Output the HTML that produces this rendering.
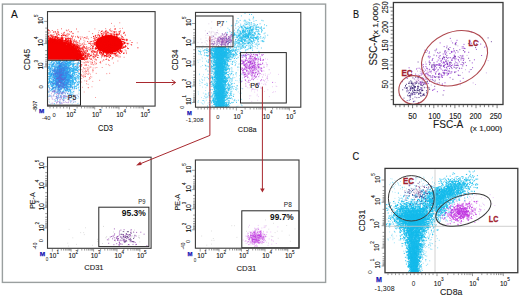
<!DOCTYPE html>
<html><head><meta charset="utf-8"><style>
html,body{margin:0;padding:0;background:#fff;width:520px;height:297px;overflow:hidden}
svg{display:block}
text{font-family:"Liberation Sans", sans-serif}
</style></head><body>
<svg width="520" height="297" viewBox="0 0 520 297">
<rect x="0" y="0" width="520" height="297" fill="#fff"/>
<rect x="2.4" y="4.1" width="323.2" height="278.3" fill="none" stroke="#9a9f9f" stroke-width="1.4"/>
<text x="11.1" y="17.8" font-size="10.7" text-anchor="start" fill="#111" textLength="6.8" lengthAdjust="spacingAndGlyphs" stroke="#111" stroke-width="0.1">A</text>
<path d="M47.5 40.5 A31 19.5 0 0 1 78.5 59.8 L47.5 59.8Z" fill="#f50000"/>
<path stroke="#f50000" stroke-opacity="0.9" stroke-width="1" fill="none" d="M67.1 41.8h1M52.1 42.5h1M58.1 42.2h1M78.4 53.1h1M73.5 52.0h1M54.0 39.9h1M55.5 42.8h1M57.2 41.8h1M72.1 46.3h1M74.2 51.7h1M74.3 52.4h1M74.4 53.1h1M69.6 48.6h1M70.3 45.8h1M68.8 44.5h1M47.7 41.3h1M57.3 42.1h1M65.5 43.6h1M48.0 41.4h1M76.0 54.0h1M76.9 55.5h1M68.8 41.1h1M77.6 59.0h1M83.7 59.0h1M70.1 45.4h1M70.8 47.1h1M51.4 41.5h1M64.2 44.3h1M67.4 47.2h1M67.9 47.6h1M75.0 53.2h1M75.7 54.8h1M65.2 39.1h1M76.1 54.4h1M74.0 49.4h1M55.3 42.4h1M76.3 55.8h1M79.2 51.4h1M54.2 38.0h1M70.6 45.3h1M56.4 37.5h1M65.0 42.9h1M61.5 39.8h1M80.3 57.3h1M68.2 45.5h1M71.6 44.8h1M53.5 41.9h1M72.7 50.2h1M64.5 45.7h1M78.4 58.5h1M77.1 47.3h1M73.2 51.3h1M75.8 56.0h1M56.8 40.6h1M73.2 49.3h1M48.5 41.7h1M66.8 44.1h1M64.2 45.6h1M66.9 41.2h1M65.6 39.9h1M76.5 55.9h1M72.4 47.3h1M75.4 53.4h1M73.3 48.4h1M76.8 57.5h1M49.2 38.6h1M74.9 54.2h1M66.8 38.9h1M77.3 50.7h1M54.1 39.7h1M63.9 42.8h1M77.1 56.4h1M55.4 40.2h1M50.3 40.2h1M52.2 40.7h1M67.7 44.4h1M78.9 55.7h1M76.3 54.7h1M51.3 39.4h1M70.3 43.4h1M77.8 54.7h1M54.4 36.7h1M64.5 43.4h1M67.1 45.0h1M72.9 49.6h1M76.8 46.4h1M78.8 52.5h1M81.0 59.0h1M53.7 40.4h1M72.4 46.2h1M68.2 45.2h1M76.1 50.3h1M58.5 43.4h1M82.9 59.4h1M76.6 48.2h1M86.4 59.1h1M80.2 56.3h1M49.0 41.6h1M62.6 44.4h1M70.4 48.8h1M67.7 46.6h1M53.3 42.1h1M76.2 49.5h1M70.2 41.3h1M61.1 44.5h1M74.3 49.8h1M67.4 47.0h1M58.1 43.0h1M52.1 40.1h1M77.9 55.7h1M50.8 40.3h1M59.4 42.0h1M58.5 37.8h1M85.2 55.1h1M75.1 46.9h1M56.0 42.3h1M65.1 43.5h1M56.9 42.7h1M67.9 46.9h1M60.4 42.7h1M75.1 53.9h1M76.9 54.3h1M74.2 49.5h1M76.6 55.0h1M73.5 50.4h1M50.2 39.1h1M65.3 46.1h1M75.4 49.9h1M74.2 52.7h1M50.0 39.6h1M70.6 48.1h1M48.4 41.0h1M68.2 46.6h1M67.2 47.1h1M52.2 42.3h1M59.2 43.0h1M67.0 44.5h1M73.5 47.3h1M54.0 39.1h1M70.4 49.4h1M51.3 40.5h1M78.0 58.2h1M72.1 47.9h1M67.5 46.9h1M49.9 40.5h1M78.4 52.2h1M57.1 41.2h1M66.2 39.2h1M61.1 42.3h1M68.0 40.7h1M48.8 42.3h1M76.2 49.9h1M72.9 48.8h1M80.1 53.5h1M79.2 58.7h1M81.7 52.8h1M51.5 41.7h1M54.6 42.9h1M80.1 56.6h1M70.3 40.3h1M72.4 45.6h1M64.8 45.6h1M62.8 44.0h1M75.1 51.2h1M49.4 40.7h1M72.1 46.4h1M63.4 45.2h1M65.2 43.1h1M75.1 55.1h1M76.3 58.5h1M78.4 45.6h1M59.2 41.4h1M55.8 42.8h1M59.5 43.5h1M77.4 56.9h1M52.0 39.7h1M56.9 41.9h1M53.6 40.5h1M71.8 43.9h1M51.8 40.0h1M78.3 58.9h1M76.2 59.4h1M75.3 53.0h1M74.0 53.4h1M76.9 54.7h1M67.1 45.1h1M77.1 59.2h1M69.3 42.0h1M79.9 54.9h1M64.7 40.7h1M74.0 51.5h1M50.3 41.8h1M67.5 46.1h1M56.8 41.0h1M62.2 44.7h1M63.9 45.6h1M75.1 54.9h1M70.2 42.2h1M76.6 59.2h1M57.4 41.0h1M49.4 40.9h1M54.2 42.2h1M78.7 58.7h1M75.4 50.0h1M74.4 51.1h1M79.5 56.7h1M66.1 42.7h1M58.0 40.3h1M77.9 50.0h1M53.7 42.4h1M56.7 42.8h1M78.9 56.2h1M59.8 40.1h1M52.9 42.1h1M76.9 54.4h1M66.2 45.4h1M66.9 41.2h1M66.1 43.6h1M75.8 57.6h1M63.9 42.8h1M65.4 43.0h1M55.4 42.8h1M56.4 42.7h1M75.5 50.4h1M60.3 43.0h1M53.6 42.1h1M52.7 41.0h1M82.5 54.6h1M65.8 41.5h1M77.9 53.6h1M69.6 43.3h1M50.4 39.2h1M75.8 48.2h1M74.7 53.1h1M74.0 45.8h1M63.6 43.4h1M81.1 56.9h1M72.4 49.6h1M78.3 56.2h1M62.7 44.0h1M55.3 42.2h1M73.5 49.3h1M75.6 48.6h1M69.9 44.4h1M79.3 53.3h1M79.4 52.1h1M74.8 50.5h1M74.0 45.7h1M76.4 58.0h1M58.8 42.9h1M66.0 45.3h1M76.4 51.0h1M77.4 58.0h1M59.3 41.2h1M81.6 55.8h1M78.2 56.2h1M76.4 56.5h1M79.8 57.7h1M52.4 39.7h1M74.9 52.6h1M82.2 48.9h1M55.7 41.2h1M64.6 44.4h1M78.9 54.3h1M70.3 48.6h1M53.6 39.5h1M73.0 49.6h1M62.2 41.4h1M84.4 56.7h1M60.2 42.9h1M59.1 40.3h1M55.5 42.4h1M62.4 43.6h1M73.9 49.4h1M79.3 58.3h1M68.5 46.3h1M59.6 41.3h1M75.5 54.9h1M76.6 52.2h1M68.3 45.6h1M59.0 42.9h1M52.2 42.3h1M87.5 55.3h1M77.8 54.6h1M58.2 39.6h1M62.7 45.0h1M59.8 43.7h1M47.7 40.4h1M50.6 40.0h1M55.8 39.5h1M57.8 42.6h1M72.8 48.9h1M64.0 43.9h1M77.0 54.8h1M58.9 42.2h1M60.3 40.1h1M60.4 43.0h1M72.9 46.9h1M76.6 47.9h1M70.6 49.0h1M82.4 59.1h1M55.6 39.8h1M70.4 43.8h1M76.6 47.6h1M68.5 44.9h1M61.8 41.0h1M73.2 49.3h1M57.0 38.5h1M51.6 39.8h1M71.3 49.9h1M76.2 56.3h1M58.1 43.4h1M47.8 41.9h1M77.5 55.8h1M60.0 44.1h1M57.1 38.8h1M52.0 37.9h1M76.6 56.7h1M79.6 57.4h1M48.1 41.9h1M79.1 56.6h1M75.2 55.3h1M67.2 44.6h1M74.6 45.9h1M60.2 40.9h1M77.3 54.5h1M51.7 40.8h1M75.1 54.1h1M61.6 36.9h1M79.1 58.2h1M69.2 47.7h1M82.7 59.2h1M73.7 51.4h1M73.6 51.5h1M62.3 40.6h1M73.7 46.0h1M83.7 58.3h1M47.7 42.3h1M52.6 42.0h1M52.2 38.1h1M77.5 52.6h1M80.3 45.6h1M77.1 53.3h1M80.9 56.1h1M78.3 59.3h1M70.6 45.6h1M81.2 56.2h1M80.1 54.5h1M53.9 42.2h1M69.0 47.4h1M78.5 54.5h1M62.5 43.7h1M75.1 52.6h1M69.0 45.6h1M78.3 51.1h1M67.3 47.2h1M64.9 43.7h1M70.3 44.2h1M75.2 47.8h1M57.4 42.1h1M54.7 37.8h1M80.5 54.3h1M82.3 55.5h1M76.3 57.0h1M48.5 41.3h1M50.9 37.0h1M80.2 52.5h1M49.0 40.5h1M78.3 53.7h1M68.1 47.1h1M68.8 47.0h1M52.3 37.9h1M77.4 59.1h1M77.0 50.3h1M67.6 42.9h1M77.3 58.3h1M75.3 53.5h1M73.2 45.8h1M53.6 40.0h1M58.8 42.3h1M55.7 41.5h1M59.0 42.0h1M61.3 42.7h1M54.8 41.3h1M64.9 40.3h1M59.6 43.1h1M74.5 51.6h1M77.4 55.2h1M61.6 38.2h1M76.2 55.5h1M51.5 40.5h1M68.4 42.4h1M80.5 48.5h1M51.5 35.3h1M79.9 55.2h1M70.1 45.4h1M81.0 57.2h1M49.3 39.7h1M65.5 45.9h1M57.7 40.2h1M75.7 51.9h1M57.2 41.4h1M65.3 38.1h1M69.2 38.6h1M50.0 40.5h1M75.8 45.9h1M73.3 47.9h1M63.7 40.9h1M56.6 38.8h1M78.0 49.2h1M61.7 44.7h1M79.4 53.5h1M66.5 46.3h1M61.0 37.9h1M83.2 58.0h1M59.5 43.7h1M49.4 42.0h1M69.0 48.1h1M77.0 46.4h1M62.0 40.9h1M67.0 47.1h1M61.4 40.9h1M79.1 57.6h1M66.5 45.7h1M68.3 44.6h1M51.1 39.1h1M77.2 59.1h1M73.4 46.2h1M63.4 45.0h1M70.6 43.3h1M79.1 58.0h1M65.1 45.4h1M78.0 53.3h1M79.4 53.9h1M53.9 39.4h1M80.7 53.6h1M76.8 44.3h1M59.2 42.5h1M61.5 42.5h1M67.9 45.1h1M56.4 42.3h1M71.3 46.9h1M64.2 44.8h1M55.8 42.3h1M62.6 43.2h1M64.1 43.8h1M71.8 49.0h1M70.5 42.9h1M72.2 49.1h1M61.1 40.2h1M71.6 50.0h1M71.8 46.5h1M58.4 43.4h1M68.9 46.7h1M77.4 49.3h1M56.1 40.9h1M74.4 48.7h1M55.2 40.9h1M59.4 39.0h1M72.1 47.2h1M60.6 43.3h1M82.3 59.1h1M76.2 47.6h1M55.1 38.8h1M66.7 44.7h1M73.5 40.7h1M67.6 38.5h1M64.7 40.8h1M67.6 43.8h1M70.6 49.0h1M75.7 55.0h1M73.5 52.2h1M78.8 50.5h1M72.0 47.9h1M47.5 41.1h1M72.6 50.5h1M73.2 46.6h1M71.6 50.3h1M71.2 41.0h1M50.1 40.5h1M52.6 41.9h1M78.1 47.4h1M78.5 51.6h1M53.7 39.1h1M70.8 45.9h1M62.1 43.2h1M76.1 58.2h1M54.4 40.0h1M74.0 51.4h1M69.4 46.7h1M76.7 54.4h1M72.6 48.0h1M55.9 41.3h1M55.8 41.5h1M71.4 46.5h1M58.1 42.8h1M69.3 48.3h1M75.0 48.8h1M73.7 41.3h1M78.1 54.0h1M72.7 51.7h1M60.5 43.8h1M58.9 41.3h1M79.8 58.5h1M60.9 41.4h1M56.1 42.1h1M70.7 48.0h1M79.1 58.3h1M62.0 43.6h1M74.7 53.3h1M65.5 42.3h1M77.1 47.8h1M64.1 44.0h1M80.8 51.3h1M70.9 46.6h1M71.3 44.1h1M63.7 44.7h1M77.5 54.1h1M49.9 35.0h1M77.9 51.0h1M77.3 50.5h1M80.5 51.5h1M77.7 58.3h1M72.6 48.0h1M59.5 40.2h1M61.3 42.6h1M76.4 54.5h1M79.1 56.0h1M75.1 50.7h1M58.6 41.9h1M68.5 47.6h1M51.0 42.1h1M63.2 43.8h1M67.0 42.2h1M60.8 38.4h1M60.4 40.7h1M74.7 50.0h1M75.2 52.9h1M69.8 48.8h1M69.8 46.8h1M77.1 56.1h1M75.2 45.8h1M64.6 43.4h1M88.0 54.8h1M83.4 55.3h1M79.2 54.7h1M74.7 52.1h1M49.2 42.1h1M82.1 59.4h1M79.9 54.3h1M75.8 55.6h1M73.3 45.4h1M70.3 47.7h1M75.6 55.7h1M75.3 52.4h1M58.8 39.2h1M78.7 54.5h1M65.8 43.5h1M74.9 47.5h1M72.5 48.2h1M55.7 42.8h1M86.3 54.0h1M50.9 42.5h1M53.0 39.7h1M62.7 43.7h1M82.8 58.6h1M64.4 42.1h1M67.0 43.4h1M59.7 39.7h1M74.9 54.3h1M50.1 38.1h1M52.8 41.8h1M79.4 56.7h1M72.9 51.7h1M81.5 59.2h1M56.1 40.4h1M51.3 42.5h1M48.0 42.2h1M64.1 45.3h1M63.1 43.4h1M65.5 39.9h1M65.3 46.3h1M50.0 39.2h1M65.2 44.6h1M74.9 50.2h1M69.2 46.1h1M60.7 42.3h1M60.7 44.3h1M75.9 46.4h1M55.4 39.3h1M59.5 41.6h1M74.0 50.6h1M77.5 58.0h1M80.7 55.9h1M77.6 54.7h1M72.9 52.0h1M76.5 44.8h1M51.1 40.6h1M74.8 52.3h1M52.5 40.6h1M62.1 43.6h1M54.9 40.5h1M70.7 49.6h1M59.7 38.1h1M74.6 53.4h1M76.5 56.1h1M56.9 42.1h1M64.5 40.4h1M75.9 54.1h1M73.7 52.9h1M50.3 42.2h1M78.1 51.7h1M61.6 42.7h1M80.7 56.0h1M56.0 42.5h1M81.3 56.3h1M69.3 45.9h1M78.3 59.2h1M69.1 44.4h1M54.7 41.8h1M77.1 57.8h1M74.3 52.5h1M59.5 40.8h1M69.6 40.6h1M75.9 50.7h1M65.7 43.0h1M72.7 46.6h1M54.4 40.4h1M76.4 51.3h1M58.6 42.9h1M65.1 43.1h1M59.0 43.5h1M72.6 49.6h1M60.8 42.2h1M60.8 44.0h1M76.9 47.4h1M49.3 40.6h1M60.0 44.0h1M78.4 53.8h1M59.7 43.3h1M76.8 51.7h1M71.3 46.7h1M53.9 42.2h1M73.0 46.7h1M75.1 51.9h1M73.5 51.8h1M80.3 57.8h1M77.8 53.5h1M75.5 52.3h1M84.1 53.9h1M77.6 58.4h1M70.4 47.3h1M76.7 53.9h1M59.2 43.4h1M51.3 40.7h1M74.2 52.6h1M70.8 41.9h1M68.1 47.1h1M82.1 57.7h1M76.7 56.7h1M53.1 41.0h1M73.1 45.5h1M56.3 42.9h1M76.2 58.4h1M65.1 45.3h1M55.5 37.0h1M54.2 40.4h1M68.3 46.3h1M72.3 50.1h1M58.4 43.0h1M77.6 58.1h1M78.6 51.6h1M56.9 40.7h1M69.5 47.7h1M69.6 48.3h1M49.0 41.4h1M74.7 50.9h1M79.6 59.0h1M71.0 49.8h1M80.2 55.3h1M80.3 57.6h1M69.6 43.1h1M49.8 40.1h1M66.2 45.2h1M64.3 43.2h1M78.0 49.6h1M70.0 42.6h1M60.4 40.4h1M65.7 45.1h1M56.6 42.4h1M67.5 45.6h1M75.1 54.7h1M70.5 41.5h1M69.5 46.9h1M81.0 54.7h1M65.2 44.0h1M56.1 42.0h1M80.3 55.9h1M70.1 43.9h1M60.9 41.4h1M70.5 49.7h1M75.8 52.3h1M73.3 49.5h1M69.1 44.8h1M62.6 42.6h1M68.3 44.6h1M77.5 57.1h1M58.0 37.8h1M51.5 39.1h1M77.7 57.2h1M77.0 52.6h1M76.4 55.2h1M55.2 40.1h1M51.7 41.6h1M80.5 58.9h1M72.7 51.2h1M79.8 54.0h1M72.6 45.9h1M51.1 42.2h1M82.1 57.9h1M75.7 55.4h1M68.3 47.7h1M69.6 45.3h1M59.1 43.0h1M72.1 47.6h1M80.9 55.6h1M74.1 49.9h1M48.3 41.4h1M58.8 43.0h1M85.0 55.9h1M56.1 42.9h1M75.2 51.1h1M58.2 41.4h1M55.3 36.4h1M77.9 55.3h1M71.2 47.3h1M63.9 42.8h1M73.0 43.9h1M78.0 55.2h1M76.3 56.3h1M76.4 51.6h1M79.9 58.6h1M76.9 53.8h1M85.0 55.4h1M71.4 46.8h1M74.3 49.7h1M65.5 45.4h1M77.3 51.4h1M81.1 59.2h1M78.7 49.0h1M59.3 41.9h1M80.6 51.4h1M74.5 47.8h1M60.0 40.9h1M73.3 48.3h1M53.4 39.5h1M51.6 40.2h1M73.3 51.7h1M61.4 40.4h1M79.5 51.9h1M79.5 55.8h1M71.8 47.7h1M70.0 40.7h1M50.4 42.3h1M78.0 55.8h1M61.5 42.2h1M74.2 44.8h1M77.5 56.3h1M49.0 39.1h1M61.4 43.5h1M81.3 55.9h1M52.0 41.2h1M79.0 57.1h1M80.1 57.3h1M72.8 51.2h1M50.7 39.4h1M77.6 59.3h1M51.6 40.5h1M64.6 44.9h1M76.3 58.4h1M68.5 43.9h1M71.2 47.2h1M69.8 43.1h1M59.7 42.8h1M63.2 42.5h1M47.6 41.1h1M79.5 55.2h1M56.5 41.7h1M73.6 47.9h1M58.4 41.0h1M53.1 39.8h1M48.0 36.5h1M77.6 51.9h1M71.5 47.3h1M50.2 41.6h1M50.4 38.6h1M76.1 48.4h1M50.6 39.3h1M71.7 49.0h1M72.6 49.8h1M61.9 37.8h1M71.0 46.8h1M73.1 46.6h1M74.7 48.4h1M72.0 47.9h1M75.7 56.3h1M82.5 58.2h1M61.3 39.0h1M67.9 44.6h1M62.1 44.1h1M56.5 42.7h1M79.9 52.6h1M76.0 53.4h1M77.3 51.6h1M75.7 51.1h1M59.8 40.8h1M74.0 49.2h1M73.8 51.1h1M67.4 40.9h1M76.1 54.9h1M76.1 57.3h1M65.0 38.9h1M58.7 42.7h1M76.2 51.2h1M64.7 43.5h1M81.1 59.2h1M74.4 47.8h1M68.3 43.6h1M76.1 52.7h1M74.2 50.1h1M64.4 45.2h1M64.7 45.9h1M79.3 55.4h1M61.3 42.8h1M84.6 57.4h1M48.9 41.2h1M76.3 54.3h1M74.9 53.1h1M75.9 54.5h1M48.0 39.0h1M75.5 51.8h1M64.5 45.3h1M48.0 40.6h1M50.2 38.7h1M81.1 58.9h1M68.1 46.5h1M66.7 43.6h1M60.5 44.1h1M76.1 49.8h1M76.2 50.1h1M77.3 59.3h1M69.1 44.4h1M80.2 57.8h1M75.9 54.4h1M76.4 49.8h1M75.9 58.3h1M81.2 59.3h1M51.2 40.2h1M72.0 47.7h1M76.6 54.2h1M60.9 43.2h1M74.8 53.3h1M49.5 39.7h1M52.4 41.2h1M67.0 41.2h1M76.2 57.6h1M76.3 50.4h1M75.4 54.0h1M84.8 59.4h1M76.8 56.6h1M66.1 42.3h1M78.7 57.2h1M76.5 55.7h1M53.3 36.8h1M72.9 51.0h1M75.7 50.1h1M80.1 57.5h1M57.0 42.4h1M62.8 43.0h1M71.2 43.0h1M65.3 43.9h1M78.3 57.2h1M74.9 52.8h1M67.5 43.8h1M49.6 42.4h1M55.9 42.4h1M68.2 39.8h1M68.8 46.1h1M52.7 41.4h1M81.6 58.0h1M81.7 55.9h1M61.3 43.8h1M57.1 40.5h1M58.9 39.7h1M70.8 47.7h1M78.3 54.8h1M77.0 59.3h1M54.2 42.7h1M48.5 42.1h1M74.0 53.6h1M54.5 39.8h1M70.9 49.5h1M73.3 51.7h1M68.3 47.0h1M72.4 47.2h1M76.7 54.3h1M60.0 44.0h1M69.3 46.5h1M53.4 42.4h1M52.5 41.0h1M80.2 49.1h1M78.5 51.1h1M50.4 41.2h1M67.7 47.4h1M85.1 56.7h1M77.3 58.9h1M47.9 42.1h1M65.8 45.5h1M77.2 58.7h1M71.6 44.6h1M67.6 47.5h1M76.7 45.3h1M50.0 40.0h1M50.0 40.5h1M79.7 56.3h1M82.9 54.9h1M71.5 49.0h1M54.9 42.8h1M65.6 43.3h1M61.5 40.8h1M68.1 43.8h1M75.9 54.2h1M57.3 39.4h1M60.7 44.1h1M76.1 54.6h1M70.8 46.9h1M48.7 41.3h1M68.5 45.3h1M78.2 58.6h1M74.9 46.5h1M66.3 40.3h1M76.4 58.7h1M75.5 52.9h1M69.1 44.9h1M71.6 50.0h1M70.7 45.5h1M75.7 51.4h1M62.4 44.7h1M75.6 55.4h1M51.9 41.6h1M49.4 41.7h1M72.7 44.8h1M70.7 47.2h1M54.0 42.0h1M73.7 52.2h1M57.5 40.6h1M77.9 51.0h1M61.7 41.4h1M75.1 50.2h1M68.1 42.3h1M51.5 38.6h1M79.1 58.6h1M57.5 40.1h1M68.1 45.5h1M72.9 49.5h1M77.7 48.7h1M76.0 58.3h1M78.8 51.8h1M66.3 42.7h1M79.6 57.2h1M63.1 43.1h1M49.2 42.2h1M48.4 40.7h1M53.0 40.4h1M56.5 42.3h1M75.1 55.3h1M49.0 40.1h1M81.8 53.2h1"/>
<path stroke="#f50000" stroke-opacity="0.75" stroke-width="0.9" fill="none" d="M69.7 44.0h0.9M57.4 39.1h0.9M73.1 36.1h0.9M67.2 38.2h0.9M88.0 53.8h0.9M69.6 40.8h0.9M77.4 48.5h0.9M95.1 56.7h0.9M87.3 54.9h0.9M73.9 44.6h0.9M83.6 50.3h0.9M63.0 35.0h0.9M85.4 55.6h0.9M47.7 38.3h0.9M78.7 49.7h0.9M71.3 44.8h0.9M84.1 52.4h0.9M77.1 53.9h0.9M77.3 46.5h0.9M57.7 41.5h0.9M83.1 58.9h0.9M58.1 34.6h0.9M48.0 39.7h0.9M69.5 43.5h0.9M75.9 48.9h0.9M83.8 51.5h0.9M82.6 53.7h0.9M96.8 43.0h0.9M55.4 39.4h0.9M59.0 39.5h0.9M76.1 29.0h0.9M85.5 57.6h0.9M65.8 34.3h0.9M64.0 41.8h0.9M81.8 48.7h0.9M54.7 39.8h0.9M78.4 53.6h0.9M76.3 45.9h0.9M78.5 56.7h0.9M71.2 36.3h0.9M80.5 57.4h0.9M84.9 53.4h0.9M65.9 30.2h0.9M74.5 43.2h0.9M64.6 41.9h0.9M65.0 35.5h0.9M71.5 39.0h0.9M93.2 51.0h0.9M66.7 36.7h0.9M79.2 56.6h0.9M78.2 51.5h0.9M72.5 46.9h0.9M81.0 56.4h0.9M80.1 56.8h0.9M67.8 39.3h0.9M68.2 29.9h0.9M79.1 47.1h0.9M89.8 41.5h0.9M77.5 53.9h0.9M68.7 46.0h0.9M77.0 36.3h0.9M51.5 36.5h0.9M87.3 58.7h0.9M52.1 40.3h0.9M48.2 30.0h0.9M90.4 43.9h0.9M65.6 35.5h0.9M58.8 35.1h0.9M66.0 41.2h0.9M79.2 50.5h0.9M70.1 39.1h0.9M54.9 36.6h0.9M84.0 56.3h0.9M76.3 43.3h0.9M86.2 59.4h0.9M55.2 40.7h0.9M63.1 33.1h0.9M89.1 58.4h0.9M61.8 38.9h0.9M62.3 42.6h0.9M81.7 55.9h0.9M81.7 37.0h0.9M65.8 38.6h0.9M79.2 48.6h0.9M69.5 46.2h0.9M48.9 37.0h0.9M69.5 38.8h0.9M69.8 46.2h0.9M78.5 58.2h0.9M78.1 56.5h0.9M56.4 36.9h0.9M61.6 39.5h0.9M58.4 34.4h0.9M69.5 42.5h0.9M67.6 44.1h0.9M68.6 45.6h0.9M62.2 39.4h0.9M83.4 47.3h0.9M76.4 42.3h0.9M73.3 45.5h0.9M67.8 38.6h0.9M77.9 53.5h0.9M91.3 59.2h0.9M78.5 57.5h0.9M97.7 51.1h0.9M57.4 32.8h0.9M61.3 42.0h0.9M63.9 35.3h0.9M72.8 46.9h0.9M87.0 56.2h0.9M86.6 38.2h0.9M55.2 38.1h0.9M80.3 39.0h0.9M67.5 41.0h0.9M76.7 48.0h0.9M96.7 52.8h0.9M70.6 38.4h0.9M86.6 36.8h0.9M74.6 50.0h0.9M79.2 51.7h0.9M63.7 40.6h0.9M93.9 44.3h0.9M69.4 42.8h0.9M91.7 48.2h0.9M66.6 30.8h0.9M83.2 45.2h0.9M74.4 44.4h0.9M62.7 40.1h0.9M60.7 41.3h0.9M83.9 46.7h0.9M56.5 38.1h0.9M78.0 47.0h0.9M48.2 36.2h0.9M53.4 37.8h0.9M72.7 33.6h0.9M61.0 28.8h0.9M70.2 43.8h0.9M62.7 38.9h0.9M81.3 56.0h0.9M48.3 30.7h0.9M61.3 33.4h0.9M82.7 55.2h0.9M81.2 51.8h0.9M67.1 44.6h0.9M63.0 35.4h0.9M82.4 55.0h0.9M49.7 37.6h0.9M79.3 48.2h0.9M47.8 33.8h0.9M60.1 40.8h0.9M76.9 42.6h0.9M82.8 46.0h0.9M82.7 56.9h0.9M78.4 57.6h0.9M72.1 36.8h0.9M58.7 41.3h0.9M53.1 36.1h0.9M79.6 47.2h0.9M50.7 40.1h0.9M82.6 49.1h0.9M51.3 34.9h0.9M52.4 36.3h0.9M83.5 54.6h0.9M56.8 33.9h0.9M62.8 41.1h0.9M62.9 41.1h0.9M55.5 40.6h0.9M73.2 42.1h0.9M72.3 44.3h0.9M74.9 49.1h0.9M57.3 31.6h0.9M54.7 31.5h0.9M80.1 55.0h0.9M64.1 32.3h0.9M76.0 52.0h0.9M80.9 54.0h0.9M85.6 52.6h0.9M68.6 43.5h0.9M97.9 45.3h0.9M78.6 52.4h0.9M90.2 56.1h0.9M86.2 46.6h0.9M59.7 39.5h0.9M92.2 33.6h0.9M71.6 39.2h0.9M86.8 58.3h0.9M82.6 49.3h0.9M53.5 34.7h0.9M47.9 29.9h0.9M54.8 41.0h0.9M86.7 53.5h0.9M61.5 37.6h0.9M73.8 46.1h0.9M87.8 53.3h0.9M73.0 45.2h0.9M52.9 32.4h0.9M54.1 38.8h0.9M74.3 48.3h0.9M86.7 57.8h0.9M53.0 38.2h0.9M48.3 38.2h0.9M80.2 38.9h0.9M87.2 51.0h0.9M79.7 37.0h0.9M68.9 34.3h0.9M71.7 45.9h0.9M79.2 47.9h0.9M82.2 51.3h0.9M86.4 47.9h0.9M81.7 58.6h0.9M77.4 52.3h0.9M50.4 35.7h0.9M65.3 35.7h0.9M60.9 35.7h0.9M81.5 44.4h0.9M68.2 42.6h0.9M82.5 52.3h0.9M65.0 41.1h0.9M61.7 42.1h0.9M63.5 37.5h0.9M78.9 41.0h0.9M49.0 40.0h0.9M54.3 40.2h0.9M73.9 39.4h0.9M63.4 41.9h0.9M76.0 52.0h0.9M50.6 38.2h0.9M66.0 41.5h0.9M55.0 32.0h0.9M75.9 51.6h0.9M48.5 38.0h0.9M80.9 56.7h0.9M75.8 40.7h0.9M90.1 55.5h0.9M91.9 51.7h0.9M59.6 40.6h0.9M83.0 57.9h0.9M90.9 41.5h0.9M83.1 53.3h0.9M56.8 35.8h0.9M86.4 57.1h0.9M81.7 47.7h0.9M57.8 31.9h0.9M62.9 41.0h0.9M48.0 36.2h0.9M84.2 59.4h0.9M72.4 33.3h0.9M60.7 40.6h0.9M64.2 35.0h0.9M65.5 36.7h0.9M92.5 57.0h0.9M92.7 56.5h0.9M63.6 33.1h0.9M68.2 41.6h0.9M78.0 51.8h0.9M72.9 42.5h0.9M93.8 56.1h0.9M62.0 38.3h0.9M78.6 48.6h0.9M57.9 39.3h0.9M88.8 56.3h0.9M73.3 44.3h0.9M85.7 56.5h0.9M62.0 34.8h0.9M70.6 42.7h0.9M97.3 48.2h0.9M49.6 37.5h0.9M63.0 42.4h0.9M82.2 47.5h0.9M56.7 35.2h0.9M78.4 47.0h0.9M51.8 30.5h0.9M79.8 50.0h0.9M48.6 33.1h0.9M86.7 57.8h0.9M62.3 39.2h0.9M78.0 50.8h0.9M78.4 45.0h0.9M86.3 58.5h0.9M83.6 51.9h0.9M87.1 56.1h0.9M62.4 38.6h0.9M86.9 51.3h0.9M73.3 44.1h0.9M84.2 47.2h0.9M82.7 51.6h0.9M50.9 39.5h0.9M76.3 41.7h0.9M71.3 35.8h0.9M67.6 35.0h0.9M57.4 38.7h0.9M76.4 52.3h0.9M88.7 57.0h0.9M78.5 42.7h0.9M80.8 54.5h0.9M53.3 31.7h0.9M77.6 31.8h0.9M81.9 43.8h0.9M79.9 55.8h0.9M63.2 35.1h0.9M70.9 43.9h0.9M95.8 51.7h0.9M48.6 35.7h0.9M50.5 36.0h0.9M51.1 40.4h0.9M57.2 38.4h0.9M74.8 41.3h0.9M84.6 48.3h0.9M65.1 42.0h0.9M82.6 54.9h0.9M70.0 39.7h0.9M83.0 57.9h0.9M69.3 31.6h0.9M79.3 48.3h0.9M71.0 31.5h0.9M61.8 35.3h0.9M57.0 37.6h0.9M72.1 37.8h0.9M58.2 32.9h0.9M64.2 42.6h0.9M51.8 36.5h0.9M54.6 32.9h0.9M90.5 58.4h0.9M83.2 50.2h0.9M74.0 48.6h0.9M79.7 51.8h0.9M83.2 53.9h0.9M57.3 29.8h0.9M95.0 59.1h0.9M82.8 53.7h0.9M60.5 39.6h0.9M86.5 51.3h0.9M91.9 48.2h0.9M49.8 32.0h0.9M60.8 38.8h0.9M73.8 46.2h0.9M89.1 54.6h0.9M80.7 50.9h0.9M48.9 30.7h0.9M58.6 39.8h0.9M84.3 57.7h0.9M67.4 35.0h0.9M77.2 47.7h0.9M60.9 42.3h0.9M80.8 49.8h0.9M93.4 54.3h0.9M90.5 59.4h0.9M79.6 50.1h0.9M54.7 39.8h0.9M53.4 38.8h0.9M65.0 40.0h0.9M60.3 40.9h0.9M79.2 54.0h0.9M82.6 46.5h0.9M48.3 37.4h0.9M78.8 43.8h0.9M60.5 38.0h0.9M51.0 39.1h0.9M47.7 32.7h0.9M85.4 48.3h0.9M64.1 43.0h0.9M73.8 48.6h0.9M75.6 44.4h0.9M74.5 45.2h0.9M77.6 51.4h0.9M58.8 41.8h0.9M70.6 32.2h0.9M56.9 37.2h0.9M89.2 53.8h0.9M89.5 49.9h0.9M75.0 36.8h0.9M51.4 35.6h0.9M85.6 38.3h0.9M78.1 54.0h0.9M67.5 43.3h0.9M49.7 39.3h0.9M55.1 37.4h0.9M52.5 40.7h0.9M73.7 47.8h0.9M87.9 49.1h0.9M55.3 36.6h0.9M61.1 35.5h0.9M56.5 36.3h0.9M78.7 46.4h0.9M85.5 48.7h0.9M86.5 50.5h0.9M56.0 34.3h0.9M52.0 37.8h0.9M88.6 43.4h0.9M56.1 33.3h0.9M74.9 48.5h0.9M73.3 46.5h0.9M77.3 37.2h0.9M83.5 52.0h0.9M86.3 49.3h0.9M80.2 51.1h0.9M82.7 50.7h0.9M75.0 42.1h0.9M88.1 56.2h0.9M61.4 35.9h0.9M85.1 53.6h0.9M71.7 47.5h0.9M69.7 38.1h0.9M84.3 55.1h0.9M78.4 45.7h0.9M72.5 41.0h0.9M78.0 37.8h0.9"/>
<ellipse cx="109" cy="44" rx="13.4" ry="9.0" fill="#f50000"/>
<path stroke="#f50000" stroke-opacity="0.9" stroke-width="1" fill="none" d="M100.9 31.5h1M98.8 39.4h1M108.0 47.6h1M108.0 41.0h1M110.1 39.7h1M108.7 41.3h1M127.8 48.6h1M103.2 39.5h1M105.9 36.3h1M103.9 40.8h1M115.2 42.4h1M103.5 37.8h1M100.8 44.2h1M107.5 50.2h1M104.6 49.8h1M110.8 44.5h1M94.9 38.0h1M114.2 51.5h1M110.4 48.3h1M106.1 42.6h1M104.4 49.4h1M111.4 43.3h1M106.7 47.3h1M111.3 40.3h1M121.0 45.8h1M109.1 51.9h1M116.2 44.1h1M112.8 39.2h1M104.5 33.2h1M117.5 35.0h1M113.8 40.3h1M102.1 43.5h1M110.9 47.6h1M121.4 46.3h1M115.2 41.5h1M114.0 45.3h1M105.8 44.0h1M108.6 45.5h1M111.8 42.0h1M103.8 48.2h1M97.1 41.4h1M119.9 31.0h1M104.1 47.9h1M97.4 57.5h1M90.9 51.7h1M119.9 49.1h1M107.4 46.3h1M102.7 48.5h1M101.2 43.1h1M116.0 38.9h1M106.5 45.3h1M99.6 50.3h1M111.4 36.9h1M108.7 40.6h1M104.4 44.9h1M104.0 49.3h1M104.1 49.4h1M108.7 48.8h1M105.2 42.0h1M100.9 47.4h1M115.6 55.1h1M118.0 45.7h1M107.5 46.4h1M108.8 51.8h1M115.6 40.3h1M104.2 51.3h1M111.2 43.3h1M117.3 42.6h1M107.0 42.2h1M95.3 48.8h1M100.5 41.7h1M103.8 48.1h1M108.5 44.6h1M97.2 44.1h1M98.7 46.0h1M111.6 44.4h1M123.3 47.1h1M113.2 45.2h1M107.7 49.3h1M116.7 38.0h1M116.4 47.1h1M115.7 46.8h1M100.3 38.6h1M121.8 45.8h1M99.1 46.2h1M106.5 35.3h1M93.0 36.5h1M110.9 44.3h1M107.3 45.9h1M113.2 34.0h1M106.9 40.4h1M100.4 41.8h1M108.1 43.2h1M98.8 42.1h1M123.1 39.2h1M97.2 45.9h1M113.2 46.8h1M101.2 49.5h1M103.5 38.8h1M104.7 44.0h1M114.0 47.6h1M108.8 49.2h1M109.6 49.0h1M99.2 36.6h1M114.4 37.5h1M106.9 44.0h1M105.6 42.2h1M118.7 31.9h1M115.2 56.0h1M109.2 44.4h1M114.1 53.6h1M100.7 44.9h1M107.7 47.3h1M110.1 47.8h1M106.0 44.7h1M104.3 41.2h1M108.0 43.8h1M100.8 52.4h1M108.1 37.6h1M116.7 40.8h1M112.6 44.4h1M110.8 45.4h1M105.0 44.7h1M123.2 33.3h1M109.5 46.7h1M101.6 37.6h1M124.1 42.6h1M123.6 47.2h1M109.5 46.9h1M113.4 50.4h1M112.1 45.2h1M110.2 51.3h1M114.7 39.5h1M104.6 46.2h1M104.6 42.6h1M102.3 43.2h1M112.0 49.5h1M109.1 54.9h1M108.5 60.5h1M116.0 47.0h1M105.5 30.4h1M107.9 45.4h1M122.5 37.6h1M122.3 43.2h1M114.1 31.8h1M110.0 42.8h1M113.8 45.0h1M101.0 49.2h1M113.9 47.5h1M116.1 50.0h1M108.8 37.7h1M99.3 51.2h1M114.0 45.0h1M106.0 44.7h1M109.2 42.8h1M104.1 55.3h1M110.6 41.5h1M99.9 40.9h1M114.0 48.3h1M107.5 44.8h1M106.9 39.0h1M118.1 46.4h1M126.3 40.7h1M108.0 48.9h1M107.3 37.6h1M102.4 45.0h1M111.4 44.0h1M116.0 49.5h1M111.3 44.6h1M107.2 47.3h1M115.4 44.8h1M112.1 42.9h1M99.1 39.5h1M114.4 46.7h1M120.1 44.8h1M115.1 51.1h1M116.0 41.5h1M107.7 45.1h1M102.1 46.9h1M116.2 42.1h1M122.8 43.0h1M107.6 43.3h1M104.0 46.6h1M109.1 52.8h1M113.3 47.2h1M107.4 37.4h1M108.4 40.2h1M115.7 44.3h1M120.7 48.2h1M114.8 45.7h1M110.5 47.8h1M115.5 40.9h1M112.4 57.6h1M108.4 43.2h1M104.2 37.3h1M117.3 44.8h1M111.1 53.7h1M126.6 40.1h1M116.4 47.6h1M111.8 46.9h1M108.8 52.5h1M113.3 46.2h1M117.7 49.0h1M112.2 46.1h1M121.3 47.1h1M108.4 40.2h1M106.6 39.3h1M109.8 45.8h1M94.7 44.6h1M113.6 45.3h1M102.3 50.9h1M104.1 38.4h1M101.5 44.4h1M115.9 50.3h1M110.5 38.5h1M104.4 40.0h1M107.8 35.6h1M109.8 47.7h1M108.0 46.8h1M102.4 37.2h1M104.5 50.3h1M116.2 42.2h1M117.4 42.9h1M119.6 46.9h1M105.8 48.5h1M103.6 39.8h1M98.8 45.8h1M108.6 44.1h1M106.1 51.7h1M106.0 40.9h1M117.7 51.6h1M111.4 35.8h1M104.8 47.6h1M109.1 52.3h1M99.4 47.9h1M104.6 51.1h1M108.5 49.7h1M104.5 37.5h1M101.2 41.5h1M101.8 50.5h1M118.4 45.9h1M101.8 43.9h1M104.2 51.8h1M111.2 46.9h1M106.2 34.4h1M103.6 38.9h1M111.6 45.0h1M103.4 42.6h1M120.0 39.7h1M102.6 43.4h1M104.1 42.4h1M112.7 53.2h1M96.5 44.4h1M109.3 44.1h1M107.7 42.8h1M116.0 42.2h1M108.1 44.5h1M109.8 43.6h1M116.0 44.5h1M110.2 44.2h1M102.0 40.4h1M101.6 45.5h1M104.0 39.2h1M110.7 47.1h1M96.7 52.9h1M109.2 44.0h1M116.5 44.8h1M104.8 55.5h1M101.5 44.0h1M114.9 39.2h1M108.3 46.4h1M125.8 40.0h1M108.7 47.8h1M109.6 38.5h1M111.9 45.0h1M112.1 50.2h1M116.1 46.5h1M111.2 39.0h1M108.1 45.6h1M106.2 45.0h1M103.2 52.2h1M124.1 42.6h1M111.8 43.3h1M117.8 46.7h1M109.5 43.4h1M109.9 39.5h1M113.7 40.9h1M112.7 45.1h1M116.7 44.4h1M116.2 39.9h1M113.3 43.4h1M110.4 44.9h1M115.6 34.4h1M111.3 37.0h1M117.4 34.6h1M102.0 36.1h1M120.5 38.1h1M109.8 41.8h1M96.4 42.8h1M113.6 43.6h1M115.6 42.7h1M109.0 42.6h1M111.4 54.0h1M111.5 45.5h1M104.7 40.7h1M119.2 38.9h1M102.6 44.0h1M106.0 54.3h1M92.4 46.3h1M114.0 38.9h1M104.5 46.7h1M120.4 39.9h1M97.9 49.4h1M119.7 42.8h1M93.5 51.8h1M107.6 50.1h1M108.7 42.6h1M105.8 51.9h1M119.0 33.8h1M102.4 53.4h1M106.4 37.7h1M109.0 44.0h1M108.3 42.1h1M106.8 42.2h1M111.3 40.4h1M107.0 43.8h1M118.1 46.4h1M108.2 47.2h1M111.8 49.9h1M112.5 53.5h1M118.4 44.3h1M106.1 48.9h1M112.6 44.0h1M98.7 35.3h1M111.4 48.4h1M114.6 38.1h1M116.3 41.8h1M111.7 46.6h1M103.4 41.5h1M94.5 39.9h1M96.4 46.7h1M109.4 49.1h1M111.5 41.3h1M111.4 42.5h1M113.3 46.1h1M102.1 44.5h1M109.4 43.0h1M115.3 53.1h1M106.4 42.7h1M93.3 43.9h1M105.9 33.7h1M111.0 47.5h1M103.9 42.6h1M102.2 48.3h1M98.4 42.9h1M122.7 44.8h1M112.3 43.8h1M100.8 44.3h1M111.8 39.4h1M111.4 50.7h1M116.5 36.6h1M102.2 36.4h1M116.5 47.6h1M113.9 40.1h1M100.8 44.9h1M109.7 40.2h1M110.0 47.7h1M110.6 39.3h1M94.2 43.2h1M110.2 43.2h1M106.0 41.0h1M114.0 44.2h1M109.9 39.6h1M104.7 45.3h1M102.0 38.2h1M106.7 50.5h1M110.3 51.8h1M108.1 42.9h1M99.3 41.6h1M119.0 46.1h1M114.1 48.0h1M108.9 43.5h1M109.8 47.9h1M112.2 47.0h1M110.1 40.7h1M107.2 39.8h1M116.0 34.0h1M107.5 56.4h1M106.6 38.8h1M108.9 50.9h1M107.9 47.6h1M109.7 42.6h1M131.1 44.9h1M105.2 42.1h1M111.7 46.5h1M114.4 45.2h1M99.0 47.2h1M106.8 43.1h1M98.6 41.6h1M103.9 44.3h1M98.8 44.8h1M109.9 38.9h1M104.6 40.2h1M115.4 31.9h1M106.6 36.2h1M106.0 48.7h1M104.6 45.2h1M103.1 54.2h1M115.4 50.1h1M99.7 39.0h1M116.6 43.5h1M107.2 46.2h1M100.2 48.4h1M109.1 46.9h1M104.3 47.1h1M104.1 49.3h1M116.9 49.1h1M112.6 47.7h1M90.1 48.7h1M107.1 45.0h1M107.0 37.5h1M105.2 47.8h1M118.9 41.4h1M102.7 51.8h1M102.8 54.9h1M109.4 40.1h1M115.9 53.0h1M99.0 52.3h1M107.0 51.9h1M106.3 36.6h1M112.5 49.1h1M123.7 53.1h1M113.9 43.3h1M105.4 43.0h1M103.2 43.1h1M91.2 45.4h1M108.8 57.3h1M114.3 42.1h1M113.0 38.4h1M104.8 35.2h1M119.1 47.5h1M100.8 44.2h1M115.6 47.0h1M111.7 40.2h1M104.5 45.0h1M115.4 40.4h1M101.2 50.2h1M102.5 49.9h1M110.7 48.9h1M121.2 47.9h1M114.4 39.9h1M104.1 47.7h1M119.7 51.5h1M125.2 46.1h1M110.4 49.5h1M109.1 44.2h1M101.7 49.5h1M101.5 47.1h1M99.1 50.0h1M101.8 48.7h1M97.9 42.3h1M117.2 40.5h1M109.5 42.1h1M92.8 46.0h1M112.0 39.0h1M113.0 40.5h1M102.0 44.5h1M104.2 56.0h1M98.1 48.2h1M115.9 34.6h1M96.9 47.3h1M105.6 46.4h1M117.0 42.6h1M101.6 30.9h1M110.4 39.9h1M111.2 45.7h1M99.3 53.1h1M116.6 48.7h1M100.7 42.5h1M105.2 42.4h1M101.1 46.7h1M110.6 46.3h1M105.5 51.0h1M110.3 30.8h1M104.5 44.2h1M115.8 43.0h1M107.2 41.2h1M113.7 42.3h1M104.8 40.8h1M112.9 41.8h1M97.3 47.6h1M104.1 46.3h1M111.6 50.5h1M116.3 41.6h1M107.8 38.0h1M120.7 46.7h1M118.8 42.9h1M94.7 52.2h1M109.7 45.2h1M109.4 47.7h1M112.7 36.5h1M116.6 41.9h1M105.7 53.1h1M115.4 42.8h1M96.0 45.3h1M112.8 44.1h1M100.3 40.5h1M100.2 45.6h1M114.7 49.6h1M103.9 45.7h1M112.9 41.9h1M108.0 55.1h1M110.4 48.9h1M106.0 44.7h1M97.0 44.4h1M117.3 55.0h1M117.4 47.9h1M109.4 41.5h1M107.9 47.6h1M103.5 49.2h1M102.1 35.6h1M101.9 36.2h1M99.4 50.2h1M107.6 45.6h1M117.1 50.8h1M105.5 51.1h1M111.7 44.5h1M112.1 37.4h1M103.5 44.0h1M113.3 42.6h1M108.1 49.3h1M118.9 48.3h1M117.9 42.5h1M106.9 46.1h1M106.9 42.0h1M120.6 43.5h1M102.2 46.9h1M121.9 44.9h1M117.6 42.3h1M105.6 41.1h1M108.0 53.7h1M100.9 52.7h1M101.9 43.3h1M114.9 47.7h1M111.0 36.3h1M111.5 39.4h1M127.0 43.4h1M110.3 38.8h1M105.6 38.0h1M115.9 43.2h1M112.9 41.1h1M105.5 50.9h1M102.2 35.5h1M111.8 38.8h1M105.9 49.1h1M103.3 48.9h1M104.2 52.0h1M118.3 42.1h1M107.5 40.3h1M110.4 50.2h1M98.9 49.1h1M99.7 40.2h1M96.5 55.0h1M109.4 45.7h1M104.3 49.8h1M94.3 44.6h1M124.4 42.6h1M109.1 47.9h1M103.3 44.6h1M115.7 45.5h1M111.6 42.8h1M111.2 44.8h1M119.2 48.1h1M107.3 32.3h1M114.0 48.3h1M102.6 34.5h1M101.0 49.1h1M101.5 42.2h1M110.5 50.6h1M108.9 44.0h1M105.2 52.7h1M116.5 44.0h1M99.2 40.5h1M113.1 40.9h1M115.2 46.3h1M111.0 47.8h1M112.5 40.2h1M106.7 56.2h1M100.5 42.1h1M116.5 43.7h1M103.3 37.9h1M112.8 49.6h1M118.8 44.8h1M116.3 39.3h1M110.2 41.1h1M110.2 48.3h1M116.5 39.6h1M117.9 42.1h1M101.8 43.6h1M98.8 44.5h1M111.0 43.5h1M112.8 42.9h1M109.0 37.3h1M109.3 40.2h1M105.9 44.0h1M110.3 36.3h1M98.1 43.0h1M112.3 46.3h1M115.2 51.0h1M112.5 44.4h1M101.8 39.8h1M105.7 45.8h1M110.5 44.5h1M107.9 47.7h1M110.5 46.0h1M111.2 41.8h1M101.8 47.0h1M111.9 43.4h1M106.1 55.9h1M103.7 43.4h1M110.9 38.7h1M109.8 53.5h1M115.5 47.7h1M113.1 45.1h1M115.7 43.7h1M106.0 45.0h1M115.3 46.2h1M113.7 34.4h1M117.4 56.2h1M118.3 42.9h1M103.1 45.9h1M102.1 48.1h1M105.3 49.3h1M118.5 34.3h1M111.0 41.0h1M99.1 41.4h1M107.5 49.7h1M98.4 49.8h1M123.1 47.5h1M112.8 44.4h1M100.8 47.2h1M111.7 48.2h1M127.0 48.1h1M112.0 52.3h1M99.6 38.8h1M106.4 41.2h1M113.9 42.9h1M121.2 52.1h1M114.4 42.6h1M113.3 48.6h1M101.5 46.2h1M113.9 45.6h1M120.0 50.6h1M103.2 45.1h1M103.2 47.4h1M102.9 49.1h1M111.7 49.4h1M108.0 37.2h1M121.4 43.6h1M118.6 46.7h1M113.7 53.6h1M111.4 51.5h1M98.6 48.9h1M107.3 43.8h1M109.1 46.2h1M120.6 35.2h1M109.3 40.9h1M117.2 42.4h1M112.2 42.5h1M113.7 49.6h1M106.2 44.7h1M99.1 46.0h1M115.0 41.7h1M116.8 34.1h1M96.0 37.6h1M105.6 44.6h1M108.4 44.2h1M114.1 42.1h1M100.2 38.3h1M123.8 32.7h1M107.8 51.8h1M112.4 40.4h1M109.0 48.8h1M117.5 40.0h1M114.3 45.8h1M116.7 51.5h1M106.6 37.3h1M111.8 53.4h1M113.8 45.7h1M125.8 39.3h1M115.3 41.6h1M109.3 44.9h1M119.6 39.8h1M105.3 36.5h1M112.4 42.2h1M112.0 39.1h1M106.5 49.7h1M107.8 47.6h1M112.7 42.7h1M98.1 49.4h1M110.2 49.4h1M94.9 36.2h1M94.0 40.1h1M116.3 47.3h1M108.8 45.2h1M114.3 43.0h1M111.8 45.2h1M93.7 42.6h1M118.5 42.5h1M108.0 41.5h1M105.6 50.1h1M107.1 39.4h1M87.2 41.6h1M95.2 35.4h1M114.6 48.0h1M95.6 48.8h1M112.2 40.6h1M114.1 36.4h1M100.6 37.3h1M101.2 48.9h1M99.7 38.7h1M102.3 45.5h1M106.6 48.8h1M104.0 38.1h1M105.5 44.7h1M102.5 45.9h1M121.7 41.6h1M109.3 51.2h1M104.4 40.2h1M101.3 46.4h1M112.5 43.7h1M109.2 50.8h1M114.9 37.4h1M108.8 44.9h1M113.9 43.3h1M104.3 42.1h1M96.4 44.2h1M104.6 46.7h1M101.6 42.2h1M101.9 39.0h1M113.7 42.0h1M111.9 38.7h1M109.4 35.9h1M105.4 41.8h1M112.8 45.2h1M107.5 48.5h1M110.0 47.0h1M114.1 44.0h1M106.6 45.9h1M105.8 46.2h1M116.4 48.5h1M106.0 37.9h1M108.3 43.6h1M116.4 42.4h1M107.2 47.9h1M105.3 43.5h1M120.7 51.7h1M113.1 45.6h1M101.9 47.1h1M109.1 45.4h1M105.0 44.2h1M107.4 45.8h1M118.6 46.1h1M97.1 39.4h1M97.6 40.3h1M112.6 46.3h1M104.5 45.6h1M103.4 37.2h1M98.8 40.0h1M118.6 37.6h1M117.3 50.9h1M107.4 44.0h1M104.4 44.1h1M113.3 44.3h1M115.6 50.2h1M111.0 45.9h1M108.2 46.0h1M100.9 46.3h1M110.1 39.9h1M123.7 39.4h1M102.6 45.6h1M95.1 40.3h1M98.0 39.4h1M107.7 45.8h1M116.3 48.3h1M116.9 47.2h1M105.4 49.8h1M105.2 41.2h1M119.3 48.2h1M110.2 48.0h1M114.8 37.4h1M108.0 38.3h1M109.5 40.9h1M118.1 46.8h1M102.9 44.1h1M100.1 44.4h1M112.4 45.5h1M95.1 42.5h1M112.2 45.7h1M116.7 37.8h1M112.3 41.0h1M110.0 46.2h1M113.4 41.3h1M109.9 38.4h1M98.7 47.0h1M108.2 36.1h1M102.7 44.3h1M119.5 49.4h1M114.2 35.3h1M107.9 46.6h1M111.3 46.3h1M107.0 53.0h1M118.9 43.7h1M101.7 54.5h1M104.7 50.2h1M122.0 39.5h1M110.6 42.5h1M112.2 45.8h1M122.2 47.2h1M108.5 49.8h1M106.7 42.4h1M124.3 40.1h1M105.2 44.4h1M101.2 33.7h1M116.0 40.3h1M104.8 42.3h1M101.7 38.8h1M109.7 56.2h1M113.7 47.9h1M98.1 44.1h1M100.3 48.1h1M107.0 44.4h1M108.0 41.3h1M97.9 47.1h1M98.9 38.3h1M106.5 40.7h1M110.4 49.3h1M110.3 45.2h1M108.8 48.5h1M95.7 46.0h1M102.1 38.0h1M108.6 42.3h1M112.7 49.7h1M92.3 43.8h1M122.3 48.5h1M118.7 44.7h1M98.5 38.6h1M113.6 49.0h1M103.5 42.9h1M110.4 35.5h1M106.1 52.3h1M123.9 43.7h1M121.4 41.6h1M102.9 33.0h1M115.3 42.3h1M125.0 45.9h1M109.9 35.2h1M119.1 42.4h1M107.5 33.2h1M115.1 49.2h1M104.4 44.7h1M111.3 49.0h1M109.3 52.8h1M106.9 41.2h1M105.3 31.5h1M103.0 49.3h1M110.5 40.1h1M111.1 34.1h1M106.6 46.8h1M113.5 40.4h1M115.0 53.6h1M105.6 47.9h1M97.7 34.4h1M112.9 44.4h1M110.0 41.3h1M106.6 48.3h1M120.7 43.2h1M97.1 50.6h1M112.9 47.7h1M109.9 55.9h1M109.2 46.8h1M95.7 41.3h1M103.8 44.1h1M111.1 40.5h1M120.8 38.9h1M105.5 45.4h1M99.9 47.1h1M113.1 42.8h1M122.0 44.7h1M110.6 39.4h1M96.9 41.1h1M106.4 42.0h1M114.0 32.3h1M100.7 35.1h1M118.0 41.4h1M105.0 38.7h1M114.9 42.2h1M110.2 34.1h1M116.8 46.2h1M112.5 50.4h1M107.3 43.4h1M113.7 46.4h1M106.9 44.5h1M105.1 47.8h1M115.2 44.3h1M121.8 36.6h1M107.0 52.8h1M105.7 36.2h1M118.4 47.0h1M100.3 48.1h1M101.5 37.5h1M107.6 41.9h1M101.0 42.4h1M101.6 44.6h1M108.5 48.0h1M105.5 37.6h1M99.4 43.0h1M119.4 48.5h1M104.2 49.0h1M100.5 49.3h1M106.0 48.1h1M113.0 42.9h1M111.0 38.9h1M108.2 49.7h1M137.4 47.8h1M109.3 39.2h1M116.1 36.0h1M103.0 46.1h1M100.2 52.0h1M116.3 41.4h1M104.8 37.7h1M98.8 46.5h1M113.1 46.0h1M110.5 41.5h1M111.2 36.9h1M108.7 51.7h1M118.0 41.9h1M106.3 51.2h1M121.2 36.8h1M105.7 45.4h1M117.2 40.1h1M113.2 42.8h1M125.4 46.4h1M107.7 42.6h1M116.1 47.7h1M101.1 45.4h1M99.3 40.5h1M99.6 37.6h1M103.9 39.4h1M112.4 48.3h1M107.0 38.7h1M114.3 34.1h1M95.1 47.9h1M113.3 49.2h1M107.2 37.9h1M105.1 47.1h1M103.3 40.8h1M98.9 38.4h1M114.6 46.6h1M100.5 38.9h1M104.7 47.0h1M100.5 43.4h1M93.6 38.0h1M111.6 48.8h1M100.6 40.4h1M114.3 42.3h1M104.9 46.9h1M110.1 49.9h1M114.3 41.4h1M107.9 44.0h1M99.2 39.4h1M115.5 36.3h1M115.7 45.7h1M107.7 47.0h1M112.0 50.4h1M105.9 43.1h1M107.0 53.7h1M115.3 39.7h1M106.4 40.7h1M108.8 45.4h1M124.8 35.1h1M115.9 46.5h1M103.8 43.5h1M105.2 44.6h1M115.8 36.7h1M117.9 42.4h1M119.3 46.4h1M117.4 47.1h1M116.4 44.6h1M102.9 47.7h1M113.7 54.8h1M94.7 43.3h1M116.2 38.0h1M107.2 54.9h1M118.7 39.9h1M118.8 50.3h1M114.2 46.2h1M110.4 40.0h1M105.2 48.0h1M109.8 53.6h1M106.4 32.3h1M106.4 45.7h1M111.5 44.7h1M103.0 51.8h1M104.1 47.9h1M106.8 38.4h1M118.7 31.8h1M102.8 46.5h1M106.3 48.1h1M108.1 42.1h1M124.0 43.3h1M107.7 39.0h1M103.6 47.6h1M112.8 44.4h1M103.9 47.8h1M96.9 42.7h1M107.1 40.2h1M109.9 41.1h1M103.2 53.4h1M114.1 50.4h1M109.3 49.3h1M114.4 50.5h1M125.5 43.3h1M110.7 44.2h1M84.3 37.5h1M109.1 47.6h1M104.9 50.1h1M117.9 42.4h1M118.9 53.2h1M112.2 39.6h1M119.2 43.7h1M106.3 45.1h1M105.2 49.9h1M114.4 50.6h1M113.1 40.5h1M107.9 48.9h1M106.2 59.1h1M107.3 41.6h1M117.0 48.2h1M108.8 43.3h1M112.0 48.7h1M114.3 43.0h1M112.0 48.7h1M114.4 29.1h1M102.8 40.6h1M107.4 45.4h1M115.5 47.6h1M108.1 44.6h1M121.3 41.4h1M111.1 52.3h1M111.4 34.3h1M111.6 42.6h1M108.2 49.8h1M112.3 43.2h1M115.2 46.7h1M109.7 46.0h1M110.8 42.8h1M105.8 44.6h1M102.3 38.2h1M118.1 43.3h1M108.8 43.8h1M109.2 44.6h1M109.5 40.5h1M115.5 41.0h1M116.2 34.9h1M101.6 49.5h1M108.0 41.1h1M111.6 39.3h1M109.5 33.4h1M105.8 41.3h1M112.8 48.9h1M103.0 52.5h1M104.9 34.2h1M92.3 52.2h1M108.4 41.3h1M103.8 39.0h1M118.5 44.1h1M121.5 43.5h1M92.5 48.7h1M106.4 43.3h1M120.0 43.2h1M117.1 44.5h1M103.7 47.0h1M104.8 50.6h1M115.7 44.8h1M113.3 47.3h1M107.1 49.0h1M107.4 47.6h1M102.3 45.0h1M111.9 40.6h1M106.1 41.8h1M114.1 40.9h1M112.1 52.1h1M111.5 36.5h1M109.9 49.7h1M107.0 50.1h1M113.4 46.6h1M107.2 42.0h1M107.3 44.9h1M112.7 46.6h1M107.0 44.9h1M111.8 36.4h1M103.7 40.6h1M107.7 43.2h1M107.3 40.2h1M113.8 46.0h1M97.6 44.6h1M101.2 53.1h1M105.9 42.6h1M109.7 43.6h1M108.7 52.3h1M110.7 48.8h1M117.0 39.7h1M120.9 48.0h1M115.8 40.3h1M114.8 46.7h1M105.4 56.0h1M113.1 43.4h1M110.5 49.1h1M117.0 47.5h1M117.7 51.9h1M100.5 42.2h1M102.6 45.1h1M119.2 47.9h1M101.8 43.1h1M116.3 41.9h1M108.5 46.1h1M96.4 48.5h1M111.5 47.4h1M102.3 40.8h1M105.0 45.9h1M109.6 45.2h1M121.7 51.1h1M104.1 41.3h1M121.2 43.0h1M118.8 52.6h1M105.3 43.3h1M109.7 40.3h1M102.3 42.6h1M115.1 42.4h1M107.7 42.3h1M99.6 52.0h1M92.7 41.3h1M113.1 37.6h1M113.4 50.9h1M103.1 45.6h1M101.4 47.1h1M109.8 45.7h1M118.7 47.0h1M118.6 47.8h1M100.7 45.9h1M112.6 37.4h1M118.5 44.9h1M111.7 40.1h1M109.6 46.1h1M106.9 45.0h1M94.3 51.4h1M101.3 33.7h1M102.4 40.4h1M112.9 40.0h1M111.1 39.8h1M124.6 47.3h1M122.8 39.5h1M113.8 39.8h1M113.2 48.0h1M98.0 38.9h1M101.0 37.1h1M104.0 39.8h1M99.0 45.1h1M112.9 38.0h1M105.2 44.6h1M107.5 41.1h1M114.8 48.8h1M113.8 43.5h1M123.0 53.3h1M106.3 44.0h1M117.4 40.6h1M111.9 44.8h1M104.2 43.4h1M98.1 41.8h1M95.1 55.9h1M119.6 50.7h1M111.2 49.5h1M118.0 49.6h1M115.5 40.0h1M112.1 41.9h1M100.8 38.8h1M112.0 49.8h1M99.5 53.3h1M119.3 42.6h1M105.8 44.2h1M115.9 42.6h1M101.3 46.2h1M94.6 45.2h1M117.1 46.0h1M114.5 47.0h1M114.1 45.2h1M103.2 43.4h1M108.5 50.8h1M120.4 46.6h1M103.7 40.9h1M107.7 51.4h1M111.3 44.2h1M103.6 48.9h1M111.0 44.2h1M109.7 52.9h1M107.9 52.9h1M117.7 44.8h1M115.2 43.9h1M103.2 43.2h1M102.6 47.1h1M109.1 47.3h1M114.8 28.9h1M111.2 35.5h1M110.2 40.1h1M109.7 51.3h1M97.0 45.5h1M108.5 35.0h1M113.5 44.7h1M105.4 40.9h1M131.5 42.5h1M96.4 39.8h1M106.4 42.6h1M108.4 39.3h1M112.8 42.1h1M99.5 40.4h1M106.3 48.7h1M112.4 42.8h1M109.1 45.6h1M123.3 41.4h1M112.3 48.1h1M102.3 45.4h1M110.1 42.2h1M113.0 49.6h1M116.9 43.5h1M110.3 56.3h1M101.3 45.6h1M115.2 45.3h1M113.6 45.4h1M114.3 50.9h1M107.5 45.5h1M108.6 42.5h1M108.9 38.8h1M114.2 53.0h1M120.9 50.9h1M102.3 52.1h1M104.0 44.2h1M121.9 39.1h1M114.9 45.9h1M107.9 40.1h1M112.0 42.2h1M116.3 50.6h1M99.3 42.0h1M106.8 38.6h1M101.2 44.9h1M107.5 36.2h1M105.2 47.1h1M100.6 39.9h1M120.1 51.1h1M97.7 37.7h1M111.6 38.5h1M107.2 42.2h1M112.9 31.9h1M93.6 38.4h1M116.1 43.7h1M97.0 47.0h1M114.0 43.3h1M106.7 46.7h1M117.5 45.3h1M112.7 44.3h1M106.3 39.9h1M110.8 43.0h1M107.3 49.1h1M112.4 48.9h1M98.0 47.3h1M104.9 40.5h1M103.0 50.6h1M114.8 40.9h1M101.0 44.6h1M105.8 52.8h1M98.8 35.4h1M107.2 44.6h1M109.9 48.3h1M123.5 42.8h1M105.2 35.7h1M110.7 48.8h1M107.2 50.4h1M109.2 52.1h1M111.3 39.2h1M104.5 36.8h1M96.8 45.8h1M115.1 54.3h1M108.6 43.3h1M101.2 49.4h1M111.7 41.5h1M113.8 47.3h1M95.9 48.2h1M110.0 42.5h1M106.1 53.2h1M119.8 53.6h1"/>
<path stroke="#f50000" stroke-opacity="0.7" stroke-width="0.8" fill="none" d="M98.7 39.8h0.8M117.1 35.9h0.8M102.5 31.8h0.8M125.7 51.8h0.8M113.1 45.9h0.8M105.2 41.6h0.8M114.5 39.4h0.8M120.0 41.0h0.8M101.1 53.5h0.8M107.7 48.3h0.8M105.3 28.6h0.8M113.9 35.0h0.8M118.7 33.5h0.8M92.2 46.6h0.8M112.8 45.1h0.8M98.1 50.6h0.8M95.8 41.2h0.8M101.9 41.8h0.8M116.7 40.0h0.8M114.1 49.3h0.8M93.6 36.2h0.8M105.5 40.3h0.8M111.8 30.9h0.8M115.5 49.6h0.8M107.5 34.7h0.8M109.1 40.6h0.8M114.1 43.8h0.8M115.6 41.4h0.8M122.0 28.3h0.8M99.9 47.8h0.8M95.4 49.6h0.8M98.0 45.1h0.8M100.8 41.3h0.8M110.6 43.7h0.8M105.6 59.5h0.8M109.1 37.6h0.8M117.3 50.1h0.8M120.0 56.9h0.8M100.5 51.8h0.8M119.3 44.4h0.8M111.2 23.4h0.8M103.8 56.9h0.8M92.9 40.7h0.8M111.6 48.4h0.8M123.7 32.1h0.8M109.4 50.4h0.8M97.2 44.1h0.8M126.0 53.6h0.8M113.9 26.1h0.8M107.8 47.1h0.8M106.2 43.9h0.8M136.8 42.9h0.8M100.3 46.1h0.8M106.2 42.2h0.8M108.2 49.8h0.8M111.1 36.0h0.8M107.8 47.7h0.8M104.8 52.4h0.8M116.0 37.5h0.8M111.9 58.3h0.8M123.0 44.0h0.8M117.1 39.7h0.8M96.0 48.3h0.8M111.2 48.0h0.8M108.8 46.7h0.8M104.4 47.7h0.8M116.5 44.0h0.8M116.3 32.0h0.8M101.9 54.5h0.8M124.9 46.2h0.8M108.1 35.5h0.8M112.3 49.8h0.8M95.7 48.3h0.8M113.4 47.5h0.8M98.9 48.2h0.8M95.5 54.8h0.8M110.2 36.3h0.8M121.1 52.5h0.8M103.1 59.8h0.8M100.0 46.6h0.8M119.6 28.5h0.8M118.0 43.9h0.8M108.9 36.9h0.8M112.0 36.6h0.8M100.3 41.3h0.8M98.0 55.4h0.8M97.0 39.1h0.8M106.2 44.4h0.8M116.1 50.1h0.8M106.3 41.7h0.8M109.3 50.2h0.8M115.3 40.8h0.8M90.5 59.4h0.8M117.6 46.2h0.8M112.1 40.7h0.8M100.0 42.1h0.8M107.0 40.0h0.8M95.9 42.2h0.8M114.2 40.9h0.8M109.2 29.9h0.8M107.1 43.5h0.8M98.0 32.3h0.8M112.7 38.7h0.8M113.4 41.5h0.8M114.6 42.0h0.8M95.4 43.8h0.8M106.0 49.0h0.8M104.9 41.6h0.8M116.7 52.6h0.8M115.8 51.7h0.8M113.1 49.8h0.8M116.9 47.2h0.8M109.6 45.4h0.8M130.6 44.5h0.8M106.9 41.9h0.8M108.7 46.1h0.8M98.8 30.5h0.8M111.7 33.2h0.8M111.3 45.4h0.8M119.4 56.1h0.8M112.3 40.5h0.8M98.4 38.9h0.8M109.4 29.9h0.8M109.7 44.3h0.8M114.8 42.1h0.8M109.9 39.2h0.8M104.8 32.0h0.8M110.1 55.2h0.8M110.5 47.0h0.8M100.2 54.4h0.8M102.1 50.0h0.8M110.0 37.7h0.8M118.2 44.5h0.8M110.6 47.6h0.8M108.8 41.7h0.8M113.2 41.6h0.8M109.6 39.7h0.8M95.6 39.7h0.8M104.5 44.5h0.8M119.7 32.6h0.8M110.2 28.9h0.8M99.6 40.9h0.8M88.7 31.4h0.8M110.4 44.9h0.8M108.0 38.8h0.8M128.4 43.3h0.8M101.2 56.1h0.8M114.5 41.8h0.8M119.7 45.5h0.8M114.8 46.0h0.8M99.7 51.2h0.8M110.4 37.3h0.8M102.1 51.1h0.8M105.7 44.7h0.8M114.9 45.3h0.8M95.3 48.9h0.8M117.4 50.5h0.8M123.6 46.9h0.8M116.0 55.5h0.8M106.4 56.6h0.8M124.6 49.9h0.8M125.6 50.4h0.8M101.1 52.4h0.8M111.9 47.3h0.8M110.4 53.9h0.8M114.0 39.5h0.8M113.4 49.5h0.8M102.5 41.4h0.8M105.6 40.1h0.8M112.1 51.5h0.8M126.0 52.8h0.8M118.2 52.4h0.8M121.0 41.8h0.8M115.2 46.7h0.8M107.8 41.2h0.8M104.5 42.5h0.8M97.9 48.1h0.8M108.8 45.1h0.8M112.0 49.5h0.8M103.7 43.7h0.8M94.5 28.9h0.8M91.5 55.2h0.8M92.6 47.7h0.8M122.3 41.2h0.8M123.7 57.3h0.8M117.5 61.0h0.8M114.6 39.3h0.8M113.7 41.3h0.8M97.3 35.5h0.8M129.8 40.6h0.8M108.8 39.8h0.8M110.3 42.8h0.8M105.4 36.0h0.8M96.4 39.3h0.8M111.7 59.0h0.8M118.6 57.3h0.8M113.5 43.9h0.8M97.2 44.5h0.8M89.8 42.4h0.8M123.8 46.8h0.8M119.3 41.9h0.8M96.8 41.2h0.8M105.6 53.0h0.8M127.0 39.4h0.8M106.0 43.5h0.8M106.1 35.9h0.8M110.1 47.1h0.8M112.7 36.1h0.8M108.2 32.4h0.8M117.5 37.4h0.8M106.8 41.4h0.8M104.0 37.2h0.8M93.3 56.7h0.8M111.6 46.5h0.8M128.2 43.9h0.8M114.2 44.8h0.8M120.0 48.1h0.8M112.1 42.8h0.8M111.8 52.8h0.8M90.6 43.7h0.8M105.5 42.5h0.8M91.5 49.7h0.8M101.7 43.0h0.8M104.8 32.9h0.8M105.3 31.7h0.8M100.8 42.4h0.8M109.3 45.0h0.8M108.1 59.6h0.8M113.2 36.1h0.8M103.8 40.0h0.8M107.7 40.4h0.8M101.6 56.2h0.8M109.7 42.3h0.8M107.0 43.1h0.8M121.8 48.0h0.8M119.4 22.8h0.8M112.2 52.1h0.8M127.1 44.8h0.8M93.9 48.8h0.8M103.9 32.1h0.8M103.7 52.0h0.8M120.1 49.7h0.8M99.9 62.3h0.8M98.8 44.1h0.8M96.3 53.9h0.8M113.3 50.9h0.8M110.2 44.2h0.8M110.9 31.5h0.8M118.3 51.1h0.8M105.8 44.6h0.8"/>
<path stroke="#f50000" stroke-opacity="0.7" stroke-width="0.8" fill="none" d="M94.8 67.9h0.8M96.6 54.2h0.8M83.5 40.2h0.8M82.2 54.4h0.8M87.1 54.5h0.8M101.0 57.7h0.8M94.5 59.7h0.8M93.2 53.5h0.8M97.2 38.3h0.8M108.2 42.2h0.8M102.4 53.9h0.8M106.2 54.1h0.8M77.5 63.5h0.8M93.3 54.9h0.8M91.8 62.9h0.8M102.1 55.9h0.8M69.0 50.2h0.8M92.2 70.0h0.8M96.1 53.0h0.8M107.5 52.9h0.8M90.4 55.3h0.8M69.8 62.5h0.8M96.7 51.3h0.8M74.8 55.8h0.8M110.4 48.1h0.8M75.9 57.7h0.8M68.4 33.9h0.8M84.6 47.7h0.8M86.9 48.9h0.8M95.4 51.9h0.8M82.4 49.8h0.8M99.6 62.5h0.8M103.5 60.2h0.8M86.4 55.8h0.8M68.2 66.7h0.8M95.1 48.3h0.8M93.1 50.8h0.8M80.2 58.5h0.8M84.5 41.2h0.8M82.0 52.9h0.8M75.7 65.3h0.8M75.6 69.8h0.8M103.4 45.5h0.8M92.7 64.6h0.8M88.2 43.2h0.8M92.5 71.9h0.8M70.0 59.0h0.8M91.0 52.9h0.8M85.5 51.1h0.8M105.5 59.4h0.8M77.0 68.0h0.8M72.8 60.0h0.8M93.5 64.8h0.8M96.0 63.5h0.8M90.6 62.8h0.8M95.8 73.4h0.8M81.3 64.8h0.8M97.5 55.6h0.8M83.1 58.1h0.8M70.4 41.7h0.8M101.0 40.1h0.8M111.1 51.6h0.8M94.5 54.7h0.8M96.9 51.6h0.8M85.9 52.9h0.8M105.7 64.3h0.8M108.9 57.4h0.8M88.2 39.0h0.8M100.1 61.6h0.8M85.4 61.3h0.8M109.1 54.9h0.8M105.9 56.9h0.8M66.8 49.8h0.8M85.3 58.9h0.8M79.0 50.1h0.8M77.6 53.7h0.8M92.1 62.9h0.8M102.2 55.6h0.8M94.5 55.1h0.8M92.7 68.0h0.8M56.3 52.5h0.8M95.5 64.3h0.8M75.8 57.2h0.8M103.1 50.1h0.8M64.4 50.9h0.8M74.3 60.0h0.8M79.2 70.1h0.8M93.1 46.8h0.8M84.0 44.3h0.8M96.5 67.5h0.8M88.1 62.4h0.8M77.9 56.9h0.8M123.3 41.4h0.8M108.3 64.7h0.8M64.8 41.2h0.8M77.4 62.8h0.8M85.1 52.6h0.8M101.0 55.2h0.8M94.2 51.2h0.8M106.8 47.1h0.8M114.5 51.0h0.8M79.9 59.9h0.8M97.4 36.3h0.8M94.2 41.9h0.8M79.4 61.2h0.8M79.0 57.3h0.8M85.7 71.5h0.8M89.7 43.5h0.8M75.5 45.9h0.8M92.8 54.0h0.8M104.6 55.5h0.8M92.8 56.9h0.8M89.1 56.6h0.8M101.9 61.1h0.8M83.3 38.1h0.8M79.6 56.5h0.8M56.1 49.7h0.8M97.2 48.9h0.8M75.2 69.7h0.8M110.3 51.6h0.8M109.4 65.6h0.8M75.0 78.1h0.8M77.7 51.6h0.8M75.5 54.6h0.8M72.4 53.9h0.8M105.9 55.8h0.8M87.1 67.8h0.8M78.2 62.6h0.8M86.5 55.8h0.8M91.2 55.0h0.8M90.0 46.8h0.8M82.8 57.8h0.8M89.2 43.4h0.8M80.8 47.6h0.8M89.9 55.4h0.8M91.9 47.9h0.8M90.9 41.5h0.8M50.2 53.3h0.8M67.4 45.2h0.8M73.7 59.4h0.8M73.6 56.2h0.8M83.6 42.6h0.8M68.4 57.8h0.8M95.8 60.6h0.8M116.0 56.1h0.8M94.3 52.5h0.8M91.8 50.4h0.8M77.8 71.5h0.8M64.2 55.8h0.8M96.4 54.9h0.8M76.8 51.8h0.8M83.7 43.8h0.8M89.5 49.8h0.8M82.4 59.6h0.8M75.3 57.4h0.8M81.5 57.3h0.8M91.0 55.6h0.8M76.3 46.4h0.8M78.0 54.9h0.8M100.4 63.1h0.8M82.9 54.1h0.8M67.3 33.4h0.8M77.8 47.4h0.8M68.2 37.3h0.8M97.3 46.1h0.8M66.4 74.1h0.8M92.2 50.4h0.8M99.3 46.4h0.8M111.9 39.4h0.8M71.5 52.0h0.8M79.0 65.9h0.8M67.3 46.6h0.8M93.0 58.2h0.8M103.6 56.2h0.8M120.4 48.9h0.8M92.0 60.8h0.8M85.2 50.5h0.8M83.1 47.3h0.8M73.8 48.1h0.8M67.9 56.5h0.8M67.3 71.6h0.8M113.2 63.0h0.8M86.5 47.8h0.8M106.5 54.6h0.8M97.2 46.6h0.8M104.3 45.8h0.8M90.9 37.5h0.8M80.2 57.5h0.8M83.1 49.0h0.8M100.3 52.3h0.8M106.6 31.3h0.8M97.2 57.5h0.8M67.8 41.3h0.8M101.5 43.4h0.8M80.4 58.3h0.8M84.6 57.2h0.8M77.2 55.6h0.8M104.4 55.8h0.8M58.7 58.8h0.8M90.1 44.8h0.8M108.7 37.3h0.8M115.4 47.2h0.8M111.2 52.5h0.8M70.7 53.8h0.8M93.9 57.8h0.8M104.0 44.9h0.8M96.1 59.5h0.8M85.5 44.5h0.8M75.9 59.6h0.8M100.4 45.5h0.8M70.6 64.0h0.8M67.6 54.3h0.8M78.0 37.2h0.8M91.0 51.2h0.8M109.3 73.3h0.8M86.6 62.1h0.8M103.8 48.2h0.8M77.1 67.3h0.8M84.1 52.7h0.8M85.2 51.7h0.8M80.8 59.6h0.8M106.7 49.6h0.8M70.0 53.3h0.8M68.5 47.2h0.8M106.4 73.7h0.8M94.5 43.4h0.8M100.1 32.8h0.8M79.5 66.5h0.8M99.6 40.5h0.8M66.0 60.6h0.8M88.6 47.6h0.8M95.0 47.8h0.8M62.4 60.1h0.8M80.2 43.9h0.8M70.6 55.1h0.8M78.0 58.5h0.8M85.5 62.6h0.8M83.8 47.0h0.8M61.8 43.1h0.8M99.3 80.3h0.8M71.8 43.6h0.8M93.9 57.2h0.8M79.8 53.6h0.8M66.8 50.2h0.8M101.8 67.5h0.8M86.9 50.6h0.8M95.5 62.8h0.8M96.0 46.2h0.8M94.2 61.6h0.8M79.3 40.9h0.8M96.3 56.2h0.8M102.7 53.7h0.8M80.3 49.0h0.8M74.9 44.4h0.8M81.4 48.6h0.8M104.8 41.9h0.8M88.6 47.7h0.8M110.0 55.3h0.8M84.1 60.2h0.8"/>
<path stroke="#f50000" stroke-opacity="0.6" stroke-width="0.8" fill="none" d="M84.1 65.2h0.8M91.4 77.0h0.8M92.4 81.4h0.8M87.6 71.2h0.8M84.1 76.7h0.8M83.7 63.1h0.8M90.2 67.1h0.8M86.0 83.7h0.8M85.1 65.4h0.8M88.7 67.0h0.8M81.7 76.4h0.8M86.8 62.3h0.8M83.3 67.7h0.8M84.8 72.2h0.8M86.0 81.2h0.8M90.5 61.6h0.8M89.2 77.6h0.8M83.7 74.9h0.8M87.9 87.8h0.8M83.1 68.0h0.8M89.5 78.2h0.8M88.1 69.3h0.8M84.6 73.4h0.8M92.8 70.4h0.8M82.1 87.3h0.8M81.4 64.9h0.8M85.2 74.8h0.8M84.7 68.8h0.8M86.0 71.3h0.8M91.9 62.6h0.8M87.7 84.3h0.8M83.2 77.3h0.8M83.9 62.5h0.8M88.5 73.6h0.8M81.3 65.1h0.8M94.3 63.1h0.8M85.9 64.7h0.8M87.8 74.5h0.8M81.3 82.0h0.8M82.7 76.4h0.8M86.0 73.3h0.8M81.0 66.5h0.8M85.3 64.3h0.8M85.6 68.1h0.8M80.9 61.9h0.8M85.9 65.3h0.8M86.5 81.0h0.8M82.6 62.2h0.8M83.4 75.2h0.8M85.2 76.6h0.8M82.6 70.0h0.8M91.6 86.8h0.8M87.9 65.4h0.8M88.6 68.2h0.8M86.9 61.3h0.8M81.0 74.8h0.8M92.7 70.0h0.8M95.0 97.5h0.8M81.3 69.6h0.8M88.7 79.5h0.8M85.2 70.3h0.8M84.5 71.5h0.8M86.8 70.3h0.8M87.8 87.5h0.8M90.6 67.0h0.8M86.9 74.1h0.8M90.1 76.4h0.8M80.9 74.9h0.8M82.8 72.8h0.8M87.2 69.3h0.8M85.2 76.6h0.8M81.3 78.5h0.8M90.1 74.2h0.8M90.5 64.1h0.8M88.5 72.9h0.8M81.3 64.8h0.8M84.4 80.8h0.8M82.4 71.5h0.8M89.7 78.3h0.8M86.3 65.1h0.8M88.6 61.2h0.8M84.1 68.7h0.8M81.7 75.4h0.8M91.4 64.4h0.8M88.3 71.1h0.8M83.8 92.0h0.8"/>
<path stroke="#48c4f4" stroke-opacity="0.85" stroke-width="1" fill="none" d="M75.8 88.3h1M73.6 63.9h1M71.3 85.7h1M65.6 77.0h1M68.9 62.5h1M71.9 65.9h1M58.5 80.5h1M54.6 77.7h1M70.2 68.5h1M67.3 69.9h1M61.3 82.9h1M61.3 80.7h1M51.9 88.3h1M48.5 68.2h1M52.5 71.1h1M66.9 85.8h1M78.8 74.3h1M51.6 74.5h1M53.1 85.0h1M69.8 90.5h1M57.7 87.2h1M49.5 83.9h1M76.4 74.4h1M52.8 82.0h1M62.0 68.0h1M72.1 68.9h1M73.0 67.4h1M78.6 81.3h1M67.0 89.0h1M52.7 83.4h1M50.6 69.2h1M68.6 80.7h1M65.1 71.7h1M56.0 85.4h1M53.3 75.6h1M59.2 68.7h1M57.2 69.9h1M59.3 64.0h1M59.2 72.0h1M72.1 71.3h1M62.8 74.8h1M75.1 80.6h1M64.1 88.4h1M57.3 85.2h1M77.6 78.1h1M68.8 72.0h1M75.0 66.4h1M55.5 78.6h1M79.1 63.4h1M68.3 63.1h1M60.0 80.1h1M56.0 66.3h1M51.2 86.1h1M49.1 80.9h1M54.3 76.7h1M57.9 88.7h1M65.0 65.3h1M60.7 70.5h1M49.5 76.2h1M52.6 89.5h1M48.6 63.8h1M49.3 79.0h1M57.5 88.2h1M68.4 65.7h1M52.9 81.9h1M76.3 81.5h1M67.7 77.0h1M49.5 88.6h1M53.8 75.1h1M64.4 74.7h1M77.9 77.9h1M71.6 85.0h1M76.5 63.0h1M51.1 89.9h1M64.2 89.6h1M63.3 85.2h1M54.9 87.5h1M66.1 79.4h1M66.0 70.4h1M79.1 79.0h1M50.1 81.2h1M57.6 65.6h1M53.5 84.0h1M55.1 70.3h1M58.2 76.4h1M59.8 69.2h1M78.6 69.7h1M58.5 86.9h1M63.5 83.8h1M53.3 63.3h1M55.1 83.9h1M54.9 88.3h1M66.2 81.9h1M57.6 81.6h1M56.9 69.2h1M64.8 81.8h1M48.5 72.5h1M75.6 88.3h1M49.6 81.9h1M61.2 70.9h1M53.4 83.9h1M49.4 67.3h1M63.5 67.7h1M68.2 61.9h1M60.2 83.8h1M55.0 64.0h1M70.1 69.5h1M66.9 82.9h1M59.1 70.4h1M67.7 69.8h1M74.9 63.4h1M64.5 63.0h1M60.4 78.1h1M67.7 65.5h1M64.2 89.4h1M51.2 62.3h1M76.9 70.7h1M52.0 66.8h1M71.8 87.6h1M61.9 83.3h1M73.1 64.7h1M64.7 63.1h1M74.3 63.9h1M63.0 82.9h1M55.9 83.2h1M72.7 79.8h1M74.5 75.7h1M64.1 74.9h1M77.7 78.8h1M70.6 64.6h1M77.8 84.5h1M54.3 84.0h1M78.2 81.2h1M72.6 68.3h1M78.2 67.7h1M59.2 89.9h1M65.8 89.0h1M76.6 83.2h1M69.5 84.3h1M57.2 74.8h1M57.3 86.9h1M78.3 81.5h1M69.5 74.2h1M49.7 81.3h1M56.3 63.8h1M65.8 72.9h1M54.1 86.0h1M62.9 75.4h1M69.4 77.6h1M50.7 77.8h1M56.1 88.8h1M76.2 67.3h1M49.3 81.3h1M51.6 74.5h1M74.2 68.3h1M69.6 62.9h1M63.1 79.2h1M75.5 66.8h1M54.7 78.4h1M48.2 74.0h1M74.0 73.3h1M68.4 87.3h1M58.8 64.1h1M66.5 77.8h1M50.6 73.5h1M58.0 65.9h1M66.2 73.0h1M75.0 86.6h1M58.1 67.2h1M49.9 81.2h1M50.8 69.3h1M57.8 76.6h1M68.0 77.5h1M70.6 63.6h1M70.2 84.9h1M76.0 72.5h1M69.8 67.6h1M69.5 67.5h1M67.0 90.1h1M69.3 88.8h1M71.4 75.1h1M53.7 82.0h1M68.6 63.0h1M52.0 86.4h1M54.6 61.7h1M77.7 62.9h1M61.0 71.2h1M66.1 74.7h1M54.8 61.7h1M64.3 69.8h1M48.8 90.0h1M66.6 83.9h1M78.5 63.2h1M70.0 86.9h1M69.3 75.0h1M65.8 90.2h1M58.3 70.8h1M72.8 70.5h1M60.4 81.2h1M58.8 75.7h1M65.5 69.5h1M79.2 76.7h1M71.5 80.0h1M69.6 70.6h1M52.1 85.4h1M73.9 83.2h1M61.5 83.3h1M68.1 80.6h1M65.9 68.2h1M73.1 82.0h1M49.0 66.6h1M51.1 65.6h1M57.0 76.1h1M54.5 66.5h1M69.8 65.2h1M51.7 78.7h1M51.0 89.8h1M65.0 63.1h1M50.1 74.4h1M73.4 64.1h1M58.5 77.1h1M57.7 78.2h1M67.1 75.7h1M57.1 81.8h1M55.2 76.2h1M59.8 78.1h1M72.9 80.9h1M77.9 87.8h1M52.9 74.1h1M49.0 88.0h1M57.8 66.6h1M58.3 74.7h1M71.9 66.6h1M69.8 72.3h1M71.9 87.7h1M60.6 89.8h1M61.7 75.2h1M78.1 69.5h1M49.5 70.9h1M48.7 87.6h1M48.5 74.2h1M74.1 67.3h1M64.6 85.7h1M70.2 76.3h1M68.9 73.9h1M74.0 87.7h1M65.0 83.1h1M58.5 61.9h1M51.6 89.5h1M61.2 74.7h1M54.2 66.7h1M77.6 87.9h1M72.4 73.7h1M57.1 81.4h1M64.4 83.3h1M63.0 67.1h1M67.3 90.0h1M78.3 77.8h1M56.8 63.2h1M67.7 77.1h1M64.1 62.0h1M78.5 89.9h1M55.0 80.8h1M68.7 72.5h1M50.9 84.7h1M65.4 84.5h1M78.7 81.8h1M71.0 68.3h1M49.0 64.2h1M65.3 87.3h1M66.6 71.5h1M78.3 72.7h1M66.7 73.2h1M55.1 69.5h1M61.7 88.7h1M72.0 76.9h1M60.7 82.1h1M53.4 79.1h1M60.5 64.1h1M51.3 63.6h1M51.2 65.8h1M51.9 75.9h1M64.3 79.7h1M58.3 90.4h1M53.8 87.6h1M71.6 82.9h1M67.6 72.6h1M74.2 71.5h1M53.1 81.7h1M67.8 71.5h1M56.4 83.7h1M63.8 82.6h1M62.3 65.0h1M66.7 84.8h1M66.3 64.2h1M77.4 70.7h1M68.0 89.8h1M59.3 80.4h1M73.4 86.3h1M53.2 88.4h1M72.8 69.2h1M66.5 84.6h1M56.3 72.3h1M72.1 63.4h1M51.7 64.6h1M49.1 65.2h1M56.7 79.8h1M64.2 80.1h1M68.2 86.1h1M58.1 70.1h1M66.5 83.6h1M71.1 80.5h1M57.7 72.9h1M63.3 90.4h1M73.9 70.7h1M76.4 68.4h1M78.4 87.0h1M60.4 86.8h1M58.8 66.2h1M58.8 71.3h1M73.1 76.3h1M78.6 63.4h1M66.0 72.3h1M62.2 83.8h1M69.3 83.8h1M61.5 65.8h1M66.2 70.3h1M54.0 69.3h1M51.2 81.4h1M61.0 65.3h1M56.6 90.1h1M52.9 64.9h1M78.9 76.8h1M70.3 81.9h1M60.4 89.0h1M51.4 86.3h1M59.2 76.9h1M76.3 67.9h1M79.0 73.7h1M73.4 79.1h1M54.0 76.9h1M66.1 84.2h1M50.3 77.1h1M50.0 72.6h1M75.6 76.4h1M48.1 76.6h1M51.1 61.8h1M51.4 71.0h1M70.8 78.1h1M68.1 82.2h1M54.9 73.9h1M61.1 83.1h1M78.4 76.1h1M54.7 72.2h1M50.2 68.5h1M68.7 84.6h1M51.5 88.2h1M65.8 82.7h1M56.2 67.9h1M49.0 82.0h1M69.1 76.1h1M72.1 88.3h1M58.1 61.7h1M53.1 83.9h1M55.8 86.3h1M55.9 79.1h1M59.7 61.7h1M55.7 81.6h1M55.9 77.0h1"/>
<path stroke="#2cb0f2" stroke-opacity="0.9" stroke-width="1" fill="none" d="M73.9 87.9h1M63.5 83.3h1M73.9 74.1h1M63.4 81.1h1M61.0 69.4h1M55.5 73.8h1M56.5 80.6h1M58.8 86.3h1M70.6 63.1h1M69.6 70.3h1M71.8 78.2h1M61.0 79.6h1M57.1 76.6h1M64.3 72.5h1M64.3 65.2h1M65.7 63.4h1M66.2 77.9h1M66.8 69.1h1M62.6 67.4h1M72.4 69.9h1M69.0 65.8h1M63.9 70.8h1M68.6 71.5h1M55.0 77.8h1M52.5 65.8h1M67.3 70.6h1M54.6 76.1h1M66.4 69.1h1M60.3 80.9h1M67.3 73.6h1M55.8 66.0h1M57.1 79.9h1M66.0 76.7h1M72.2 71.6h1M58.8 70.9h1M63.9 78.0h1M62.2 94.0h1M70.6 80.8h1M55.0 78.5h1M59.0 74.6h1M63.3 70.2h1M66.6 88.1h1M69.6 76.1h1M69.9 72.7h1M58.2 79.9h1M55.8 81.1h1M53.7 66.6h1M62.0 62.0h1M61.9 78.9h1M52.0 82.2h1M57.7 79.0h1M63.5 70.5h1M56.7 67.9h1M74.3 83.0h1M51.6 81.2h1M63.6 71.2h1M65.4 81.1h1M57.7 72.1h1M63.2 66.1h1M63.3 73.8h1M56.9 67.4h1M64.2 81.8h1M64.4 67.2h1M67.6 75.9h1M66.4 84.3h1M55.2 73.3h1M57.5 67.1h1M77.0 82.4h1M48.8 78.1h1M57.8 84.1h1M62.6 73.0h1M63.0 77.7h1M62.2 72.6h1M61.0 78.8h1M53.5 74.5h1M61.1 70.4h1M67.5 63.6h1M59.3 67.3h1M66.1 70.6h1M62.4 77.7h1M50.1 78.3h1M56.4 72.4h1M61.2 81.3h1M67.5 89.3h1M63.3 70.5h1M58.2 80.0h1M74.0 77.4h1M57.7 76.8h1M63.9 74.8h1M58.0 83.3h1M76.9 76.1h1M53.0 81.2h1M56.2 79.2h1M62.2 64.6h1M67.0 63.2h1M72.0 75.0h1M74.1 86.7h1M52.6 88.3h1M63.2 72.6h1M61.4 72.2h1M72.7 75.8h1M48.2 92.1h1M68.6 65.3h1M59.3 66.9h1M62.3 77.8h1M63.8 69.5h1M56.0 81.6h1M61.2 93.4h1M56.0 81.1h1M62.4 68.1h1M72.2 75.5h1M55.3 71.8h1M69.6 64.2h1M72.3 80.3h1M59.9 85.9h1M75.1 79.5h1M63.3 90.0h1M73.2 66.7h1M60.5 72.7h1M58.9 61.9h1M68.8 75.2h1M62.7 86.4h1M57.8 74.0h1M64.1 70.9h1M61.2 81.0h1M61.9 85.7h1M56.4 76.2h1M51.3 73.5h1M56.7 86.0h1M67.6 78.8h1M75.9 86.7h1M67.4 68.7h1M51.1 74.2h1M59.3 69.0h1M73.2 64.8h1M56.9 79.3h1M49.7 82.3h1M69.1 71.8h1M53.9 70.5h1M48.0 86.3h1M62.4 68.2h1M55.1 79.4h1M73.4 63.7h1M67.1 75.8h1M79.1 73.5h1M58.7 68.5h1M67.7 76.6h1M58.2 66.8h1M70.0 90.4h1M58.6 79.0h1M75.2 69.2h1M60.1 64.1h1M60.9 73.8h1M58.8 68.2h1M50.0 63.0h1M54.6 80.0h1M58.1 67.2h1M67.0 79.3h1M56.3 69.1h1M67.0 77.6h1M55.6 76.6h1M61.8 84.0h1M55.4 82.1h1M65.3 65.9h1M70.0 82.3h1M51.9 91.5h1M53.3 66.6h1M59.5 81.1h1M66.4 73.7h1M72.4 78.0h1M72.7 98.7h1M58.5 65.2h1M62.7 75.3h1M52.6 64.5h1M60.0 72.8h1M62.2 74.4h1M64.3 65.6h1M61.6 83.5h1M70.3 78.5h1M59.8 67.4h1M72.2 79.1h1M71.7 76.1h1M56.2 72.1h1M51.5 73.4h1M63.4 95.7h1M74.2 74.9h1M59.1 76.3h1M70.1 61.6h1M64.2 88.7h1M63.9 87.6h1M57.2 78.9h1M74.2 83.5h1M58.4 82.4h1M56.8 61.8h1M66.1 86.9h1M68.7 63.3h1M68.9 80.5h1M70.0 82.4h1M50.2 83.5h1M68.4 78.9h1M60.0 78.0h1M57.7 71.7h1M55.1 76.8h1M58.7 83.0h1M67.7 67.2h1M76.6 64.5h1M65.6 84.2h1M70.0 85.4h1M56.6 73.6h1M58.4 86.5h1M56.6 85.5h1M66.5 61.4h1M54.1 70.3h1M62.8 83.4h1M60.5 82.7h1M59.3 78.6h1M59.1 65.4h1M65.4 91.9h1M61.2 68.0h1M55.2 92.2h1M61.7 80.0h1M71.8 84.2h1M54.6 83.1h1M68.8 78.9h1M70.1 69.4h1M61.4 69.8h1M68.1 68.6h1M65.1 64.7h1M61.0 71.2h1M61.1 75.7h1M60.5 72.5h1M57.0 72.3h1M55.4 83.5h1M54.8 79.0h1M71.4 89.3h1M71.5 80.1h1M52.4 86.1h1M71.5 82.1h1M68.4 75.2h1M57.9 84.3h1M72.2 65.2h1M69.3 76.8h1M69.1 77.0h1M70.9 83.8h1M69.2 62.2h1M68.7 75.1h1M53.1 81.0h1M51.2 82.6h1M75.6 70.1h1M69.5 78.7h1M67.3 62.6h1M67.0 75.9h1M68.0 74.8h1M70.9 77.1h1M67.6 86.9h1M63.6 83.6h1M64.0 79.4h1M58.0 81.7h1M71.9 74.0h1M68.5 78.6h1M53.5 77.9h1M72.7 70.5h1M48.2 76.6h1M57.2 91.6h1M61.9 74.8h1M57.3 77.0h1M57.8 66.8h1M61.8 67.6h1M72.7 64.5h1M61.7 68.7h1M51.4 89.5h1M51.2 75.6h1M51.5 86.4h1M63.6 70.0h1M62.0 66.3h1M63.2 88.0h1M59.3 76.0h1M71.7 92.4h1M57.7 77.5h1M57.9 69.1h1M59.1 69.2h1M56.6 76.0h1M71.8 70.1h1M61.0 80.6h1M68.1 73.8h1M61.9 91.3h1M59.7 70.5h1M49.5 78.6h1M60.2 91.6h1M59.7 82.0h1M69.6 89.3h1M52.0 88.6h1M62.4 73.9h1M59.9 71.3h1M66.3 75.4h1M54.8 74.3h1M59.2 89.9h1M56.1 73.5h1M58.0 72.7h1M68.0 79.9h1M56.6 73.7h1M62.9 71.2h1M62.0 68.5h1M56.5 75.2h1M54.2 78.5h1M60.8 66.7h1M57.5 70.6h1M61.0 75.8h1M60.6 67.2h1M73.4 82.7h1M63.1 83.1h1M64.8 72.5h1M62.9 98.1h1M70.0 83.9h1M59.2 80.0h1M70.6 85.8h1M67.2 88.5h1M64.0 79.1h1M57.4 97.8h1M64.6 75.7h1M73.0 70.5h1M62.2 67.9h1M62.4 71.4h1M66.4 73.6h1M57.6 72.2h1M61.3 70.3h1M69.5 80.6h1M63.3 64.4h1M66.2 63.6h1M63.7 75.2h1M57.7 67.5h1M56.8 92.6h1M60.2 72.9h1M69.6 78.4h1M70.4 64.1h1M53.8 103.7h1M61.9 72.2h1M63.5 83.4h1M53.0 77.2h1M62.0 80.6h1M63.6 70.1h1M69.8 62.0h1M59.1 89.2h1M59.0 80.0h1M60.6 80.8h1M62.4 70.3h1M72.6 72.4h1M51.9 71.9h1M66.4 65.1h1M68.3 81.4h1M78.5 69.2h1M59.0 75.6h1M65.3 74.3h1M61.5 69.4h1M58.8 77.4h1M66.5 80.3h1M69.9 85.0h1M48.4 70.2h1M61.0 69.2h1M70.2 81.2h1M61.4 75.8h1M71.9 71.7h1M59.8 82.6h1M65.8 87.0h1M65.0 81.2h1M58.0 66.6h1M65.3 83.1h1M62.8 72.8h1M70.5 74.4h1M69.7 93.6h1M67.8 82.8h1M66.0 76.9h1M64.3 75.3h1M60.2 80.4h1M55.8 73.8h1M56.9 78.5h1M68.8 87.3h1M66.1 68.6h1M64.1 79.6h1M67.7 78.6h1M66.0 82.4h1M65.2 69.2h1M64.9 85.1h1M61.3 75.0h1M52.9 84.7h1M58.4 68.4h1M58.8 67.3h1M60.3 85.7h1M68.3 87.0h1M73.6 67.0h1M65.9 87.6h1M51.3 78.8h1M59.6 66.2h1M65.1 68.0h1M63.2 80.2h1M69.4 76.3h1M60.4 69.0h1M49.6 70.9h1M69.8 80.3h1M77.9 73.4h1M48.6 81.8h1M70.1 64.7h1M49.9 76.0h1M67.6 65.1h1M59.6 68.0h1M53.1 63.4h1M63.2 71.5h1M75.5 66.6h1M61.1 64.9h1M65.0 61.7h1M62.9 73.0h1M69.1 65.2h1M57.2 72.6h1M78.1 62.0h1M64.3 69.0h1M64.5 80.2h1M63.2 76.9h1M64.2 69.6h1M59.4 68.0h1M60.1 80.9h1M65.0 78.6h1M65.4 74.4h1M61.3 63.3h1M66.3 84.4h1M69.9 73.8h1M66.9 82.5h1M76.0 85.1h1M63.1 75.4h1M63.3 76.5h1M58.3 81.2h1M56.8 67.7h1M64.7 69.6h1M68.1 74.5h1M61.1 78.5h1M63.6 68.5h1M77.3 70.7h1M69.5 90.2h1M57.3 75.3h1M55.8 83.5h1M59.5 65.1h1M72.1 82.4h1M55.2 84.7h1M63.5 97.8h1M75.1 69.8h1M60.0 67.0h1M63.0 74.9h1M67.6 75.3h1M50.8 67.5h1M72.8 84.4h1M60.8 73.3h1M60.7 74.7h1M49.2 82.2h1M57.0 75.8h1M73.6 78.6h1M70.9 76.7h1M66.5 72.2h1M55.9 82.0h1M54.7 82.2h1M49.2 66.5h1M50.9 85.8h1M48.6 64.7h1M67.0 76.5h1M78.8 90.3h1M66.7 80.4h1M48.0 66.9h1M59.5 73.0h1M51.5 66.5h1M55.5 83.6h1M65.3 71.6h1M59.9 77.0h1M56.7 72.2h1M48.8 80.3h1M69.4 77.6h1M65.7 77.6h1M77.6 76.2h1M51.9 65.5h1M67.4 83.7h1M67.9 81.7h1M63.4 61.7h1M59.0 62.7h1M62.7 73.0h1M67.8 62.5h1M63.1 80.7h1M59.7 81.8h1M63.4 83.7h1M63.4 73.0h1M65.9 81.2h1M63.9 70.5h1M55.9 71.2h1M57.5 76.2h1M63.2 73.7h1M61.9 75.9h1M74.0 84.8h1M57.5 78.0h1M59.4 73.5h1M60.0 69.0h1M63.4 84.6h1M54.9 78.7h1M58.9 76.8h1M55.6 72.3h1M63.5 73.1h1M61.6 76.1h1M64.6 70.7h1M53.5 70.4h1M58.5 93.6h1M76.1 70.1h1M58.6 77.1h1M66.2 68.3h1M54.1 91.1h1M48.1 67.1h1M63.5 79.0h1M63.5 79.5h1M61.8 69.9h1M66.2 73.8h1M53.1 75.1h1M51.7 82.7h1M65.4 65.5h1M63.4 85.2h1M60.5 61.8h1M49.1 69.5h1M62.8 77.5h1M65.1 84.3h1M67.2 80.7h1M54.1 72.9h1M68.2 80.7h1M69.5 70.7h1M77.1 70.9h1M61.1 93.4h1M48.2 68.5h1M61.0 71.1h1M63.1 67.4h1M60.9 63.7h1M58.7 62.0h1M66.9 62.8h1M67.2 70.6h1M59.4 84.7h1M63.9 70.7h1M50.7 74.9h1M59.3 92.1h1M58.3 91.5h1M72.7 68.8h1M55.3 86.0h1M60.7 75.7h1M59.7 63.4h1M58.8 65.7h1M49.6 71.6h1M75.9 88.7h1M61.3 75.4h1M65.8 86.4h1M64.3 70.0h1M58.7 84.4h1M61.2 75.5h1M71.6 74.8h1M61.4 63.9h1M64.1 62.8h1M59.0 61.1h1M58.9 70.2h1M66.5 86.3h1M60.3 66.5h1M77.4 77.5h1M66.6 79.7h1M73.4 83.3h1M67.2 81.1h1M54.9 68.8h1M60.9 75.1h1M61.9 77.0h1M62.0 70.4h1M48.8 81.8h1M66.5 66.4h1M65.8 77.8h1M52.2 68.9h1M74.7 66.6h1M59.0 64.3h1M57.9 77.3h1M67.1 74.6h1M57.0 83.0h1M60.5 84.2h1M56.4 71.4h1M69.4 71.9h1M52.2 68.1h1M51.2 79.2h1M48.0 83.3h1M48.6 74.7h1M50.1 71.4h1M70.0 84.4h1M72.2 73.5h1M62.6 76.4h1M66.7 70.7h1M70.6 77.2h1M70.9 78.6h1M67.2 67.7h1M58.5 62.6h1M59.4 72.7h1M68.5 62.9h1M71.9 83.6h1M67.9 66.0h1M58.1 76.3h1M56.6 67.5h1M64.5 79.2h1M61.4 67.7h1M63.8 87.9h1M63.3 82.3h1M60.0 96.9h1M48.6 79.5h1M66.1 76.6h1M52.8 64.0h1M59.9 75.1h1M52.0 64.6h1M66.2 83.5h1M57.2 67.9h1M55.9 96.5h1M65.6 73.6h1M69.8 94.9h1M71.1 61.3h1M61.0 70.5h1M59.0 63.2h1M58.6 64.4h1M64.4 74.6h1M57.8 80.0h1M65.7 73.6h1M55.8 71.1h1M51.9 70.2h1M56.4 98.6h1M67.3 72.4h1M61.3 73.1h1M63.2 70.5h1M61.5 83.4h1M68.3 76.9h1M72.4 76.2h1M56.1 73.6h1M64.9 83.9h1M57.1 66.9h1M67.9 84.8h1M57.8 77.2h1M72.7 77.0h1M72.3 80.0h1M62.7 69.9h1M51.7 73.2h1M60.8 84.0h1M52.0 87.1h1M62.0 84.9h1M53.9 77.3h1M71.5 75.2h1M49.9 71.2h1M66.0 61.5h1M50.1 76.3h1M54.1 80.3h1M55.5 87.6h1M54.8 74.1h1M63.7 65.6h1M70.4 75.7h1M60.2 72.1h1M67.5 87.5h1M59.7 71.7h1M65.3 87.9h1M55.1 79.8h1M59.7 71.1h1M68.2 67.0h1M53.1 80.2h1M61.5 71.8h1M60.6 78.6h1M58.7 81.1h1M65.0 87.5h1M71.8 81.9h1M60.1 75.2h1M57.0 99.9h1M59.9 79.2h1M72.6 61.9h1M55.1 70.6h1M53.8 62.8h1M57.6 85.8h1M67.5 74.5h1M67.3 78.0h1M53.1 76.1h1M60.2 69.5h1M53.8 68.1h1M54.2 78.4h1M64.7 77.1h1M60.3 70.5h1M71.3 77.4h1M62.3 69.6h1M60.0 63.6h1M50.7 73.2h1M48.5 81.8h1M49.3 76.7h1M63.5 75.2h1M65.1 81.0h1M68.7 90.4h1M62.0 82.0h1M48.8 73.1h1M52.0 86.8h1M51.4 73.3h1M62.0 76.1h1M70.5 82.9h1M57.8 69.2h1M73.1 71.9h1M50.8 62.4h1M62.3 82.5h1M73.8 72.7h1M58.1 88.9h1M58.2 87.4h1M63.7 76.4h1M59.9 77.0h1M58.1 68.2h1M60.7 68.4h1M64.3 75.1h1M59.7 72.5h1M60.0 89.9h1M61.7 68.9h1M59.5 80.3h1M60.2 72.9h1M59.8 75.8h1M64.9 78.3h1M48.7 64.7h1M70.7 86.0h1M63.0 84.6h1M61.5 73.2h1M49.5 67.2h1M57.1 82.5h1M75.1 70.1h1M64.8 76.8h1M55.8 61.4h1M59.3 73.0h1M60.4 72.8h1M65.7 65.9h1M62.3 77.8h1M66.9 68.2h1M68.0 81.2h1M61.7 74.2h1M69.7 77.6h1M54.3 75.8h1M66.2 76.1h1M63.3 72.9h1M60.8 65.9h1M50.4 84.4h1M56.7 76.2h1M49.8 75.7h1M55.2 100.9h1M53.7 65.6h1M69.3 84.4h1M68.8 63.3h1M67.2 69.5h1M53.8 71.1h1M58.1 61.8h1M55.8 81.9h1M61.2 86.2h1M59.6 77.4h1M62.5 75.7h1M60.1 73.3h1M75.1 68.2h1M57.4 71.2h1M66.3 77.8h1M69.2 62.3h1M63.8 72.7h1M59.5 75.7h1M62.9 61.5h1M61.0 88.1h1M58.7 79.5h1M60.0 67.0h1M54.5 70.7h1M72.1 81.5h1M56.2 83.1h1M60.8 68.1h1M65.2 66.1h1M49.3 85.8h1M49.7 74.0h1M60.2 70.3h1M61.5 66.3h1M61.2 83.1h1M56.1 76.5h1M52.7 77.7h1M66.8 96.3h1M68.9 78.1h1M72.9 65.4h1M70.3 69.4h1M56.9 84.0h1M63.7 86.1h1M50.4 76.7h1M57.7 71.9h1M63.5 65.6h1M51.2 66.6h1M72.8 73.4h1M59.2 78.7h1M61.9 76.4h1M67.7 77.3h1M68.8 63.8h1M62.4 71.2h1M62.7 74.0h1M56.9 71.3h1M69.3 69.5h1M52.1 79.7h1M69.6 72.0h1M62.9 67.0h1M60.3 84.2h1M68.2 75.8h1M64.4 78.5h1M70.2 92.2h1M64.9 82.9h1M53.2 85.1h1M68.8 86.5h1M67.3 78.5h1M73.6 68.7h1M67.0 84.0h1M55.9 64.4h1M65.4 75.6h1M66.8 80.2h1M56.1 77.5h1M70.9 71.4h1M59.8 64.7h1M68.4 91.7h1M51.4 81.3h1M69.1 69.7h1M59.2 65.4h1M56.0 76.1h1M67.2 75.7h1M68.8 76.4h1M53.0 87.4h1M71.4 68.4h1M76.0 78.8h1M63.2 91.5h1M67.7 72.5h1M54.8 87.9h1M66.0 63.5h1M57.0 82.1h1M64.1 71.4h1M48.6 73.3h1M49.7 70.0h1M74.8 79.3h1M68.3 80.0h1M65.0 83.3h1M53.1 71.6h1M68.9 68.4h1M58.8 85.4h1M74.2 69.5h1M55.9 79.9h1M64.4 68.9h1M66.9 79.7h1M62.9 100.6h1M72.9 82.0h1M70.3 100.9h1M70.9 68.5h1M64.8 75.5h1M57.9 77.1h1M64.3 74.4h1M58.5 82.2h1M49.9 82.1h1M62.4 77.3h1M48.8 67.3h1M67.4 69.5h1M58.9 76.8h1M67.7 72.4h1M64.1 78.7h1M57.1 68.3h1M77.7 67.4h1M72.0 75.5h1M73.9 69.3h1M66.4 77.8h1M60.6 77.6h1M56.3 74.2h1M59.2 81.6h1M61.6 62.6h1M59.4 74.0h1M55.3 86.6h1M65.5 82.3h1M56.4 71.4h1M70.3 62.3h1M65.2 75.7h1M58.4 75.7h1M53.9 76.9h1M52.8 63.6h1M73.3 68.7h1M61.9 83.1h1M65.1 90.1h1M61.4 80.2h1M54.4 76.4h1M74.4 79.4h1M59.4 63.5h1M68.5 68.4h1M65.2 66.1h1M77.2 64.5h1M63.5 98.2h1M64.1 67.2h1M67.2 83.7h1M77.3 75.6h1M58.7 80.9h1M66.2 64.4h1M75.2 72.8h1M48.5 87.4h1M74.5 86.1h1M66.7 67.0h1M69.8 91.5h1M68.8 89.2h1M56.3 84.0h1M69.8 61.7h1M49.5 68.5h1M63.0 79.0h1M60.6 74.4h1M61.5 75.7h1M67.0 79.4h1M62.0 77.3h1M58.8 82.1h1M58.4 89.6h1M62.2 77.4h1M56.4 71.9h1M63.7 75.1h1M57.5 64.6h1M62.7 76.4h1M66.8 86.1h1M52.2 84.2h1M66.9 69.2h1M57.4 74.2h1M48.5 79.3h1M59.7 91.4h1M54.0 84.0h1M57.0 84.1h1M54.7 81.6h1M58.9 67.6h1M61.2 79.3h1M65.7 89.1h1M59.4 80.6h1M51.8 64.4h1M63.6 72.4h1M75.1 77.9h1M66.7 90.7h1M58.5 75.0h1M54.5 77.3h1M70.7 87.3h1M62.2 68.6h1M56.4 62.5h1M63.4 87.2h1M65.1 63.7h1M68.7 82.1h1M63.8 82.5h1M62.9 80.1h1M77.1 84.9h1M57.2 67.9h1M60.6 73.0h1M63.1 69.7h1M67.7 75.4h1M65.4 75.2h1M67.4 64.3h1M75.2 78.2h1M66.1 80.6h1M71.2 81.7h1M64.5 73.5h1M49.4 77.1h1M60.1 72.3h1M63.0 86.1h1M70.3 86.3h1M52.5 66.5h1M67.6 72.5h1M76.3 77.2h1M64.2 79.2h1M60.5 76.3h1M57.2 74.9h1M58.8 77.5h1M51.3 61.8h1M66.3 77.3h1M55.0 73.2h1M54.3 93.6h1M50.2 90.7h1M56.1 79.1h1M60.6 71.8h1M70.2 82.6h1M60.4 67.1h1M63.8 72.6h1M65.0 76.0h1M72.3 66.6h1M62.9 68.2h1M73.2 91.5h1M62.0 80.2h1M74.0 72.6h1M55.2 84.7h1M66.8 73.4h1M74.4 77.4h1M48.5 78.4h1M62.3 92.2h1M62.6 73.5h1M66.2 77.5h1M51.5 76.4h1M60.1 88.0h1M55.0 67.7h1M57.5 69.1h1M63.2 85.1h1M52.3 61.5h1M48.0 85.3h1M73.4 61.5h1M49.7 76.5h1M71.5 84.5h1M64.3 81.5h1M65.4 70.4h1M78.0 75.3h1M53.9 71.1h1M50.4 75.5h1M71.5 64.0h1M71.8 94.2h1M65.8 64.9h1M55.9 72.3h1M52.5 64.1h1M60.7 73.7h1M67.6 64.6h1M77.7 84.9h1M69.9 69.5h1M76.7 72.3h1M77.3 85.0h1M55.6 71.3h1M77.7 84.4h1M61.5 77.2h1M64.4 68.4h1M61.2 69.4h1M59.3 79.6h1M55.1 81.9h1M63.6 82.2h1M69.9 86.6h1M67.8 81.7h1M61.3 80.5h1M55.5 73.1h1M68.8 74.9h1M66.3 65.8h1M73.7 70.2h1M65.9 75.2h1M70.2 71.9h1M60.3 64.6h1M67.0 88.4h1M65.2 86.5h1M65.2 78.3h1M66.8 80.5h1M75.9 80.9h1M52.8 71.1h1M64.4 68.0h1M60.7 70.6h1M57.1 81.6h1M59.6 65.5h1M57.0 75.7h1M74.7 79.8h1M55.9 63.1h1M54.1 91.5h1M50.1 69.7h1M72.1 81.4h1M49.0 74.3h1M58.6 73.6h1M68.8 70.1h1M60.2 88.6h1M66.5 64.0h1M57.7 63.4h1M64.0 69.7h1M69.1 84.6h1M63.1 71.9h1M64.8 75.8h1M52.9 85.0h1M64.5 82.5h1M51.8 83.3h1M51.0 75.6h1M62.2 77.3h1M60.8 79.8h1M59.0 77.4h1M57.2 76.2h1M70.7 70.8h1M68.1 67.2h1M59.7 73.1h1M72.8 68.3h1M72.5 62.0h1M61.4 83.6h1M68.3 66.1h1M52.8 83.2h1M52.5 80.5h1M58.5 75.2h1M69.5 62.7h1M65.3 75.7h1M61.9 87.4h1M48.8 78.1h1M63.7 68.4h1M76.6 63.7h1M62.9 76.0h1M54.8 82.4h1M70.3 80.6h1M64.4 70.6h1M72.1 87.5h1M69.2 65.8h1M63.3 64.0h1M69.9 64.3h1M60.9 67.7h1M58.8 79.4h1M58.1 77.2h1M54.5 87.9h1M57.4 84.4h1M54.6 73.3h1M72.1 70.8h1M65.7 68.5h1M67.2 64.1h1M64.0 67.0h1M71.8 71.3h1M67.6 79.8h1M49.1 80.6h1M61.1 86.9h1M73.2 69.3h1M57.7 76.9h1M67.9 71.4h1M61.6 80.7h1M66.0 85.8h1M64.5 67.0h1M48.2 82.6h1M59.8 71.9h1M59.3 66.9h1M77.6 79.2h1M60.8 76.6h1M68.5 68.1h1M60.7 71.8h1M70.7 69.9h1M60.3 63.7h1M71.9 64.5h1M65.6 78.1h1M57.2 75.5h1M61.7 70.5h1M62.9 75.5h1M54.1 63.1h1M55.5 76.2h1M73.9 88.7h1M65.1 83.8h1M63.5 85.3h1M63.5 78.7h1M60.1 75.0h1M78.1 63.9h1M62.5 69.5h1M70.4 91.9h1M67.5 80.7h1M48.5 72.8h1M68.0 79.1h1M64.4 65.1h1M56.6 69.1h1M66.4 65.8h1M74.6 78.5h1M63.7 69.8h1M53.9 87.6h1M72.9 71.8h1M54.4 83.7h1M62.0 76.9h1M67.6 64.9h1M57.1 68.7h1M68.4 81.9h1M65.3 80.0h1M66.3 74.2h1M60.4 73.6h1M64.2 72.7h1M69.9 62.1h1M60.0 79.0h1M75.6 69.2h1M63.7 85.7h1M62.0 68.0h1M63.9 65.8h1M69.5 80.7h1M58.0 70.7h1M50.0 74.1h1M69.5 84.2h1M67.1 82.5h1M57.3 70.4h1M72.3 79.0h1M55.6 79.5h1M69.2 81.4h1M63.1 69.9h1M65.6 90.7h1M63.5 68.5h1M65.1 63.2h1M64.1 71.9h1M70.2 75.7h1M71.0 96.3h1M60.4 66.9h1M66.0 73.9h1M63.4 69.1h1M66.8 75.4h1M65.0 85.8h1M57.4 67.2h1M71.8 69.0h1M63.1 79.1h1M68.3 74.8h1M52.9 84.2h1M58.6 69.8h1M78.9 82.9h1M53.4 70.2h1M60.1 67.7h1M68.6 77.0h1M58.8 76.7h1M67.5 64.9h1M59.4 69.5h1M67.9 77.1h1M51.4 68.9h1M76.8 65.6h1M63.4 68.8h1M72.5 74.1h1M58.5 63.7h1M60.1 82.4h1M67.7 62.3h1M75.1 72.3h1M53.4 75.8h1M57.0 69.2h1M56.9 73.8h1M66.4 69.8h1M72.0 79.6h1M67.2 76.3h1M72.8 71.6h1M53.9 77.8h1M63.9 70.7h1M72.5 81.1h1M63.0 70.9h1M71.1 68.3h1M58.6 81.5h1M67.0 93.5h1M67.5 86.3h1M60.7 89.1h1M76.8 68.4h1M58.1 62.9h1M66.5 81.2h1M67.1 63.1h1M55.7 61.3h1M48.7 62.0h1M49.0 72.9h1M65.5 80.3h1M61.9 68.3h1M61.9 79.8h1M59.6 75.0h1M59.5 69.7h1M62.3 64.2h1M65.8 61.9h1M74.5 82.6h1M55.3 70.3h1M52.7 74.0h1M65.4 98.2h1M50.7 86.0h1M57.2 77.1h1M69.2 79.5h1M65.5 72.7h1M61.9 75.9h1M58.0 63.0h1M54.1 67.1h1M71.0 94.4h1M73.2 63.5h1M62.6 64.0h1M65.7 86.3h1M66.8 82.6h1M66.7 86.3h1M59.1 75.2h1M64.1 84.3h1M61.4 64.4h1M70.9 78.3h1M65.1 62.7h1M58.4 79.7h1M73.8 74.2h1M76.7 69.1h1M68.3 62.8h1M63.0 71.6h1M60.3 79.9h1M55.3 75.6h1M65.2 71.1h1M58.9 63.8h1M66.5 68.3h1M65.6 61.3h1M73.2 65.1h1M71.5 70.4h1M66.5 73.2h1M67.6 74.5h1M72.4 80.7h1M67.6 89.9h1M56.3 86.5h1M65.9 72.6h1M75.8 70.0h1M62.4 76.7h1M53.8 87.5h1M75.7 74.4h1M49.0 76.2h1M63.4 81.1h1M59.6 63.5h1M60.8 66.0h1M76.5 68.0h1M56.6 74.1h1M51.8 70.4h1M60.9 70.0h1M59.9 86.0h1M65.6 62.2h1M58.5 81.4h1M56.7 75.3h1M61.8 79.4h1M60.5 73.2h1M55.0 77.8h1M54.4 90.5h1M61.8 72.4h1M68.5 73.7h1M62.7 74.0h1M56.1 66.0h1M56.3 84.9h1M56.9 70.8h1M58.3 80.9h1M78.2 66.0h1M66.5 75.6h1M59.5 79.2h1M51.6 82.2h1M63.8 65.3h1M75.1 82.3h1M71.5 61.1h1M59.8 69.7h1M67.1 87.0h1M61.0 83.7h1M61.7 62.8h1M60.4 65.0h1M55.6 74.9h1M58.1 77.1h1M49.6 95.9h1M72.3 81.1h1M54.9 72.4h1M57.7 85.6h1M72.0 74.6h1M72.0 77.5h1M56.6 63.7h1M61.0 83.7h1M76.9 70.5h1M68.0 91.6h1M50.1 64.8h1M61.0 76.6h1M70.6 86.7h1M62.9 71.4h1M61.7 77.3h1M72.7 75.7h1M76.9 66.6h1M66.4 90.7h1M72.5 77.6h1M54.8 67.9h1M60.7 77.4h1M60.0 61.1h1M56.0 79.3h1M68.8 61.6h1M62.5 71.3h1M57.2 63.4h1"/>
<path stroke="#3a84e6" stroke-opacity="0.8" stroke-width="1" fill="none" d="M59.2 87.8h1M53.0 79.8h1M66.7 61.5h1M63.5 64.1h1M62.9 87.8h1M60.5 78.7h1M57.3 78.7h1M65.7 75.1h1M59.9 79.5h1M64.3 64.0h1M60.8 71.2h1M62.8 84.5h1M61.9 86.4h1M55.9 73.4h1M55.9 77.0h1M60.9 75.0h1M54.9 75.9h1M58.5 81.1h1M59.3 85.4h1M61.6 62.3h1M59.7 65.5h1M65.0 87.5h1M60.4 79.9h1M57.9 74.5h1M53.5 77.2h1M61.9 81.4h1M67.6 82.7h1M58.8 77.3h1M63.3 68.5h1M66.6 83.4h1M59.5 71.6h1M78.0 83.0h1M64.8 90.3h1M65.0 78.1h1M63.8 69.5h1M63.8 64.7h1M62.5 80.8h1M53.3 91.3h1M55.2 84.6h1M58.1 78.9h1M57.5 95.7h1M65.3 90.5h1M64.2 81.9h1M61.3 74.8h1M63.4 77.9h1M59.9 66.1h1M59.2 81.3h1M58.4 79.3h1M59.9 68.7h1M56.4 71.0h1M59.3 74.7h1M65.8 68.3h1M51.2 81.9h1M58.5 75.8h1M72.4 87.9h1M63.3 84.0h1M61.2 84.1h1M57.8 71.2h1M58.5 88.9h1M67.8 72.0h1M66.0 75.5h1M65.6 74.3h1M65.0 75.9h1M59.3 76.6h1M61.4 72.3h1M54.3 89.8h1M58.8 62.8h1M57.8 87.2h1M53.1 74.3h1M52.2 85.3h1M62.4 79.3h1M66.9 89.5h1M65.4 72.3h1M54.5 68.7h1M52.6 90.7h1M59.8 77.8h1M61.6 92.4h1M58.1 85.9h1M62.1 75.6h1M51.8 83.9h1M57.2 73.3h1M61.7 77.5h1M65.9 71.6h1M61.4 79.0h1M60.8 82.1h1M59.5 86.1h1M57.4 65.7h1M60.5 85.9h1M58.3 72.0h1M59.1 78.1h1M59.9 79.2h1M52.7 88.4h1M63.4 70.2h1M67.0 80.3h1M67.5 67.7h1M68.4 77.2h1M51.2 82.6h1M59.3 69.0h1M59.7 61.8h1M63.4 75.2h1M59.4 87.7h1M60.9 71.7h1M56.3 76.3h1M65.6 72.3h1M55.9 83.9h1M61.0 76.6h1M70.4 67.4h1M61.6 63.1h1M59.3 81.4h1M65.9 67.0h1M64.6 82.9h1M60.1 95.8h1M60.7 70.0h1M62.7 62.4h1M67.9 84.4h1M58.8 81.6h1M63.2 91.8h1M57.8 66.8h1M51.3 74.5h1M53.4 75.5h1M62.6 73.4h1M56.3 86.0h1M59.8 78.6h1M65.1 66.7h1M56.4 96.1h1M60.0 68.8h1M59.5 72.4h1M55.0 73.7h1M60.6 76.7h1M63.2 63.4h1M53.8 82.9h1M58.6 86.2h1M62.1 65.9h1M63.2 69.0h1M61.9 86.3h1M70.5 76.3h1M63.9 79.1h1M58.9 79.1h1M62.9 71.0h1M64.5 85.3h1M61.0 75.1h1M59.0 77.9h1M66.1 88.4h1M58.5 69.6h1M57.0 84.4h1M61.7 79.1h1M62.9 79.7h1M60.1 68.8h1M57.8 77.7h1M62.5 74.0h1M58.8 87.3h1M58.5 78.5h1M59.2 70.2h1M53.7 72.7h1M56.9 83.3h1M55.4 73.6h1M63.7 75.9h1M63.0 83.2h1M53.0 73.6h1M56.3 87.2h1M60.1 80.6h1M68.5 74.1h1M61.0 79.9h1M59.5 86.4h1M64.4 84.5h1M60.9 74.2h1M59.1 74.0h1M53.1 79.6h1M64.4 76.7h1M58.4 77.1h1M61.7 79.3h1M68.9 70.3h1M62.3 82.1h1M61.0 75.0h1M56.0 72.3h1M63.9 87.9h1M57.7 80.4h1M63.1 84.5h1M61.8 80.2h1M64.8 67.9h1M60.9 63.4h1M51.7 70.5h1M53.7 80.6h1M65.2 74.5h1M60.0 75.0h1M59.5 77.8h1M62.3 73.3h1M57.1 72.8h1M64.3 73.6h1M67.3 74.9h1M66.9 67.7h1M57.5 80.4h1M62.9 75.6h1M69.9 77.3h1M62.0 72.5h1M68.2 83.2h1M62.5 64.4h1M62.3 73.2h1M62.4 83.7h1M57.3 78.4h1M64.6 78.0h1M59.2 68.8h1M57.6 67.2h1M65.1 77.5h1M55.2 76.7h1M66.1 85.6h1M54.0 71.3h1M61.6 73.9h1M56.8 72.9h1M59.6 72.6h1M61.6 75.0h1M57.2 76.9h1M53.1 87.6h1M52.8 76.1h1M62.2 79.8h1M61.8 86.2h1M55.6 76.2h1M61.3 73.0h1M58.0 86.4h1M57.4 73.1h1M59.4 75.1h1M61.4 75.2h1M62.3 77.7h1M62.8 87.0h1M56.8 89.1h1M58.6 81.7h1M61.3 74.5h1M51.8 88.8h1M57.2 70.8h1M65.4 77.2h1M69.2 89.3h1M63.8 78.6h1M64.0 66.8h1M61.4 77.8h1M58.5 78.6h1M54.1 83.4h1M66.4 67.0h1M61.3 88.2h1M62.5 69.0h1M56.2 83.0h1M68.8 68.6h1M60.8 70.9h1M59.3 79.0h1M60.4 71.5h1M70.0 75.5h1M59.8 84.9h1M60.6 75.1h1M64.8 68.9h1M63.9 84.3h1M63.5 75.3h1M60.6 63.9h1M60.0 78.8h1M64.5 77.7h1M58.9 70.4h1M60.4 77.6h1M66.0 76.7h1M58.4 75.8h1M58.4 74.9h1M50.7 64.8h1M55.3 80.1h1M60.2 77.7h1M65.8 68.9h1M65.7 79.5h1M57.4 87.7h1M54.2 68.3h1M59.7 79.6h1M59.3 76.0h1M71.9 86.8h1M61.1 68.5h1M62.1 68.0h1M61.5 79.3h1M58.8 78.5h1M59.1 72.4h1M67.4 80.9h1M59.2 70.9h1M61.4 80.8h1M64.4 87.5h1M62.6 68.3h1M69.6 85.2h1M64.3 86.5h1M54.0 73.9h1M58.3 85.4h1M55.3 74.2h1M67.3 81.4h1M58.9 90.5h1M54.7 80.0h1M59.6 80.4h1M59.3 70.4h1M61.5 66.9h1M62.9 74.2h1M64.7 73.3h1M57.6 79.5h1M66.0 61.3h1M61.1 81.2h1M54.2 70.1h1M63.4 70.5h1M57.7 89.3h1M56.4 70.2h1M50.3 68.5h1M55.1 89.3h1M65.9 67.2h1M69.3 82.3h1M59.7 82.6h1M62.2 70.9h1M52.7 69.8h1M60.5 73.9h1M57.3 83.8h1M55.8 83.2h1M58.4 77.4h1M55.6 76.5h1M57.1 63.7h1M60.4 76.2h1M64.2 78.7h1M56.0 72.0h1M49.5 68.3h1M66.3 87.8h1M63.9 78.8h1M63.1 80.1h1M52.8 70.1h1M65.8 85.3h1M61.6 74.3h1M58.8 72.5h1M56.4 62.3h1M61.2 73.2h1M59.6 89.2h1M63.2 71.3h1M63.1 65.4h1M65.2 78.5h1M59.7 80.8h1M67.0 73.1h1M56.1 92.2h1M60.6 87.6h1M57.5 79.3h1M57.7 81.2h1M59.3 71.6h1M67.4 79.1h1M51.5 74.8h1M56.4 67.5h1M57.9 73.0h1M60.7 70.6h1M52.2 72.5h1M64.4 66.4h1M63.3 79.9h1M58.5 78.8h1M57.2 73.5h1M56.0 80.0h1M66.6 71.5h1M56.6 69.0h1M68.2 72.1h1M64.0 61.2h1M61.0 80.7h1M61.3 82.6h1M66.4 79.5h1M52.9 74.9h1M64.6 70.4h1M63.0 72.9h1M60.9 82.2h1M57.3 97.9h1M61.2 79.1h1M57.2 77.0h1M59.3 65.6h1M53.6 78.6h1M50.9 74.2h1M60.2 81.1h1M54.9 80.9h1M59.1 72.7h1M59.9 83.9h1M63.0 83.2h1M57.4 74.4h1M55.3 72.3h1M58.7 73.0h1M63.7 79.7h1M63.9 77.5h1M65.3 77.4h1M64.8 80.3h1M63.8 76.0h1M54.9 65.7h1M69.3 79.4h1M62.5 75.2h1M58.4 98.0h1M55.5 76.0h1M60.3 68.0h1M54.8 71.2h1M59.0 72.9h1M64.2 67.7h1M62.3 87.5h1M64.5 68.0h1M62.7 72.1h1M66.3 73.5h1M61.0 68.7h1M61.9 73.3h1M58.2 84.6h1M61.5 65.3h1M63.6 82.8h1M56.8 73.6h1M60.7 74.6h1M61.1 81.4h1M58.3 92.1h1M57.3 72.5h1M69.4 94.4h1M60.7 75.1h1M55.7 85.1h1M61.3 70.2h1M62.3 86.8h1M63.6 93.1h1M65.7 79.8h1M60.4 80.6h1M66.0 82.9h1M65.2 78.2h1M63.9 85.6h1M59.8 66.8h1M68.3 80.9h1M58.5 78.3h1M59.4 63.7h1M59.7 65.8h1M61.4 75.7h1M65.6 75.6h1M62.2 74.3h1M58.8 66.0h1M65.0 77.8h1M57.9 78.1h1M58.6 71.1h1M61.6 85.6h1M59.3 65.8h1M57.7 90.0h1M56.8 85.4h1M59.4 82.1h1M60.0 64.7h1M58.6 92.3h1M59.9 80.7h1M59.0 75.5h1M62.0 80.1h1M70.5 76.4h1M59.7 71.5h1M54.6 64.4h1M63.5 62.5h1M66.8 83.0h1M59.2 67.9h1M60.6 76.7h1M65.6 71.0h1M58.8 76.1h1M59.3 71.8h1M52.8 64.2h1M57.5 74.8h1M65.0 93.8h1M68.2 79.5h1M69.0 75.7h1M58.1 93.9h1M55.7 73.4h1M59.3 87.5h1M57.8 82.4h1M58.7 67.4h1M61.6 77.8h1M55.3 70.0h1M57.0 83.8h1M62.6 78.3h1M62.7 73.0h1M62.7 72.0h1M54.5 71.3h1M61.5 77.2h1M65.3 63.9h1M59.5 79.5h1M56.2 78.4h1M58.7 68.1h1M65.6 66.1h1M65.0 73.4h1M56.3 69.9h1M57.2 70.2h1M61.7 62.5h1M66.1 82.8h1M66.8 69.2h1M50.1 71.9h1M59.8 78.8h1M58.2 75.9h1M61.2 65.0h1M68.7 68.1h1M61.7 84.7h1M57.0 76.6h1M67.9 74.5h1M65.2 78.8h1M61.6 82.0h1M59.5 75.0h1M64.9 78.5h1M62.8 67.6h1M60.6 85.7h1M64.6 79.2h1M58.2 72.0h1M62.5 87.2h1M60.8 86.4h1M59.2 85.6h1M56.1 78.0h1M55.8 81.6h1M63.1 69.5h1M57.2 73.3h1M53.9 69.7h1M56.7 82.5h1M66.8 73.3h1M59.3 78.2h1M58.2 74.5h1M64.3 78.3h1M60.2 72.3h1M67.2 72.0h1M61.1 68.9h1M57.9 77.3h1M58.8 80.6h1M60.9 66.3h1M50.2 84.1h1M57.9 87.7h1M60.6 70.9h1M63.1 74.6h1M60.6 69.6h1M63.4 84.8h1M58.2 90.0h1M58.0 78.5h1M53.2 62.2h1M70.0 87.3h1M65.7 63.9h1M61.6 79.7h1M60.9 78.8h1M56.4 75.4h1M55.4 74.0h1M62.2 70.7h1M59.3 73.4h1M60.6 83.5h1M61.6 79.5h1M54.1 73.9h1M64.2 70.1h1M58.6 69.3h1M66.5 73.2h1M57.3 81.2h1M65.5 80.3h1M65.0 78.2h1M60.0 73.3h1M58.3 72.1h1M62.2 75.7h1M60.9 81.1h1M60.3 66.3h1M57.0 68.2h1M52.0 77.3h1M55.1 66.9h1M55.7 83.1h1"/>
<path stroke="#6a5ad0" stroke-opacity="0.6" stroke-width="1" fill="none" d="M58.8 86.5h1M59.7 77.9h1M62.3 84.1h1M60.5 74.3h1M58.2 73.5h1M59.0 81.1h1M65.9 89.0h1M62.7 86.2h1M60.9 97.1h1M66.1 96.4h1M61.5 83.0h1M64.2 81.7h1M61.3 74.6h1M63.8 81.3h1M63.2 79.2h1M52.9 83.5h1M64.7 72.8h1M56.1 78.7h1M59.0 70.3h1M67.0 86.6h1M57.5 69.6h1M61.5 92.4h1M63.3 87.4h1M56.2 81.9h1M54.0 92.4h1M62.3 67.9h1M52.6 83.4h1M60.6 78.6h1M62.5 92.5h1M61.5 69.7h1M59.4 72.6h1M56.8 82.4h1M59.3 74.1h1M59.9 75.6h1M62.1 79.0h1M61.5 78.9h1M63.0 79.6h1M59.9 77.1h1M60.5 69.8h1M70.6 76.4h1M60.4 77.6h1M58.0 82.9h1M57.9 77.9h1M54.4 74.9h1M55.3 91.2h1M54.6 74.0h1M60.7 89.0h1M53.2 71.1h1M60.4 82.4h1M54.3 69.6h1M56.1 84.9h1M59.8 84.9h1M59.5 80.2h1M62.4 79.7h1M60.9 74.9h1M57.5 83.2h1M59.0 75.9h1M62.6 83.7h1M59.9 75.8h1M63.5 95.4h1M56.6 71.1h1M56.8 74.8h1M54.9 73.3h1M63.3 85.5h1M65.8 84.8h1M58.0 86.9h1M57.5 78.3h1M55.2 87.7h1M63.9 77.6h1M58.7 80.6h1M60.7 85.4h1M60.2 82.7h1M53.9 78.5h1M52.7 91.0h1M65.5 84.6h1M64.3 92.4h1M63.6 70.8h1M59.1 66.2h1M56.6 72.9h1M59.8 82.7h1M56.2 78.6h1M61.0 79.4h1M59.2 65.9h1M58.1 85.1h1M60.9 71.4h1M58.8 81.9h1M56.0 84.3h1M56.7 78.3h1M59.4 93.6h1M58.6 76.9h1"/>
<path stroke="#a070d0" stroke-opacity="0.7" stroke-width="0.9" fill="none" d="M64.4 96.2h0.9M60.3 88.1h0.9M61.1 98.2h0.9M48.4 104.4h0.9M56.8 97.4h0.9M48.2 91.0h0.9M54.2 91.4h0.9M62.6 102.2h0.9M53.6 91.0h0.9M55.5 93.5h0.9M60.0 99.1h0.9M55.3 98.6h0.9M54.5 101.5h0.9M56.8 93.5h0.9M68.9 100.0h0.9M59.8 99.9h0.9M57.4 93.5h0.9M72.9 102.3h0.9M60.8 102.6h0.9M69.0 97.4h0.9M63.4 96.8h0.9M63.8 97.1h0.9M78.1 96.7h0.9M62.8 100.3h0.9M56.0 102.5h0.9M58.0 96.4h0.9M58.7 94.9h0.9M68.2 101.1h0.9M66.5 92.2h0.9M60.8 94.8h0.9M59.4 104.0h0.9M60.7 97.5h0.9M67.6 102.8h0.9M73.5 89.9h0.9M61.3 96.4h0.9M51.7 98.8h0.9M49.4 88.2h0.9M51.4 97.1h0.9M73.6 95.0h0.9M49.3 89.4h0.9M55.9 97.2h0.9M59.9 91.8h0.9M52.6 88.1h0.9M60.0 91.2h0.9M62.7 99.8h0.9M61.5 93.6h0.9M67.3 93.5h0.9M74.0 99.3h0.9M74.5 97.1h0.9M67.2 97.3h0.9M53.7 86.7h0.9M68.6 96.3h0.9M61.7 93.2h0.9M51.4 103.3h0.9M55.6 96.5h0.9M48.6 99.2h0.9M64.9 96.2h0.9M57.2 92.8h0.9M69.9 95.5h0.9M56.9 91.3h0.9M51.3 96.7h0.9M73.0 99.3h0.9M56.9 102.0h0.9M69.2 94.9h0.9M70.2 102.2h0.9M62.3 87.6h0.9M59.3 93.7h0.9M63.5 99.6h0.9M65.5 97.3h0.9M69.3 95.8h0.9M59.8 92.7h0.9M52.3 99.2h0.9M53.5 96.3h0.9M57.1 99.5h0.9M65.0 101.8h0.9M67.1 99.3h0.9M54.4 91.1h0.9M56.0 94.7h0.9M63.3 97.3h0.9M52.3 91.8h0.9M50.7 95.4h0.9M59.2 99.9h0.9M76.9 95.1h0.9M57.8 101.5h0.9M68.6 95.3h0.9M51.0 93.7h0.9M67.7 102.5h0.9M48.8 91.5h0.9M62.1 99.4h0.9M74.7 102.0h0.9M59.8 103.7h0.9M51.6 92.0h0.9M59.1 102.6h0.9M65.8 96.1h0.9M60.2 97.1h0.9M59.5 102.0h0.9M52.3 103.1h0.9M65.9 102.5h0.9M64.4 95.7h0.9M53.2 94.9h0.9M53.0 95.4h0.9M62.7 92.9h0.9M68.0 88.2h0.9M63.6 102.5h0.9M58.8 101.8h0.9M57.9 90.3h0.9M61.6 103.6h0.9M54.3 90.6h0.9M53.9 99.8h0.9M61.3 103.4h0.9M63.4 100.7h0.9M59.2 102.3h0.9M56.0 97.7h0.9M71.2 101.2h0.9M75.0 96.5h0.9M63.1 96.3h0.9M69.4 98.5h0.9M61.5 96.9h0.9M56.2 103.3h0.9M56.9 101.9h0.9M56.7 98.3h0.9M49.0 96.5h0.9M64.7 96.3h0.9M57.7 94.3h0.9M60.6 97.9h0.9M72.6 100.6h0.9M53.4 92.2h0.9M58.9 97.4h0.9M69.8 97.3h0.9M62.1 93.6h0.9M48.7 95.0h0.9M60.8 95.4h0.9"/>
<path stroke="#60c4f0" stroke-opacity="0.6" stroke-width="0.9" fill="none" d="M75.6 97.6h0.9M49.3 94.8h0.9M48.7 95.9h0.9M48.7 92.6h0.9M73.3 91.6h0.9M59.8 96.2h0.9M78.3 103.3h0.9M58.1 95.4h0.9M61.1 98.9h0.9M70.4 102.8h0.9M78.3 92.0h0.9M77.2 96.0h0.9M60.0 96.0h0.9M69.8 101.1h0.9M50.0 104.0h0.9M66.3 90.6h0.9M68.7 98.6h0.9M56.9 90.5h0.9M69.0 95.0h0.9M57.8 96.5h0.9M72.5 94.7h0.9M50.3 96.6h0.9M64.7 95.9h0.9M78.4 97.9h0.9M68.1 94.2h0.9M78.1 96.3h0.9M78.3 93.7h0.9M72.4 96.8h0.9M73.7 101.1h0.9M71.5 90.9h0.9M73.3 92.7h0.9M73.2 102.3h0.9M75.6 94.8h0.9M48.2 91.5h0.9M49.2 102.3h0.9M62.8 98.9h0.9M71.0 94.4h0.9M61.4 96.2h0.9M60.2 103.4h0.9M48.6 101.1h0.9M67.4 94.6h0.9M78.6 94.0h0.9M67.7 98.9h0.9M55.8 92.3h0.9M68.3 93.9h0.9M59.8 102.5h0.9M59.7 101.3h0.9M49.8 90.8h0.9M70.8 97.2h0.9M48.0 96.4h0.9M74.9 101.5h0.9M48.2 96.8h0.9M72.9 93.9h0.9M59.2 103.1h0.9M59.2 93.4h0.9M63.7 100.2h0.9M53.9 94.7h0.9M54.6 99.7h0.9M70.8 93.0h0.9M77.1 103.6h0.9M52.5 96.0h0.9M56.8 100.7h0.9M70.0 97.5h0.9M77.3 98.5h0.9M60.3 92.2h0.9M72.6 98.6h0.9M70.7 98.4h0.9M71.8 103.9h0.9"/>
<rect x="47.5" y="60.3" width="33.0" height="44.9" fill="none" stroke="#262626" stroke-width="1"/>
<text x="67.8" y="100.2" font-size="7.3" text-anchor="start" fill="#111" textLength="8.5" lengthAdjust="spacingAndGlyphs" stroke="#111" stroke-width="0.1">P5</text>
<path d="M69.5 106.6v2.8M77.1 106.6v1.8M81.5 106.6v1.8M84.7 106.6v1.8M87.1 106.6v1.8M89.1 106.6v1.8M90.8 106.6v1.8M92.3 106.6v1.8M93.5 106.6v1.8M94.7 106.6v2.8M102.0 106.6v1.8M106.3 106.6v1.8M109.3 106.6v1.8M111.7 106.6v1.8M113.6 106.6v1.8M115.2 106.6v1.8M116.6 106.6v1.8M117.9 106.6v1.8M119.0 106.6v2.8M126.4 106.6v1.8M130.7 106.6v1.8M133.8 106.6v1.8M136.1 106.6v1.8M138.1 106.6v1.8M139.7 106.6v1.8M141.1 106.6v1.8M142.4 106.6v1.8M143.5 106.6v2.8" stroke="#555" stroke-width="0.6" fill="none"/>
<path d="M50.0 106.6v1.8M53.4 106.6v1.8M56.8 106.6v1.8M60.2 106.6v1.8M63.6 106.6v1.8M67.0 106.6v1.8" stroke="#555" stroke-width="0.6" fill="none"/>
<path d="M47.0 21.4h-2.8M47.0 28.1h-1.8M47.0 32.0h-1.8M47.0 34.8h-1.8M47.0 36.9h-1.8M47.0 38.7h-1.8M47.0 40.2h-1.8M47.0 41.4h-1.8M47.0 42.6h-1.8M47.0 43.6h-2.8M47.0 50.6h-1.8M47.0 54.7h-1.8M47.0 57.6h-1.8M47.0 59.9h-1.8M47.0 61.7h-1.8M47.0 63.3h-1.8M47.0 64.6h-1.8M47.0 65.8h-1.8M47.0 66.9h-2.8" stroke="#555" stroke-width="0.6" fill="none"/>
<rect x="47.5" y="11.6" width="107.6" height="94.5" fill="none" stroke="#3a3a3a" stroke-width="1.1"/>
<text x="42.9" y="24.0" font-size="6.4" fill="#111" stroke="#111" stroke-width="0.1" transform="rotate(-90 42.9 24.0)">10<tspan font-size="4.5" dy="-4.9">5</tspan></text>
<text x="42.9" y="46.2" font-size="6.4" fill="#111" stroke="#111" stroke-width="0.1" transform="rotate(-90 42.9 46.2)">10<tspan font-size="4.5" dy="-4.9">4</tspan></text>
<text x="42.9" y="69.5" font-size="6.4" fill="#111" stroke="#111" stroke-width="0.1" transform="rotate(-90 42.9 69.5)">10<tspan font-size="4.5" dy="-4.9">3</tspan></text>
<text x="43.2" y="86.8" font-size="6" text-anchor="middle" fill="#111" transform="rotate(-90 43.2 86.8)">0</text>
<text x="36.8" y="106.1" font-size="5.7" text-anchor="middle" fill="#111" transform="rotate(-90 36.8 106.1)" textLength="11.2" lengthAdjust="spacingAndGlyphs" stroke="#111" stroke-width="0.08">-807</text>
<text x="29.6" y="59.6" font-size="8.3" text-anchor="middle" fill="#1a1a1a" transform="rotate(-90 29.6 59.6)" stroke="#1a1a1a" stroke-width="0.1">CD45</text>
<text x="38.9" y="113.2" font-size="6.2" text-anchor="start" font-weight="bold" fill="#1414b4" textLength="5.2" lengthAdjust="spacingAndGlyphs" stroke="#1414b4" stroke-width="0.25">M</text>
<text x="42" y="120.1" font-size="5" text-anchor="start" fill="#111" textLength="8.5" lengthAdjust="spacingAndGlyphs">-40</text>
<text x="54.2" y="117.3" font-size="5.8" text-anchor="middle" fill="#111">0</text>
<text x="66.3" y="117.3" font-size="6.4" fill="#111" stroke="#111" stroke-width="0.1">10<tspan font-size="4.5" dy="-4.2">2</tspan></text>
<text x="92" y="117.4" font-size="6.4" fill="#111" stroke="#111" stroke-width="0.1">10<tspan font-size="4.5" dy="-4.2">3</tspan></text>
<text x="116.3" y="117.4" font-size="6.4" fill="#111" stroke="#111" stroke-width="0.1">10<tspan font-size="4.5" dy="-4.2">4</tspan></text>
<text x="140.5" y="117.4" font-size="6.4" fill="#111" stroke="#111" stroke-width="0.1">10<tspan font-size="4.5" dy="-4.2">5</tspan></text>
<text x="105.5" y="130.8" font-size="8.3" text-anchor="middle" fill="#1a1a1a" textLength="15" lengthAdjust="spacingAndGlyphs" stroke="#1a1a1a" stroke-width="0.1">CD3</text>
<path stroke="#1ebcec" stroke-opacity="0.9" stroke-width="1" fill="none" d="M215.7 105.6h1M219.0 84.6h1M217.7 47.7h1M221.6 59.5h1M219.1 50.2h1M221.2 64.9h1M214.5 81.9h1M222.5 80.6h1M216.9 83.8h1M214.7 69.6h1M215.3 102.3h1M217.6 73.7h1M223.0 61.7h1M221.7 72.3h1M215.9 70.6h1M219.8 58.3h1M219.2 81.9h1M214.7 79.2h1M216.5 48.4h1M213.2 65.5h1M216.8 54.5h1M211.3 67.8h1M217.1 57.6h1M216.6 51.6h1M217.0 69.8h1M217.0 50.0h1M223.1 51.5h1M218.4 91.0h1M220.2 60.9h1M221.8 93.4h1M222.3 72.4h1M221.6 81.6h1M217.8 97.6h1M216.1 53.8h1M217.1 48.9h1M218.0 68.7h1M219.5 104.7h1M219.2 69.0h1M222.9 72.1h1M219.2 83.9h1M225.0 47.6h1M222.7 83.1h1M218.0 86.9h1M222.1 102.0h1M210.7 86.2h1M223.7 87.5h1M220.8 53.1h1M220.7 74.2h1M214.3 60.1h1M227.2 65.8h1M218.7 52.0h1M219.1 70.7h1M223.0 56.5h1M218.9 65.7h1M216.9 49.5h1M221.5 106.0h1M216.4 72.1h1M221.8 67.5h1M219.9 88.8h1M223.0 92.5h1M215.8 88.2h1M223.3 66.5h1M220.4 80.2h1M225.6 73.3h1M217.5 92.8h1M225.2 71.0h1M221.7 102.9h1M221.9 72.3h1M217.3 60.7h1M221.2 99.6h1M221.6 51.6h1M217.1 77.0h1M224.0 66.6h1M220.0 54.3h1M222.4 74.5h1M220.4 90.7h1M219.9 59.9h1M220.2 88.7h1M218.2 66.1h1M223.2 80.0h1M220.0 95.1h1M220.2 76.6h1M215.3 87.0h1M220.4 68.3h1M217.4 82.4h1M218.0 96.3h1M222.7 100.4h1M216.1 104.5h1M218.9 64.7h1M221.4 53.6h1M223.0 49.2h1M217.9 56.8h1M220.5 90.5h1M220.4 58.8h1M216.0 93.5h1M212.9 50.7h1M213.6 94.6h1M221.3 71.9h1M219.8 57.0h1M215.4 83.2h1M217.5 92.8h1M218.3 50.9h1M218.4 72.3h1M219.4 53.2h1M226.3 104.7h1M217.1 73.3h1M219.9 75.6h1M217.1 83.4h1M217.6 96.6h1M216.8 103.8h1M218.8 71.7h1M217.8 72.8h1M220.6 97.7h1M220.2 91.8h1M216.8 88.4h1M225.4 95.7h1M215.9 103.4h1M220.6 50.6h1M226.1 81.7h1M217.3 63.3h1M223.6 102.6h1M223.8 48.8h1M220.5 71.5h1M213.8 75.7h1M223.9 52.3h1M219.8 67.4h1M217.8 70.4h1M223.4 53.6h1M217.3 93.6h1M222.8 68.7h1M217.8 75.2h1M221.1 95.7h1M216.2 102.3h1M218.3 63.0h1M216.7 92.7h1M217.3 65.3h1M220.1 104.6h1M219.0 102.9h1M220.1 77.2h1M223.4 53.0h1M219.1 98.7h1M213.8 88.5h1M218.6 95.0h1M219.7 78.3h1M222.6 105.2h1M222.7 68.9h1M222.4 93.7h1M218.8 53.4h1M221.5 102.7h1M215.1 67.7h1M223.5 55.9h1M220.8 72.8h1M221.1 55.4h1M218.3 82.0h1M219.7 85.6h1M217.4 61.9h1M221.2 52.9h1M215.4 98.3h1M222.5 88.3h1M221.2 84.7h1M225.7 105.1h1M219.4 54.0h1M219.2 79.1h1M220.1 50.6h1M219.6 99.5h1M219.2 98.1h1M216.1 71.2h1M216.1 82.9h1M217.8 92.0h1M218.6 86.4h1M215.9 89.3h1M215.9 63.4h1M218.6 91.0h1M221.8 92.2h1M218.9 76.7h1M221.6 80.0h1M222.5 71.9h1M221.9 84.1h1M218.2 102.2h1M218.3 49.6h1M213.8 93.6h1M217.4 91.2h1M220.9 73.5h1M216.2 60.1h1M223.6 85.1h1M223.9 93.3h1M218.4 56.7h1M222.3 81.3h1M215.2 92.2h1M216.3 63.5h1M218.4 97.0h1M219.5 80.2h1M218.9 52.1h1M216.9 97.5h1M225.5 49.5h1M220.4 97.0h1M220.4 80.6h1M221.6 47.9h1M220.0 56.5h1M218.8 55.1h1M217.8 86.3h1M214.5 93.5h1M224.1 69.3h1M216.7 86.2h1M214.4 81.2h1M217.0 99.0h1M214.6 61.9h1M225.6 55.1h1M220.6 72.1h1M223.8 97.6h1M224.0 62.9h1M221.2 96.5h1M221.3 52.8h1M217.3 99.0h1M219.2 74.3h1M217.6 97.3h1M219.6 75.4h1M217.4 79.1h1M223.4 89.2h1M221.8 57.5h1M219.2 49.0h1M214.4 70.8h1M221.6 55.5h1M222.2 61.2h1M219.3 57.6h1M215.6 54.6h1M220.8 98.4h1M222.7 84.8h1M213.6 68.7h1M221.2 100.9h1M213.9 48.1h1M219.7 102.2h1M224.8 95.4h1M219.8 75.6h1M221.0 103.7h1M218.5 68.3h1M219.5 55.9h1M226.7 53.6h1M223.6 91.3h1M218.5 65.4h1M218.3 63.5h1M219.6 95.8h1M226.2 99.8h1M220.1 70.6h1M222.9 68.2h1M218.4 78.4h1M215.6 71.7h1M223.5 100.3h1M219.3 79.4h1M217.1 63.5h1M217.4 47.8h1M217.4 104.2h1M217.6 67.7h1M214.8 104.0h1M223.2 100.7h1M220.7 73.1h1M222.5 61.3h1M218.4 90.9h1M220.6 53.2h1M220.0 51.2h1M223.1 49.2h1M222.0 81.5h1M220.6 94.3h1M217.5 86.3h1M215.8 103.1h1M217.1 52.3h1M217.6 91.5h1M217.9 89.6h1M215.7 90.8h1M224.6 78.3h1M220.3 55.6h1M213.3 68.2h1M216.2 62.1h1M215.4 105.0h1M220.2 94.0h1M222.8 102.3h1M216.5 82.1h1M221.4 51.0h1M218.7 92.3h1M223.0 69.2h1M223.7 86.6h1M220.4 73.8h1M221.7 81.6h1M219.5 57.2h1M218.4 101.4h1M216.0 66.4h1M220.5 99.2h1M219.3 101.9h1M218.3 81.8h1M219.3 57.2h1M218.9 71.6h1M216.3 77.9h1M217.9 64.9h1M223.0 52.0h1M218.8 104.6h1M223.7 83.8h1M216.0 78.2h1M215.4 53.5h1M219.9 78.8h1M221.9 96.0h1M217.5 58.4h1M221.4 102.4h1M222.3 59.7h1M222.8 55.4h1M219.2 93.6h1M219.3 58.7h1M214.5 100.6h1M219.6 63.3h1M220.4 52.7h1M223.8 84.7h1M215.6 48.6h1M216.9 54.1h1M216.5 82.6h1M222.2 92.1h1M211.8 77.7h1M216.2 97.4h1M225.8 57.6h1M221.5 95.6h1M215.5 74.5h1M219.3 98.9h1M222.1 55.8h1M221.2 79.8h1M218.8 53.1h1M217.1 57.7h1M222.0 68.7h1M219.5 80.7h1M222.0 81.2h1M220.7 62.1h1M218.1 65.8h1M223.9 105.5h1M218.0 49.1h1M220.8 71.4h1M217.6 98.3h1M218.8 88.5h1M218.7 82.1h1M217.5 56.9h1M220.2 62.7h1M225.1 81.5h1M223.9 64.9h1M219.0 103.3h1M223.9 96.5h1M220.8 92.9h1M224.9 61.4h1M215.7 71.8h1M224.0 98.1h1M217.7 64.5h1M223.0 105.3h1M218.1 72.5h1M222.3 77.8h1M218.6 93.5h1M213.8 53.4h1M216.6 84.8h1M218.8 83.6h1M219.6 57.6h1M212.7 57.7h1M215.9 49.2h1M217.3 69.6h1M218.9 86.0h1M220.2 51.9h1M217.0 78.5h1M214.9 57.9h1M220.4 96.7h1M218.5 51.7h1M222.2 47.8h1M217.9 87.5h1M221.5 68.7h1M216.8 102.1h1M220.3 70.8h1M219.8 94.9h1M220.9 76.2h1M216.7 76.9h1M219.1 70.8h1M216.9 89.4h1M219.0 49.5h1M221.4 96.2h1M228.5 87.1h1M219.6 91.4h1M221.7 53.7h1M219.8 90.5h1M222.9 78.4h1M220.9 90.5h1M222.7 79.0h1M220.6 100.9h1M226.8 96.1h1M223.7 81.7h1M220.4 78.7h1M219.7 68.3h1M212.8 99.3h1M216.9 58.7h1M218.1 93.6h1M217.3 80.4h1M219.9 106.5h1M214.1 50.4h1M221.8 65.3h1M221.8 102.9h1M220.6 82.4h1M218.5 60.2h1M219.5 89.7h1M218.1 77.1h1M223.0 81.8h1M221.0 57.9h1M225.5 49.3h1M218.4 101.9h1M223.9 87.4h1M217.8 105.7h1M219.0 77.3h1M216.4 63.7h1M221.1 50.5h1M219.3 80.9h1M221.4 94.3h1M224.0 103.1h1M219.3 70.2h1M220.7 63.7h1M222.2 61.8h1M219.3 103.7h1M217.9 88.2h1M220.6 79.5h1M221.0 102.7h1M221.9 92.3h1M222.0 79.5h1M217.5 93.9h1M220.9 87.4h1M223.2 92.6h1M218.1 67.6h1M220.6 89.7h1M217.7 57.2h1M220.0 50.2h1M224.7 77.5h1M220.0 93.3h1M216.6 60.9h1M220.6 100.8h1M220.2 75.5h1M222.9 87.4h1M215.4 99.7h1M216.8 95.4h1M219.3 86.6h1M214.8 64.2h1M222.9 58.1h1M213.4 81.8h1M217.0 83.0h1M215.1 83.4h1M217.5 71.3h1M221.9 58.1h1M221.3 103.1h1M222.3 88.1h1M221.3 89.0h1M213.4 49.0h1M220.4 79.3h1M214.0 79.4h1M218.0 52.0h1M218.3 60.5h1M217.9 56.9h1M221.0 84.6h1M217.1 99.8h1M224.7 85.3h1M221.3 67.1h1M223.1 98.3h1M221.8 80.5h1M222.2 96.8h1M219.4 82.4h1M225.4 57.1h1M216.4 73.2h1M220.9 63.5h1M219.5 66.3h1M218.9 50.8h1M220.5 93.8h1M217.3 81.3h1M222.1 66.7h1M221.9 90.3h1M219.8 75.8h1M221.7 51.9h1M216.4 95.7h1M214.1 96.0h1M217.8 80.7h1M218.8 86.3h1M227.0 81.1h1M218.8 64.9h1M222.6 50.9h1M222.1 86.4h1M225.9 64.4h1M219.9 92.1h1M221.5 66.0h1M218.9 70.7h1M216.9 101.7h1M216.5 54.2h1M217.2 63.4h1M223.8 89.0h1M220.4 73.1h1M219.1 99.6h1M219.6 54.9h1M217.8 48.5h1M219.4 95.5h1M219.4 56.9h1M221.5 64.5h1M222.3 59.3h1M214.6 73.6h1M220.2 101.9h1M223.7 76.6h1M216.5 90.9h1M218.8 56.9h1M220.0 79.6h1M222.8 60.8h1M221.3 60.7h1M218.9 66.0h1M221.0 70.7h1M222.6 90.6h1M220.7 53.6h1M225.1 63.2h1M220.8 105.7h1M216.4 69.1h1M217.2 48.8h1M219.1 99.7h1M218.9 47.9h1M221.4 70.2h1M220.6 90.3h1M224.7 104.0h1M222.0 101.0h1M224.0 103.7h1M217.2 83.1h1M218.3 105.5h1M221.6 61.5h1M219.8 66.8h1M221.4 86.7h1M220.3 85.1h1M217.7 96.7h1M224.7 54.9h1M223.0 69.9h1M214.9 85.1h1M217.7 52.7h1M219.6 77.8h1M221.6 100.2h1M219.3 49.0h1M215.5 97.6h1M222.0 90.6h1M218.9 73.3h1M223.2 60.5h1M220.5 94.5h1M222.6 68.8h1M222.1 85.2h1M222.2 55.2h1M218.0 93.2h1M222.6 102.5h1M220.2 102.7h1M215.8 106.3h1M218.4 51.3h1M218.5 96.2h1M221.0 62.1h1M221.6 53.9h1M216.2 95.2h1M221.7 101.2h1M219.4 51.6h1M216.4 60.0h1M222.1 76.0h1M217.3 99.5h1M216.0 75.3h1M221.8 50.3h1M222.3 91.4h1M217.6 104.7h1M222.7 57.1h1M222.6 96.9h1M218.0 104.9h1M225.6 72.6h1M219.4 97.5h1M220.2 85.6h1M212.4 106.2h1M221.5 87.8h1M217.7 64.9h1M220.9 89.9h1M214.5 67.5h1M223.0 68.7h1M223.9 47.7h1M225.2 52.3h1M210.7 58.6h1M221.3 87.6h1M220.6 78.6h1M210.5 71.3h1M217.4 84.1h1M219.3 66.6h1M223.9 67.2h1M217.1 84.1h1M220.2 92.4h1M219.4 91.8h1M220.7 80.7h1M218.4 106.2h1M222.5 103.3h1M215.5 65.2h1M223.0 92.0h1M217.4 54.0h1M223.0 81.7h1M219.9 51.7h1M221.3 55.1h1M222.0 86.3h1M221.4 88.4h1M218.0 69.7h1M216.8 74.3h1M221.7 96.1h1M221.9 94.5h1M220.7 92.9h1M219.1 70.2h1M222.2 68.5h1M219.6 87.0h1M215.5 53.2h1M220.5 88.1h1M221.2 88.8h1M222.0 93.5h1M217.0 62.3h1M217.4 68.0h1M220.6 62.0h1M218.3 73.9h1M219.5 85.7h1M222.5 74.8h1M220.8 100.3h1M225.1 82.6h1M220.5 95.2h1M224.8 105.2h1M222.9 95.3h1M227.3 60.5h1M219.7 68.0h1M219.4 50.4h1M223.6 71.7h1M218.2 74.1h1M218.3 66.9h1M220.4 70.1h1M220.8 59.7h1M215.5 96.8h1M220.5 71.1h1M218.8 48.7h1M219.6 74.2h1M220.3 69.5h1M219.2 58.3h1M222.9 89.6h1M221.2 72.4h1M219.2 94.3h1M220.0 84.3h1M222.9 104.9h1M222.1 67.7h1M223.5 49.8h1M219.4 58.5h1M220.2 92.9h1M225.8 59.2h1M219.7 83.1h1M224.8 54.3h1M222.3 98.8h1M218.5 70.6h1M215.6 65.0h1M221.7 100.9h1M217.7 89.7h1M217.7 83.6h1M214.6 101.8h1M223.3 95.9h1M220.1 48.0h1M219.9 102.1h1M221.0 59.4h1M220.5 91.2h1M220.1 65.5h1M221.3 65.3h1M219.0 72.9h1M212.1 47.9h1M222.0 98.2h1M221.1 63.5h1M219.9 85.7h1M224.5 56.2h1M215.7 53.3h1M211.2 48.6h1M224.2 76.7h1M221.0 72.5h1M214.9 90.7h1M218.6 73.4h1M221.7 77.9h1M216.2 81.6h1M221.5 56.2h1M226.1 70.0h1M224.0 97.5h1M220.8 76.7h1M217.0 66.2h1M220.2 98.7h1M218.8 80.3h1M216.9 50.0h1M215.8 57.2h1M225.6 85.9h1M220.1 54.9h1M216.8 79.2h1M218.6 105.5h1M224.2 78.6h1M224.6 74.8h1M218.0 95.6h1M220.4 79.0h1M222.5 97.8h1M218.8 48.2h1M216.3 98.1h1M216.9 57.5h1M219.8 60.6h1M217.5 81.6h1M216.0 88.5h1M219.1 57.3h1M222.6 95.2h1M221.8 76.4h1M219.1 92.6h1M225.5 69.0h1M217.5 69.0h1M219.6 79.5h1M215.7 87.1h1M222.1 93.7h1M219.4 67.7h1M214.8 84.6h1M217.3 62.9h1M225.2 89.7h1M222.0 71.7h1M220.1 103.1h1M222.4 91.3h1M215.0 52.1h1M217.3 85.8h1M215.8 70.3h1M217.3 67.0h1M218.7 60.1h1M221.4 89.6h1M222.8 98.7h1M222.7 74.2h1M227.8 77.4h1M218.3 67.5h1M219.7 96.2h1M221.3 106.7h1M217.3 74.6h1M218.9 74.5h1M221.0 58.9h1M217.2 64.6h1M221.2 71.1h1M223.4 72.3h1M216.5 57.5h1M213.0 69.1h1M220.0 51.1h1M216.7 64.4h1M220.3 86.9h1M218.4 102.0h1M220.7 60.5h1M223.1 89.5h1M222.2 61.3h1M218.7 104.5h1M216.3 62.4h1M212.4 50.5h1M213.3 104.5h1M217.4 68.3h1M220.0 60.0h1M217.7 74.8h1M218.0 98.2h1M215.0 71.1h1M214.8 75.0h1M214.6 86.6h1M221.6 48.9h1M213.8 101.9h1M221.7 90.3h1M217.0 83.0h1M221.3 68.9h1M220.4 105.7h1M221.9 52.0h1M223.2 47.8h1M217.3 83.1h1M216.7 88.1h1M218.3 56.6h1M217.3 98.2h1M221.6 73.7h1M219.2 67.6h1M219.6 90.4h1M220.8 72.0h1M218.1 57.3h1M222.8 73.3h1M214.1 49.8h1M220.2 66.1h1M221.0 82.6h1M217.2 52.3h1M217.5 73.7h1M222.2 76.4h1M218.6 49.6h1M213.8 60.1h1M215.5 50.3h1M222.5 78.7h1M216.9 85.9h1M223.4 47.7h1M223.6 81.6h1M218.9 99.3h1M221.1 50.2h1M217.0 83.1h1M218.3 66.7h1M217.4 56.1h1M221.3 99.7h1M215.7 66.2h1M219.1 98.3h1M219.6 101.6h1M221.0 62.5h1M213.2 99.9h1M214.2 102.1h1M216.9 47.6h1M218.8 100.5h1M219.9 85.6h1M220.1 47.7h1M225.5 79.2h1M221.4 98.8h1M221.2 98.5h1M218.0 100.9h1M221.8 78.4h1M221.5 53.7h1M221.5 68.1h1M219.1 65.4h1M221.3 84.9h1M224.0 63.5h1M217.1 80.9h1M213.0 66.0h1M221.9 75.4h1M221.7 86.0h1M218.8 96.5h1M218.1 50.0h1M227.7 74.6h1M218.1 67.0h1M215.8 85.3h1M218.0 90.6h1M221.0 90.3h1M217.6 56.9h1M218.3 56.4h1M220.4 99.4h1M218.2 66.2h1M219.8 89.3h1M219.3 48.5h1M216.3 83.3h1M219.7 61.5h1M216.0 87.6h1M222.2 52.4h1M216.7 100.5h1M218.7 88.7h1M214.0 84.9h1M218.1 75.9h1M215.7 95.2h1M223.9 73.8h1M219.1 85.9h1M221.0 71.2h1M214.2 48.3h1M215.8 75.1h1M218.9 95.6h1M215.4 86.0h1M222.8 52.8h1M218.2 49.5h1M219.9 58.0h1M220.3 85.1h1M219.0 65.9h1M221.7 62.3h1M217.4 99.8h1M220.5 48.2h1M223.0 96.8h1M220.1 68.4h1M219.8 96.0h1M218.4 64.9h1M219.6 78.5h1M221.4 56.0h1M218.7 64.2h1M214.4 86.3h1M219.9 88.2h1M219.0 57.7h1M220.8 85.9h1M219.5 106.2h1M224.1 83.8h1M215.9 64.3h1M216.6 88.4h1M221.4 82.6h1M216.4 87.0h1M220.4 97.7h1M219.4 103.6h1M213.6 56.7h1M221.4 62.2h1M223.5 55.4h1M215.3 106.5h1M221.7 92.7h1M216.3 84.9h1M219.1 57.0h1M220.6 65.8h1M217.1 55.4h1M214.4 69.1h1M219.0 53.3h1M219.3 48.7h1M216.9 51.0h1M217.1 74.0h1M221.6 57.2h1M219.1 51.0h1M218.0 92.7h1M217.7 93.3h1M219.9 104.1h1M219.7 95.7h1M218.9 104.4h1M215.3 86.7h1M218.3 79.3h1M217.6 72.4h1M219.6 67.5h1M222.8 48.5h1M222.2 90.1h1M221.3 66.6h1M219.7 91.5h1M218.5 104.0h1M220.4 94.9h1M218.0 77.9h1M218.4 81.0h1M216.9 100.7h1M219.2 61.9h1M219.2 82.8h1M224.8 83.3h1M221.0 83.7h1M218.3 64.9h1M221.7 74.9h1M218.0 77.8h1M222.3 95.0h1M221.7 105.4h1M227.8 50.7h1M216.2 95.3h1M219.2 76.7h1M219.1 86.2h1M220.3 80.0h1M221.5 95.8h1M216.6 72.0h1M217.3 71.3h1M220.3 80.5h1M222.2 105.6h1M216.1 72.8h1M214.9 73.0h1M222.7 77.9h1M222.6 57.1h1M216.6 83.5h1M218.8 84.1h1M220.1 100.9h1M220.7 68.4h1M219.1 84.5h1M219.3 62.7h1M222.3 70.8h1M218.1 52.0h1M217.8 64.3h1M218.1 70.8h1M217.9 65.4h1M219.8 72.3h1M218.8 64.8h1M218.1 62.8h1M223.5 68.1h1M220.3 87.8h1M218.4 84.9h1M223.1 106.3h1M217.8 55.7h1M219.4 95.9h1M219.1 52.3h1M217.7 61.1h1M218.3 48.6h1M219.6 77.5h1M215.3 48.3h1M218.3 51.4h1M220.1 86.3h1M220.2 86.5h1M220.3 53.2h1M226.1 84.8h1M221.3 73.1h1M219.0 99.6h1M219.0 82.1h1M219.4 79.0h1M218.5 64.1h1M223.7 74.7h1M216.2 93.9h1M221.2 90.9h1M220.8 50.0h1M216.1 48.2h1M221.2 64.2h1M221.0 105.8h1M217.6 51.4h1M226.0 48.8h1M221.4 102.8h1M218.5 56.0h1M218.0 66.5h1M217.3 99.2h1M220.1 71.4h1M219.6 50.2h1M215.4 72.5h1M216.4 91.3h1M217.3 57.1h1M218.2 63.5h1M218.4 67.6h1M217.5 48.2h1M221.2 88.8h1M222.1 53.1h1M219.6 60.5h1M213.1 74.3h1M218.9 93.0h1M221.0 52.5h1M219.2 105.5h1M220.2 77.9h1M219.7 57.5h1M215.1 58.2h1M212.2 79.8h1M221.2 52.9h1M217.9 57.3h1M220.6 104.8h1M218.5 100.0h1M218.9 84.4h1M223.3 92.4h1M216.0 54.1h1M219.4 64.0h1M216.3 48.5h1M219.6 82.4h1M220.7 47.8h1M221.2 53.8h1M215.5 52.9h1M220.1 106.6h1M221.9 79.9h1M222.2 76.8h1M225.5 55.2h1M221.0 71.2h1M216.5 68.5h1M217.9 89.3h1M219.6 106.4h1M222.4 66.9h1M216.1 49.0h1M222.0 105.4h1M221.2 76.5h1M216.9 72.1h1M221.1 93.1h1M217.2 86.0h1M219.4 79.8h1M218.5 55.9h1M220.1 95.4h1M216.0 62.2h1M220.9 84.0h1M213.2 58.8h1M218.2 61.4h1M217.8 85.0h1M223.9 92.2h1M220.9 105.8h1M218.0 88.5h1M216.8 85.7h1M219.5 83.5h1M217.6 64.9h1M225.7 102.4h1M211.5 82.4h1M219.6 50.7h1M212.4 76.1h1M222.3 67.9h1M217.1 56.9h1M224.0 89.0h1M217.8 96.0h1M222.5 101.3h1M220.0 99.9h1M222.8 106.7h1M219.5 59.0h1M210.9 81.7h1M217.3 72.0h1M214.9 91.1h1M222.1 88.9h1M220.9 52.0h1M219.4 64.0h1M220.7 60.7h1M219.9 51.8h1M217.8 63.8h1M225.0 76.3h1M220.1 66.1h1M218.8 56.5h1M215.2 95.6h1M217.6 51.4h1M219.4 62.1h1M218.9 88.5h1M218.0 71.8h1M219.2 86.2h1M216.2 52.2h1M219.4 103.7h1M215.0 71.1h1M216.9 97.1h1M217.3 72.5h1M221.9 97.4h1M220.8 49.4h1M219.6 64.1h1M218.2 51.9h1M221.7 98.7h1M223.0 70.2h1M215.2 76.4h1M218.2 64.6h1M219.7 68.4h1M220.4 106.5h1M219.4 75.5h1M221.3 55.9h1M215.3 93.1h1M223.8 60.3h1M216.1 79.6h1M219.6 94.6h1M220.9 74.8h1M222.7 53.2h1M222.0 91.3h1M221.9 103.1h1M223.0 88.1h1M219.0 103.5h1M221.5 75.5h1M223.8 59.7h1M217.2 67.5h1M215.4 95.3h1M216.5 103.6h1M223.4 63.6h1M223.0 96.9h1M218.4 93.1h1M220.1 61.0h1M220.8 96.9h1M222.4 72.8h1M214.0 56.2h1M217.8 81.2h1M218.7 62.7h1M220.3 79.8h1M219.6 104.8h1M218.5 59.5h1M220.3 80.6h1M212.1 78.3h1M228.2 57.7h1M221.8 84.1h1M222.0 62.4h1M217.6 101.9h1M220.6 98.9h1M225.3 79.3h1M224.6 62.2h1M219.7 56.1h1M215.9 61.3h1M219.9 79.1h1M218.6 82.6h1M221.9 55.7h1M215.8 92.4h1M218.9 76.7h1M220.2 106.0h1M218.1 71.2h1M222.5 75.2h1M216.2 95.0h1M215.9 72.2h1M218.4 94.4h1M221.8 79.8h1M218.6 54.6h1M217.8 101.8h1M221.8 101.5h1M220.1 55.1h1M217.9 67.3h1M219.8 81.5h1M218.8 53.8h1M221.2 71.7h1M219.9 51.5h1M217.2 79.4h1M218.1 76.5h1M218.3 103.2h1M220.5 95.8h1M220.5 63.7h1M217.1 88.4h1M218.9 104.9h1M220.3 55.2h1M222.6 79.4h1M220.2 56.2h1M225.0 62.7h1M219.5 77.1h1M221.6 48.1h1M218.5 76.4h1M216.6 65.3h1M219.8 51.3h1M220.8 79.4h1M220.4 59.5h1M219.9 59.5h1M218.5 104.0h1M217.1 73.7h1M218.6 80.3h1M220.8 53.7h1M222.2 104.6h1M210.0 82.7h1M221.2 65.2h1M222.6 87.3h1M223.1 86.1h1M220.5 76.6h1M221.4 73.1h1M218.2 53.2h1M219.2 93.1h1M221.0 49.8h1M216.3 51.3h1M217.2 85.0h1M220.0 99.9h1M215.6 101.5h1M219.6 60.7h1M215.2 96.4h1M220.0 58.5h1M219.5 59.0h1M217.8 75.2h1M216.7 82.0h1M218.0 79.4h1M213.0 102.4h1M218.3 77.4h1M219.8 69.2h1M222.9 75.3h1M218.0 58.6h1M218.9 90.8h1M223.4 58.1h1M224.4 76.5h1M218.0 53.0h1M222.5 90.8h1M222.8 69.3h1M220.9 94.6h1M216.6 57.6h1M216.7 76.8h1M221.1 99.9h1M226.2 91.3h1M218.9 59.9h1M224.0 53.4h1M224.9 83.3h1M215.9 106.3h1M217.7 71.8h1M223.8 89.7h1M222.3 88.4h1M221.0 106.2h1M219.4 71.9h1M221.3 52.9h1M217.6 53.4h1M226.6 102.1h1M216.1 60.4h1M214.3 82.5h1M219.9 85.7h1M223.6 101.5h1M218.0 73.0h1M219.3 62.6h1M216.5 101.9h1M219.2 84.3h1M216.6 94.2h1M215.2 87.3h1M217.9 75.9h1M224.8 47.6h1M219.3 96.8h1M220.0 68.9h1M225.9 50.9h1M217.6 91.9h1M216.6 106.6h1M220.9 91.7h1M215.9 57.9h1M220.4 68.1h1M222.8 68.0h1M216.3 65.7h1M217.9 88.5h1M224.3 90.8h1M216.4 64.2h1M217.5 70.9h1M220.1 66.8h1M218.5 63.0h1M217.0 86.9h1M224.1 95.6h1M217.8 90.4h1M220.4 105.2h1M218.3 104.0h1M218.8 105.3h1M215.5 94.5h1M222.1 69.7h1M218.2 92.3h1M223.1 105.5h1M216.1 64.0h1M218.0 68.6h1M220.8 48.9h1M219.8 101.9h1M217.5 95.3h1M219.0 54.8h1M215.7 74.2h1M219.6 64.9h1M211.8 68.4h1M219.9 73.8h1M223.4 104.0h1M222.0 66.2h1M221.9 82.1h1M218.2 92.2h1M220.9 90.0h1M218.3 49.7h1M219.2 68.3h1M219.2 97.2h1M209.7 58.0h1M222.1 74.5h1M220.8 94.8h1M221.9 59.8h1M216.7 76.8h1M221.4 104.6h1M220.8 53.3h1M213.0 64.7h1M214.3 49.1h1M219.6 51.0h1M217.5 95.8h1M219.4 79.3h1M217.6 84.4h1M223.8 63.2h1M214.0 89.8h1M215.5 56.2h1M216.6 59.5h1M215.5 51.2h1M217.8 104.3h1M219.4 67.2h1M215.6 64.9h1M220.5 72.8h1M223.2 61.5h1M222.6 102.2h1M225.2 64.3h1M222.7 50.2h1M219.4 98.0h1M224.6 91.1h1M221.5 58.5h1M224.9 70.0h1M218.9 57.0h1M213.4 101.5h1M216.1 102.3h1M220.0 50.7h1M221.0 60.6h1M218.9 72.2h1M222.4 84.7h1M216.1 97.3h1M217.4 101.4h1M222.3 103.5h1M219.6 82.0h1M219.7 92.0h1M223.5 101.1h1M222.6 92.0h1M217.2 75.3h1M220.1 97.2h1M214.6 85.2h1M219.4 64.7h1M220.6 49.3h1M214.5 93.3h1M224.0 48.7h1M225.3 94.9h1M220.9 94.3h1M222.2 59.0h1M223.8 98.9h1M219.0 80.9h1M222.5 104.7h1M220.6 103.5h1M215.1 48.9h1M216.9 61.6h1M217.9 96.4h1M222.6 79.1h1M219.8 56.3h1M222.3 78.2h1M218.1 68.4h1M215.8 70.6h1M225.5 54.1h1M227.4 83.9h1M220.6 97.2h1M218.9 70.6h1M222.9 66.5h1M216.3 101.8h1M218.9 85.4h1M215.4 106.0h1M220.9 98.1h1M220.2 60.2h1M218.3 89.5h1M217.6 56.9h1M215.1 57.4h1M217.1 85.8h1M223.1 49.3h1M218.5 61.3h1M223.1 105.7h1M217.0 65.2h1M219.3 90.6h1M218.2 90.0h1M218.8 79.9h1M221.7 97.9h1M213.6 59.7h1M221.6 55.8h1M221.5 95.1h1M219.5 68.2h1M219.7 59.5h1M218.9 78.5h1M221.5 88.8h1M219.7 79.0h1M217.1 96.0h1M219.9 68.3h1M222.3 95.6h1M220.6 102.6h1M219.6 82.5h1M220.1 87.9h1M218.1 81.8h1M218.2 65.5h1M214.1 62.4h1M219.0 90.8h1M222.3 56.3h1M218.4 71.8h1M216.9 69.9h1M222.1 101.0h1M220.0 79.7h1M219.9 63.5h1M220.9 73.7h1M221.5 51.1h1M219.4 64.2h1M217.1 88.5h1M224.5 62.2h1M219.7 65.5h1M217.3 102.3h1M220.0 63.8h1M222.9 82.0h1M223.3 52.9h1M219.1 72.0h1M225.2 95.6h1M221.4 93.5h1M219.2 84.8h1M223.1 90.2h1M223.2 56.2h1M218.5 51.1h1M220.2 55.0h1M218.0 101.5h1M222.1 58.2h1M215.5 89.0h1M219.0 52.2h1M213.4 100.8h1M221.2 93.7h1M213.1 98.1h1M216.5 106.2h1M220.3 86.4h1M218.5 100.6h1M216.7 53.0h1M218.2 50.3h1M214.5 92.1h1M220.4 82.6h1M221.8 62.2h1M221.7 88.1h1M219.4 87.1h1M223.0 68.0h1M220.8 50.6h1M222.3 106.7h1M220.6 80.0h1M219.6 53.3h1M217.3 95.4h1M212.0 100.1h1M221.4 69.9h1M219.2 95.2h1M225.2 51.6h1M213.8 89.5h1M221.9 106.0h1M216.8 92.4h1M219.5 63.6h1M217.0 71.2h1M220.5 87.7h1M219.4 73.7h1M219.9 94.5h1M220.9 73.5h1M223.2 89.7h1M221.0 51.7h1M219.1 67.5h1M223.1 49.8h1M219.2 68.0h1M220.7 58.1h1M218.6 76.7h1M217.6 67.3h1M210.9 51.1h1M221.5 57.1h1M216.2 72.1h1M221.6 83.6h1M224.7 63.4h1M215.8 71.6h1M222.0 104.3h1M219.2 72.1h1M220.8 76.4h1M216.1 77.3h1M219.6 103.0h1M220.0 57.5h1M223.6 75.5h1M225.6 96.1h1M220.4 79.4h1M218.5 67.5h1M225.9 70.1h1M219.2 59.3h1M219.4 87.7h1M219.8 98.2h1M220.9 91.2h1M221.6 50.5h1M217.9 94.6h1M219.2 92.3h1M224.9 70.2h1M224.1 64.6h1M220.8 105.2h1M220.3 55.8h1M218.9 94.9h1M222.5 63.7h1M218.1 80.1h1M219.9 89.6h1M218.2 102.4h1M217.8 93.9h1M219.7 52.3h1M219.6 99.5h1M217.9 105.8h1M219.4 49.7h1M219.7 65.3h1M218.2 100.5h1M217.7 79.4h1M219.2 48.0h1M221.5 93.6h1M220.1 56.4h1M218.8 99.5h1M219.5 84.7h1M225.0 84.1h1M222.2 50.3h1M216.8 105.9h1M218.0 55.3h1M218.5 96.5h1M214.7 68.5h1M219.6 49.3h1M215.7 78.8h1M217.9 98.1h1M223.9 82.4h1M222.4 50.9h1M217.1 99.3h1M216.6 73.3h1M217.0 81.1h1M214.2 71.9h1M216.8 105.4h1M218.8 79.9h1M216.6 96.5h1M221.7 104.4h1M219.4 83.1h1M218.0 98.5h1M224.5 60.1h1M221.6 59.0h1M219.8 91.9h1M224.8 88.1h1M223.3 104.7h1M217.5 69.0h1M220.5 58.3h1M218.3 72.6h1M215.5 101.0h1M225.0 80.3h1M223.8 66.3h1M215.9 77.5h1M221.0 91.4h1M214.9 53.8h1M222.6 89.6h1M219.4 73.7h1M218.7 100.1h1M223.2 95.7h1M219.6 93.6h1M218.8 50.4h1M222.2 79.6h1M218.7 50.8h1M222.1 68.8h1M219.6 57.8h1M221.9 76.9h1M221.4 60.4h1M221.8 66.5h1M216.7 92.6h1M225.0 94.0h1M219.1 92.8h1M224.6 91.4h1M217.8 68.8h1M218.8 49.8h1M218.8 51.2h1M222.9 82.3h1M218.3 105.4h1M220.8 78.2h1M215.1 75.4h1M218.2 99.2h1M220.2 69.9h1M219.2 60.9h1M214.2 104.5h1M221.0 47.6h1M216.8 79.5h1M225.1 58.1h1M219.0 62.4h1M226.1 103.9h1M221.5 87.9h1M220.9 80.4h1M218.2 53.9h1M219.2 103.1h1M220.9 73.7h1M213.9 53.5h1M222.4 80.3h1M216.2 52.5h1M218.8 98.6h1M211.7 71.9h1M220.9 65.0h1M221.7 62.7h1M220.4 60.0h1M220.5 59.1h1M218.5 83.7h1M220.0 57.6h1M223.1 80.3h1M218.3 100.1h1M221.0 91.8h1M221.7 79.9h1M218.9 73.3h1M220.2 68.3h1M220.2 62.6h1M218.1 72.6h1M218.3 80.5h1M224.5 65.0h1M222.7 63.8h1M213.7 74.2h1M220.3 74.6h1M222.5 68.3h1M221.9 80.5h1M216.9 92.0h1M220.3 89.6h1M216.1 91.1h1M216.5 78.9h1M218.9 97.4h1M220.1 52.5h1M224.2 82.3h1M220.6 97.5h1M222.6 91.5h1M216.1 104.9h1M216.2 56.0h1M218.1 87.1h1M224.6 94.8h1M215.7 71.6h1M215.0 62.6h1M219.3 74.1h1M223.0 96.9h1M214.8 61.0h1M218.8 94.6h1M215.6 92.3h1M223.8 80.5h1M221.6 78.5h1M220.3 104.2h1M219.4 55.4h1M218.9 51.4h1M219.9 78.8h1M217.7 52.6h1M217.0 62.9h1M216.3 55.4h1M219.6 104.3h1M217.2 77.9h1M222.1 63.0h1M213.4 67.1h1M221.2 58.6h1M221.1 69.6h1M223.1 58.4h1M218.8 97.9h1M215.2 81.1h1M216.8 53.9h1M222.8 98.5h1M218.6 74.6h1M218.3 49.5h1M217.8 93.0h1M219.3 87.2h1M218.9 77.6h1M215.0 72.4h1M217.8 91.3h1M222.5 106.0h1M223.8 77.5h1M219.2 101.3h1M218.0 80.4h1M223.5 61.9h1M219.0 90.3h1M216.1 94.7h1M219.2 55.1h1M221.6 60.4h1M224.1 54.5h1M218.1 49.7h1M221.1 67.7h1M218.6 77.0h1M222.9 82.3h1M220.3 77.2h1M220.3 97.1h1M216.7 58.1h1M218.6 104.9h1M218.6 92.9h1M209.0 50.6h1M222.0 50.9h1M219.5 54.0h1M218.9 84.3h1M218.5 81.4h1M219.6 62.8h1M220.2 88.0h1M215.7 67.9h1M219.9 94.8h1M219.9 91.4h1M219.6 61.6h1M215.2 51.7h1M219.1 84.3h1M215.8 52.6h1M220.5 81.6h1M223.4 87.6h1M222.1 56.5h1M218.5 93.7h1M217.9 71.6h1M217.9 85.3h1M220.5 78.5h1M217.6 90.3h1M218.0 77.1h1M212.2 78.8h1M217.0 75.7h1M217.2 57.0h1M217.9 85.3h1M223.1 48.9h1M215.6 72.6h1M215.6 94.2h1M221.3 98.9h1M216.7 98.2h1M219.0 92.0h1M220.0 105.6h1M217.3 71.7h1M222.2 88.0h1M223.9 56.9h1M216.6 85.3h1M218.7 67.3h1M222.3 100.0h1M218.9 55.6h1M216.6 57.2h1M218.3 86.2h1M221.9 81.1h1M216.6 84.8h1M220.3 83.1h1M220.6 50.3h1M217.6 83.4h1M221.2 73.8h1M221.5 59.3h1M222.4 97.1h1M222.2 91.6h1M215.2 86.8h1M222.1 72.3h1M221.2 57.0h1M222.4 47.5h1M217.0 99.7h1M222.2 75.7h1M220.6 76.6h1M216.1 65.2h1M223.2 72.6h1M217.2 85.1h1M216.6 74.0h1M220.7 96.7h1M217.8 59.0h1M220.6 54.9h1M218.8 98.7h1M220.3 59.4h1M221.9 66.0h1M219.4 91.8h1M222.1 49.2h1M222.0 78.7h1M217.1 66.8h1M222.0 103.8h1M221.3 79.1h1M219.9 78.4h1M222.8 86.2h1M224.3 95.5h1M221.7 65.0h1M215.3 49.0h1M220.8 82.9h1M219.1 74.3h1M218.7 60.2h1M220.5 90.7h1M218.6 91.6h1M224.3 106.3h1M220.3 104.3h1M219.6 61.6h1M221.8 70.6h1M221.9 92.3h1M223.0 48.6h1M221.4 96.9h1M219.4 86.8h1M219.9 66.0h1M213.3 100.2h1M215.3 75.5h1M222.6 61.8h1M218.6 96.2h1M224.8 102.5h1M224.8 56.2h1M215.9 104.2h1M220.4 57.6h1M227.9 88.7h1M217.3 77.0h1M220.7 99.8h1M218.8 53.6h1M218.7 74.8h1M219.5 99.4h1M221.8 71.8h1M217.2 57.8h1M221.0 76.5h1M217.5 50.1h1M221.1 58.1h1M220.5 98.7h1M217.3 97.6h1M220.0 95.8h1M217.4 51.1h1M217.1 86.6h1M222.9 74.7h1M214.3 87.5h1M221.2 67.9h1M221.6 65.2h1M217.8 103.2h1M222.7 88.9h1M222.2 85.4h1M215.8 78.2h1M221.1 65.3h1M220.9 73.9h1M217.4 101.0h1M221.2 98.5h1M221.7 53.5h1M217.5 94.7h1M213.8 87.7h1M220.7 86.7h1M217.4 66.7h1M214.5 103.9h1M218.4 81.4h1M212.6 98.1h1M218.6 52.5h1M223.9 77.8h1M211.3 61.9h1M220.9 72.2h1M216.9 67.4h1M218.4 80.9h1M216.9 55.5h1M221.4 74.3h1M219.5 66.9h1M217.3 88.5h1M215.7 62.4h1M218.3 68.1h1M222.9 63.1h1M216.0 103.9h1M220.8 53.2h1M220.5 58.8h1M213.7 100.1h1M222.8 70.0h1M219.4 92.5h1M226.1 52.3h1M224.6 56.0h1M218.8 83.7h1M219.1 57.4h1M216.6 62.0h1M215.5 69.4h1M221.9 84.9h1M218.8 57.4h1M218.4 51.4h1M219.1 71.0h1M221.5 88.0h1M222.3 95.9h1M219.6 81.5h1M219.0 66.8h1M219.9 103.0h1M225.6 66.3h1M213.5 93.6h1M216.2 93.2h1M220.9 87.1h1M220.0 79.3h1M223.2 60.0h1M223.4 81.5h1M225.4 48.0h1M217.2 104.5h1M221.4 79.0h1M218.9 76.2h1M222.4 104.5h1M220.1 98.8h1M222.2 65.2h1M217.4 103.6h1M220.0 102.3h1M218.1 57.6h1M218.8 73.3h1M218.2 70.7h1M216.5 81.0h1M222.8 86.6h1M220.4 71.8h1M222.8 87.3h1M216.6 84.8h1M213.8 77.5h1M217.7 49.1h1M219.1 63.3h1M221.9 70.2h1M222.7 90.4h1M223.2 69.2h1M224.1 62.7h1M221.7 50.0h1M219.9 90.0h1M217.3 69.7h1M221.6 79.0h1M218.1 100.2h1M217.2 87.0h1M221.3 62.2h1M220.2 64.3h1M222.1 84.9h1M217.5 97.3h1M223.0 58.4h1M220.6 72.5h1M219.1 59.9h1M217.3 54.6h1M216.4 89.1h1M215.6 71.7h1M223.7 72.2h1M215.4 98.1h1M221.4 48.3h1M218.8 61.2h1M217.9 50.7h1M218.2 48.7h1M219.3 79.3h1M222.2 66.9h1M221.2 88.3h1M219.6 59.0h1M215.5 55.3h1M214.3 91.6h1M225.1 50.6h1M216.6 80.6h1M215.0 50.6h1M222.9 103.5h1M215.2 101.0h1M221.8 50.9h1M222.3 104.1h1M220.3 80.8h1M222.4 91.9h1M215.5 98.1h1M216.0 74.7h1M219.0 75.0h1M219.6 67.5h1M219.3 84.3h1M220.9 49.4h1M217.4 88.5h1M213.3 91.4h1M220.8 89.0h1M218.9 84.7h1M222.0 66.8h1M225.7 88.4h1M219.8 70.6h1M221.3 86.1h1M216.9 62.6h1M222.2 63.4h1M220.6 86.6h1M220.3 57.8h1M222.3 97.5h1M216.2 96.7h1M221.2 80.6h1M220.9 63.1h1M224.2 68.1h1M214.2 56.4h1M219.3 92.2h1M226.0 104.9h1M218.4 54.6h1M218.3 51.8h1M224.8 73.5h1M226.9 105.8h1M219.9 59.9h1M217.5 59.8h1M217.8 71.5h1M218.4 67.6h1M217.1 63.4h1M217.2 82.0h1M220.1 54.0h1M219.7 52.9h1M221.0 77.0h1M219.6 104.4h1M216.0 59.3h1M221.7 61.2h1M220.3 61.1h1M217.8 52.6h1M218.8 53.4h1M220.5 66.6h1M219.8 64.7h1M219.2 82.8h1M221.8 57.3h1M222.7 102.1h1M218.6 81.7h1M219.5 95.7h1M216.3 55.1h1M219.1 96.5h1M221.0 72.0h1M222.1 67.4h1M220.1 100.2h1M219.3 73.9h1M217.4 65.1h1M220.2 71.5h1M216.3 82.9h1M219.9 62.0h1M219.6 77.6h1M216.9 67.2h1M220.5 55.2h1M218.9 49.2h1M221.3 96.9h1M218.1 101.4h1M221.0 64.6h1M224.2 93.3h1M220.1 71.9h1M221.9 68.5h1M217.7 64.7h1M218.5 67.3h1M214.0 68.8h1M219.1 54.6h1M216.2 96.9h1M219.9 72.9h1M213.5 59.1h1M217.0 72.2h1M219.8 76.1h1M220.7 92.5h1M214.7 57.2h1M218.3 77.5h1M227.1 93.4h1M221.9 96.3h1M220.0 56.6h1M211.5 69.4h1M216.8 89.6h1M221.1 67.8h1M220.2 87.1h1M220.9 63.2h1M222.4 66.9h1M219.8 52.0h1M222.0 86.1h1M214.3 65.1h1M226.9 52.7h1M218.7 63.2h1M217.6 58.3h1M224.0 69.9h1M221.3 104.8h1M222.4 102.6h1M217.7 97.8h1M220.4 95.5h1M221.6 101.8h1M216.2 57.6h1M218.9 77.4h1M218.8 94.6h1M218.7 103.9h1M217.5 84.1h1M215.8 55.6h1M220.8 68.4h1M220.3 58.8h1M222.9 93.5h1M219.3 95.8h1M217.6 71.3h1M215.3 47.5h1M219.8 102.9h1M218.6 100.3h1M225.4 103.3h1M226.3 92.3h1M216.9 63.9h1M215.4 55.1h1M218.8 97.5h1M216.9 96.4h1M223.7 63.5h1M219.9 83.5h1M218.3 53.1h1M219.5 56.4h1M223.2 105.8h1M216.8 99.8h1M221.0 57.9h1M215.6 86.7h1M218.9 90.2h1M217.6 79.3h1M220.5 77.6h1M220.0 88.3h1M223.0 49.1h1M221.5 105.4h1M217.8 84.1h1M215.6 76.1h1M217.1 64.3h1M218.3 63.9h1M218.9 84.5h1M217.3 59.1h1M222.7 89.5h1M222.3 52.6h1M218.7 70.7h1M218.1 64.5h1M218.8 47.6h1M219.4 89.3h1M219.5 100.8h1M214.8 70.8h1M218.3 61.9h1M214.0 86.9h1M219.6 54.3h1M221.5 98.6h1M216.4 77.8h1M220.0 88.4h1M217.7 65.9h1M217.5 79.1h1M225.3 81.5h1M222.1 84.8h1M220.9 95.0h1M218.2 73.4h1M220.7 73.4h1M219.0 73.2h1M220.9 49.9h1M216.9 69.7h1M219.3 103.1h1M218.4 88.3h1M215.4 69.9h1M224.5 96.7h1M221.9 63.9h1M217.2 72.5h1M215.2 64.9h1M217.4 72.0h1M217.1 55.9h1M217.7 81.9h1M215.1 56.0h1M217.1 74.7h1M219.7 93.2h1M220.7 101.3h1M213.7 87.1h1M219.5 70.4h1M216.6 59.7h1M216.4 64.3h1M218.6 63.8h1M217.5 87.4h1M221.6 93.6h1M221.6 56.1h1M218.6 74.8h1M217.6 93.0h1M224.8 89.4h1M225.0 54.0h1M220.6 81.9h1M219.1 103.6h1M222.5 99.0h1M223.8 61.7h1M218.0 97.9h1M224.8 106.5h1M219.0 103.6h1M222.7 99.6h1M218.0 54.7h1M219.7 73.6h1M218.2 87.0h1M219.6 99.6h1M222.5 97.3h1M216.9 72.3h1M218.6 68.8h1M221.1 89.5h1M218.1 64.1h1M225.5 72.7h1M215.2 98.7h1M227.0 64.3h1M217.6 98.4h1M222.4 50.9h1M224.3 52.7h1M221.1 69.3h1M215.3 88.3h1M218.5 60.9h1M219.7 105.2h1M221.2 83.4h1M222.4 52.2h1M222.8 61.6h1M223.9 99.1h1M216.7 54.2h1M222.4 49.0h1M214.3 62.3h1M219.9 49.2h1M216.3 59.6h1M214.2 76.9h1M222.2 97.3h1M219.4 75.0h1M222.4 80.8h1M214.8 54.4h1M215.9 68.2h1M219.2 86.5h1M217.5 76.4h1M219.7 103.9h1M217.7 72.6h1M218.5 102.9h1M216.1 60.1h1M223.3 88.2h1M218.6 93.7h1M216.0 105.5h1M221.5 57.8h1M220.9 84.6h1M220.1 103.3h1M220.2 77.4h1M218.3 106.5h1M219.1 101.8h1M212.9 65.2h1M214.9 76.7h1M215.8 67.0h1M220.4 95.9h1M223.1 50.8h1M219.0 88.8h1M218.7 47.8h1M222.9 50.9h1M218.4 94.2h1M221.5 60.3h1M220.8 81.7h1M215.6 102.3h1M220.4 58.1h1M220.1 71.1h1M216.1 94.2h1M216.4 84.4h1M215.7 85.0h1M223.6 59.0h1M225.8 79.0h1M221.6 97.9h1M224.2 79.1h1M215.5 85.9h1M223.7 89.4h1M225.4 69.5h1M224.3 78.5h1M216.7 68.9h1M222.7 64.1h1M219.2 52.0h1M222.7 100.7h1M217.6 68.1h1M219.5 90.2h1M217.8 59.9h1M220.9 83.3h1M219.2 92.0h1M222.8 89.3h1M222.0 76.1h1M219.4 56.6h1M218.6 92.1h1M219.5 54.8h1M221.7 77.6h1M219.9 47.9h1M220.4 51.2h1M219.4 101.6h1M219.3 92.0h1M217.5 49.8h1M213.9 52.5h1M221.2 53.9h1M221.2 98.0h1M216.6 76.2h1M225.2 97.5h1M216.0 83.6h1M222.5 93.6h1M220.3 55.4h1M220.5 90.7h1M222.9 65.3h1M222.3 85.7h1M219.6 56.6h1M216.3 67.2h1M215.9 95.6h1M220.1 52.0h1M224.2 56.8h1M222.1 64.6h1M219.4 60.1h1M220.5 97.3h1M221.6 100.2h1M224.7 97.3h1M217.2 73.7h1M221.7 85.4h1M220.3 81.8h1M217.2 86.0h1M216.5 84.4h1M223.3 102.9h1M220.5 86.5h1M218.9 49.4h1M219.8 92.6h1M222.5 80.9h1M219.8 94.7h1M224.3 67.7h1M218.7 60.0h1M217.2 77.9h1M219.2 61.1h1M216.7 82.9h1M218.5 80.1h1M223.2 88.9h1M224.6 49.0h1M221.4 94.7h1M220.1 54.8h1M216.8 76.0h1M216.5 72.6h1M220.6 106.3h1M220.0 95.3h1M217.8 102.3h1M218.2 63.6h1M224.2 77.6h1M222.5 100.0h1M219.7 98.9h1M220.2 83.1h1M223.3 77.7h1M220.6 62.6h1M220.2 79.2h1M214.8 99.4h1M214.5 90.7h1M213.8 96.8h1M212.8 83.8h1M219.5 53.3h1M220.5 58.7h1M216.9 72.8h1M220.8 100.8h1M220.8 76.1h1M219.3 103.8h1M215.1 76.2h1M223.8 91.4h1M223.6 89.0h1M217.8 48.2h1M225.3 73.5h1M219.7 81.9h1M217.2 106.5h1M218.3 96.5h1M214.0 61.8h1M218.5 65.2h1M214.7 76.8h1M222.9 69.1h1M220.5 69.4h1M215.4 81.5h1M221.2 50.3h1M214.4 73.2h1M220.0 51.8h1M220.9 48.4h1M219.7 98.6h1M216.1 51.1h1M219.2 86.9h1M219.0 93.8h1M219.7 52.4h1M224.0 52.2h1M224.6 49.3h1M224.3 100.0h1M217.6 76.2h1M217.3 56.5h1M219.6 106.2h1M220.8 84.4h1M213.3 100.5h1M217.7 53.4h1M224.9 82.5h1M215.8 92.9h1M217.3 74.2h1M217.4 77.2h1M221.0 50.6h1M219.3 60.3h1M218.5 62.9h1M215.0 74.0h1M221.3 48.4h1M219.5 52.7h1M217.5 82.9h1M219.6 106.6h1M221.9 62.9h1M215.1 79.2h1M214.9 77.3h1M216.4 93.8h1M216.9 79.4h1M210.4 78.2h1M217.7 50.0h1M222.8 48.4h1M218.5 74.1h1M222.6 54.9h1M210.9 66.7h1M219.2 56.5h1M223.7 95.1h1M224.2 65.1h1M218.0 86.4h1M217.0 83.0h1M220.7 89.5h1M215.8 63.8h1M218.4 57.2h1M214.5 99.7h1M219.7 77.1h1M219.5 90.5h1M224.4 74.1h1M220.6 49.1h1M217.5 54.9h1M219.2 56.3h1M215.6 49.4h1M219.6 90.5h1M218.9 105.1h1M220.8 71.7h1M222.3 105.7h1M213.5 54.2h1M220.5 68.4h1M221.7 83.6h1M215.9 86.2h1M225.2 49.2h1M217.3 101.2h1M221.9 65.2h1M222.4 65.2h1M220.3 85.4h1M222.5 72.6h1M216.4 78.8h1M217.1 99.3h1M213.6 86.1h1M221.1 54.6h1M217.4 67.3h1M221.8 99.4h1M221.3 103.5h1M215.5 65.9h1M221.6 52.1h1M220.3 94.4h1M220.1 60.6h1M220.9 61.0h1M219.4 72.2h1M219.5 52.5h1M222.7 88.2h1M216.5 99.0h1M215.9 67.7h1M217.2 87.9h1M222.6 55.5h1M218.5 69.0h1M225.3 56.8h1M210.2 53.8h1M217.4 64.0h1M218.2 69.6h1M220.3 48.9h1M223.5 86.0h1M218.9 86.1h1M216.4 64.8h1M222.0 73.5h1M224.2 63.8h1M211.8 53.6h1M221.2 104.7h1M220.4 103.4h1M217.0 75.1h1M218.1 96.7h1M220.4 77.9h1M219.6 104.9h1M218.8 84.3h1M216.0 99.1h1M220.4 81.1h1M217.5 81.1h1M219.8 85.1h1M217.7 97.9h1M220.1 54.9h1M221.7 90.4h1M220.2 90.4h1M215.3 68.7h1M220.9 88.8h1M220.4 69.7h1M217.6 83.1h1M219.0 48.0h1M211.1 96.8h1M219.7 58.9h1M218.3 76.8h1M212.7 57.2h1M221.0 104.2h1M217.6 91.0h1M220.3 99.2h1M218.8 93.0h1M220.9 101.4h1M219.7 86.8h1M218.6 52.5h1M221.0 51.8h1M222.0 92.5h1M212.7 64.8h1M219.6 90.4h1M217.7 73.6h1M216.2 98.7h1M223.4 67.8h1M222.4 53.0h1M216.4 97.8h1M216.1 65.6h1M221.9 71.3h1M217.6 94.1h1M218.5 62.6h1M213.6 103.9h1M219.1 49.2h1M222.9 93.2h1M218.1 98.7h1M219.1 84.9h1M224.7 59.2h1M222.1 53.8h1M223.8 93.8h1M221.4 91.3h1M223.1 94.3h1M214.5 106.1h1M217.0 83.8h1M214.5 104.3h1M226.2 106.6h1M220.0 82.8h1M219.1 93.9h1M217.2 57.3h1M211.1 77.3h1M226.2 77.6h1M219.2 88.6h1M219.7 98.9h1M215.3 64.1h1M219.3 92.6h1M220.6 97.4h1M219.2 71.3h1M221.3 73.9h1M217.0 100.4h1M220.4 67.6h1M222.2 95.9h1M221.2 100.9h1M220.6 69.3h1M219.2 66.5h1M216.5 58.7h1M221.1 59.6h1M218.3 99.2h1M216.6 64.3h1M221.8 63.7h1M214.6 86.6h1M217.8 64.5h1M221.8 64.5h1M222.3 103.4h1M219.7 93.3h1M221.1 94.6h1M219.3 69.9h1M217.2 68.5h1M220.8 96.6h1M220.0 79.1h1M219.8 60.1h1M222.8 67.0h1M220.4 91.1h1M218.1 70.7h1M220.0 96.1h1M225.3 60.9h1M217.3 47.6h1M218.7 56.1h1M217.1 53.9h1M220.5 58.8h1M215.7 106.2h1M220.8 86.6h1M221.8 73.5h1M217.2 56.1h1"/>
<path stroke="#1ebcec" stroke-opacity="0.7" stroke-width="1" fill="none" d="M223.7 76.6h1M221.8 89.4h1M221.3 67.2h1M216.2 48.9h1M226.5 88.3h1M227.2 74.5h1M217.7 99.3h1M215.7 48.8h1M222.0 93.5h1M216.5 65.6h1M221.6 96.4h1M225.5 66.9h1M224.6 54.9h1M229.2 86.3h1M223.4 60.2h1M214.9 95.4h1M215.9 80.7h1M223.8 98.6h1M231.7 88.0h1M218.8 74.7h1M215.6 83.6h1M228.7 50.8h1M220.1 53.5h1M224.7 62.5h1M226.9 78.4h1M215.2 101.3h1M218.8 48.0h1M217.6 63.2h1M223.8 52.9h1M224.5 96.7h1M218.0 100.6h1M223.9 80.7h1M210.7 60.7h1M222.8 97.1h1M222.7 67.4h1M220.8 84.6h1M212.6 95.2h1M220.2 67.8h1M214.7 60.3h1M229.0 51.7h1M219.1 102.6h1M219.6 49.7h1M220.1 96.7h1M223.8 103.7h1M221.2 72.5h1M223.8 55.6h1M215.5 88.8h1M227.0 59.3h1M218.0 73.8h1M225.1 67.3h1M222.1 91.2h1M226.8 92.4h1M220.4 84.6h1M212.5 78.0h1M214.3 91.9h1M219.5 58.3h1M228.6 59.7h1M218.4 57.9h1M221.1 59.0h1M227.8 74.7h1M217.6 56.1h1M222.5 103.1h1M222.4 51.7h1M217.4 103.5h1M222.1 95.1h1M226.7 80.7h1M226.7 79.1h1M218.9 95.3h1M237.2 67.2h1M222.7 96.3h1M219.2 73.4h1M216.7 95.7h1M215.2 78.5h1M225.4 106.1h1M204.5 84.4h1M219.9 86.1h1M213.0 61.5h1M220.6 51.3h1M213.4 49.1h1M215.2 68.8h1M227.9 106.4h1M217.7 63.2h1M220.7 51.6h1M219.0 66.7h1M225.4 93.4h1M227.6 94.9h1M225.9 52.2h1M223.9 72.5h1M223.9 73.2h1M214.1 57.9h1M228.1 56.4h1M217.6 66.8h1M215.8 70.5h1M218.7 83.8h1M216.3 86.7h1M223.1 84.3h1M224.8 72.9h1M228.0 58.0h1M220.2 54.2h1M217.4 55.7h1M219.2 91.6h1M214.2 59.0h1M216.6 75.9h1M232.0 62.2h1M216.4 63.4h1M218.2 92.2h1M224.3 94.8h1M222.2 79.7h1M225.1 85.0h1M215.9 85.6h1M214.8 95.4h1M228.2 47.6h1M217.0 63.6h1M220.2 95.1h1M210.4 89.5h1M219.7 96.9h1M217.1 58.6h1M223.7 49.7h1M219.0 103.8h1M208.1 62.1h1M225.2 64.1h1M206.4 85.6h1M218.5 78.5h1M216.9 98.1h1M217.3 62.0h1M220.7 58.1h1M226.1 52.2h1M215.9 95.0h1M217.3 86.7h1M224.9 88.2h1M223.6 63.5h1M224.8 59.4h1M222.6 91.2h1M219.4 95.6h1M218.0 64.8h1M218.1 66.4h1M225.9 95.1h1M229.2 95.7h1M231.9 57.8h1M214.9 63.2h1M219.4 93.0h1M220.8 89.9h1M219.8 70.4h1M214.4 95.5h1M233.1 88.9h1M229.3 73.7h1M219.8 77.3h1M218.2 60.1h1M220.7 71.9h1M214.0 54.3h1M218.9 78.5h1M225.1 51.9h1M230.1 48.1h1M225.8 105.3h1M228.1 55.7h1M214.8 66.7h1M202.5 100.5h1M228.6 52.5h1M221.8 82.1h1M220.3 77.5h1M230.2 82.7h1M215.3 86.8h1M215.4 77.3h1M216.6 101.6h1M229.9 86.0h1M226.1 56.9h1M210.7 82.2h1M230.2 50.6h1M220.9 63.2h1M223.2 101.7h1M216.4 50.9h1M231.4 68.1h1M223.3 51.6h1M228.3 101.1h1M215.1 50.9h1M224.8 81.3h1M221.3 75.2h1M219.5 100.4h1M216.2 50.4h1M216.8 48.4h1M214.1 97.0h1M217.0 58.5h1M220.6 73.8h1M224.1 102.1h1M211.9 66.6h1M214.9 60.3h1M217.3 97.1h1M211.5 95.6h1M219.3 95.1h1M219.7 83.5h1M223.1 60.0h1M226.1 92.7h1M225.3 80.8h1M222.4 72.8h1M224.1 82.6h1M216.2 56.8h1M215.4 103.5h1M224.5 69.9h1M224.0 103.3h1M233.3 94.3h1M219.5 86.4h1M215.1 64.4h1M222.4 89.5h1M218.2 69.5h1M215.7 102.6h1M228.6 69.2h1M231.8 99.0h1M222.9 50.3h1M217.0 95.9h1M222.2 77.6h1M220.5 83.5h1M212.8 84.7h1M225.5 106.4h1M222.8 84.7h1M228.0 104.3h1M217.6 89.9h1M220.7 74.5h1M220.1 102.7h1M210.9 92.9h1M235.1 89.4h1M208.8 102.6h1M214.3 58.9h1M218.8 58.3h1M211.9 83.7h1M223.2 68.5h1M218.2 56.9h1M221.2 63.7h1M222.2 49.9h1M221.2 97.5h1M221.4 54.8h1M220.0 49.1h1M223.3 80.8h1M225.5 63.3h1M219.4 56.6h1M218.3 78.7h1M218.6 72.5h1M222.6 70.7h1M218.7 87.1h1M218.7 57.4h1M212.2 76.9h1M231.9 102.7h1M213.8 69.2h1M230.5 91.6h1M225.5 70.0h1M226.8 62.0h1M222.4 71.0h1M223.7 51.8h1M222.6 64.7h1M224.3 66.1h1M225.7 97.2h1M229.7 98.6h1M215.2 93.4h1M223.7 77.3h1M230.2 51.8h1M229.0 88.8h1M215.1 77.7h1M222.8 96.0h1M222.6 76.4h1M222.4 50.2h1M208.0 78.7h1M226.0 55.0h1M211.7 101.0h1M233.6 50.5h1M224.8 73.6h1M220.4 55.7h1M224.7 81.1h1M221.8 50.5h1M217.9 106.2h1M220.5 86.6h1M223.0 97.7h1M216.4 70.3h1M225.2 68.1h1M227.5 72.1h1M227.3 49.0h1M227.9 89.2h1M228.6 79.9h1M225.1 84.5h1M228.6 66.0h1M221.4 50.8h1M223.4 87.4h1M229.3 97.6h1M232.3 71.6h1M219.1 71.9h1M212.7 63.1h1M233.5 61.1h1M227.8 92.2h1M231.7 79.8h1M226.3 106.6h1M222.5 84.2h1M217.4 58.1h1M215.5 63.2h1M229.5 88.0h1M226.8 68.9h1M223.0 89.8h1M214.6 86.9h1M218.1 94.5h1M217.5 83.6h1M219.4 77.3h1M204.3 77.8h1M222.4 63.3h1M230.2 59.4h1M217.9 97.6h1M221.3 88.2h1M222.7 82.0h1M215.3 94.9h1M223.6 53.0h1M216.4 83.4h1M218.6 97.9h1M222.6 81.8h1M220.8 100.0h1M221.7 55.0h1M215.8 104.6h1M225.4 65.0h1M214.8 89.6h1M226.1 105.3h1M218.3 81.0h1M214.2 64.6h1M220.6 106.3h1M215.0 63.0h1M218.0 90.5h1M220.2 82.9h1M225.7 78.4h1M225.8 94.2h1M223.9 103.0h1M219.5 104.7h1M212.2 94.3h1M219.8 96.9h1M219.2 49.3h1M220.4 69.8h1M218.0 81.2h1M218.1 76.0h1M225.8 103.6h1M213.3 102.5h1M221.2 76.4h1M228.5 102.7h1M216.6 68.8h1M215.4 95.1h1M219.8 55.5h1M222.7 74.6h1M229.1 105.9h1M220.4 62.9h1M224.4 64.2h1M217.7 64.3h1M218.3 65.1h1M222.8 52.8h1M217.2 94.8h1M228.2 78.1h1M218.7 78.4h1M220.2 63.4h1M215.0 76.4h1M218.6 75.1h1M215.2 48.5h1M218.3 65.5h1M210.7 57.8h1M221.1 65.4h1M231.4 73.2h1M210.1 106.7h1M231.3 70.0h1M220.4 101.0h1M226.3 91.9h1M215.2 106.7h1M233.0 96.5h1M214.8 104.0h1M220.7 56.3h1M230.3 94.5h1M213.6 68.5h1M207.4 71.0h1M220.7 54.1h1M216.6 56.1h1M215.4 88.2h1M215.7 60.7h1M212.5 86.3h1M229.4 68.8h1M228.3 85.6h1M213.0 85.1h1M220.5 60.4h1M218.4 102.0h1M227.6 90.3h1M216.1 81.4h1M230.7 84.6h1M221.1 86.4h1M216.4 68.8h1M220.6 84.1h1M217.6 56.9h1M222.0 89.5h1M218.2 93.5h1M221.6 92.3h1M229.8 98.5h1M215.4 75.2h1M211.1 62.8h1M228.8 49.4h1M224.7 78.4h1M218.4 56.8h1M220.6 75.4h1M227.6 51.2h1M204.9 94.1h1M228.6 68.9h1M220.0 65.9h1M225.1 95.6h1M220.7 71.4h1M239.4 75.7h1M217.4 87.3h1M227.6 49.5h1M205.5 66.1h1M225.7 88.6h1M211.8 55.3h1M208.9 104.5h1M221.6 103.3h1M227.1 86.8h1M228.1 48.5h1M217.0 72.5h1M223.1 70.6h1M212.6 58.2h1M231.5 83.7h1M217.6 64.8h1M228.7 87.7h1M219.4 62.3h1M219.1 102.2h1M230.7 64.0h1M215.8 48.4h1M228.8 98.4h1M218.9 60.9h1M215.8 50.1h1M216.0 104.4h1M227.8 66.9h1M220.5 89.6h1M218.9 54.0h1M212.0 96.0h1M228.0 98.0h1M227.3 64.2h1M222.9 62.0h1M225.7 55.6h1M201.6 82.7h1M217.8 72.2h1M222.0 101.0h1M221.6 69.7h1M217.6 77.9h1M222.4 70.7h1M216.6 63.6h1M217.1 51.0h1M213.5 83.2h1M221.8 65.0h1M216.7 102.1h1M218.0 86.7h1M229.3 85.4h1M220.7 99.5h1M220.8 58.8h1M211.8 100.9h1M217.9 96.5h1M226.9 58.6h1M224.3 60.7h1M221.3 50.2h1M219.9 74.3h1M221.4 54.5h1M223.4 96.3h1M219.0 64.1h1M206.1 61.1h1M232.8 102.4h1M227.8 66.2h1M220.1 67.6h1M229.5 80.9h1M213.2 79.8h1M228.7 65.5h1M222.1 84.6h1M226.3 60.4h1M218.9 87.7h1M221.9 66.2h1M224.5 61.1h1M227.3 68.1h1M224.1 63.3h1M223.7 95.3h1M217.4 93.0h1M231.3 54.2h1M222.2 101.4h1M219.6 96.7h1M219.1 53.2h1M213.8 77.2h1M216.6 79.0h1M211.9 77.9h1M222.2 48.7h1M220.5 102.6h1M222.3 73.3h1M213.5 91.3h1M218.5 80.5h1M217.1 103.1h1M226.9 65.4h1M212.0 89.7h1M211.9 66.6h1M228.7 103.2h1M223.2 65.8h1M211.6 50.0h1M229.1 76.7h1M229.9 89.8h1M227.8 72.0h1M208.6 92.4h1M221.7 92.1h1M215.8 61.0h1M219.4 71.8h1M231.4 78.5h1M216.8 100.2h1M222.7 71.4h1M225.8 60.9h1M224.7 100.3h1M223.5 74.8h1M218.6 48.4h1M222.3 89.6h1M219.7 79.7h1M207.3 97.0h1M227.0 105.2h1M217.2 88.9h1M217.9 55.3h1M218.5 53.3h1M212.6 98.8h1M213.7 91.8h1M210.2 96.6h1M223.8 80.2h1M228.1 82.9h1M221.4 51.8h1M214.1 73.0h1M228.8 81.3h1M219.1 64.6h1M211.4 52.3h1M209.7 100.5h1M222.1 56.6h1M229.6 78.3h1M218.7 87.8h1M217.2 77.0h1M219.3 100.9h1M215.9 61.6h1M217.7 101.2h1M222.5 99.3h1M216.6 80.2h1M226.6 72.5h1M215.1 99.1h1M225.2 76.9h1M223.0 105.2h1M218.6 56.4h1M219.2 53.4h1M219.0 57.8h1M231.0 97.9h1M216.1 73.5h1M228.1 75.6h1M227.0 87.6h1M218.9 59.7h1M230.7 73.9h1M206.7 83.9h1M222.4 49.1h1M221.7 73.6h1M221.1 82.7h1M226.0 72.6h1M218.6 59.4h1M219.8 51.3h1M227.9 104.4h1M220.3 95.3h1M214.8 80.7h1M224.4 91.2h1M220.5 48.9h1M224.3 67.8h1M216.3 74.2h1M215.1 51.4h1M219.4 66.8h1M219.8 54.5h1M221.3 67.8h1M213.7 72.6h1M231.3 83.7h1M225.0 55.3h1M221.8 99.6h1M222.3 104.2h1M205.9 55.4h1M226.5 56.5h1M214.8 94.6h1M224.0 67.5h1M213.8 63.8h1M226.9 63.4h1M217.7 58.7h1M219.7 101.8h1M230.1 87.6h1M226.9 60.4h1M216.8 67.3h1M222.1 93.2h1M219.6 91.5h1M225.8 73.7h1M216.9 87.9h1M209.7 64.4h1M215.5 91.3h1M219.8 59.7h1M224.2 55.2h1M225.4 70.2h1M228.4 89.8h1M222.4 90.3h1M219.7 64.3h1M225.3 49.5h1M220.4 80.6h1M218.1 92.5h1M218.2 49.8h1M226.5 55.9h1M229.9 74.9h1M228.9 59.2h1M211.4 70.6h1M227.5 58.2h1M214.2 89.7h1M218.9 94.2h1M224.5 104.8h1M213.0 49.3h1M213.6 55.7h1M216.5 100.1h1M231.1 89.1h1M227.4 88.8h1M215.6 48.6h1M221.8 66.5h1M222.8 50.8h1M216.7 54.1h1M229.6 56.2h1M218.7 86.4h1M225.9 72.3h1M210.9 65.7h1M223.3 57.5h1M221.8 64.1h1M229.1 96.0h1M205.4 69.6h1M224.3 48.0h1M219.4 105.0h1M228.9 69.8h1M233.6 86.4h1M226.3 53.0h1M225.8 81.8h1M229.1 50.6h1M223.6 61.6h1M228.3 104.0h1M224.6 55.4h1M216.9 79.1h1M214.7 83.3h1M228.0 60.9h1M224.6 105.2h1M217.0 77.8h1M221.1 52.2h1M229.8 93.6h1M210.7 76.0h1M215.6 58.0h1M225.2 68.9h1M225.9 81.0h1M213.9 77.3h1M215.0 73.9h1M222.0 47.8h1M229.4 53.5h1M221.0 72.5h1M207.0 106.1h1M227.2 57.8h1M220.8 61.8h1M218.2 74.9h1M214.0 66.0h1M228.1 100.3h1M222.6 92.9h1M223.4 89.0h1M223.1 55.9h1M223.6 69.6h1M226.0 95.0h1M231.3 81.2h1M214.6 56.1h1M220.5 98.5h1M218.3 102.6h1M231.1 93.3h1M219.2 83.2h1M211.3 57.4h1M220.8 68.7h1M216.6 74.1h1M216.5 81.8h1M218.3 79.9h1M213.1 56.1h1M209.4 83.4h1M232.7 96.1h1M220.2 60.2h1M215.4 51.9h1M224.7 71.0h1M229.0 71.0h1M210.5 103.1h1M218.3 63.5h1M222.7 94.0h1M215.9 96.9h1M223.7 55.4h1M213.5 102.0h1M217.0 82.0h1M220.2 99.3h1M223.5 94.9h1M221.2 76.7h1M216.9 98.3h1M218.8 67.1h1M208.3 66.8h1M233.8 83.4h1M218.5 70.1h1M219.2 60.1h1M222.6 95.9h1M224.4 96.2h1M223.0 52.5h1M216.9 89.9h1M211.0 102.6h1M219.9 96.2h1M216.2 56.3h1M217.6 52.7h1M220.9 74.2h1M222.4 101.2h1M228.7 102.2h1M220.1 49.1h1M210.6 101.5h1M224.5 86.2h1M226.5 87.0h1M211.1 61.7h1M224.6 85.1h1M222.1 103.9h1M217.7 82.4h1M222.0 102.3h1M223.3 88.8h1M224.5 61.8h1M227.8 68.6h1M220.9 63.0h1M220.9 65.4h1M235.5 87.6h1M214.5 76.9h1M219.3 101.7h1M218.8 59.3h1M225.6 55.3h1M227.6 52.8h1M213.0 62.4h1M228.3 90.4h1M213.8 57.4h1M236.6 85.9h1M216.9 102.2h1M227.6 85.1h1M219.3 59.9h1M225.2 93.3h1M216.5 97.8h1M221.7 79.1h1M221.1 70.5h1M221.5 83.9h1M225.7 53.4h1M218.3 87.1h1M219.0 61.1h1M213.0 85.7h1M220.1 66.1h1M218.0 69.8h1M226.3 103.2h1M225.0 68.0h1M216.6 94.8h1M223.6 53.7h1M228.9 89.0h1M219.7 52.1h1M213.9 77.9h1M235.7 100.8h1M224.3 63.6h1M225.2 64.4h1M236.0 102.5h1M216.2 73.3h1M222.8 85.5h1M209.6 90.3h1M223.9 91.0h1M223.3 105.3h1M216.3 104.7h1M215.8 52.1h1M219.9 50.6h1M219.6 92.2h1M230.5 59.6h1M219.5 89.6h1M220.0 54.4h1M219.9 75.1h1M211.4 73.6h1M218.0 73.7h1M212.8 80.8h1M221.7 55.2h1M207.8 74.3h1M222.5 51.1h1M208.3 95.0h1M211.6 81.6h1M226.9 58.7h1M213.0 87.7h1M220.9 68.0h1M222.8 76.4h1M214.6 60.4h1M230.1 103.5h1M217.6 77.8h1M224.1 76.3h1M216.4 71.1h1M223.1 82.2h1M213.1 85.3h1M212.7 93.0h1M214.7 56.2h1M217.2 102.2h1M217.2 52.0h1M219.0 103.5h1M223.5 60.5h1M217.7 76.7h1M226.6 97.8h1M217.0 68.7h1M224.9 53.8h1M228.8 88.3h1M231.4 91.2h1M209.0 71.9h1M231.3 87.0h1M210.3 98.0h1M229.5 47.7h1M220.9 86.5h1M223.1 84.9h1M215.3 74.7h1M226.6 59.5h1M225.1 67.9h1M217.6 72.0h1M217.2 96.5h1M226.1 92.0h1M227.2 78.1h1M225.6 65.7h1M218.7 99.8h1M221.0 49.9h1M226.6 69.2h1M226.0 67.6h1M227.7 76.6h1M221.8 50.2h1M216.7 73.0h1M222.7 56.1h1M223.7 51.1h1M223.7 97.5h1M215.9 67.7h1M222.5 86.6h1M217.3 61.8h1M233.7 100.7h1M228.1 85.8h1M222.5 73.8h1M213.1 64.8h1M213.6 73.9h1M225.2 92.5h1M220.1 94.2h1M222.8 50.8h1M211.5 105.8h1M211.9 78.8h1M221.7 101.7h1M219.7 50.9h1M213.0 99.1h1M216.2 82.9h1M225.7 53.2h1M218.4 47.6h1M224.4 61.8h1M230.9 102.4h1M223.0 86.9h1M221.7 67.1h1M217.4 65.7h1M228.3 90.7h1M212.3 71.4h1M214.4 52.8h1M220.9 85.9h1M212.1 78.0h1M226.8 99.9h1M217.2 53.4h1M224.1 87.2h1M219.1 93.9h1M219.4 77.8h1M221.0 95.5h1M209.2 100.7h1M214.4 91.6h1M218.1 59.3h1M234.3 54.9h1M225.8 80.3h1M225.3 106.4h1M214.7 104.9h1M226.3 75.0h1M228.4 84.8h1M225.5 66.2h1M236.7 85.7h1M212.9 48.6h1M214.5 101.3h1M219.4 102.0h1M215.1 88.6h1M221.3 56.0h1M224.1 64.3h1M220.9 99.4h1M221.6 65.7h1M223.4 95.0h1M225.6 99.0h1M217.0 90.2h1M216.9 65.5h1M228.1 84.8h1M218.9 98.9h1M216.0 90.6h1M222.6 96.7h1M218.8 100.0h1M221.7 79.4h1M220.6 87.9h1M224.7 81.5h1M226.4 106.4h1M216.0 53.1h1M213.6 49.1h1M230.5 95.3h1M216.8 93.9h1M211.6 84.4h1M209.6 48.2h1M220.7 65.8h1M217.1 98.1h1M209.9 56.5h1M215.2 49.0h1M214.6 106.2h1M226.9 80.2h1M222.3 54.5h1M220.9 69.7h1M213.3 98.5h1M219.8 98.3h1M224.9 63.0h1M221.9 93.7h1M227.3 67.9h1M221.4 58.6h1M225.1 82.0h1M223.7 70.0h1M217.5 94.1h1M228.9 100.9h1M223.1 106.0h1M225.9 92.7h1M214.5 68.9h1M214.4 68.3h1M219.8 58.8h1M216.1 75.5h1M224.6 92.1h1M223.4 50.4h1M228.3 54.3h1M224.4 89.1h1M214.1 62.9h1M226.6 80.5h1M217.0 79.1h1M216.5 57.6h1M221.3 100.3h1M220.9 75.4h1M227.1 49.6h1M237.9 100.2h1M223.4 91.3h1M229.6 57.4h1M219.6 95.4h1M222.9 54.6h1M217.8 76.5h1M218.4 87.6h1M223.6 104.6h1M223.6 100.6h1M216.1 103.3h1M231.2 54.5h1M219.8 50.4h1M217.0 54.2h1M220.8 88.4h1M224.9 50.1h1M225.4 59.6h1M229.7 50.5h1M214.6 85.2h1M218.3 88.0h1M230.3 61.3h1M234.5 62.5h1M217.1 106.0h1M220.3 73.5h1M211.7 63.7h1M216.0 87.9h1M215.6 90.7h1M220.3 78.8h1M213.8 52.8h1M226.5 63.1h1M220.6 95.5h1M219.4 64.2h1M226.4 57.1h1M219.3 64.2h1M213.5 92.4h1M221.1 102.1h1M233.9 100.0h1M221.5 100.9h1M224.1 101.2h1M219.7 105.6h1M219.6 98.4h1M223.9 85.1h1M205.1 65.5h1M217.4 60.7h1M219.3 66.6h1M229.6 93.4h1M235.6 73.9h1M224.7 50.0h1M223.3 80.5h1M225.0 100.2h1M229.9 78.9h1M215.0 93.5h1M218.0 59.4h1M221.9 94.4h1M222.7 67.3h1M209.6 68.9h1M223.5 91.9h1M211.4 81.1h1M225.5 73.4h1M226.0 68.8h1M207.4 66.2h1M223.9 100.2h1M222.1 82.2h1M217.2 93.7h1M226.6 104.8h1M232.9 74.7h1M223.9 90.4h1M214.4 51.8h1M212.3 77.3h1M213.9 88.3h1M214.8 93.0h1M227.6 84.6h1M222.6 76.0h1M220.8 103.4h1M226.1 58.2h1M221.0 88.8h1M221.1 71.0h1M215.9 48.3h1M221.1 93.8h1M213.9 98.4h1M230.8 54.2h1M221.6 96.8h1M217.6 74.2h1M226.7 64.4h1M214.6 80.9h1M227.2 98.5h1M221.4 104.1h1M232.2 77.9h1M217.6 92.7h1M218.5 97.5h1M215.9 86.2h1M222.4 75.0h1M214.6 53.6h1M222.8 74.3h1M217.1 79.0h1M227.2 93.0h1M205.6 97.4h1M223.4 50.2h1M221.2 61.7h1M220.9 56.8h1M217.1 102.0h1M231.3 53.6h1M218.4 99.6h1M223.4 59.0h1M219.3 99.5h1M218.7 78.0h1M221.4 95.6h1M224.9 104.6h1M218.1 52.4h1M212.5 100.5h1M223.3 92.2h1M215.8 68.8h1M216.4 60.0h1M224.8 86.5h1M220.8 89.3h1M223.3 55.7h1M220.0 91.2h1M223.3 80.7h1M221.4 88.4h1M214.2 97.4h1M222.1 75.2h1M218.8 103.0h1M219.4 81.9h1M222.6 63.7h1M217.6 69.7h1M214.5 65.3h1M228.0 104.0h1M231.9 86.8h1M218.8 79.9h1M227.7 102.4h1M223.2 83.8h1M217.0 78.0h1M215.9 74.3h1M219.2 99.6h1M218.3 78.5h1M218.9 69.6h1M220.1 59.6h1M214.1 65.1h1M226.0 94.2h1M214.1 60.0h1M214.5 98.6h1M226.4 96.0h1M225.4 62.0h1M229.6 54.4h1M221.7 98.2h1M217.0 82.5h1M227.7 98.2h1M220.3 104.0h1M220.1 58.4h1M215.8 86.6h1M223.3 62.7h1M206.7 77.3h1M224.0 54.8h1M208.9 95.4h1M226.1 70.9h1M211.6 56.3h1M225.0 54.7h1M235.7 72.5h1M219.2 65.9h1M213.9 89.7h1M232.5 57.9h1M218.2 65.9h1M214.2 103.1h1M228.4 68.3h1M203.8 55.1h1M212.0 58.9h1M213.0 101.6h1M216.7 57.2h1M208.7 60.0h1M225.8 82.3h1M227.0 69.5h1M220.5 50.2h1M218.4 72.4h1M211.5 60.4h1M223.7 72.1h1M216.7 81.9h1M224.6 77.1h1M227.0 54.9h1M221.2 87.8h1M208.2 60.1h1M215.3 96.0h1M229.1 77.5h1M222.5 49.9h1M207.5 62.2h1M220.2 47.9h1M219.8 98.4h1M211.1 73.1h1M217.0 69.8h1M226.8 93.1h1M217.7 55.9h1M222.8 95.2h1M228.0 106.4h1M214.4 103.6h1M222.6 65.8h1M227.2 50.5h1M216.8 77.9h1M228.7 84.7h1M220.4 61.7h1M227.6 83.3h1M226.4 49.4h1M222.5 99.0h1M219.1 68.8h1M217.0 50.5h1M221.9 63.7h1M222.2 101.0h1M229.3 59.0h1M220.4 62.9h1M223.0 67.8h1M231.0 73.6h1M222.8 58.7h1M223.7 61.1h1M230.6 95.2h1M221.5 83.5h1M223.3 60.3h1M225.4 106.3h1M220.2 68.0h1M214.2 80.3h1M212.1 85.8h1M219.7 106.3h1M227.7 89.2h1M226.9 98.8h1M230.7 71.7h1M226.3 65.7h1M217.0 93.1h1M212.2 84.0h1M217.8 74.0h1M219.3 53.7h1M216.5 74.5h1M226.4 52.1h1M216.2 91.1h1M224.4 61.1h1M225.6 79.2h1M210.5 75.9h1M218.4 47.9h1M228.4 105.4h1M226.0 59.6h1M221.6 91.7h1M214.3 102.9h1M216.7 76.0h1M221.4 67.1h1M228.5 52.5h1M223.9 65.5h1M220.4 74.8h1M222.3 71.4h1M225.6 60.6h1M210.4 84.5h1M215.0 94.2h1M221.1 71.1h1M228.2 61.4h1M227.4 65.4h1M216.2 59.4h1M221.0 105.1h1M216.5 99.3h1"/>
<path stroke="#1ebcec" stroke-opacity="0.8" stroke-width="1" fill="none" d="M232.3 50.1h1M216.8 54.1h1M224.3 54.5h1M209.3 49.0h1M223.7 54.0h1M220.3 57.7h1M219.6 56.3h1M229.7 53.9h1M219.5 55.5h1M224.6 55.0h1M214.1 54.4h1M233.8 51.4h1M222.1 51.6h1M233.8 54.6h1M219.2 53.6h1M230.0 54.0h1M226.4 57.3h1M222.4 55.5h1M232.8 54.8h1M216.1 55.6h1M237.3 51.3h1M224.7 54.3h1M228.2 50.9h1M221.0 60.3h1M226.6 50.1h1M227.4 52.8h1M221.9 56.5h1M211.1 49.6h1M224.9 52.7h1M218.7 53.8h1M210.1 49.2h1M234.9 50.0h1M224.6 52.4h1M228.0 53.9h1M224.4 57.2h1M215.9 58.2h1M229.6 51.7h1M208.5 49.7h1M237.6 57.3h1M210.4 50.2h1M210.4 53.0h1M212.5 54.4h1M219.4 50.4h1M226.3 54.3h1M222.2 51.1h1M205.6 49.9h1M222.2 59.5h1M224.3 48.7h1M220.8 52.2h1M220.8 53.6h1M229.3 55.3h1M212.0 55.9h1M213.1 54.1h1M221.9 59.2h1M220.3 52.2h1M219.0 56.0h1M223.6 51.5h1M227.7 60.9h1M234.0 58.5h1M216.9 52.2h1M222.2 55.8h1M225.3 49.2h1M216.1 56.2h1M220.7 53.1h1M223.2 57.6h1M235.2 55.3h1M215.4 56.4h1M235.9 50.1h1M215.5 52.0h1M216.2 54.3h1M217.1 53.3h1M232.0 64.4h1M228.1 48.8h1M229.0 52.6h1M223.9 56.4h1M212.2 53.6h1M226.7 60.9h1M225.9 51.2h1M217.4 49.8h1M216.8 53.0h1M215.1 52.6h1M218.9 51.7h1M217.7 53.7h1M223.2 53.0h1M216.3 53.2h1M215.7 53.0h1M214.3 55.2h1M215.6 55.3h1M224.3 53.1h1M212.2 49.9h1M222.4 53.7h1M221.0 49.3h1M219.3 50.6h1M212.0 48.2h1M224.8 55.6h1M228.0 49.5h1M215.2 53.5h1M217.4 51.3h1M208.7 55.7h1M212.5 56.7h1M223.7 53.9h1M211.8 52.9h1M212.1 49.1h1M220.5 54.2h1M228.1 51.1h1M232.2 55.3h1M232.5 49.1h1M225.5 56.7h1M207.2 56.1h1M224.2 56.1h1M222.4 57.0h1M217.7 50.5h1M226.6 55.3h1M210.6 57.2h1M230.1 56.5h1M215.4 57.4h1M225.0 56.1h1M220.6 50.8h1M215.5 50.1h1M228.0 49.5h1M216.2 53.8h1M215.9 51.1h1M233.5 55.1h1M213.3 48.2h1M217.5 53.4h1M215.0 54.2h1M210.1 53.8h1M220.8 53.5h1M224.5 52.9h1M220.5 53.6h1M221.9 52.9h1M233.2 56.5h1M228.2 50.1h1M217.2 56.6h1M212.9 56.4h1M210.6 60.7h1M230.6 50.4h1M220.6 57.1h1M225.7 51.5h1M236.8 54.6h1M224.2 51.4h1M225.5 62.6h1M222.7 59.9h1M230.2 50.5h1M226.0 49.1h1M216.9 50.3h1M215.5 59.1h1M232.4 51.4h1M221.7 59.0h1M218.8 50.8h1M214.4 58.5h1M222.3 52.5h1M217.7 49.0h1M228.4 49.5h1M212.5 50.5h1M216.2 51.9h1M200.7 54.7h1M218.8 54.2h1M220.9 52.6h1M221.0 55.0h1M210.4 50.2h1M223.9 52.6h1M212.7 51.4h1M215.5 52.5h1M209.7 51.9h1M240.0 56.2h1M230.3 52.5h1M233.2 53.8h1M221.4 56.6h1M211.6 57.9h1M227.8 53.2h1M219.0 51.8h1M223.9 49.1h1M226.8 48.7h1M231.3 51.1h1M213.7 51.3h1M213.6 51.9h1M206.8 50.5h1M221.4 53.9h1M217.8 57.1h1M207.7 51.6h1M217.0 52.4h1M218.8 57.8h1M220.8 48.8h1M240.1 52.6h1M219.5 55.8h1M216.2 51.5h1M217.3 56.1h1M234.8 52.1h1M220.0 56.6h1M209.3 49.7h1M198.2 50.8h1M227.9 55.0h1M219.6 57.6h1M223.5 52.4h1M225.8 52.4h1M230.5 55.1h1M222.8 50.9h1M226.3 49.8h1M228.3 56.9h1M224.3 53.9h1M216.1 52.1h1M231.7 50.1h1M227.8 53.0h1M235.9 53.7h1M208.3 51.3h1M222.8 57.4h1M226.0 51.3h1M211.0 52.6h1M219.9 57.6h1M202.7 50.8h1M223.0 48.6h1M216.8 57.1h1M223.6 53.1h1M219.3 54.7h1M225.5 62.2h1M222.7 49.6h1M217.0 55.3h1M236.0 54.8h1M225.1 53.5h1M217.4 52.7h1M211.4 55.4h1M224.6 53.2h1M214.2 51.4h1M216.4 53.7h1M218.7 53.9h1M228.2 57.4h1M212.9 51.2h1M212.4 57.4h1M214.3 57.8h1M217.0 56.5h1M216.7 51.6h1M221.9 52.8h1M219.8 55.1h1M230.3 55.9h1M226.2 54.9h1M211.4 54.8h1M215.8 57.4h1M215.0 49.2h1M215.8 53.4h1M212.8 61.3h1M218.1 59.4h1M218.7 51.2h1M215.4 49.5h1M224.4 57.2h1M221.8 49.0h1M222.6 49.4h1M200.0 53.0h1M207.3 50.0h1M221.4 50.9h1M218.9 58.6h1M228.5 58.4h1M222.7 53.4h1M234.8 50.0h1M223.6 53.0h1M223.3 54.8h1M221.9 55.7h1M214.4 54.4h1M212.8 56.7h1M228.6 51.7h1M217.0 52.4h1M213.1 56.1h1M203.6 50.7h1M207.2 52.9h1M220.2 59.6h1M211.1 54.9h1M211.5 48.4h1M219.2 49.1h1M235.0 52.2h1M214.9 61.4h1M214.6 50.9h1M219.1 49.3h1M225.4 57.0h1M210.7 50.5h1M210.4 50.9h1M213.7 53.5h1M227.0 53.0h1M222.9 48.7h1M215.9 53.8h1M225.0 52.0h1M224.8 51.3h1M211.6 53.5h1M227.1 53.8h1M226.2 50.5h1M232.1 54.1h1M228.1 49.8h1M218.2 57.2h1M220.4 52.4h1M232.1 56.8h1M222.4 59.7h1M209.1 52.0h1M216.3 58.0h1M232.8 50.5h1M221.7 55.9h1M224.7 53.3h1M228.3 59.8h1M221.6 48.1h1M219.8 52.2h1M217.8 55.0h1M226.3 55.8h1M224.4 53.4h1M212.9 51.0h1M214.1 53.6h1M219.8 52.2h1M224.7 51.2h1M228.9 56.4h1M213.5 57.4h1M218.1 49.6h1M223.3 57.0h1M209.1 54.0h1M225.2 54.9h1M225.6 54.0h1M217.2 55.8h1M223.2 55.4h1M223.1 51.4h1M220.4 54.7h1M216.7 49.8h1M222.2 51.2h1M230.8 50.0h1M215.3 49.2h1M218.4 53.0h1M217.0 48.8h1M210.3 53.0h1M216.5 48.6h1M218.6 53.6h1M236.2 58.5h1M213.9 50.6h1M206.6 55.8h1M215.5 50.4h1M215.6 57.9h1M205.9 50.6h1M222.5 54.1h1M204.0 53.0h1M211.0 50.1h1M208.5 55.2h1M244.3 56.2h1M227.2 56.9h1M212.2 55.9h1M226.4 57.8h1M221.1 54.2h1M232.9 54.3h1M230.7 57.8h1M212.7 60.7h1M229.8 53.0h1M227.1 53.6h1M222.6 48.6h1M217.8 51.2h1M229.2 54.3h1M224.0 52.0h1M214.0 56.1h1M217.8 54.9h1M233.0 55.5h1M209.7 51.6h1M212.2 54.3h1M228.8 51.6h1M224.8 51.7h1M235.6 53.0h1M222.7 54.6h1M229.0 55.1h1M220.7 52.7h1M224.8 54.7h1M218.1 50.3h1M219.2 54.3h1M217.6 48.4h1M218.4 50.6h1M225.6 50.5h1M217.9 59.6h1M224.4 49.0h1M230.1 51.1h1M214.8 55.0h1M210.3 52.3h1M225.3 55.3h1M217.0 50.6h1M220.4 57.1h1M207.4 55.6h1M223.3 57.7h1M212.5 56.9h1M214.4 53.7h1M220.6 54.0h1M227.6 50.1h1M212.2 55.2h1M218.3 56.5h1M231.9 51.6h1M219.8 49.8h1M205.7 52.5h1M226.6 56.6h1M220.9 59.6h1M217.1 52.4h1M216.9 50.9h1M219.0 49.9h1M217.9 53.6h1M221.9 48.6h1M225.0 49.4h1M224.6 52.8h1M206.5 48.6h1M228.3 50.1h1M216.1 50.9h1M222.0 54.7h1M218.9 59.0h1M216.8 50.8h1M219.7 53.2h1M232.2 61.5h1M218.5 51.9h1M226.0 52.1h1M227.7 48.5h1M225.1 55.1h1M240.1 49.1h1M226.4 55.0h1M213.9 53.5h1M214.7 48.1h1M209.6 51.7h1M226.4 53.5h1M218.1 51.1h1M216.5 54.7h1M228.9 57.7h1M213.5 55.6h1M198.8 51.6h1M227.6 55.3h1M210.1 49.3h1M204.3 49.6h1M210.3 53.6h1M215.1 54.8h1M220.1 51.2h1M234.7 57.0h1M210.7 57.9h1M226.9 57.6h1M210.1 49.8h1M230.8 52.6h1M222.7 55.4h1M213.9 56.8h1M222.7 48.7h1M216.5 51.5h1M225.7 58.0h1M218.6 51.6h1M235.0 64.9h1M235.0 53.2h1M218.2 55.1h1"/>
<path stroke="#1ebcec" stroke-opacity="0.55" stroke-width="0.8" fill="none" d="M226.6 50.3h0.8M224.7 81.8h0.8M207.6 103.1h0.8M202.3 79.9h0.8M234.6 54.1h0.8M221.9 55.4h0.8M222.6 93.2h0.8M202.1 61.3h0.8M239.6 93.4h0.8M228.4 83.0h0.8M216.0 70.7h0.8M199.2 74.0h0.8M218.1 97.0h0.8M241.0 105.2h0.8M231.2 56.7h0.8M198.0 94.1h0.8M230.7 84.3h0.8M236.2 61.5h0.8M208.5 59.4h0.8M234.9 60.4h0.8M240.7 104.7h0.8M215.8 90.9h0.8M201.6 47.5h0.8M213.7 72.6h0.8M237.8 91.9h0.8M217.9 59.6h0.8M210.5 73.7h0.8M216.9 66.6h0.8M234.5 77.6h0.8M224.4 53.3h0.8M202.2 87.1h0.8M211.3 53.7h0.8M209.9 77.9h0.8M231.5 57.4h0.8M220.1 83.6h0.8M200.3 51.6h0.8M197.8 62.3h0.8M213.4 93.8h0.8M222.5 53.6h0.8M222.9 60.0h0.8M214.3 84.6h0.8M215.5 82.8h0.8M210.6 51.4h0.8M204.1 80.0h0.8M211.8 103.0h0.8M226.6 54.4h0.8M210.2 69.9h0.8M237.8 49.7h0.8M222.2 87.1h0.8M204.3 52.7h0.8M217.8 70.8h0.8M204.9 58.7h0.8M202.9 93.1h0.8M201.9 58.7h0.8M204.7 64.8h0.8M205.5 87.8h0.8M240.6 52.1h0.8M199.2 80.2h0.8M217.4 57.1h0.8M226.2 58.2h0.8M211.7 52.2h0.8M215.2 62.5h0.8M218.3 67.9h0.8M227.6 90.2h0.8M220.0 59.1h0.8M220.5 55.2h0.8M209.7 63.6h0.8M199.4 83.5h0.8M226.8 105.6h0.8M220.7 82.1h0.8M220.2 48.3h0.8M223.1 70.2h0.8M239.1 80.1h0.8M231.1 95.6h0.8M219.1 106.4h0.8M206.2 55.6h0.8M204.4 96.3h0.8M223.1 89.8h0.8M232.2 86.2h0.8M227.3 80.4h0.8M231.3 86.3h0.8M200.5 66.8h0.8M200.7 51.6h0.8M222.4 63.0h0.8M231.7 48.9h0.8M206.0 94.2h0.8M241.5 63.5h0.8M218.2 102.3h0.8M199.7 81.6h0.8M224.1 89.1h0.8M241.9 78.0h0.8M241.3 99.4h0.8M240.8 93.2h0.8M216.9 55.2h0.8M236.6 88.5h0.8M212.2 97.1h0.8M236.2 89.3h0.8M220.4 97.3h0.8M214.2 88.7h0.8M198.9 74.7h0.8M214.6 51.8h0.8M227.1 61.6h0.8M205.3 90.5h0.8M217.2 65.0h0.8M208.1 93.2h0.8M204.4 96.2h0.8M204.4 101.2h0.8M223.6 106.1h0.8M226.9 62.0h0.8M212.0 53.0h0.8M201.0 97.6h0.8M210.8 66.9h0.8M202.9 100.7h0.8M225.5 90.4h0.8M236.4 106.5h0.8M199.6 59.8h0.8M217.0 64.3h0.8M219.0 88.3h0.8M198.9 47.9h0.8M241.4 88.3h0.8M202.3 80.4h0.8M202.3 76.6h0.8M200.0 51.7h0.8M213.9 92.1h0.8M226.8 50.6h0.8M220.7 89.2h0.8M216.1 95.7h0.8M208.0 62.7h0.8M234.6 99.3h0.8M208.2 61.4h0.8M217.2 70.0h0.8M227.4 95.8h0.8M198.0 100.5h0.8M204.0 102.8h0.8M217.7 93.8h0.8M209.2 48.6h0.8M205.5 98.2h0.8M240.6 99.2h0.8M197.6 102.0h0.8M210.9 67.7h0.8M204.6 55.6h0.8M206.6 96.1h0.8M239.1 63.9h0.8M213.3 72.0h0.8M223.4 101.1h0.8M225.1 58.2h0.8M238.0 64.1h0.8M238.6 67.3h0.8M212.5 96.0h0.8M226.7 104.4h0.8M201.6 57.4h0.8M226.8 64.4h0.8M207.8 93.7h0.8M197.5 60.2h0.8M231.7 83.3h0.8M241.8 74.7h0.8M228.4 97.8h0.8M232.3 63.2h0.8M239.0 78.7h0.8M212.7 82.6h0.8M236.6 49.8h0.8M219.2 51.3h0.8M220.2 59.7h0.8M200.3 49.9h0.8M209.5 70.5h0.8M214.9 81.2h0.8M221.7 76.6h0.8M207.2 85.7h0.8M240.9 82.1h0.8M236.2 90.3h0.8M203.5 98.5h0.8M201.9 48.7h0.8M199.3 51.4h0.8M205.8 49.1h0.8M231.8 80.8h0.8M207.6 56.7h0.8M223.8 76.8h0.8M222.3 64.0h0.8M240.2 72.6h0.8M216.5 73.7h0.8M206.4 83.1h0.8M220.2 48.8h0.8M213.9 77.4h0.8M202.2 65.5h0.8M236.6 80.7h0.8M212.7 71.4h0.8M197.4 48.6h0.8M235.3 74.0h0.8M235.1 80.4h0.8M214.6 99.3h0.8M232.6 75.9h0.8M219.4 64.2h0.8M224.4 48.9h0.8M218.1 57.1h0.8M202.7 104.2h0.8M239.8 80.1h0.8M197.7 102.1h0.8M198.3 54.0h0.8M217.2 57.0h0.8M205.9 100.2h0.8M234.6 50.1h0.8M236.2 76.0h0.8M210.8 86.7h0.8M201.1 79.2h0.8M221.6 87.2h0.8M214.0 50.3h0.8M241.5 80.4h0.8M214.2 79.4h0.8M224.9 94.1h0.8M240.2 76.4h0.8M237.7 66.9h0.8M203.2 74.7h0.8M216.4 57.4h0.8M220.6 94.1h0.8M231.0 79.7h0.8M235.6 63.4h0.8M237.4 89.0h0.8M223.4 66.2h0.8M233.5 77.8h0.8M201.9 103.4h0.8M241.1 74.2h0.8M212.0 63.1h0.8M197.8 91.9h0.8M209.3 105.6h0.8M226.2 99.1h0.8M214.1 83.1h0.8M223.7 92.7h0.8M211.3 65.1h0.8M206.3 53.0h0.8M230.6 92.5h0.8M200.8 102.7h0.8M238.7 82.1h0.8M234.5 65.6h0.8M212.4 70.7h0.8M219.5 47.7h0.8M230.1 92.2h0.8M237.6 106.2h0.8M241.2 56.0h0.8M219.7 82.5h0.8M215.8 73.5h0.8M199.7 85.5h0.8M241.8 105.6h0.8M209.1 96.8h0.8M206.9 85.0h0.8M237.0 49.6h0.8M230.8 67.5h0.8M218.9 67.0h0.8M225.8 90.7h0.8M239.0 55.7h0.8M218.2 61.7h0.8M199.6 54.3h0.8M242.0 88.8h0.8M240.7 47.5h0.8M237.6 70.0h0.8M205.9 68.4h0.8M210.5 101.0h0.8"/>
<path stroke="#1ebcec" stroke-opacity="0.7" stroke-width="1" fill="none" d="M236.4 23.4h1M256.4 37.5h1M252.2 35.0h1M254.6 40.2h1M243.4 36.8h1M239.4 37.9h1M238.6 33.7h1M232.6 42.8h1M244.5 13.4h1M256.4 29.5h1M243.3 39.6h1M245.1 35.6h1M258.0 30.1h1M248.9 31.9h1M242.8 30.5h1M243.7 31.0h1M254.6 28.9h1M256.8 39.4h1M252.2 26.8h1M252.9 17.0h1M249.0 14.4h1M240.3 38.4h1M234.8 25.7h1M237.1 42.7h1M236.8 45.8h1M259.9 38.0h1M248.7 33.7h1M253.3 52.6h1M257.9 33.6h1M253.1 39.9h1M236.0 48.0h1M235.1 24.0h1M252.5 26.0h1M247.7 28.9h1M249.5 46.0h1M250.8 35.9h1M238.7 46.8h1M243.9 40.4h1M240.9 41.4h1M246.1 24.2h1M246.4 28.5h1M257.3 31.9h1M257.6 52.5h1M251.9 29.3h1M254.4 33.0h1M253.5 23.5h1M259.6 23.8h1M241.9 32.3h1M251.3 47.4h1M244.9 28.0h1M246.8 37.1h1M253.0 29.1h1M258.4 51.3h1M246.6 36.3h1M241.7 45.6h1M250.0 47.7h1M258.7 34.6h1M242.4 35.2h1M244.7 37.1h1M242.8 33.4h1M247.8 34.5h1M247.5 41.9h1M252.9 27.4h1M264.0 28.2h1M262.4 40.8h1M238.5 43.9h1M257.9 38.2h1M256.3 37.6h1M233.0 35.8h1M244.5 20.8h1M242.6 36.2h1M252.9 38.7h1M246.2 29.2h1M241.6 41.5h1M252.7 34.8h1M248.6 35.1h1M237.0 40.7h1M248.9 25.3h1M252.7 37.3h1M264.0 24.8h1M241.3 29.0h1M233.8 30.2h1M236.5 46.6h1M248.2 36.8h1M228.8 29.9h1M239.7 51.9h1M250.9 22.5h1M248.5 35.6h1M237.9 35.4h1M256.6 35.2h1M254.9 33.2h1M249.8 37.5h1M251.8 45.6h1M250.8 37.2h1M244.5 31.5h1M245.9 33.4h1M244.3 43.2h1M262.9 28.3h1M244.2 31.3h1M238.8 44.8h1M248.9 28.0h1M245.1 29.8h1M258.1 29.8h1M256.4 43.2h1M232.6 46.8h1M248.5 32.3h1M251.8 42.2h1M240.6 34.1h1M263.6 33.8h1M253.9 37.8h1M247.3 33.0h1M247.7 37.5h1M239.0 27.8h1M247.5 37.4h1M249.0 39.6h1M253.1 39.5h1M248.1 33.6h1M254.9 37.8h1M241.7 32.0h1M255.7 26.5h1M248.9 30.8h1M254.0 42.3h1M255.6 20.5h1M226.1 21.7h1M257.3 41.7h1M248.7 32.3h1M250.6 26.3h1M257.0 40.2h1M259.1 34.0h1M243.0 35.3h1M247.3 49.7h1M256.5 29.6h1M248.0 36.8h1M244.7 40.9h1M252.8 35.5h1M239.7 20.4h1M241.6 27.8h1M243.0 55.1h1M243.4 36.1h1M242.6 31.4h1M253.1 17.7h1M249.1 29.7h1M259.6 34.7h1M243.1 26.1h1M256.5 37.4h1M251.3 30.6h1M249.5 28.0h1M250.5 36.2h1M242.5 30.3h1M242.9 30.9h1M242.3 46.1h1M244.6 32.7h1M245.1 39.7h1M242.7 32.3h1M249.8 34.8h1M237.3 32.6h1M255.9 28.0h1M258.1 33.5h1M246.1 34.0h1M257.0 24.5h1M241.8 31.9h1M243.1 30.3h1M244.0 27.3h1M252.3 34.8h1M246.9 30.7h1M263.4 41.3h1M243.8 31.1h1M251.3 31.1h1M250.5 38.2h1M239.9 44.9h1M235.6 32.2h1M249.4 45.1h1M244.3 40.4h1M242.6 42.6h1M253.5 40.4h1M248.6 34.3h1M234.8 44.7h1M253.7 32.9h1M250.5 37.5h1M250.6 26.2h1M248.2 37.8h1M245.9 28.4h1M234.0 45.2h1M258.1 41.7h1M247.4 28.2h1M250.1 32.5h1M237.5 29.5h1M231.7 38.6h1M244.4 37.1h1M248.1 36.3h1M260.9 26.7h1M254.6 24.8h1M240.2 35.0h1M239.7 52.2h1M251.5 38.2h1M261.3 30.4h1M251.1 14.5h1M257.5 31.4h1M246.8 43.7h1M245.1 30.8h1M239.0 53.6h1M228.4 46.4h1M261.0 32.1h1M241.7 36.1h1M243.5 39.1h1M242.3 27.8h1M240.3 47.9h1M234.0 33.8h1M261.3 20.3h1M234.2 34.9h1M250.1 27.4h1M238.2 22.1h1M242.6 37.8h1M252.3 43.4h1M240.9 15.9h1M232.0 36.6h1M244.9 36.5h1M245.7 22.4h1M233.2 49.0h1M231.5 25.4h1M238.2 36.4h1M233.8 33.2h1M250.4 24.2h1M249.7 34.9h1M252.1 50.3h1M245.5 55.9h1M238.7 37.4h1M252.7 40.2h1M250.7 29.9h1M248.1 43.4h1M256.2 25.3h1M257.7 33.1h1M244.9 27.4h1M239.0 42.9h1M224.7 43.8h1M244.3 23.3h1M264.5 37.8h1M238.6 38.8h1M244.1 32.3h1M244.9 39.9h1M259.4 28.4h1M248.1 35.3h1M243.9 41.6h1M239.9 31.3h1M245.4 21.2h1M241.9 34.8h1M240.7 26.5h1M239.5 38.2h1M251.0 31.8h1M242.6 31.0h1M237.6 18.5h1M255.0 37.9h1M243.5 29.4h1M254.4 25.4h1M255.9 27.7h1M240.6 37.0h1M241.4 36.9h1M249.7 31.4h1M243.5 36.8h1M249.8 33.4h1M252.9 36.1h1M251.5 38.0h1M250.9 41.6h1M252.8 38.2h1M240.8 27.5h1M243.9 37.1h1M249.6 33.2h1M253.4 21.2h1M233.5 41.4h1M242.2 38.0h1M260.9 48.0h1M233.9 34.3h1M241.6 26.7h1M245.8 45.6h1M246.5 35.1h1M249.3 20.4h1M247.7 34.2h1M245.6 28.1h1M243.5 36.2h1M249.9 27.7h1M244.4 20.1h1M252.7 37.7h1M239.5 37.1h1M247.9 36.7h1M256.3 31.1h1M244.7 34.8h1M251.6 38.4h1M247.0 30.8h1M242.0 31.9h1M239.1 35.8h1M245.4 41.8h1M238.7 40.4h1M241.2 44.4h1M253.4 41.0h1M247.5 26.9h1M245.2 31.2h1M239.9 31.3h1M245.1 36.8h1M256.7 48.3h1M246.1 36.2h1M245.5 33.9h1M245.0 36.6h1M248.0 40.0h1M247.2 28.2h1M248.0 36.7h1M244.3 34.8h1M248.4 38.9h1M246.5 31.2h1M250.7 42.2h1M242.4 42.6h1M257.4 57.1h1M251.7 32.7h1M241.3 26.8h1M250.0 48.5h1M248.6 31.9h1M247.1 35.3h1M240.7 39.5h1M245.8 24.6h1M236.4 20.6h1M237.9 46.6h1M261.8 40.5h1M237.7 39.8h1M248.2 42.4h1M249.6 34.2h1M249.8 30.0h1M252.8 29.2h1M255.4 31.6h1M245.0 27.7h1M231.1 32.4h1M243.5 21.0h1M255.6 27.6h1M238.8 42.4h1M238.5 40.3h1M249.1 42.8h1M256.4 36.6h1M247.9 43.9h1M246.9 35.9h1M251.0 34.7h1M239.8 44.0h1M237.5 44.1h1M246.8 35.7h1M242.6 45.0h1M248.7 40.4h1M239.6 33.9h1M250.8 40.5h1M235.9 37.1h1M242.6 35.5h1M247.3 42.9h1M252.1 32.3h1M256.3 37.4h1M240.4 33.4h1M258.8 44.1h1M228.4 41.1h1M249.9 27.3h1M253.9 32.8h1M236.8 37.5h1M246.8 28.5h1M252.2 34.4h1M246.2 38.4h1M245.2 37.7h1M244.6 47.0h1M248.9 42.6h1M267.2 35.2h1M247.4 36.0h1M247.8 36.9h1M235.4 28.2h1M249.5 34.0h1M263.7 38.9h1M234.4 35.3h1M256.3 38.5h1M248.1 34.8h1M241.5 55.3h1M244.0 41.0h1M246.6 28.6h1M257.8 39.7h1M247.2 36.0h1M254.9 37.9h1M250.3 26.5h1M238.7 35.7h1M223.8 38.5h1M243.5 32.0h1M244.0 43.4h1M252.1 38.3h1M244.5 33.3h1M241.8 39.9h1M231.5 37.4h1M253.9 37.4h1M242.9 28.8h1M248.7 28.6h1M243.0 30.1h1M264.7 36.0h1M237.3 31.9h1M248.7 38.7h1M255.7 29.6h1M239.3 41.7h1M243.7 25.0h1M244.2 34.4h1M240.9 40.2h1M257.7 36.4h1M238.9 35.3h1M250.8 30.3h1M251.7 48.8h1M226.9 41.7h1M241.0 38.1h1M258.6 27.3h1M245.5 37.0h1M246.1 38.4h1M262.6 20.8h1M245.3 35.4h1M234.2 46.9h1M240.2 24.2h1M245.6 37.0h1M244.3 44.7h1M238.0 29.0h1M252.2 31.0h1M242.7 25.4h1M234.0 34.9h1M245.5 34.9h1M261.7 38.1h1M247.6 33.9h1M260.5 27.6h1M252.5 28.2h1M245.4 33.9h1M243.3 39.9h1M240.8 37.7h1M256.7 45.2h1M233.9 43.1h1M250.5 30.4h1M254.8 34.4h1M249.1 30.7h1M244.7 34.6h1M240.6 40.0h1M236.5 34.1h1M240.8 46.8h1M240.2 32.3h1M251.2 29.4h1M248.8 32.6h1M250.1 34.6h1M236.6 52.0h1M249.3 22.7h1M252.5 30.1h1M252.0 41.7h1M257.1 36.5h1M264.6 33.0h1M238.6 30.3h1M247.3 22.0h1M243.4 34.4h1M246.4 45.4h1M248.5 32.4h1M251.9 29.1h1M262.0 41.6h1M245.6 34.6h1M248.7 19.3h1M234.9 34.3h1M235.6 41.5h1M249.0 33.6h1M249.7 40.2h1M258.5 37.6h1M246.0 35.7h1M258.6 31.3h1M254.7 27.0h1M244.6 31.6h1M248.2 37.5h1M250.2 47.8h1M239.4 45.9h1M240.3 41.1h1M241.8 38.5h1M244.9 30.2h1M236.1 35.9h1M249.7 39.5h1M252.6 18.9h1M248.6 30.5h1M248.1 36.7h1M253.8 34.1h1M251.8 43.8h1M248.9 33.8h1M251.2 24.0h1M245.1 46.9h1M239.8 25.8h1M256.4 38.5h1M237.3 30.8h1M247.7 37.2h1M239.8 32.3h1M252.3 35.8h1M232.2 35.1h1M242.6 32.8h1M250.0 37.0h1M261.0 29.5h1M248.3 22.6h1M245.4 43.7h1M241.0 48.3h1M251.1 33.5h1M242.2 29.0h1M237.6 36.4h1M247.8 43.6h1M237.7 35.6h1M235.2 42.9h1M250.3 41.1h1M261.9 30.2h1M241.5 39.7h1M248.6 33.5h1M240.4 41.2h1M238.1 39.4h1M236.3 21.8h1M257.9 44.4h1M242.2 33.0h1M249.0 23.9h1M247.7 36.2h1M242.6 36.8h1M239.0 35.1h1M248.6 27.4h1M240.5 33.4h1M249.1 30.8h1M241.9 40.2h1M226.7 32.4h1M254.8 44.2h1M244.4 38.8h1M237.5 41.2h1M250.0 37.4h1M247.8 48.7h1M245.0 47.3h1M241.8 43.7h1M263.1 41.7h1M240.7 26.3h1M250.4 27.6h1M237.4 36.0h1M242.9 42.9h1M250.3 38.0h1M251.6 29.4h1M255.7 38.9h1M260.4 28.4h1M242.0 30.8h1M244.2 36.6h1M244.3 26.5h1M243.4 35.5h1M240.8 34.0h1M246.2 28.2h1M246.7 27.1h1M244.8 27.9h1M257.5 34.4h1M253.5 24.9h1M233.5 32.9h1M248.8 41.8h1M254.0 35.9h1M241.8 46.0h1M250.2 29.0h1M226.6 40.8h1M251.1 44.3h1M248.2 33.8h1M263.0 37.3h1M251.5 36.9h1M253.3 25.9h1M248.4 31.0h1M241.8 41.7h1M260.7 41.0h1M256.0 38.2h1M240.8 27.3h1M243.8 39.8h1M249.0 48.1h1M254.9 29.0h1M261.2 31.6h1M257.9 27.3h1M251.8 30.5h1M250.8 41.4h1M260.9 28.0h1M246.3 28.8h1M247.2 38.7h1M236.9 37.6h1M239.8 40.7h1M254.4 33.3h1M241.8 30.5h1M235.8 41.7h1M256.9 27.3h1M245.1 32.8h1M242.6 45.6h1M247.3 23.8h1M242.7 47.6h1M240.7 38.3h1M240.9 41.0h1M239.6 34.8h1M245.4 50.2h1M266.1 25.7h1M253.6 35.5h1M246.8 34.5h1M247.1 40.9h1M235.7 35.3h1M247.5 24.2h1M257.6 26.9h1M252.7 41.7h1M247.2 35.9h1M244.6 40.3h1M249.1 27.2h1M254.9 37.8h1M248.0 28.9h1M258.1 38.9h1M237.7 26.7h1M242.2 38.0h1M260.2 36.5h1M249.9 28.6h1M252.5 31.9h1"/>
<path stroke="#1ebcec" stroke-opacity="0.6" stroke-width="0.9" fill="none" d="M233.2 31.2h0.9M246.8 32.1h0.9M248.5 54.5h0.9M240.3 36.7h0.9M235.8 37.6h0.9M242.6 47.3h0.9M235.0 39.6h0.9M235.7 48.1h0.9M246.6 36.6h0.9M238.0 42.5h0.9M228.0 38.4h0.9M241.0 33.4h0.9M241.5 41.8h0.9M236.3 47.5h0.9M233.8 43.9h0.9M238.3 47.8h0.9M234.8 45.0h0.9M244.2 48.1h0.9M250.9 32.7h0.9M239.6 35.3h0.9M246.6 49.4h0.9M238.0 42.9h0.9M248.9 42.7h0.9M239.2 32.0h0.9M235.3 47.3h0.9M230.2 43.2h0.9M241.5 41.4h0.9M245.4 37.2h0.9M249.4 39.0h0.9M246.9 38.1h0.9M241.8 39.6h0.9M251.4 35.5h0.9M235.8 49.9h0.9M245.5 41.3h0.9M238.3 34.1h0.9M238.2 43.6h0.9M248.2 46.9h0.9M249.8 43.7h0.9M235.3 39.5h0.9M250.4 42.1h0.9M249.6 32.3h0.9M236.8 36.9h0.9M241.8 36.9h0.9M231.1 41.1h0.9M224.6 38.1h0.9M242.9 34.8h0.9M239.7 36.4h0.9M237.7 42.9h0.9M243.2 44.0h0.9M235.0 50.4h0.9M242.3 37.7h0.9M249.2 39.2h0.9M253.4 46.4h0.9M239.4 38.7h0.9M234.4 37.0h0.9M238.2 49.4h0.9M241.3 41.1h0.9M243.0 39.7h0.9M231.6 32.9h0.9M249.8 39.9h0.9M251.1 52.7h0.9M242.1 46.1h0.9M237.7 40.8h0.9M240.8 41.6h0.9M250.5 41.1h0.9M246.4 42.3h0.9M244.5 52.4h0.9M229.6 48.5h0.9M235.9 42.8h0.9M237.9 38.8h0.9M230.9 25.9h0.9M254.9 46.8h0.9M238.6 30.6h0.9M244.9 51.0h0.9M243.2 31.5h0.9M236.6 43.2h0.9M239.7 48.2h0.9M233.5 37.8h0.9M223.0 48.3h0.9M244.6 39.0h0.9M227.7 46.8h0.9M230.3 34.0h0.9M226.7 33.1h0.9M233.5 35.0h0.9M247.8 45.8h0.9M240.6 38.1h0.9M239.8 33.6h0.9M242.8 35.9h0.9M236.5 43.5h0.9M233.9 33.1h0.9M247.2 31.1h0.9M231.1 34.4h0.9M234.9 40.6h0.9M217.4 38.4h0.9M249.9 48.6h0.9M246.2 41.0h0.9M241.5 38.1h0.9M228.2 43.6h0.9M247.6 43.3h0.9M239.8 46.7h0.9M242.2 48.2h0.9M237.0 30.6h0.9M243.4 46.8h0.9M234.5 42.9h0.9M245.1 24.9h0.9M257.3 46.2h0.9M238.6 34.4h0.9M228.8 61.7h0.9M237.7 45.7h0.9M235.3 39.5h0.9M244.6 35.7h0.9M239.4 40.2h0.9M243.4 46.7h0.9M238.7 49.9h0.9M236.6 39.1h0.9M240.6 39.9h0.9M245.5 24.1h0.9M227.4 28.2h0.9M250.0 46.5h0.9M235.0 43.8h0.9M227.4 39.6h0.9M250.5 45.4h0.9M255.2 38.4h0.9M248.2 42.1h0.9M242.3 43.0h0.9M245.5 49.6h0.9M240.5 43.8h0.9M239.3 43.3h0.9M234.3 47.6h0.9M245.1 43.5h0.9M240.0 37.5h0.9M233.4 34.7h0.9M234.5 47.1h0.9M243.1 32.8h0.9M233.2 49.7h0.9M252.0 46.7h0.9M255.2 37.4h0.9M243.3 37.7h0.9M256.0 44.3h0.9M243.3 44.0h0.9M235.4 41.4h0.9M224.1 39.0h0.9M233.2 46.6h0.9M249.9 43.4h0.9M233.1 35.1h0.9M245.7 40.2h0.9M238.6 35.2h0.9M242.2 43.1h0.9M246.2 36.1h0.9M240.3 33.2h0.9"/>
<path stroke="#7a3aa8" stroke-opacity="0.75" stroke-width="1" fill="none" d="M225.7 41.3h1M222.3 44.6h1M226.7 43.4h1M226.0 38.7h1M221.3 44.8h1M224.4 42.5h1M222.5 44.4h1M228.1 36.6h1M229.1 42.5h1M224.2 44.4h1M218.3 41.2h1M224.9 44.8h1M217.6 39.7h1M222.7 44.9h1M230.7 42.0h1M230.4 41.7h1M225.0 32.9h1M219.4 37.2h1M226.9 41.5h1M218.3 41.4h1M223.6 42.6h1M221.2 38.6h1M231.1 40.2h1M229.9 38.0h1M223.0 40.0h1M218.8 43.8h1M216.8 42.0h1M212.4 43.7h1M224.4 45.2h1M224.3 36.5h1M221.7 41.3h1M224.4 44.0h1M226.9 44.7h1M220.4 41.6h1M218.4 40.5h1M209.0 40.7h1M224.4 39.4h1M221.9 34.9h1M220.5 38.9h1M225.3 42.7h1M221.7 40.6h1M226.1 37.8h1M226.2 39.3h1M225.3 45.3h1M231.1 36.2h1M225.9 38.4h1M221.7 42.0h1M227.0 40.1h1M219.4 40.3h1M215.5 43.2h1M224.7 41.1h1M218.3 39.3h1M222.2 39.1h1M222.7 41.4h1M221.6 42.6h1M228.1 39.1h1M228.1 41.2h1M221.0 42.7h1M230.1 39.9h1M214.0 43.8h1M229.5 37.0h1M223.3 42.7h1M211.0 43.8h1M228.0 43.9h1M211.6 39.6h1M227.8 38.4h1M213.9 42.1h1M224.9 38.3h1M225.2 44.2h1M229.4 42.4h1M217.1 39.8h1M211.4 37.1h1M224.8 42.9h1M223.7 40.9h1M213.1 36.3h1M217.5 38.8h1M229.3 37.2h1M220.1 38.9h1M220.6 39.0h1M212.5 45.1h1M227.5 43.2h1M224.3 42.5h1M221.8 33.7h1M224.4 40.9h1M216.5 32.7h1M230.0 37.1h1M222.6 38.3h1M229.5 31.7h1M228.8 39.0h1M211.3 41.0h1M223.3 35.0h1M225.7 40.7h1M226.3 35.7h1M219.5 37.3h1M224.4 38.9h1M218.1 45.8h1M220.7 44.8h1M228.3 38.2h1M213.5 41.5h1M227.4 45.0h1M225.8 42.4h1M220.2 38.2h1M216.3 41.9h1M226.2 34.3h1M222.1 42.9h1M221.8 39.7h1M221.2 41.6h1M228.5 37.1h1M222.8 38.7h1M219.5 39.0h1M226.1 38.3h1M227.1 39.9h1M221.5 41.8h1M226.4 40.2h1M223.7 37.1h1M223.5 43.4h1M224.3 40.2h1M215.8 45.0h1M217.3 43.3h1M221.8 43.8h1M229.6 39.7h1M206.9 33.4h1M218.4 37.5h1M227.5 40.4h1M231.3 40.2h1M228.6 42.2h1M213.1 44.4h1M228.1 42.8h1M222.3 39.5h1M229.4 38.6h1M220.8 44.0h1M220.6 36.0h1M229.9 35.3h1M221.6 40.1h1M217.2 40.8h1M231.2 34.4h1M216.6 44.6h1M224.5 37.2h1M222.7 41.2h1M217.5 38.8h1M230.1 40.8h1M220.8 42.0h1M218.8 42.2h1M222.2 39.8h1M222.4 37.5h1M231.4 35.4h1M225.1 36.3h1M228.9 40.1h1M224.9 42.6h1M225.9 41.6h1M225.9 42.2h1M221.3 39.8h1M222.5 38.3h1M220.9 45.7h1M221.0 43.2h1M223.9 40.3h1M223.2 40.8h1M230.4 45.0h1M224.1 34.1h1M226.5 34.5h1M220.4 44.4h1M220.7 38.5h1M212.2 43.5h1M226.2 39.2h1M225.9 35.1h1M218.7 41.6h1M228.7 40.8h1"/>
<path stroke="#e0a0d8" stroke-opacity="0.7" stroke-width="1" fill="none" d="M217.7 38.7h1M229.5 38.3h1M225.1 41.9h1M221.1 40.5h1M214.9 38.4h1M224.0 42.6h1M230.4 38.7h1M226.2 40.0h1M219.9 37.7h1M223.6 40.4h1M223.7 42.7h1M212.7 39.2h1M224.8 44.6h1M223.6 36.9h1M222.6 39.5h1M222.6 40.9h1M215.3 40.9h1M220.8 42.1h1M225.5 36.7h1M230.6 43.0h1M219.3 36.7h1M220.4 41.6h1M230.1 37.2h1M219.9 42.2h1M223.6 40.2h1M223.2 39.2h1M222.2 44.7h1M225.3 38.7h1M224.4 41.1h1M230.3 37.1h1M215.7 38.6h1M225.6 33.4h1M222.8 37.5h1M218.2 40.8h1M229.6 35.6h1M224.9 39.8h1M227.0 40.4h1M220.6 43.4h1M225.9 36.8h1M213.8 37.9h1M224.8 43.0h1M220.9 39.0h1M214.7 38.7h1M224.3 38.3h1M223.2 36.9h1M219.2 41.3h1M216.0 40.4h1M229.6 38.3h1M221.2 37.4h1M217.2 38.3h1M217.4 39.5h1M220.9 36.3h1M223.8 43.7h1M227.5 39.3h1M223.5 36.6h1"/>
<path stroke="#c8b0d0" stroke-opacity="0.6" stroke-width="0.9" fill="none" d="M210.0 41.3h0.9M216.0 44.7h0.9M202.5 45.7h0.9M213.7 45.7h0.9M211.5 44.1h0.9M211.3 32.7h0.9M213.3 35.5h0.9M211.2 40.6h0.9M216.0 41.2h0.9M217.2 30.3h0.9M218.3 33.8h0.9M212.0 35.9h0.9M204.6 42.3h0.9M205.4 35.2h0.9M220.1 26.8h0.9M201.4 42.7h0.9M209.0 41.9h0.9M211.3 35.6h0.9M215.6 34.5h0.9M208.1 39.1h0.9M204.9 30.8h0.9M201.6 42.6h0.9M222.9 43.8h0.9M207.6 35.4h0.9M205.5 38.0h0.9M217.6 37.6h0.9M211.3 21.9h0.9M213.3 32.0h0.9M210.0 39.8h0.9M212.2 41.7h0.9M220.6 26.7h0.9M214.4 34.5h0.9M209.9 38.1h0.9M217.8 36.5h0.9M211.5 31.4h0.9M220.3 40.4h0.9M208.8 31.4h0.9M211.5 42.5h0.9M209.4 36.1h0.9M205.8 40.5h0.9M207.1 41.1h0.9M213.6 40.3h0.9M205.9 44.0h0.9M210.5 32.1h0.9M211.5 39.1h0.9M212.1 43.0h0.9M211.2 44.3h0.9M211.6 44.6h0.9M210.4 41.0h0.9M215.6 35.2h0.9M208.4 23.8h0.9M215.2 37.5h0.9M210.5 44.4h0.9M213.9 39.5h0.9M200.4 39.1h0.9M210.1 43.2h0.9M208.8 32.2h0.9M206.6 44.8h0.9M210.8 28.1h0.9M214.6 33.0h0.9M210.5 33.9h0.9M229.1 41.1h0.9M197.6 42.5h0.9M214.6 33.2h0.9"/>
<path stroke="#b034d8" stroke-opacity="0.72" stroke-width="1" fill="none" d="M244.8 64.2h1M260.1 60.3h1M243.9 73.0h1M244.7 55.9h1M247.9 71.8h1M249.8 61.6h1M258.2 76.7h1M242.8 62.9h1M249.9 64.1h1M249.3 68.6h1M250.8 75.4h1M250.1 61.3h1M252.5 62.0h1M253.8 67.6h1M253.3 60.6h1M252.5 77.0h1M246.7 60.6h1M256.9 65.7h1M241.3 61.3h1M257.5 68.0h1M261.1 70.3h1M250.6 73.9h1M245.0 74.0h1M248.4 62.8h1M251.5 61.0h1M241.6 57.3h1M252.3 67.5h1M249.5 71.1h1M243.2 61.5h1M259.6 56.9h1M257.3 62.7h1M252.4 67.0h1M247.3 65.9h1M255.2 59.1h1M242.8 72.3h1M246.4 63.6h1M247.8 61.4h1M246.0 53.6h1M245.4 67.0h1M260.2 60.4h1M257.7 61.2h1M252.0 62.9h1M253.9 66.2h1M245.1 80.0h1M250.6 65.8h1M249.9 67.1h1M246.8 67.9h1M248.0 62.2h1M252.1 70.4h1M251.3 73.1h1M261.1 79.6h1M249.7 55.9h1M256.5 66.1h1M254.1 62.1h1M254.6 55.8h1M250.2 53.8h1M262.2 63.0h1M255.4 76.8h1M241.9 68.4h1M257.7 63.8h1M251.7 63.5h1M247.3 76.9h1M244.3 65.6h1M253.0 65.7h1M256.6 55.4h1M247.9 62.5h1M252.3 63.8h1M246.5 71.1h1M262.5 60.3h1M245.0 60.5h1M241.4 55.1h1M246.2 71.3h1M246.0 58.4h1M248.5 58.7h1M266.6 78.2h1M245.6 57.6h1M245.8 60.3h1M244.9 54.5h1M251.5 58.0h1M254.2 75.2h1M241.9 63.7h1M252.6 72.8h1M246.1 67.5h1M254.9 64.5h1M251.7 63.3h1M243.5 61.0h1M251.2 54.5h1M258.9 84.1h1M246.3 70.1h1M250.2 63.5h1M254.8 65.9h1M258.5 67.8h1M249.1 60.3h1M241.3 81.5h1M248.6 64.9h1M248.4 74.3h1M259.9 59.8h1M244.5 74.8h1M256.0 67.8h1M253.8 62.6h1M249.0 65.2h1M254.1 57.5h1M245.7 67.7h1M253.7 65.3h1M246.2 68.7h1M249.9 56.9h1M247.1 62.1h1M253.4 54.3h1M244.0 62.0h1M249.3 84.9h1M248.0 73.9h1M254.1 75.9h1M260.1 70.0h1M243.0 62.3h1M258.7 83.1h1M257.3 85.1h1M253.5 58.3h1M249.8 67.7h1M255.0 72.3h1M243.6 75.0h1M245.6 67.5h1M253.3 71.0h1M252.5 60.7h1M248.3 73.0h1M246.2 55.4h1M243.4 65.2h1M242.3 61.5h1M246.8 73.1h1M243.5 55.2h1M249.8 72.0h1M243.3 69.4h1M249.2 69.3h1M247.5 66.8h1M244.7 64.1h1M257.8 66.7h1M249.5 67.9h1M258.1 59.4h1M244.7 65.8h1M254.3 58.9h1M242.5 72.5h1M255.9 58.6h1M253.9 63.5h1M245.9 63.9h1M250.9 68.3h1M254.5 58.3h1M242.6 73.6h1M248.1 80.7h1M253.3 61.0h1M257.4 73.3h1M272.1 82.4h1M251.1 56.1h1M253.4 73.1h1M242.6 62.8h1M243.2 55.3h1M253.0 54.5h1M243.1 64.2h1M249.6 55.9h1M257.6 70.3h1M250.3 62.5h1M241.4 69.2h1M245.6 76.4h1M256.1 72.7h1M260.4 80.6h1M257.0 74.6h1M243.9 77.4h1M261.2 68.6h1M252.3 63.7h1M250.2 62.3h1M252.1 63.5h1M251.6 66.7h1M258.5 73.2h1M257.4 64.5h1M256.0 58.9h1M244.6 72.6h1M250.5 58.2h1M255.2 77.4h1M254.0 76.2h1M255.0 72.8h1M245.3 55.4h1M249.7 58.8h1M248.9 57.2h1M247.2 77.7h1M258.1 71.5h1M248.7 61.4h1M250.9 61.7h1M255.2 62.3h1M244.8 69.6h1M243.6 69.6h1M241.2 60.2h1M250.1 58.9h1M255.3 64.1h1M252.6 65.6h1M251.1 58.8h1M249.0 65.1h1M247.5 82.1h1M248.7 66.2h1M254.9 57.2h1M262.5 60.0h1M249.8 61.6h1M257.0 55.3h1M245.4 86.2h1M242.5 62.9h1M251.5 78.2h1M252.7 72.4h1M243.8 65.5h1M261.1 68.0h1M262.7 54.5h1M244.2 65.1h1M242.2 70.4h1M241.5 67.7h1M250.5 69.9h1M252.5 56.3h1M251.5 75.9h1M257.0 74.4h1M245.0 61.2h1M258.2 67.6h1M251.7 74.2h1M252.4 89.0h1M258.0 66.3h1M249.8 62.4h1M256.9 54.8h1M254.8 60.0h1M251.8 67.5h1M247.0 64.9h1M244.9 76.5h1M258.0 64.7h1M249.2 67.6h1M255.0 67.1h1M246.1 63.1h1M251.0 63.9h1M246.6 75.7h1M251.9 73.0h1M243.4 72.3h1M249.3 63.0h1M244.7 59.8h1M246.1 66.2h1M248.6 82.4h1M252.3 67.3h1M248.6 58.5h1M243.9 68.3h1M257.1 74.7h1M256.6 71.1h1M260.0 58.4h1M246.2 70.5h1M254.6 74.1h1M247.8 68.6h1M245.6 57.9h1M248.3 54.7h1M261.2 54.8h1M259.7 73.5h1M255.8 76.6h1M246.5 75.0h1M251.4 71.9h1M252.0 67.9h1M253.8 64.7h1M254.4 66.8h1M263.5 67.4h1M259.2 64.2h1M254.0 63.0h1M255.2 68.6h1M242.8 70.3h1M249.1 73.1h1M262.0 63.7h1M260.0 64.6h1M253.3 67.0h1M245.0 66.6h1M246.4 70.3h1M242.4 57.2h1M255.0 70.0h1M253.1 70.3h1M256.2 69.5h1M255.4 58.9h1M252.7 59.2h1M241.3 63.6h1M253.6 65.7h1M261.0 71.3h1M252.2 66.5h1M249.6 80.4h1M244.3 64.5h1M244.7 66.8h1M249.5 67.1h1M266.6 64.8h1M252.6 65.4h1M256.5 84.7h1M260.5 68.4h1M241.1 69.2h1M245.5 56.0h1M249.4 62.4h1M244.5 68.7h1M244.6 76.5h1M253.5 61.8h1M252.3 59.7h1M245.3 74.2h1M241.7 60.3h1M254.6 58.7h1M250.1 70.7h1M260.7 64.6h1M254.0 69.8h1M249.6 62.4h1M251.6 71.3h1M251.5 67.9h1M251.4 79.5h1M256.2 54.5h1M259.7 59.2h1M243.7 74.7h1M253.3 69.2h1M254.5 59.9h1M255.2 54.5h1M244.0 74.5h1M250.7 60.3h1M258.3 67.0h1M254.3 68.2h1M248.5 66.4h1M252.1 75.1h1M253.2 72.9h1M251.3 66.5h1M252.1 56.5h1M250.1 56.0h1M249.7 64.5h1M248.0 67.9h1M245.8 65.0h1M253.8 78.3h1M251.8 72.3h1M253.0 79.6h1M263.0 59.6h1M253.7 67.8h1M258.3 67.6h1M253.6 68.8h1M251.0 68.8h1M251.3 64.7h1M245.4 59.9h1M257.8 58.7h1M242.1 70.9h1M258.9 53.9h1M242.5 56.0h1M251.7 70.0h1M258.5 64.7h1M247.5 59.9h1M256.6 59.9h1M243.6 63.1h1M248.9 68.6h1M244.9 80.3h1M261.8 55.3h1M250.0 56.4h1M247.2 54.4h1"/>
<path stroke="#c870e0" stroke-opacity="0.5" stroke-width="0.8" fill="none" d="M253.2 79.8h0.8M257.8 60.1h0.8M268.6 74.3h0.8M256.8 94.3h0.8M245.9 81.6h0.8M249.2 78.8h0.8M255.3 77.8h0.8M241.4 73.5h0.8M265.1 75.4h0.8M264.8 84.6h0.8M258.6 72.0h0.8M256.8 65.0h0.8M262.9 80.5h0.8M264.7 83.4h0.8M258.0 86.9h0.8M270.2 73.0h0.8M243.1 59.8h0.8M266.3 82.2h0.8M261.6 55.9h0.8M250.3 57.4h0.8M244.4 69.5h0.8M249.1 95.9h0.8M243.1 68.9h0.8M248.4 77.4h0.8M263.5 66.6h0.8M260.1 63.1h0.8M266.0 63.9h0.8M249.4 70.9h0.8M275.6 86.1h0.8M259.7 64.0h0.8M244.6 67.9h0.8M272.4 92.5h0.8M257.5 67.8h0.8M261.4 83.3h0.8M260.0 67.8h0.8M261.3 74.5h0.8M265.0 79.6h0.8M263.9 80.5h0.8M251.2 90.9h0.8M245.4 84.7h0.8M251.5 72.0h0.8M258.8 70.1h0.8M245.6 65.1h0.8M244.6 76.8h0.8M259.3 75.4h0.8M265.7 62.5h0.8M246.9 87.7h0.8M254.3 89.7h0.8M252.6 58.9h0.8M255.7 75.8h0.8M259.1 66.1h0.8M251.4 101.4h0.8M250.4 95.8h0.8M244.6 79.3h0.8M259.9 87.1h0.8M256.0 68.6h0.8M257.1 58.4h0.8M272.0 86.7h0.8M274.9 82.5h0.8M241.2 64.4h0.8M259.2 66.3h0.8M246.4 63.3h0.8M260.4 67.7h0.8M268.9 96.6h0.8M255.4 89.2h0.8M267.2 79.0h0.8M254.3 92.1h0.8M262.8 74.3h0.8M251.0 76.5h0.8M265.6 84.8h0.8M250.1 74.6h0.8M257.7 71.5h0.8M255.2 64.6h0.8M247.9 80.0h0.8M258.5 72.8h0.8M278.0 74.4h0.8M263.1 79.9h0.8M251.3 84.8h0.8M267.2 76.7h0.8M247.2 74.1h0.8M261.9 76.6h0.8M247.9 70.7h0.8M253.8 73.3h0.8M256.7 95.7h0.8M258.4 72.0h0.8M263.1 84.4h0.8M245.4 69.3h0.8M245.2 80.6h0.8M264.8 73.9h0.8M268.6 69.7h0.8M253.0 75.8h0.8M258.0 96.6h0.8M245.1 83.4h0.8M257.0 90.8h0.8M242.8 62.7h0.8M273.3 91.8h0.8M267.0 75.2h0.8M266.8 76.8h0.8M245.3 75.0h0.8M253.6 64.2h0.8M250.5 68.3h0.8M261.4 88.3h0.8M267.4 89.8h0.8M245.5 83.5h0.8M264.3 81.6h0.8M257.8 66.7h0.8M265.2 58.9h0.8M261.6 71.4h0.8M242.9 71.2h0.8M254.7 86.6h0.8M264.2 91.5h0.8M263.7 71.1h0.8M251.8 78.5h0.8M252.7 56.8h0.8M257.3 100.3h0.8M251.0 89.1h0.8M257.6 82.4h0.8M256.8 89.8h0.8M261.3 70.9h0.8M255.1 73.8h0.8M256.9 79.3h0.8M251.8 69.6h0.8M256.0 55.2h0.8M260.2 81.0h0.8M260.5 88.4h0.8M260.8 87.8h0.8M255.0 86.8h0.8M263.1 75.0h0.8M257.0 56.5h0.8M242.5 88.6h0.8M266.5 66.6h0.8M267.6 80.6h0.8M275.2 91.7h0.8M276.4 86.5h0.8M250.4 72.4h0.8M267.2 59.3h0.8M261.7 71.5h0.8M268.9 69.7h0.8M248.7 87.9h0.8M259.0 69.2h0.8M262.7 70.6h0.8M262.3 77.5h0.8M263.6 64.9h0.8M249.2 98.6h0.8M259.1 74.2h0.8"/>
<rect x="195.5" y="16" width="37.5" height="30.8" fill="none" stroke="#262626" stroke-width="1"/>
<rect x="240.5" y="52.6" width="45.8" height="50.4" fill="none" stroke="#262626" stroke-width="1"/>
<path d="M236.4 107.7v2.8M245.1 107.7v1.8M250.2 107.7v1.8M253.9 107.7v1.8M256.7 107.7v1.8M259.0 107.7v1.8M260.9 107.7v1.8M262.6 107.7v1.8M264.1 107.7v1.8M265.4 107.7v2.8M272.6 107.7v1.8M276.9 107.7v1.8M279.8 107.7v1.8M282.2 107.7v1.8M284.1 107.7v1.8M285.7 107.7v1.8M287.1 107.7v1.8M288.3 107.7v1.8M289.4 107.7v2.8" stroke="#555" stroke-width="0.6" fill="none"/>
<path d="M198.0 107.7v1.8M201.2 107.7v1.8M204.4 107.7v1.8M207.6 107.7v1.8M210.8 107.7v1.8M214.0 107.7v1.8M217.2 107.7v1.8M220.4 107.7v1.8M223.6 107.7v1.8M226.8 107.7v1.8M230.0 107.7v1.8M233.2 107.7v1.8" stroke="#555" stroke-width="0.6" fill="none"/>
<path d="M195.0 23.5h-2.8M195.0 29.4h-1.8M195.0 32.9h-1.8M195.0 35.4h-1.8M195.0 37.3h-1.8M195.0 38.8h-1.8M195.0 40.1h-1.8M195.0 41.3h-1.8M195.0 42.3h-1.8M195.0 43.2h-2.8M195.0 49.8h-1.8M195.0 53.6h-1.8M195.0 56.3h-1.8M195.0 58.4h-1.8M195.0 60.2h-1.8M195.0 61.6h-1.8M195.0 62.9h-1.8M195.0 64.0h-1.8M195.0 65.0h-2.8M195.0 71.3h-1.8M195.0 75.0h-1.8M195.0 77.6h-1.8M195.0 79.7h-1.8M195.0 81.3h-1.8M195.0 82.7h-1.8M195.0 84.0h-1.8M195.0 85.0h-1.8M195.0 86.0h-2.8M195.0 91.0h-1.8M195.0 93.9h-1.8M195.0 95.9h-1.8M195.0 97.5h-1.8M195.0 98.8h-1.8M195.0 99.9h-1.8M195.0 100.9h-1.8M195.0 101.7h-1.8M195.0 102.5h-2.8" stroke="#555" stroke-width="0.6" fill="none"/>
<rect x="195.5" y="12.4" width="105.3" height="94.8" fill="none" stroke="#3a3a3a" stroke-width="1.1"/>
<text x="216.7" y="25.9" font-size="6.8" text-anchor="start" fill="#111" textLength="7.6" lengthAdjust="spacingAndGlyphs" stroke="#111" stroke-width="0.12">P7</text>
<text x="250.2" y="87.8" font-size="6.8" text-anchor="start" fill="#111" textLength="8.7" lengthAdjust="spacingAndGlyphs" stroke="#111" stroke-width="0.12">P6</text>
<text x="190.8" y="26" font-size="6.4" fill="#111" stroke="#111" stroke-width="0.1" transform="rotate(-90 190.8 26)">10<tspan font-size="4.5" dy="-4.9">5</tspan></text>
<text x="190.8" y="46.2" font-size="6.4" fill="#111" stroke="#111" stroke-width="0.1" transform="rotate(-90 190.8 46.2)">10<tspan font-size="4.5" dy="-4.9">4</tspan></text>
<text x="190.8" y="67.4" font-size="6.4" fill="#111" stroke="#111" stroke-width="0.1" transform="rotate(-90 190.8 67.4)">10<tspan font-size="4.5" dy="-4.9">3</tspan></text>
<text x="190.8" y="88.4" font-size="6.4" fill="#111" stroke="#111" stroke-width="0.1" transform="rotate(-90 190.8 88.4)">10<tspan font-size="4.5" dy="-4.9">2</tspan></text>
<text x="190.8" y="104.7" font-size="6.4" fill="#111" stroke="#111" stroke-width="0.1" transform="rotate(-90 190.8 104.7)">10<tspan font-size="4.5" dy="-4.9">1</tspan></text>
<text x="183.9" y="107.3" font-size="5.5" text-anchor="middle" fill="#111" transform="rotate(-90 183.9 107.3)">0</text>
<text x="178.3" y="59.9" font-size="8.2" text-anchor="middle" fill="#1a1a1a" transform="rotate(-90 178.3 59.9)" stroke="#1a1a1a" stroke-width="0.1">CD34</text>
<text x="187.0" y="114.9" font-size="6.2" text-anchor="start" font-weight="bold" fill="#1414b4" textLength="4.8" lengthAdjust="spacingAndGlyphs" stroke="#1414b4" stroke-width="0.25">M</text>
<text x="185.8" y="122.3" font-size="6" text-anchor="start" fill="#111" textLength="17.8" lengthAdjust="spacingAndGlyphs">-1,308</text>
<text x="217.8" y="118.5" font-size="5.8" text-anchor="middle" fill="#111">0</text>
<text x="233.4" y="118.5" font-size="6.4" fill="#111" stroke="#111" stroke-width="0.1">10<tspan font-size="4.5" dy="-4.2">3</tspan></text>
<text x="262.8" y="118.5" font-size="6.4" fill="#111" stroke="#111" stroke-width="0.1">10<tspan font-size="4.5" dy="-4.2">4</tspan></text>
<text x="286.1" y="118.5" font-size="6.4" fill="#111" stroke="#111" stroke-width="0.1">10<tspan font-size="4.5" dy="-4.2">5</tspan></text>
<text x="247.2" y="131.8" font-size="8.0" text-anchor="middle" fill="#1a1a1a" textLength="18.7" lengthAdjust="spacingAndGlyphs" stroke="#1a1a1a" stroke-width="0.1">CD8a</text>
<path stroke="#8a3aa8" stroke-opacity="0.75" stroke-width="1" fill="none" d="M116.7 236.6h1M125.9 233.5h1M123.6 237.8h1M108.2 239.0h1M133.8 237.0h1M122.3 240.1h1M119.1 231.1h1M124.2 237.0h1M118.8 245.2h1M124.8 235.6h1M130.5 230.9h1M128.8 236.7h1M119.3 244.0h1M129.7 235.1h1M123.8 241.9h1M123.0 240.8h1M118.4 244.8h1M135.6 236.0h1M112.6 236.8h1M130.9 239.9h1M123.5 239.8h1M112.1 238.8h1M123.1 236.1h1M130.3 236.0h1M118.8 242.1h1M129.1 239.3h1M125.8 240.7h1M126.7 234.6h1M127.1 237.8h1M133.4 241.8h1M118.0 238.6h1M119.4 243.6h1M113.4 244.7h1M118.5 240.3h1M120.5 240.7h1M133.3 241.8h1M114.2 237.8h1M119.9 237.2h1M117.8 238.8h1M129.3 234.5h1M135.3 244.7h1M130.5 241.8h1M143.6 234.2h1M114.1 240.4h1M122.6 234.8h1M116.4 238.0h1M126.2 241.2h1M128.8 239.3h1M124.3 241.8h1M118.9 233.0h1M130.7 229.6h1M128.5 244.8h1M113.9 228.9h1M117.1 240.4h1M116.2 243.7h1M129.2 234.5h1M130.2 232.5h1M120.3 240.0h1M134.7 242.6h1M136.1 232.4h1M128.1 244.5h1M114.1 233.9h1M120.4 236.4h1M124.9 237.5h1M114.6 240.0h1M112.6 235.8h1M126.5 234.9h1M123.8 241.9h1M136.0 244.4h1M131.1 241.2h1M113.8 235.1h1M116.9 236.5h1M122.8 234.6h1M120.4 244.0h1M120.4 230.1h1M121.6 238.3h1M118.9 242.4h1M125.9 238.5h1M117.1 239.9h1M108.2 243.3h1M146.4 245.7h1M106.9 239.8h1M117.8 236.1h1M121.7 244.2h1M129.7 235.1h1M128.4 239.6h1M140.3 232.2h1M122.9 234.6h1M123.6 229.7h1M116.3 238.4h1M119.0 234.9h1M122.8 236.3h1M116.3 237.8h1M124.0 240.3h1M109.8 237.0h1M133.2 232.3h1M124.8 236.6h1M132.5 244.4h1M125.9 236.6h1M111.0 236.5h1M117.0 239.0h1"/>
<path stroke="#3a2060" stroke-opacity="0.8" stroke-width="1" fill="none" d="M127.1 236.8h1M125.3 237.3h1M125.1 241.7h1M122.9 236.8h1M123.4 239.3h1M133.1 238.4h1M126.7 236.6h1M128.2 235.0h1M132.5 241.7h1M130.0 238.9h1M124.4 241.9h1M120.5 234.3h1M134.4 235.3h1M122.8 231.6h1M130.1 240.1h1M126.9 231.7h1M125.7 234.2h1M129.6 240.9h1M127.8 237.8h1M132.2 241.6h1M121.3 237.9h1M121.4 234.3h1M130.6 233.3h1M125.4 240.3h1M127.9 231.7h1"/>
<path stroke="#a0a0a0" stroke-opacity="0.6" stroke-width="0.8" fill="none" d="M123.0 235.2h0.8M125.3 236.9h0.8M138.8 237.6h0.8M106.3 236.7h0.8M130.5 237.6h0.8M139.4 241.9h0.8M131.9 235.8h0.8M102.0 243.5h0.8M131.1 232.7h0.8M124.7 240.4h0.8M105.5 237.8h0.8M133.0 231.5h0.8M126.8 245.1h0.8M127.7 231.7h0.8M103.0 226.4h0.8M138.6 235.7h0.8M123.7 235.6h0.8M108.4 240.4h0.8M134.1 230.1h0.8M113.0 232.0h0.8M139.1 238.2h0.8M115.2 241.0h0.8M115.9 237.6h0.8M124.0 231.8h0.8M138.1 237.2h0.8"/>
<path stroke="#b0b0b0" stroke-opacity="0.6" stroke-width="0.8" fill="none" d="M97.1 239.3h0.8M83.3 232.6h0.8M76.1 244.4h0.8M85.0 227.8h0.8M72.4 237.8h0.8M83.9 234.6h0.8M68.2 246.1h0.8M97.4 241.5h0.8M92.2 245.3h0.8M67.4 243.2h0.8M68.7 229.4h0.8M80.3 232.6h0.8"/>
<rect x="98.8" y="207.2" width="50.1" height="39.4" fill="none" stroke="#262626" stroke-width="1"/>
<path d="M52.3 248.8v2.8M58.0 248.8v1.8M61.3 248.8v1.8M63.6 248.8v1.8M65.4 248.8v1.8M66.9 248.8v1.8M68.2 248.8v1.8M69.3 248.8v1.8M70.2 248.8v1.8M71.1 248.8v2.8M77.9 248.8v1.8M81.8 248.8v1.8M84.6 248.8v1.8M86.8 248.8v1.8M88.6 248.8v1.8M90.1 248.8v1.8M91.4 248.8v1.8M92.6 248.8v1.8M93.6 248.8v2.8M100.6 248.8v1.8M104.8 248.8v1.8M107.7 248.8v1.8M110.0 248.8v1.8M111.8 248.8v1.8M113.4 248.8v1.8M114.7 248.8v1.8M115.9 248.8v1.8M117.0 248.8v2.8M123.9 248.8v1.8M127.9 248.8v1.8M130.8 248.8v1.8M133.0 248.8v1.8M134.8 248.8v1.8M136.4 248.8v1.8M137.7 248.8v1.8M138.9 248.8v1.8M139.9 248.8v2.8" stroke="#555" stroke-width="0.6" fill="none"/>
<path d="M47.0 166.7h-2.8M47.0 172.6h-1.8M47.0 176.1h-1.8M47.0 178.6h-1.8M47.0 180.5h-1.8M47.0 182.0h-1.8M47.0 183.3h-1.8M47.0 184.5h-1.8M47.0 185.5h-1.8M47.0 186.4h-2.8M47.0 192.7h-1.8M47.0 196.4h-1.8M47.0 199.0h-1.8M47.0 201.1h-1.8M47.0 202.7h-1.8M47.0 204.1h-1.8M47.0 205.4h-1.8M47.0 206.4h-1.8M47.0 207.4h-2.8M47.0 213.6h-1.8M47.0 217.2h-1.8M47.0 219.8h-1.8M47.0 221.8h-1.8M47.0 223.4h-1.8M47.0 224.8h-1.8M47.0 226.0h-1.8M47.0 227.1h-1.8M47.0 228.0h-2.8" stroke="#555" stroke-width="0.6" fill="none"/>
<rect x="47.5" y="157.2" width="103.6" height="91.1" fill="none" stroke="#3a3a3a" stroke-width="1.1"/>
<text x="138.3" y="203.8" font-size="6.5" text-anchor="start" fill="#222" textLength="7.1" lengthAdjust="spacingAndGlyphs">P9</text>
<text x="121.8" y="216.1" font-size="8.4" text-anchor="start" font-weight="bold" fill="#111" textLength="24.1" lengthAdjust="spacingAndGlyphs">95.3%</text>
<text x="44.0" y="169.3" font-size="6.4" fill="#111" stroke="#111" stroke-width="0.1" transform="rotate(-90 44.0 169.3)">10<tspan font-size="4.5" dy="-4.9">5</tspan></text>
<text x="44.0" y="189.3" font-size="6.4" fill="#111" stroke="#111" stroke-width="0.1" transform="rotate(-90 44.0 189.3)">10<tspan font-size="4.5" dy="-4.9">4</tspan></text>
<text x="44.0" y="210.2" font-size="6.4" fill="#111" stroke="#111" stroke-width="0.1" transform="rotate(-90 44.0 210.2)">10<tspan font-size="4.5" dy="-4.9">3</tspan></text>
<text x="44.0" y="231.5" font-size="6.4" fill="#111" stroke="#111" stroke-width="0.1" transform="rotate(-90 44.0 231.5)">10<tspan font-size="4.5" dy="-4.9">2</tspan></text>
<text x="43.5" y="240.8" font-size="5.5" text-anchor="middle" fill="#111" transform="rotate(-90 43.5 240.8)">0</text>
<text x="37.4" y="246" font-size="4.8" text-anchor="middle" fill="#111" transform="rotate(-90 37.4 246)">-40</text>
<text x="35.3" y="200.6" font-size="7.2" text-anchor="middle" fill="#1a1a1a" transform="rotate(-90 35.3 200.6)" textLength="16.5" lengthAdjust="spacingAndGlyphs" stroke="#1a1a1a" stroke-width="0.1">PE-A</text>
<text x="39.7" y="255.6" font-size="6.2" text-anchor="start" font-weight="bold" fill="#1414b4" textLength="5.4" lengthAdjust="spacingAndGlyphs" stroke="#1414b4" stroke-width="0.25">M</text>
<text x="46.9" y="261" font-size="4.5" text-anchor="middle" fill="#111">0</text>
<text x="49.3" y="258.1" font-size="6.4" fill="#111" stroke="#111" stroke-width="0.1">10<tspan font-size="4.5" dy="-4.2">1</tspan></text>
<text x="68.4" y="258.1" font-size="6.4" fill="#111" stroke="#111" stroke-width="0.1">10<tspan font-size="4.5" dy="-4.2">2</tspan></text>
<text x="90.8" y="258.2" font-size="6.4" fill="#111" stroke="#111" stroke-width="0.1">10<tspan font-size="4.5" dy="-4.2">3</tspan></text>
<text x="114.4" y="258.2" font-size="6.4" fill="#111" stroke="#111" stroke-width="0.1">10<tspan font-size="4.5" dy="-4.2">4</tspan></text>
<text x="137" y="258.2" font-size="6.4" fill="#111" stroke="#111" stroke-width="0.1">10<tspan font-size="4.5" dy="-4.2">5</tspan></text>
<text x="93.9" y="269.9" font-size="7.7" text-anchor="middle" fill="#1a1a1a" textLength="19.3" lengthAdjust="spacingAndGlyphs" stroke="#1a1a1a" stroke-width="0.1">CD31</text>
<path stroke="#c038e0" stroke-opacity="0.75" stroke-width="1" fill="none" d="M258.8 242.8h1M260.0 233.7h1M254.3 239.3h1M259.8 235.7h1M256.3 238.9h1M255.9 241.1h1M252.8 239.5h1M253.5 239.3h1M253.0 237.0h1M259.5 234.9h1M256.5 239.9h1M255.9 237.1h1M256.3 235.1h1M258.9 240.2h1M262.4 238.8h1M260.1 236.4h1M258.0 235.1h1M257.1 236.9h1M259.6 231.6h1M255.7 237.0h1M258.6 235.7h1M254.8 241.9h1M254.1 236.7h1M260.3 231.4h1M257.7 239.0h1M257.2 232.4h1M251.3 235.3h1M253.2 240.0h1M254.7 242.4h1M256.2 239.8h1M253.9 236.1h1M257.8 240.7h1M253.9 241.9h1M255.4 242.8h1M251.9 236.8h1M258.5 237.7h1M254.2 240.0h1M259.6 236.7h1M259.0 236.6h1M253.5 241.9h1M254.3 236.4h1M258.9 234.9h1M253.0 237.1h1M256.6 240.8h1M255.6 235.9h1M251.8 236.9h1M254.6 241.4h1M250.6 232.4h1M249.7 237.2h1M257.8 242.9h1M250.6 238.4h1M254.1 243.0h1M257.4 242.6h1M256.1 241.2h1M257.5 235.9h1M259.5 236.9h1M248.3 237.6h1M251.9 239.5h1M261.6 238.8h1M258.2 234.0h1M253.4 236.0h1M263.1 236.6h1M257.2 232.1h1M254.4 238.3h1M255.7 237.0h1M257.7 239.4h1M251.9 233.7h1M258.1 240.4h1M251.4 240.0h1M251.2 237.3h1M260.7 232.7h1M256.2 237.2h1M252.2 240.2h1M252.8 235.7h1M252.3 239.2h1M258.1 242.1h1M255.3 235.2h1M261.4 235.9h1M258.5 242.9h1M258.9 232.1h1M252.4 235.3h1M259.1 235.3h1M258.8 238.5h1M256.7 237.7h1M253.4 242.1h1M256.5 242.5h1M252.9 232.4h1M261.1 234.1h1M256.5 236.6h1M255.5 236.7h1M252.1 233.9h1M256.8 235.5h1M262.1 238.0h1M261.0 236.2h1M258.9 235.8h1M252.7 236.9h1M255.3 245.9h1M251.2 235.6h1M258.5 237.2h1M256.5 240.1h1M255.5 235.4h1M251.1 237.5h1M257.9 238.3h1M260.1 236.3h1M257.0 235.0h1M249.1 239.5h1M254.3 239.7h1M253.7 232.8h1M252.7 236.7h1M253.5 236.7h1M257.9 237.6h1M257.6 237.1h1M253.5 234.5h1M248.1 239.5h1M259.8 234.5h1M252.5 234.9h1M257.1 237.9h1M255.1 237.4h1M250.0 237.2h1M255.2 239.1h1M253.3 235.9h1M256.6 246.1h1M253.7 244.1h1M252.6 237.8h1M252.6 241.9h1M256.4 238.3h1M259.6 241.8h1M253.6 238.4h1M254.2 241.3h1M248.4 244.6h1M255.1 231.1h1M256.9 235.0h1M256.1 238.0h1M259.8 231.9h1M257.4 241.3h1M251.3 240.0h1M258.8 235.9h1M249.1 238.1h1M254.3 242.6h1M255.1 239.9h1M257.2 238.3h1M251.5 235.4h1M256.3 237.4h1M255.6 240.1h1M256.1 239.9h1M256.3 238.9h1M254.1 232.9h1M259.0 240.4h1M258.3 235.1h1M259.9 238.0h1M256.6 235.5h1M254.2 235.7h1M257.3 235.5h1M255.9 235.9h1M251.4 237.8h1M256.4 237.9h1M245.4 240.9h1M255.9 234.6h1M262.8 237.7h1M258.6 238.1h1M247.7 241.5h1M251.9 241.1h1M255.5 234.9h1M247.2 236.2h1M252.4 237.8h1M252.0 239.9h1M254.1 236.2h1M263.0 240.1h1M253.6 238.8h1M250.2 235.3h1M255.3 235.3h1M252.4 239.7h1M253.8 235.1h1M253.8 235.6h1M258.7 238.6h1M250.6 241.9h1M259.8 236.7h1M252.4 237.7h1M253.9 239.3h1M255.8 241.6h1M250.2 235.7h1M256.9 236.1h1M254.4 234.0h1M262.7 237.1h1M258.4 235.2h1M254.3 237.4h1M261.7 241.9h1M263.3 242.4h1M261.2 237.0h1M253.5 241.7h1M253.4 239.3h1M253.8 234.3h1M256.1 234.8h1M254.8 240.4h1M255.2 240.8h1M254.3 238.7h1M252.4 241.8h1M248.7 238.5h1M257.9 229.5h1M250.1 232.8h1M255.6 236.8h1M254.7 239.5h1M263.9 234.4h1M257.2 237.8h1M259.7 231.0h1M250.2 234.2h1M252.1 238.4h1M254.2 231.3h1M253.3 232.5h1M253.2 237.0h1M253.1 241.4h1M263.8 239.2h1M250.4 242.1h1M263.3 237.0h1M257.2 241.0h1M256.6 241.5h1M257.8 235.7h1M254.2 236.8h1M253.5 241.7h1M257.0 237.0h1M258.7 237.8h1M259.5 242.7h1M256.5 235.8h1M251.7 243.1h1M257.2 235.7h1M255.5 234.0h1M260.6 238.5h1M254.6 233.0h1M263.3 238.0h1M248.0 235.8h1M255.8 238.1h1M252.0 241.2h1M257.9 237.7h1M253.5 232.0h1M254.2 236.9h1M251.7 238.5h1M258.7 236.1h1M254.4 237.5h1M261.7 242.0h1M250.0 236.0h1M264.8 236.5h1M262.0 239.2h1M260.3 236.5h1M256.2 239.3h1M255.8 237.4h1M260.9 237.1h1M260.5 235.7h1M254.8 239.9h1M257.7 240.6h1M256.0 237.5h1M254.2 232.7h1M254.4 240.8h1M255.7 238.2h1M260.3 234.7h1M257.1 235.9h1M259.9 233.0h1M254.7 236.0h1M254.7 235.9h1M262.5 236.9h1M255.4 233.1h1"/>
<path stroke="#e0a0f0" stroke-opacity="0.7" stroke-width="0.9" fill="none" d="M247.3 233.0h0.9M248.0 239.4h0.9M252.3 234.5h0.9M255.3 232.2h0.9M247.7 233.4h0.9M257.7 236.2h0.9M250.5 244.8h0.9M258.8 240.2h0.9M266.7 232.2h0.9M262.8 238.1h0.9M258.3 229.1h0.9M250.8 236.8h0.9M256.0 244.6h0.9M253.8 238.1h0.9M254.2 230.2h0.9M254.0 237.3h0.9M268.1 243.1h0.9M252.7 232.3h0.9M256.2 234.0h0.9M273.0 241.1h0.9M256.0 234.1h0.9M249.1 236.4h0.9M253.3 244.5h0.9M244.5 241.4h0.9M254.1 240.8h0.9M251.4 238.9h0.9M251.0 236.2h0.9M255.7 233.9h0.9M255.8 237.0h0.9M254.1 228.2h0.9M258.2 229.6h0.9M255.8 242.0h0.9M247.8 236.2h0.9M257.8 236.7h0.9M253.3 237.0h0.9M261.0 231.8h0.9M255.3 240.5h0.9M252.4 230.9h0.9M261.6 240.4h0.9M262.9 236.8h0.9M252.1 244.5h0.9M264.8 240.9h0.9M253.1 237.5h0.9M250.5 231.7h0.9M257.1 238.5h0.9M260.2 237.4h0.9M270.3 232.0h0.9M265.3 234.9h0.9M262.8 232.3h0.9M271.3 244.2h0.9M245.7 243.5h0.9M257.8 241.5h0.9M256.6 236.3h0.9M247.3 234.7h0.9M256.4 228.6h0.9M250.0 237.1h0.9M259.6 234.8h0.9M266.1 234.5h0.9M260.8 243.6h0.9M251.4 242.9h0.9M255.8 232.8h0.9M267.6 245.3h0.9M254.6 242.5h0.9M263.4 237.0h0.9M271.6 236.6h0.9M252.3 237.3h0.9M256.1 235.0h0.9M254.9 230.5h0.9M260.9 230.4h0.9M264.3 240.7h0.9M254.2 235.3h0.9M252.4 237.2h0.9M268.7 238.9h0.9M254.0 246.0h0.9M254.2 235.4h0.9M271.4 240.6h0.9M265.0 240.4h0.9M260.5 240.7h0.9M249.0 225.3h0.9M255.0 229.8h0.9M258.0 231.3h0.9M257.2 242.8h0.9M253.4 233.5h0.9M262.3 233.5h0.9M256.3 236.5h0.9M248.2 242.0h0.9M249.5 241.8h0.9M259.4 231.8h0.9M254.5 241.6h0.9M250.1 243.3h0.9M245.6 235.9h0.9M263.6 227.6h0.9M258.7 231.6h0.9M247.8 233.5h0.9M253.1 234.7h0.9M252.7 232.8h0.9M271.2 239.5h0.9M254.8 232.2h0.9M258.7 238.6h0.9M250.6 236.2h0.9M261.8 238.6h0.9M256.4 237.8h0.9M251.8 236.9h0.9M257.3 233.4h0.9M255.9 241.7h0.9M263.8 226.0h0.9M246.9 242.2h0.9M259.6 239.4h0.9M247.2 237.5h0.9M260.7 239.3h0.9M251.8 234.2h0.9M258.9 238.1h0.9M265.6 225.6h0.9M252.7 243.4h0.9M248.9 237.7h0.9M266.5 232.0h0.9M248.0 227.0h0.9M263.9 234.6h0.9M256.4 237.5h0.9M265.2 235.6h0.9M263.5 241.0h0.9M256.6 242.5h0.9M258.8 236.6h0.9M277.4 226.9h0.9M248.8 231.9h0.9M253.8 238.0h0.9M253.1 231.6h0.9M256.8 234.9h0.9M253.3 241.8h0.9M258.8 242.8h0.9M249.3 240.2h0.9M256.8 233.9h0.9M245.8 236.6h0.9M248.7 240.7h0.9M259.8 239.5h0.9M275.8 243.5h0.9M242.7 240.1h0.9M258.1 238.1h0.9M253.2 241.7h0.9M260.8 238.0h0.9M262.9 235.1h0.9M252.9 241.0h0.9M257.7 228.2h0.9M263.1 231.4h0.9M262.7 238.0h0.9M260.6 242.2h0.9M249.6 240.4h0.9M256.2 235.7h0.9M256.6 234.4h0.9M256.9 238.3h0.9M252.2 242.6h0.9M257.2 231.4h0.9M259.7 239.7h0.9M246.7 238.5h0.9M254.0 238.3h0.9M255.4 239.0h0.9M257.8 225.4h0.9M257.1 239.8h0.9M261.5 243.3h0.9M258.9 243.7h0.9M262.5 234.6h0.9M251.8 243.5h0.9M261.4 228.0h0.9M249.3 243.0h0.9M257.7 228.2h0.9M259.6 242.1h0.9M261.1 236.8h0.9M255.2 234.3h0.9M253.0 238.4h0.9M255.4 229.4h0.9M255.9 235.6h0.9M254.8 228.4h0.9M256.1 233.7h0.9M256.9 229.1h0.9M256.8 230.8h0.9M250.8 233.7h0.9M252.8 234.2h0.9M252.7 233.8h0.9M251.7 234.0h0.9M254.1 246.7h0.9M262.9 233.9h0.9M247.1 242.8h0.9M256.5 238.8h0.9M264.6 227.2h0.9M252.3 237.9h0.9M266.2 236.6h0.9M257.1 236.8h0.9M256.3 237.8h0.9M252.6 233.3h0.9M253.9 240.2h0.9M264.6 237.7h0.9"/>
<path stroke="#b0b0b0" stroke-opacity="0.6" stroke-width="0.8" fill="none" d="M266.3 242.2h0.8M277.8 238.3h0.8M268.4 229.2h0.8M276.9 231.2h0.8M286.3 225.5h0.8M274.7 232.6h0.8M256.1 229.7h0.8M255.6 229.7h0.8M255.8 237.6h0.8M263.8 235.4h0.8M265.5 226.1h0.8M289.9 241.3h0.8M246.1 231.3h0.8M265.2 219.9h0.8M272.5 236.5h0.8M270.8 236.1h0.8M294.6 228.9h0.8M288.9 235.2h0.8M261.8 243.8h0.8M282.5 219.9h0.8M281.6 231.1h0.8M273.0 223.3h0.8"/>
<path stroke="#b0b0b0" stroke-opacity="0.6" stroke-width="0.8" fill="none" d="M211.4 240.4h0.8M201.3 236.0h0.8M236.5 237.4h0.8M211.0 244.1h0.8M234.0 225.7h0.8M213.6 240.4h0.8M212.9 238.5h0.8M211.0 231.0h0.8M231.4 225.7h0.8M206.4 245.2h0.8"/>
<rect x="241.8" y="210.8" width="57.2" height="37.0" fill="none" stroke="#262626" stroke-width="1"/>
<path d="M200.2 248.7v2.8M205.9 248.7v1.8M209.2 248.7v1.8M211.5 248.7v1.8M213.3 248.7v1.8M214.8 248.7v1.8M216.1 248.7v1.8M217.2 248.7v1.8M218.1 248.7v1.8M219.0 248.7v2.8M225.8 248.7v1.8M229.7 248.7v1.8M232.5 248.7v1.8M234.7 248.7v1.8M236.5 248.7v1.8M238.0 248.7v1.8M239.3 248.7v1.8M240.5 248.7v1.8M241.5 248.7v2.8M248.6 248.7v1.8M252.7 248.7v1.8M255.6 248.7v1.8M257.9 248.7v1.8M259.8 248.7v1.8M261.4 248.7v1.8M262.7 248.7v1.8M263.9 248.7v1.8M265.0 248.7v2.8M271.9 248.7v1.8M275.9 248.7v1.8M278.7 248.7v1.8M280.9 248.7v1.8M282.7 248.7v1.8M284.3 248.7v1.8M285.6 248.7v1.8M286.8 248.7v1.8M287.8 248.7v2.8" stroke="#555" stroke-width="0.6" fill="none"/>
<path d="M194.9 170.3h-2.8M194.9 176.1h-1.8M194.9 179.5h-1.8M194.9 181.9h-1.8M194.9 183.8h-1.8M194.9 185.3h-1.8M194.9 186.6h-1.8M194.9 187.7h-1.8M194.9 188.7h-1.8M194.9 189.6h-2.8M194.9 195.4h-1.8M194.9 198.8h-1.8M194.9 201.2h-1.8M194.9 203.0h-1.8M194.9 204.5h-1.8M194.9 205.8h-1.8M194.9 206.9h-1.8M194.9 207.9h-1.8M194.9 208.8h-2.8M194.9 215.1h-1.8M194.9 218.8h-1.8M194.9 221.4h-1.8M194.9 223.5h-1.8M194.9 225.1h-1.8M194.9 226.5h-1.8M194.9 227.8h-1.8M194.9 228.8h-1.8M194.9 229.8h-2.8" stroke="#555" stroke-width="0.6" fill="none"/>
<rect x="195.4" y="160" width="103.6" height="88.2" fill="none" stroke="#3a3a3a" stroke-width="1.1"/>
<text x="283.8" y="207.2" font-size="6.5" text-anchor="start" fill="#222" textLength="8" lengthAdjust="spacingAndGlyphs">P8</text>
<text x="270.1" y="220.3" font-size="8.4" text-anchor="start" font-weight="bold" fill="#111" textLength="23.6" lengthAdjust="spacingAndGlyphs">99.7%</text>
<text x="190.9" y="172.9" font-size="6.4" fill="#111" stroke="#111" stroke-width="0.1" transform="rotate(-90 190.9 172.9)">10<tspan font-size="4.5" dy="-4.9">5</tspan></text>
<text x="190.9" y="192.2" font-size="6.4" fill="#111" stroke="#111" stroke-width="0.1" transform="rotate(-90 190.9 192.2)">10<tspan font-size="4.5" dy="-4.9">4</tspan></text>
<text x="190.9" y="211.4" font-size="6.4" fill="#111" stroke="#111" stroke-width="0.1" transform="rotate(-90 190.9 211.4)">10<tspan font-size="4.5" dy="-4.9">3</tspan></text>
<text x="190.9" y="232.4" font-size="6.4" fill="#111" stroke="#111" stroke-width="0.1" transform="rotate(-90 190.9 232.4)">10<tspan font-size="4.5" dy="-4.9">2</tspan></text>
<text x="190.2" y="241.4" font-size="5.5" text-anchor="middle" fill="#111" transform="rotate(-90 190.2 241.4)">0</text>
<text x="184.8" y="246" font-size="4.8" text-anchor="middle" fill="#111" transform="rotate(-90 184.8 246)">-40</text>
<text x="179.9" y="202.2" font-size="7.2" text-anchor="middle" fill="#1a1a1a" transform="rotate(-90 179.9 202.2)" textLength="16.5" lengthAdjust="spacingAndGlyphs" stroke="#1a1a1a" stroke-width="0.1">PE-A</text>
<text x="187.6" y="256.2" font-size="6.2" text-anchor="start" font-weight="bold" fill="#1414b4" textLength="5.0" lengthAdjust="spacingAndGlyphs" stroke="#1414b4" stroke-width="0.25">M</text>
<text x="195.1" y="261.5" font-size="4.5" text-anchor="middle" fill="#111">0</text>
<text x="197.2" y="258.2" font-size="6.4" fill="#111" stroke="#111" stroke-width="0.1">10<tspan font-size="4.5" dy="-4.2">1</tspan></text>
<text x="216.3" y="258.2" font-size="6.4" fill="#111" stroke="#111" stroke-width="0.1">10<tspan font-size="4.5" dy="-4.2">2</tspan></text>
<text x="238.9" y="258.2" font-size="6.4" fill="#111" stroke="#111" stroke-width="0.1">10<tspan font-size="4.5" dy="-4.2">3</tspan></text>
<text x="262.3" y="258.2" font-size="6.4" fill="#111" stroke="#111" stroke-width="0.1">10<tspan font-size="4.5" dy="-4.2">4</tspan></text>
<text x="284.9" y="258.2" font-size="6.4" fill="#111" stroke="#111" stroke-width="0.1">10<tspan font-size="4.5" dy="-4.2">5</tspan></text>
<text x="246.4" y="270.9" font-size="7.7" text-anchor="middle" fill="#1a1a1a" textLength="19.7" lengthAdjust="spacingAndGlyphs" stroke="#1a1a1a" stroke-width="0.1">CD31</text>
<g stroke="#a8282e" stroke-width="1" fill="none">
<path d="M136 82.5H175.3"/><path d="M171.8 79.9L175.6 82.5L171.8 85.1"/>
<path d="M209.9 36.3V135.4L139 164.3"/>
<path d="M262.4 86.6V189"/>
</g>
<path d="M136 165.6L140.3 161.6L141.7 165Z" fill="#a8282e"/>
<path d="M260.1 188.4L264.7 188.4L262.4 192.6Z" fill="#a8282e"/>
<text x="353.1" y="18.1" font-size="10.6" text-anchor="start" fill="#111" textLength="6.1" lengthAdjust="spacingAndGlyphs" stroke="#111" stroke-width="0.15">B</text>
<path stroke="#34206e" stroke-opacity="0.85" stroke-width="1" fill="none" d="M412.4 77.9h1M423.1 84.5h1M412.5 83.5h1M424.2 95.3h1M408.1 83.3h1M418.2 86.6h1M410.7 81.9h1M420.2 89.2h1M416.3 81.6h1M407.7 95.9h1M426.4 82.0h1M426.8 81.6h1M412.6 85.5h1M417.5 77.5h1M412.2 88.4h1M417.7 87.2h1M406.0 88.3h1M423.7 82.4h1M415.0 86.6h1M414.8 83.9h1M423.9 87.7h1M419.4 91.9h1M414.1 86.8h1M420.1 84.2h1M418.5 97.5h1M417.1 90.6h1M418.1 77.4h1M418.4 93.2h1M413.5 87.2h1M414.6 87.3h1M416.4 90.8h1M422.7 94.9h1M423.5 93.9h1M423.0 94.8h1M420.1 93.6h1M422.7 94.2h1M411.5 88.8h1M414.6 82.7h1M421.9 82.2h1M422.2 90.5h1M416.3 82.9h1M405.0 85.7h1M410.0 88.1h1M414.7 92.7h1M405.0 86.0h1M423.3 94.9h1M412.1 90.8h1M419.9 92.7h1M418.4 83.2h1M420.4 85.1h1M426.0 92.8h1M402.2 89.8h1M406.3 87.6h1M417.2 88.2h1M428.5 87.8h1M417.0 86.5h1M420.5 87.5h1M416.7 92.5h1M413.8 89.4h1M413.5 86.1h1M413.8 90.5h1M411.4 83.3h1M429.1 89.3h1M427.1 87.2h1M412.5 84.4h1M405.9 84.3h1M408.8 82.0h1M417.5 88.7h1M412.0 87.6h1M417.8 90.6h1M420.6 96.2h1M410.3 88.5h1M413.4 88.8h1M418.9 89.5h1M420.2 95.7h1M409.3 95.5h1M411.5 82.2h1M410.5 93.4h1M422.1 85.7h1M414.5 87.0h1M412.5 88.0h1M422.2 90.2h1M415.8 83.3h1M421.8 90.3h1M409.4 95.6h1M414.0 90.3h1M407.0 88.0h1M413.5 86.1h1M410.8 86.1h1M421.3 90.9h1M412.8 92.4h1M414.9 90.6h1M421.2 85.2h1M411.7 84.1h1M426.0 90.8h1M409.9 96.9h1M410.7 83.4h1M424.6 84.2h1M421.6 77.6h1M408.7 83.4h1M410.3 80.8h1M418.4 93.8h1M421.2 90.1h1M418.9 90.7h1M410.9 83.2h1M417.5 86.1h1M408.7 86.2h1M415.0 77.1h1M413.6 92.3h1"/>
<path stroke="#4a2890" stroke-opacity="0.75" stroke-width="1" fill="none" d="M413.8 94.4h1M403.5 98.1h1M410.3 86.9h1M416.1 92.9h1M401.9 81.7h1M410.0 90.6h1M412.1 94.0h1M407.0 95.2h1M411.9 88.7h1M414.6 94.2h1M409.9 94.9h1M406.9 89.9h1M410.3 89.2h1M418.2 94.4h1M414.3 101.2h1M417.9 102.5h1M406.7 100.6h1M408.9 92.5h1M411.9 93.8h1M410.8 94.8h1M418.4 83.9h1M403.9 87.8h1M412.4 94.0h1M412.9 101.8h1M411.1 87.3h1M413.1 101.4h1M420.6 93.2h1M411.7 94.9h1M413.9 92.9h1M408.7 100.3h1M418.5 93.6h1M408.2 90.8h1M405.4 88.1h1M409.7 90.3h1M412.4 91.3h1M406.5 91.8h1M398.8 95.1h1M409.8 99.5h1M408.8 92.8h1M406.6 102.6h1M412.3 98.8h1M409.4 96.1h1M406.4 90.8h1M409.5 89.6h1M414.5 97.1h1M416.7 89.5h1M408.1 93.3h1M414.1 87.9h1M409.6 97.9h1M411.4 93.0h1"/>
<path stroke="#b060c0" stroke-opacity="0.65" stroke-width="0.9" fill="none" d="M415.5 80.1h0.9M422.6 85.3h0.9M413.4 82.9h0.9M418.5 77.7h0.9M427.0 83.9h0.9M415.7 77.4h0.9M420.6 75.6h0.9M419.1 83.2h0.9M414.7 82.0h0.9M421.5 78.7h0.9M421.3 83.8h0.9M421.5 78.7h0.9M423.1 80.0h0.9M420.6 81.5h0.9M419.8 73.4h0.9M423.8 83.1h0.9M420.3 83.6h0.9M418.2 80.7h0.9M421.7 72.9h0.9M416.9 78.9h0.9M418.6 79.1h0.9M416.8 82.2h0.9M422.8 83.0h0.9M423.7 83.2h0.9M425.5 87.4h0.9M418.0 78.1h0.9M417.5 79.9h0.9M422.6 83.2h0.9M420.6 78.6h0.9M418.2 80.5h0.9M420.6 69.6h0.9M420.8 83.1h0.9M417.0 86.8h0.9M422.8 83.9h0.9M413.6 84.3h0.9M420.4 82.0h0.9M410.9 75.2h0.9M418.6 76.0h0.9M424.9 76.9h0.9M422.7 82.6h0.9M430.8 81.4h0.9M425.6 79.5h0.9M415.4 82.6h0.9M424.8 79.2h0.9M423.9 83.5h0.9M419.9 82.1h0.9M420.4 78.9h0.9M420.4 82.9h0.9M417.0 71.1h0.9M422.3 78.6h0.9"/>
<path stroke="#c070d0" stroke-opacity="0.65" stroke-width="0.9" fill="none" d="M423.9 71.7h0.9M425.3 74.5h0.9M423.5 77.1h0.9M420.4 68.9h0.9M432.1 76.7h0.9M420.7 69.4h0.9M427.6 74.0h0.9M428.8 70.1h0.9M427.2 80.6h0.9M416.3 81.0h0.9M416.9 68.3h0.9M422.3 80.0h0.9M431.1 81.6h0.9M423.8 68.7h0.9M428.6 75.6h0.9M421.5 71.9h0.9M436.6 77.7h0.9M423.2 72.5h0.9M417.4 75.4h0.9M422.4 67.5h0.9M428.1 72.5h0.9M428.4 78.3h0.9M435.2 72.4h0.9M425.4 78.3h0.9M425.4 76.2h0.9M422.1 72.4h0.9M421.6 70.5h0.9M427.5 71.8h0.9M423.0 82.2h0.9M427.5 74.9h0.9M415.7 75.8h0.9M433.8 83.4h0.9M426.7 76.8h0.9M424.1 71.5h0.9M426.7 70.9h0.9M422.5 73.3h0.9M418.4 77.0h0.9M420.5 77.6h0.9M431.0 73.2h0.9M424.3 79.6h0.9M426.5 82.3h0.9M426.5 72.9h0.9M425.0 76.9h0.9M417.9 75.0h0.9M421.6 73.5h0.9M427.5 79.7h0.9M426.0 79.3h0.9M429.5 69.9h0.9M427.2 69.3h0.9M421.7 80.4h0.9M419.8 71.4h0.9M432.0 76.0h0.9M421.1 78.5h0.9M420.8 72.0h0.9M421.8 70.5h0.9M423.7 86.8h0.9M420.5 75.4h0.9M422.0 74.4h0.9M433.7 72.1h0.9M430.6 77.4h0.9M425.1 62.0h0.9M428.2 74.9h0.9M429.0 80.6h0.9M421.7 68.2h0.9M425.3 75.1h0.9M422.2 65.5h0.9M427.6 75.2h0.9M428.5 76.1h0.9M420.1 85.0h0.9M422.4 73.6h0.9"/>
<path stroke="#8c30cc" stroke-opacity="0.85" stroke-width="1" fill="none" d="M453.8 55.1h1M447.9 73.9h1M464.2 52.2h1M454.8 52.9h1M426.7 68.5h1M447.9 49.5h1M442.5 63.2h1M439.4 58.7h1M441.1 65.2h1M458.0 60.2h1M435.2 74.2h1M447.1 58.3h1M432.0 90.3h1M442.7 54.0h1M430.4 79.4h1M427.3 74.4h1M444.1 67.3h1M426.2 68.1h1M454.1 51.0h1M432.2 77.7h1M456.5 40.3h1M454.5 59.8h1M438.4 53.3h1M443.7 46.6h1M446.4 63.8h1M471.1 43.2h1M458.1 75.5h1M428.4 56.1h1M449.0 63.1h1M439.6 68.1h1M443.3 66.6h1M433.9 65.7h1M429.7 56.8h1M457.3 64.0h1M446.1 70.6h1M454.9 62.0h1M440.7 69.1h1M447.5 74.3h1M441.6 75.5h1M462.9 60.5h1M461.7 48.1h1M446.7 73.0h1M451.2 51.8h1M426.8 78.3h1M423.0 66.8h1M452.2 58.2h1M424.7 83.5h1M477.8 41.9h1M460.5 64.4h1M463.7 48.5h1M449.6 77.7h1M425.6 73.6h1M443.4 90.6h1M435.5 76.5h1M454.3 58.2h1M425.6 64.1h1M431.4 67.7h1M472.1 67.7h1M422.7 64.5h1M428.8 57.9h1M462.4 56.8h1M481.1 55.5h1M420.9 74.1h1M408.9 76.3h1M433.7 68.3h1M445.4 61.6h1M447.9 73.4h1M444.5 82.8h1M426.5 73.2h1M451.0 52.3h1M431.9 59.7h1M427.8 56.8h1M443.9 63.9h1M455.7 42.4h1M449.0 68.6h1M476.1 43.7h1M436.6 61.8h1M457.8 70.7h1M408.6 67.8h1M439.2 76.2h1M443.9 65.6h1M435.8 71.8h1M433.6 70.4h1M431.7 60.4h1M433.8 76.4h1M441.9 77.5h1M436.1 49.1h1M449.0 62.6h1M429.3 71.8h1M439.8 63.9h1M435.1 73.6h1M454.7 56.3h1M464.5 48.6h1M451.4 71.9h1M445.0 54.3h1M438.6 63.5h1M448.3 57.7h1M437.7 60.1h1M425.1 70.1h1M465.9 65.6h1M469.4 41.5h1M462.7 78.3h1M437.0 52.7h1M439.6 42.9h1M462.6 46.6h1M432.4 58.5h1M458.8 68.1h1M448.1 66.4h1M411.1 72.7h1M438.4 65.5h1M449.9 57.7h1M459.8 81.1h1M443.0 66.2h1M428.8 75.7h1M449.5 66.4h1M447.2 64.7h1M451.0 60.2h1M463.5 44.4h1M444.9 64.6h1M459.1 57.6h1M444.6 50.6h1M480.2 44.1h1M445.2 51.1h1M471.2 31.9h1M430.8 71.1h1M430.5 77.1h1M454.4 67.5h1M439.9 61.0h1M454.9 43.4h1M450.9 51.4h1M453.8 55.9h1M433.6 69.1h1M445.9 67.7h1M454.6 56.3h1M441.5 76.1h1M441.8 59.1h1M462.2 58.3h1M446.6 69.0h1M449.2 65.0h1M462.6 58.7h1M445.7 52.4h1M429.2 81.5h1M443.9 59.2h1M444.1 62.4h1M444.6 53.8h1M475.9 49.4h1M457.5 52.0h1M443.5 57.7h1M438.9 74.0h1M452.3 51.9h1M448.6 65.2h1M462.4 55.4h1M451.0 65.5h1M457.8 56.8h1M428.9 61.0h1M442.9 66.4h1M446.9 66.3h1M441.9 84.0h1M457.7 74.9h1M443.4 73.3h1M444.0 74.0h1M424.5 50.2h1M441.1 60.7h1M418.6 68.2h1M458.8 61.8h1M452.2 65.0h1M454.3 63.8h1M463.4 59.0h1M449.7 64.7h1M440.2 65.5h1M459.3 49.7h1M442.6 72.3h1M446.6 63.0h1M420.9 88.3h1M435.5 65.0h1M443.0 62.3h1M449.5 53.5h1M454.0 65.2h1M453.4 50.9h1M426.9 50.9h1M433.5 62.5h1M444.0 57.5h1M433.9 70.2h1M437.5 64.6h1M450.4 73.3h1M419.6 81.7h1M427.7 83.5h1M455.4 71.7h1M439.2 77.6h1M457.8 65.7h1M435.6 64.6h1M432.4 75.6h1M451.5 59.2h1M443.9 72.3h1M446.2 57.5h1M438.0 74.6h1M431.3 66.9h1M442.8 72.7h1M438.9 79.7h1M446.7 75.2h1M428.9 69.3h1M454.0 72.0h1M446.5 46.1h1M450.5 62.5h1M421.2 63.7h1M459.8 55.7h1M416.0 69.0h1M446.3 62.9h1M442.0 58.8h1M459.1 68.6h1M444.3 85.9h1M440.9 75.0h1M463.2 63.9h1M460.5 59.9h1M430.2 71.9h1M439.1 65.3h1M428.6 62.1h1M406.7 78.5h1M461.8 62.4h1M433.5 66.8h1M446.2 67.3h1M443.2 56.4h1M436.9 91.7h1M461.3 68.3h1M434.7 69.3h1M432.9 89.8h1M450.3 66.3h1M450.6 71.9h1M436.1 67.9h1M441.1 62.1h1M471.8 62.9h1M456.0 65.3h1M447.5 71.1h1M443.4 75.2h1M468.2 52.3h1M436.2 65.0h1M420.1 82.5h1M452.1 42.9h1M437.7 69.5h1M420.4 89.7h1M424.7 73.9h1M434.2 89.1h1M413.8 79.0h1M429.5 63.1h1M438.5 73.9h1M464.3 51.6h1M445.3 70.4h1M433.5 64.7h1M443.9 70.5h1M446.8 64.5h1M457.7 59.6h1M464.8 62.4h1M415.1 74.1h1M423.9 75.0h1M448.3 73.5h1M473.9 59.8h1M440.4 74.1h1M453.1 48.8h1M437.4 70.8h1M434.8 66.4h1M439.0 64.7h1M455.2 43.3h1M428.6 53.3h1M448.9 71.8h1M451.5 68.6h1M449.5 47.5h1M443.1 62.0h1M455.6 58.8h1M463.4 48.0h1M456.3 62.7h1M437.3 64.9h1M436.1 55.8h1M445.7 59.8h1M442.3 70.3h1M425.4 66.6h1M434.9 77.5h1M441.1 76.9h1M420.9 84.1h1M484.1 47.2h1M454.6 57.8h1M438.8 73.2h1M431.1 65.1h1M449.8 38.4h1M422.6 70.3h1M436.7 83.3h1M461.7 64.7h1M438.3 57.6h1M453.0 57.4h1M442.2 58.7h1M438.8 56.1h1M434.1 67.2h1M453.4 67.0h1M447.2 63.4h1M445.8 61.2h1M429.0 52.0h1M468.7 71.9h1M439.8 55.7h1M451.7 60.4h1M432.1 79.5h1M423.1 78.5h1"/>
<path stroke="#5a2a90" stroke-opacity="0.8" stroke-width="1" fill="none" d="M456.9 65.4h1M425.4 52.5h1M429.1 64.6h1M445.7 57.0h1M455.4 44.8h1M433.5 55.1h1M443.7 73.3h1M444.1 52.0h1M455.6 68.6h1M448.5 70.8h1M418.8 75.7h1M447.9 48.7h1M431.2 66.1h1M467.9 43.7h1M432.0 65.0h1M443.3 57.3h1M443.3 65.4h1M445.2 61.0h1M476.1 45.4h1M440.4 66.3h1M462.3 65.9h1M452.4 79.3h1M439.3 67.4h1M453.4 58.3h1M447.6 60.9h1M445.5 73.0h1M434.1 77.0h1M449.8 62.2h1M487.6 37.9h1M444.6 69.8h1M456.5 67.5h1M434.5 65.8h1M490.9 41.7h1M417.6 62.0h1M433.5 64.1h1M421.4 82.2h1M446.2 47.8h1M439.5 52.3h1M450.5 63.2h1M435.4 50.2h1M462.9 50.5h1M470.6 69.5h1M460.7 58.3h1M416.3 97.7h1M438.7 82.9h1M442.1 58.2h1M454.6 56.4h1M409.7 88.0h1M469.3 60.7h1M454.4 72.6h1M468.1 58.3h1M430.1 75.9h1M429.5 62.6h1M434.7 80.2h1M433.3 65.1h1M438.0 77.7h1M426.8 87.6h1M454.7 44.2h1M459.5 75.4h1M432.3 69.4h1M421.6 88.1h1M463.0 62.9h1M421.9 95.6h1M434.4 81.8h1M434.2 86.3h1M437.7 76.5h1M446.4 55.5h1M454.2 56.9h1M450.8 67.5h1M432.6 80.6h1M461.4 56.1h1M456.3 50.5h1M448.7 49.7h1M475.1 47.6h1M442.6 95.0h1M433.2 69.7h1M431.4 67.1h1M438.2 74.0h1M455.3 65.4h1M447.0 64.2h1"/>
<path stroke="#a060d0" stroke-opacity="0.6" stroke-width="0.9" fill="none" d="M450.8 41.0h0.9M447.5 51.3h0.9M469.7 69.8h0.9M485.1 46.1h0.9M441.7 84.3h0.9M431.5 82.0h0.9M465.0 69.7h0.9M434.9 51.9h0.9M459.8 84.9h0.9M444.0 51.6h0.9M448.9 62.3h0.9M472.7 82.9h0.9M466.6 55.4h0.9M486.1 56.2h0.9M475.0 84.5h0.9M462.1 72.7h0.9M446.3 53.8h0.9M461.6 46.5h0.9M473.9 44.1h0.9M434.0 50.4h0.9M487.7 60.6h0.9M485.9 72.9h0.9M457.4 45.9h0.9M461.0 57.5h0.9M430.8 85.0h0.9"/>
<g fill="none" stroke="#b04a50" stroke-width="1.1">
<ellipse cx="454.5" cy="58.2" rx="34.5" ry="25.8" transform="rotate(-26 454.5 58.2)"/>
<ellipse cx="413.4" cy="89.9" rx="14.6" ry="14.3"/>
</g>
<rect x="393.4" y="2.5" width="109.6" height="102.0" fill="none" stroke="#3a3a3a" stroke-width="1.3"/>
<path d="M395.7 105v2.2M399.9 105v2.2M404.2 105v2.2M408.4 105v2.2M412.6 105v3.2M416.9 105v2.2M421.1 105v2.2M425.3 105v2.2M429.5 105v2.2M433.8 105v3.2M438.0 105v2.2M442.2 105v2.2M446.4 105v2.2M450.6 105v2.2M454.9 105v3.2M459.1 105v2.2M463.3 105v2.2M467.6 105v2.2M471.8 105v2.2M476.0 105v3.2M480.2 105v2.2M484.4 105v2.2M488.7 105v2.2M492.9 105v2.2M497.1 105v3.2M392.9 99.6h-2.2M392.9 95.7h-2.2M392.9 91.9h-2.2M392.9 88.0h-2.2M392.9 84.2h-3.2M392.9 80.3h-2.2M392.9 76.5h-2.2M392.9 72.6h-2.2M392.9 68.8h-2.2M392.9 65.0h-3.2M392.9 61.1h-2.2M392.9 57.3h-2.2M392.9 53.4h-2.2M392.9 49.6h-2.2M392.9 45.7h-3.2M392.9 41.9h-2.2M392.9 38.0h-2.2M392.9 34.2h-2.2M392.9 30.3h-2.2M392.9 26.5h-3.2M392.9 22.7h-2.2M392.9 18.8h-2.2M392.9 15.0h-2.2M392.9 11.1h-2.2M392.9 7.3h-3.2" stroke="#444" stroke-width="0.7" fill="none"/>
<text x="412.5" y="118.5" font-size="8.3" text-anchor="middle" fill="#1a1a1a" textLength="8.6" lengthAdjust="spacingAndGlyphs" stroke="#1a1a1a" stroke-width="0.12">50</text>
<text x="434.4" y="118.5" font-size="8.3" text-anchor="middle" fill="#1a1a1a" textLength="12.1" lengthAdjust="spacingAndGlyphs" stroke="#1a1a1a" stroke-width="0.12">100</text>
<text x="455.2" y="118.5" font-size="8.3" text-anchor="middle" fill="#1a1a1a" textLength="12.1" lengthAdjust="spacingAndGlyphs" stroke="#1a1a1a" stroke-width="0.12">150</text>
<text x="475.6" y="118.5" font-size="8.3" text-anchor="middle" fill="#1a1a1a" textLength="12.1" lengthAdjust="spacingAndGlyphs" stroke="#1a1a1a" stroke-width="0.12">200</text>
<text x="495.8" y="118.5" font-size="8.3" text-anchor="middle" fill="#1a1a1a" textLength="12.1" lengthAdjust="spacingAndGlyphs" stroke="#1a1a1a" stroke-width="0.12">250</text>
<text x="387.6" y="7.3" font-size="8.3" text-anchor="middle" fill="#1a1a1a" transform="rotate(-90 387.6 7.3)" textLength="12.1" lengthAdjust="spacingAndGlyphs" stroke="#1a1a1a" stroke-width="0.12">250</text>
<text x="387.6" y="27" font-size="8.3" text-anchor="middle" fill="#1a1a1a" transform="rotate(-90 387.6 27)" textLength="12.1" lengthAdjust="spacingAndGlyphs" stroke="#1a1a1a" stroke-width="0.12">200</text>
<text x="387.6" y="45.4" font-size="8.3" text-anchor="middle" fill="#1a1a1a" transform="rotate(-90 387.6 45.4)" textLength="12.1" lengthAdjust="spacingAndGlyphs" stroke="#1a1a1a" stroke-width="0.12">150</text>
<text x="387.6" y="64.5" font-size="8.3" text-anchor="middle" fill="#1a1a1a" transform="rotate(-90 387.6 64.5)" textLength="12.1" lengthAdjust="spacingAndGlyphs" stroke="#1a1a1a" stroke-width="0.12">100</text>
<text x="387.6" y="84.2" font-size="8.3" text-anchor="middle" fill="#1a1a1a" transform="rotate(-90 387.6 84.2)" textLength="8.6" lengthAdjust="spacingAndGlyphs" stroke="#1a1a1a" stroke-width="0.12">50</text>
<text x="448.2" y="128" font-size="10.2" text-anchor="middle" fill="#1a1a1a" textLength="30.3" lengthAdjust="spacingAndGlyphs" stroke="#1a1a1a" stroke-width="0.12">FSC-A</text>
<text x="470.1" y="131.3" font-size="7.8" text-anchor="start" fill="#1a1a1a" textLength="32.2" lengthAdjust="spacingAndGlyphs" stroke="#1a1a1a" stroke-width="0.12">(x 1,000)</text>
<text x="377.4" y="65.6" font-size="10.2" text-anchor="start" fill="#1a1a1a" transform="rotate(-90 377.4 65.6)" textLength="29.5" lengthAdjust="spacingAndGlyphs" stroke="#1a1a1a" stroke-width="0.12">SSC-A</text>
<text x="377.7" y="37.4" font-size="7.8" text-anchor="start" fill="#1a1a1a" transform="rotate(-90 377.7 37.4)" textLength="34.5" lengthAdjust="spacingAndGlyphs" stroke="#1a1a1a" stroke-width="0.12">(x 1,000)</text>
<text x="468.5" y="46.4" font-size="9.0" text-anchor="start" font-weight="bold" fill="#a22230" textLength="9.8" lengthAdjust="spacingAndGlyphs" stroke="#a22230" stroke-width="0.35">LC</text>
<text x="401.4" y="75.9" font-size="8.5" text-anchor="start" font-weight="bold" fill="#a22230" textLength="11.0" lengthAdjust="spacingAndGlyphs" stroke="#a22230" stroke-width="0.35">EC</text>
<text x="352.5" y="159.6" font-size="10.6" text-anchor="start" fill="#111" textLength="6.7" lengthAdjust="spacingAndGlyphs" stroke="#111" stroke-width="0.15">C</text>
<path stroke="#16bcec" stroke-opacity="0.9" stroke-width="1" fill="none" d="M414.1 214.6h1M421.7 208.7h1M403.4 201.6h1M408.8 217.9h1M410.8 209.8h1M411.0 220.6h1M416.3 202.9h1M408.2 210.4h1M416.4 209.3h1M418.5 218.3h1M408.3 218.8h1M411.0 211.8h1M423.5 205.6h1M432.3 218.4h1M409.0 219.6h1M403.8 213.8h1M433.2 219.9h1M411.6 215.5h1M422.4 223.1h1M409.9 225.0h1M413.0 216.3h1M420.8 211.5h1M397.6 215.6h1M422.0 214.6h1M422.1 225.2h1M409.8 216.7h1M411.9 221.3h1M418.2 218.0h1M427.0 219.5h1M416.2 211.6h1M414.1 226.1h1M420.4 217.6h1M412.4 210.3h1M406.1 224.0h1M413.7 217.4h1M426.1 213.9h1M408.6 226.8h1M419.7 205.7h1M413.3 211.4h1M408.4 215.2h1M397.1 211.8h1M431.6 215.4h1M408.7 223.6h1M399.9 215.2h1M426.4 216.9h1M416.9 215.3h1M417.0 221.8h1M411.8 217.6h1M416.0 203.6h1M422.6 229.6h1M421.8 218.6h1M409.9 219.5h1M433.1 227.3h1M406.7 227.6h1M406.7 212.5h1M412.2 221.3h1M411.5 223.9h1M416.8 228.0h1M400.0 217.8h1M420.3 227.7h1M393.0 215.4h1M394.1 220.1h1M408.3 219.3h1M423.8 223.1h1M411.8 221.4h1M444.6 213.7h1M419.5 213.7h1M422.2 211.6h1M419.9 206.8h1M415.8 234.6h1M402.6 213.1h1M423.1 209.5h1M390.8 205.7h1M415.9 224.8h1M414.9 217.6h1M424.7 216.9h1M427.3 227.5h1M410.8 226.0h1M421.0 216.3h1M413.8 224.7h1M401.7 206.1h1M425.6 230.8h1M416.7 224.4h1M397.7 207.9h1M408.5 214.6h1M415.5 213.8h1M413.2 215.8h1M420.0 224.6h1M422.6 226.9h1M412.0 213.9h1M395.1 205.3h1M421.8 220.4h1M414.2 214.8h1M401.4 201.6h1M407.8 215.2h1M387.9 226.2h1M406.9 220.0h1M426.7 227.5h1M410.6 223.7h1M422.7 217.3h1M416.9 210.8h1M416.2 212.3h1M411.4 217.7h1M423.1 215.3h1M410.9 214.0h1M441.1 214.0h1M418.3 206.3h1M414.1 208.5h1M407.9 222.2h1M430.9 218.1h1M419.7 218.2h1M409.1 217.5h1M423.4 218.3h1M409.8 213.6h1M418.4 214.6h1M422.9 207.0h1M421.3 211.2h1M412.8 231.8h1M424.1 213.3h1M409.7 223.2h1M423.1 216.7h1M421.2 214.0h1M385.9 224.6h1M408.7 221.1h1M411.9 214.9h1M404.6 222.3h1M422.1 225.8h1M420.7 220.0h1M408.4 217.3h1M418.0 199.4h1M401.9 215.7h1M421.9 226.8h1M430.9 211.6h1M414.3 213.3h1M405.4 214.4h1M414.8 222.7h1M398.6 216.0h1M403.5 226.8h1M430.8 213.5h1M406.4 221.2h1M423.2 209.9h1M409.2 218.8h1M402.9 227.4h1M413.9 217.3h1M401.7 225.5h1M399.9 211.7h1M407.4 215.9h1M398.9 211.3h1M419.4 216.5h1M414.6 223.7h1M417.9 223.9h1M413.6 210.5h1M430.1 204.8h1M399.5 208.7h1M437.2 217.3h1M424.3 205.8h1M402.3 219.0h1M408.7 217.6h1M419.5 217.4h1M414.3 218.3h1M411.3 219.0h1M423.2 210.3h1M416.2 223.1h1M411.5 216.2h1M432.1 224.7h1M436.5 230.0h1M410.1 212.0h1M410.6 223.0h1M425.7 217.2h1M416.8 215.2h1M396.7 223.6h1M410.7 220.2h1M413.8 230.6h1M418.3 219.9h1M412.6 211.2h1M417.6 224.5h1M413.6 201.7h1M405.8 230.5h1M407.9 218.2h1M394.4 212.9h1M404.9 222.5h1M419.9 220.8h1M423.8 213.5h1M430.7 215.2h1M422.8 231.8h1M408.4 219.6h1M412.4 217.8h1M416.6 216.4h1M413.7 221.9h1M400.3 211.7h1M408.6 207.2h1M417.0 213.7h1M405.0 207.3h1M404.7 220.0h1M400.8 223.3h1M419.8 218.9h1M396.6 211.5h1M424.0 214.2h1M405.9 211.8h1M417.3 204.0h1M423.8 218.5h1M403.1 221.1h1M386.3 208.2h1M416.5 227.3h1M401.5 206.9h1M412.8 217.5h1M405.8 211.2h1M429.0 210.2h1M397.1 213.9h1M426.4 221.6h1M413.0 207.7h1M412.4 236.8h1M419.4 224.1h1M397.4 213.8h1M407.7 228.9h1M410.4 216.3h1M408.4 196.7h1M424.7 203.4h1M407.5 205.6h1M407.2 213.4h1M408.1 226.8h1M401.2 214.5h1M418.7 213.8h1M408.0 230.3h1M421.0 210.8h1M415.8 210.3h1M417.8 206.6h1M421.3 219.3h1M416.6 216.6h1M415.5 210.5h1M413.8 220.8h1M417.6 210.1h1M418.9 208.2h1M405.8 210.6h1M407.1 215.7h1M420.0 224.1h1M417.7 211.4h1M420.7 223.5h1M405.5 208.2h1M411.6 230.2h1M410.1 215.4h1M420.2 208.3h1M402.2 215.7h1M421.6 214.4h1M406.6 204.8h1M429.0 207.7h1M426.3 211.5h1M424.6 228.6h1M404.3 220.7h1M420.5 225.4h1M410.0 225.2h1M414.1 209.5h1M423.2 225.5h1M412.9 215.7h1M420.9 228.4h1M400.6 224.0h1M433.5 210.4h1M418.9 217.0h1M416.6 225.3h1M397.0 213.0h1M399.2 214.3h1M431.9 209.2h1M408.3 212.3h1M417.1 214.3h1M405.2 211.1h1M411.4 207.9h1M388.8 224.7h1M414.3 212.3h1M411.4 221.7h1M404.4 216.7h1M407.6 225.2h1M388.5 206.6h1M427.2 208.1h1M405.0 207.9h1M389.6 215.8h1M419.8 218.7h1M400.5 212.7h1M429.5 215.1h1M403.6 222.7h1M410.0 203.3h1M404.3 222.9h1M411.2 215.8h1M419.4 211.0h1M397.8 216.3h1M406.5 216.4h1M405.5 211.1h1M398.6 218.4h1M432.4 207.7h1M424.5 221.2h1M406.4 209.3h1M418.4 214.0h1M410.1 213.2h1M432.2 205.1h1M417.3 229.8h1M414.6 231.6h1M413.0 217.7h1M420.9 211.5h1M413.4 220.6h1M406.4 219.8h1M424.1 208.4h1M411.9 219.4h1M405.9 223.7h1M425.5 212.6h1M415.6 212.2h1M412.0 219.9h1M411.6 217.9h1M408.7 225.1h1M422.6 212.3h1M418.9 235.3h1M408.6 226.5h1M440.2 215.3h1M421.5 201.3h1M427.2 221.3h1M421.8 218.2h1M423.2 224.7h1M420.6 214.9h1M411.8 217.1h1M411.3 211.0h1M400.7 216.1h1M404.2 214.2h1M400.6 207.2h1M409.2 215.2h1M435.3 216.2h1M424.0 220.3h1M416.5 214.7h1M419.9 220.5h1M399.4 221.5h1M411.4 205.6h1M405.7 221.8h1M422.9 216.0h1M425.7 222.4h1M397.9 209.1h1M416.9 210.5h1M407.1 218.9h1M410.5 211.9h1M399.3 231.2h1M399.4 213.7h1M424.4 216.1h1M403.8 208.7h1M425.0 222.2h1M393.6 207.0h1M419.8 228.2h1M407.8 223.5h1M397.2 204.9h1M400.6 220.2h1M415.4 221.8h1M395.4 228.5h1M409.1 235.6h1M415.9 203.9h1M412.9 210.7h1M428.9 218.3h1M426.0 211.0h1M405.4 217.7h1M414.0 210.0h1M418.5 225.0h1M409.6 213.1h1M408.2 220.5h1M411.9 219.8h1M424.5 214.5h1M410.4 214.5h1M428.2 215.8h1M413.8 214.4h1M422.2 219.5h1M401.4 223.3h1M417.2 225.2h1M418.5 216.2h1M402.9 223.6h1M425.8 210.3h1M412.4 219.9h1M411.7 219.3h1M409.2 212.0h1M425.5 204.4h1M419.6 210.9h1M413.4 211.7h1M414.6 212.1h1M415.8 206.4h1M402.1 215.5h1M419.4 210.5h1M432.8 213.8h1M421.0 203.5h1M402.8 209.3h1M401.1 205.2h1M408.5 210.4h1M429.5 216.0h1M415.8 201.6h1M428.2 227.5h1M401.7 208.8h1M405.1 226.6h1M399.4 209.1h1M396.7 218.4h1M421.5 209.5h1M424.6 217.6h1M404.4 220.4h1M425.9 225.6h1M418.3 225.9h1M413.0 218.8h1M431.3 215.7h1M404.8 207.8h1M407.7 203.2h1M403.5 208.3h1M411.2 206.7h1M411.8 216.5h1M421.1 223.9h1M429.1 214.7h1M399.0 222.1h1M417.2 213.4h1M421.5 230.6h1M417.0 213.6h1M415.3 210.1h1M433.4 208.0h1M402.8 223.9h1M411.2 207.9h1M422.8 224.9h1M396.6 221.3h1M423.3 229.9h1M418.1 222.0h1M414.3 221.8h1M430.8 221.8h1M407.0 216.2h1M433.3 207.8h1M407.2 212.0h1M426.7 210.4h1M409.0 216.3h1M419.0 221.1h1M401.6 208.5h1M398.7 224.9h1M410.7 218.0h1M413.3 206.1h1M396.5 208.6h1M433.1 213.9h1M418.3 209.4h1M439.7 217.3h1M397.2 213.2h1M416.5 223.8h1M409.6 221.3h1M416.1 218.2h1M409.0 219.4h1M424.4 216.6h1M409.8 236.4h1M420.2 221.3h1M398.4 224.4h1M396.9 225.1h1M416.6 213.2h1M406.2 217.8h1M409.2 204.4h1M424.0 205.8h1M411.4 213.2h1M428.9 205.7h1M423.2 219.9h1M406.0 209.1h1M415.3 220.5h1M423.7 211.4h1M418.3 214.9h1M418.2 216.1h1M412.8 214.2h1M418.2 217.3h1M403.2 201.8h1M423.2 222.0h1M412.2 224.9h1M412.5 215.7h1M408.8 225.6h1M431.4 215.1h1M406.8 224.2h1M422.2 221.1h1M398.7 218.7h1M415.1 214.6h1M417.8 215.6h1M417.2 216.6h1M410.4 228.7h1M412.8 221.0h1M422.8 210.0h1M411.4 210.6h1M411.6 208.4h1M422.1 216.7h1M400.9 220.0h1M403.2 206.6h1M417.5 217.0h1M406.0 221.7h1M417.9 217.9h1M423.5 218.8h1M425.9 219.2h1M416.7 196.8h1M409.9 230.2h1M407.6 215.8h1M408.9 204.0h1M419.3 230.0h1M430.1 215.1h1M404.4 212.9h1M418.5 213.9h1M421.2 218.7h1M400.9 208.7h1M421.8 222.7h1M413.5 227.1h1M412.7 214.7h1M412.9 220.6h1M390.3 217.7h1M414.8 210.8h1M404.8 225.4h1M408.6 214.6h1M422.6 208.1h1M438.1 211.5h1M406.9 206.5h1M407.1 210.0h1M408.6 208.9h1M389.2 224.9h1M420.8 221.3h1M418.7 220.9h1M406.1 236.9h1M407.2 208.1h1M433.7 213.8h1M413.7 209.5h1M410.6 220.0h1M416.5 208.0h1M420.8 211.1h1M397.5 223.0h1M416.5 215.0h1M405.3 222.0h1M410.5 211.7h1M418.8 218.6h1M401.0 225.4h1M396.4 210.9h1M416.8 216.0h1M421.1 220.7h1M389.3 225.9h1M408.1 216.6h1M405.5 209.0h1M419.6 220.0h1M415.7 212.0h1M429.0 219.3h1M419.1 217.3h1M416.2 224.8h1M423.8 224.5h1M414.4 217.6h1M401.7 215.3h1M407.7 210.9h1M413.3 217.2h1M406.2 204.8h1M410.7 216.7h1M416.4 210.4h1M400.1 203.7h1M413.0 212.5h1M419.0 206.6h1M426.4 215.2h1M411.0 217.6h1M420.1 222.2h1M394.6 212.6h1M417.5 220.6h1M415.3 210.3h1M417.3 215.3h1M413.1 225.1h1M412.0 219.8h1M427.7 223.6h1M400.6 209.1h1M393.1 224.0h1M411.4 212.8h1M412.2 208.4h1M418.7 210.3h1M422.1 218.4h1M412.5 220.4h1M410.6 216.4h1M425.1 228.3h1M418.6 226.4h1M397.4 217.6h1M413.0 213.3h1M418.5 230.0h1M418.4 224.5h1M427.0 226.0h1M414.1 212.5h1M424.7 222.8h1M408.9 228.1h1M405.2 208.3h1M412.8 207.7h1M411.9 216.4h1M407.7 217.3h1M401.0 201.1h1M421.5 223.2h1M421.9 214.0h1M417.9 214.5h1M425.2 208.7h1M416.3 213.6h1M420.5 217.3h1M395.9 214.6h1M403.8 220.0h1M421.9 208.5h1M417.7 209.8h1M408.5 217.9h1M425.4 220.1h1M419.9 213.5h1M412.0 221.1h1M415.1 217.9h1M417.4 228.3h1M427.0 226.7h1M417.4 211.6h1M402.0 217.9h1M403.8 203.5h1M410.6 232.3h1M413.7 218.0h1M413.0 218.0h1M400.5 218.8h1M421.5 218.8h1M416.6 217.2h1M420.8 209.1h1M394.2 213.6h1M413.4 221.2h1M406.3 218.2h1M413.2 222.0h1M409.1 221.3h1M421.0 215.1h1M412.2 213.8h1M406.6 212.6h1M403.0 221.9h1M417.6 216.1h1M414.6 217.2h1M428.3 223.0h1M410.3 221.6h1M397.4 213.5h1M406.0 219.1h1M408.1 211.5h1M406.4 207.0h1M400.5 210.1h1M417.0 218.6h1M420.8 228.3h1M422.3 204.3h1M407.3 227.2h1M415.0 219.4h1M415.5 207.3h1M417.4 215.7h1M403.7 219.3h1M430.1 215.5h1M400.8 215.9h1M404.5 200.1h1M408.5 219.3h1M403.9 216.0h1M411.9 213.5h1M409.3 214.4h1M410.4 215.7h1M418.1 213.2h1M405.0 219.9h1M406.5 231.1h1M410.7 230.1h1M415.6 218.7h1M421.9 219.5h1M411.8 214.2h1M404.2 210.1h1M421.4 200.1h1M429.8 222.9h1M410.0 228.4h1M431.3 224.1h1M389.5 202.8h1M419.3 208.3h1M416.9 213.6h1M416.7 214.2h1M412.9 204.8h1M412.3 210.3h1M422.9 211.7h1M417.1 220.2h1M411.2 210.5h1M413.9 215.3h1M420.1 209.8h1M401.1 220.9h1M414.9 224.2h1M425.7 203.4h1M414.9 217.1h1M413.1 222.5h1M431.3 214.8h1M411.1 220.5h1M419.7 215.2h1M420.8 225.4h1M407.1 224.6h1M404.7 224.8h1M403.5 210.2h1M398.8 213.8h1M411.7 214.9h1M408.5 214.2h1M407.2 213.2h1M413.4 211.9h1M413.5 208.4h1M398.9 221.0h1M404.1 216.4h1M402.1 205.5h1M398.5 209.6h1M424.5 210.8h1M414.1 213.0h1M412.8 207.3h1M422.4 217.0h1M407.3 221.1h1M396.7 210.7h1M415.2 226.4h1M406.8 228.1h1M423.4 209.6h1M416.9 223.5h1M402.4 225.9h1M396.7 225.2h1M423.2 227.2h1M420.3 217.7h1M396.5 228.0h1M418.4 221.6h1M406.4 200.5h1M416.9 209.8h1M411.8 219.7h1M399.3 219.0h1M404.6 211.9h1M419.5 205.8h1M406.4 214.2h1M422.0 215.2h1M418.6 208.3h1M397.3 214.7h1M427.4 219.4h1M407.7 211.5h1M425.2 220.2h1M397.9 202.3h1M431.0 216.9h1M412.2 218.3h1M411.2 214.8h1M411.4 202.1h1M408.7 212.6h1M422.5 222.5h1M408.3 214.9h1M412.8 229.3h1M422.5 211.2h1M426.2 209.4h1M423.1 216.5h1M400.5 212.8h1M410.2 223.2h1M424.9 203.7h1M407.2 223.2h1M417.0 219.4h1M418.5 221.1h1M424.8 213.1h1M390.0 219.2h1M405.7 204.4h1M412.5 210.6h1M411.3 201.6h1M417.1 215.4h1M413.8 210.7h1M404.0 222.3h1M418.2 213.9h1M400.1 219.2h1M407.0 221.5h1M405.0 216.9h1M415.4 211.9h1M417.1 206.3h1M424.7 212.8h1M407.7 214.5h1M408.3 210.9h1M413.7 211.4h1M408.9 216.8h1M409.8 210.2h1M419.6 229.1h1M406.0 221.7h1M404.9 213.8h1M401.3 211.7h1M404.5 215.0h1M408.6 230.5h1M403.4 219.9h1M420.0 203.7h1M395.3 221.7h1M400.5 213.6h1M386.2 208.4h1M409.6 223.5h1M431.9 211.6h1M426.3 215.9h1M409.9 214.4h1M409.9 205.6h1M411.4 208.2h1M415.6 234.5h1M399.5 227.3h1M401.3 213.7h1M422.3 219.5h1M423.9 225.2h1M409.6 212.4h1M418.4 219.5h1M429.0 201.4h1M422.3 219.4h1M409.5 210.5h1M404.6 210.7h1M428.1 216.2h1M409.8 216.4h1M417.9 221.2h1M412.3 214.7h1M404.8 215.8h1M411.1 211.9h1M409.4 224.6h1M420.2 218.0h1M424.1 217.0h1M423.8 216.0h1M426.6 219.8h1M409.5 208.0h1M413.8 217.1h1M401.9 214.7h1M406.7 218.0h1M400.0 216.0h1M431.2 222.8h1M412.3 226.6h1M408.8 221.8h1M415.5 213.2h1M417.4 232.4h1M404.1 210.1h1M429.1 211.8h1M411.4 213.1h1M405.2 219.5h1M402.7 209.1h1M410.1 219.9h1M426.6 216.0h1M421.5 225.6h1M417.1 222.0h1M410.6 205.2h1M420.2 208.4h1M418.1 210.5h1M401.0 215.4h1M400.1 216.7h1M410.7 214.7h1M427.5 221.8h1M410.2 221.8h1M416.5 213.9h1M399.4 211.2h1M431.7 216.5h1M418.1 227.9h1M405.4 223.6h1M387.5 209.1h1M391.2 216.1h1M412.7 211.1h1M406.2 236.3h1M416.5 219.8h1M403.8 210.8h1M414.5 214.0h1M410.8 214.2h1M395.5 218.7h1M414.7 220.0h1M419.4 228.7h1M408.6 217.6h1M426.0 213.6h1M423.9 212.8h1M408.2 208.8h1M411.2 230.5h1M430.7 216.9h1M417.7 224.2h1M402.1 213.4h1M410.8 203.3h1M404.8 211.9h1M409.3 214.7h1M390.1 219.2h1M407.5 219.3h1M418.3 214.9h1M430.0 204.3h1M411.9 216.6h1M426.5 215.3h1M417.7 217.3h1M432.5 213.7h1M403.5 212.6h1M416.5 225.9h1M389.0 207.1h1M426.3 213.1h1M405.0 212.8h1M403.5 208.6h1M413.2 210.7h1M429.3 198.7h1M417.6 211.1h1M428.9 209.2h1M417.3 227.3h1M417.9 211.6h1M410.5 217.4h1M426.9 217.0h1M418.5 208.3h1M412.9 224.7h1M409.5 212.6h1M408.5 224.1h1M417.4 218.8h1M405.1 203.8h1M422.8 213.0h1M420.7 219.6h1M406.5 208.4h1M421.5 201.2h1M389.1 226.9h1M404.0 217.2h1M422.8 230.5h1M402.2 214.7h1M421.2 215.9h1M404.3 222.5h1M395.3 222.8h1M411.7 215.9h1M405.3 214.2h1M422.6 217.6h1M423.3 220.0h1M408.3 214.0h1M412.6 212.8h1M426.0 207.9h1M429.2 211.0h1M403.3 215.7h1M399.3 227.4h1M428.4 225.8h1M429.6 224.6h1M393.9 220.5h1M405.0 221.9h1M409.3 212.8h1M403.0 219.9h1M423.0 208.3h1M415.9 219.0h1M411.0 214.5h1M423.9 225.1h1M419.4 220.8h1M419.7 211.9h1M411.5 216.2h1M403.0 221.4h1M430.9 230.1h1M409.9 212.6h1M404.2 220.7h1M411.4 224.0h1M401.3 217.0h1M406.2 217.7h1M410.0 203.1h1M420.4 216.3h1M413.8 215.3h1M402.8 216.1h1M419.9 227.5h1M414.3 212.2h1M423.8 214.5h1M409.9 215.9h1M418.3 207.6h1M413.3 215.6h1M407.9 227.6h1M396.7 215.7h1M414.2 217.4h1M426.9 201.5h1M408.9 209.9h1M398.3 211.8h1M416.2 214.0h1M431.3 205.5h1M415.6 218.1h1M413.5 220.4h1M409.9 219.6h1M410.0 212.8h1M403.4 213.2h1M419.6 212.8h1M419.6 214.9h1M412.6 225.1h1M401.2 215.7h1M421.5 220.2h1M416.5 225.9h1M408.5 217.2h1M430.2 208.5h1M418.3 220.6h1M416.2 219.5h1M404.9 217.6h1M412.0 219.2h1M414.7 229.2h1M423.0 231.2h1M423.1 219.7h1M420.6 225.8h1M405.5 206.6h1M399.4 221.9h1M410.0 214.8h1M414.5 222.2h1M409.5 211.2h1M408.5 221.9h1M411.5 220.8h1M423.2 214.9h1M405.3 208.3h1M408.1 209.6h1M415.1 207.7h1M414.8 213.7h1M420.7 209.1h1M414.0 221.4h1M397.5 218.8h1M407.6 210.2h1M398.2 216.8h1M407.0 213.8h1M420.0 195.7h1M421.4 231.8h1M412.0 213.6h1M411.6 222.4h1M436.6 210.7h1M411.9 215.1h1M410.5 201.3h1M415.6 211.3h1M415.4 212.9h1M403.8 203.7h1M426.1 215.7h1M416.0 226.8h1M417.5 217.9h1M390.0 224.0h1M421.2 208.5h1M397.6 218.8h1M410.9 226.1h1M399.6 215.7h1M418.8 219.2h1M400.4 206.4h1M408.0 230.7h1M404.6 213.0h1M421.0 219.3h1M425.9 211.5h1M406.0 221.8h1M410.3 216.1h1M402.5 210.9h1M404.8 211.9h1M405.6 214.0h1M409.1 223.5h1M429.7 213.9h1M427.7 219.5h1M390.6 218.0h1M398.5 223.6h1M407.4 226.9h1M426.3 212.8h1M403.0 223.5h1M404.0 215.6h1M422.2 215.3h1M419.5 229.4h1M416.0 221.0h1M407.0 197.9h1M414.2 216.4h1M417.9 216.5h1M406.7 212.2h1M413.4 210.2h1M399.3 218.0h1M412.4 220.1h1M407.4 215.3h1M403.7 213.6h1M420.8 227.9h1M409.9 219.3h1M405.5 206.3h1M407.2 214.6h1M409.7 210.8h1M414.4 224.0h1M407.4 219.0h1M418.3 223.1h1M419.1 223.0h1M413.4 207.6h1M402.2 213.3h1M403.3 211.1h1M410.8 216.1h1M408.7 218.7h1M431.4 209.7h1M407.4 208.5h1M423.7 222.3h1M399.9 219.6h1M399.3 219.0h1M413.0 216.8h1M395.7 217.7h1M414.7 225.3h1M414.1 216.1h1M406.1 220.1h1M420.8 221.5h1M421.7 215.4h1M399.4 217.0h1M427.0 224.9h1M406.4 230.5h1M426.4 222.2h1M403.5 221.2h1M422.2 231.5h1M408.9 214.7h1M424.7 224.4h1M421.8 213.2h1M407.0 218.4h1M417.8 222.8h1M406.2 206.0h1M423.8 216.0h1M411.9 223.1h1M399.3 216.5h1M409.8 219.8h1M412.8 221.2h1M400.8 213.7h1M404.8 223.9h1M425.5 217.2h1M420.0 215.2h1M407.1 226.0h1M412.3 225.9h1M436.5 208.8h1M419.0 214.5h1M417.2 201.1h1M419.2 210.9h1M416.2 219.7h1M421.5 216.9h1M416.4 214.8h1M398.7 212.6h1M408.6 214.5h1M414.9 218.3h1M423.7 230.2h1M403.4 217.8h1M417.6 215.1h1M420.0 201.5h1M419.9 215.4h1M395.1 215.0h1M432.1 216.1h1M433.4 231.9h1M416.3 214.8h1M420.2 226.8h1M431.0 219.3h1M405.1 227.3h1M395.9 215.4h1M414.3 220.4h1M407.8 218.0h1M422.5 217.2h1M405.5 222.3h1M415.3 210.3h1M406.7 229.8h1M412.0 220.6h1M409.0 215.9h1M413.2 213.5h1M421.1 224.2h1M421.7 214.2h1M407.5 203.3h1M424.2 214.8h1M401.8 209.1h1M421.5 215.0h1M421.0 218.2h1M422.8 218.7h1M385.7 226.3h1M401.0 227.3h1M415.0 211.6h1M408.6 211.3h1M417.3 220.5h1M400.6 204.3h1M426.2 219.6h1M400.6 223.9h1M425.3 220.2h1M418.7 213.3h1M405.8 230.7h1M409.6 220.8h1M406.1 206.9h1M408.4 231.5h1M413.8 203.3h1M423.8 225.1h1M405.5 217.6h1M413.5 211.5h1M414.4 205.9h1M417.1 223.8h1M405.0 221.5h1M421.1 220.8h1M427.9 216.8h1M405.9 222.3h1M418.7 201.8h1M414.1 211.5h1M409.7 217.4h1M428.6 219.7h1M406.7 212.8h1M415.4 219.6h1M440.5 210.1h1M407.7 223.5h1M409.9 218.0h1M397.2 205.4h1M420.2 209.7h1M421.0 213.4h1M416.5 225.0h1M405.4 211.3h1M424.8 216.9h1M411.9 223.0h1M403.6 216.5h1M400.8 207.5h1M419.8 225.2h1M415.2 206.5h1M412.0 219.0h1M413.0 224.8h1M405.1 218.9h1M409.8 216.1h1M409.8 220.1h1M401.2 214.6h1M416.7 222.7h1M423.9 218.0h1M424.6 225.5h1M412.0 230.4h1M428.5 214.7h1M412.1 213.4h1M412.1 219.1h1M416.0 213.9h1M418.1 225.1h1M422.2 221.3h1M410.0 214.6h1M429.7 217.0h1M405.8 223.0h1M429.6 206.3h1M429.6 209.9h1M421.8 217.2h1M407.2 210.1h1M403.2 208.0h1M409.6 223.7h1M410.7 230.1h1M410.8 211.8h1M413.1 228.1h1M405.9 216.6h1M423.2 213.2h1M418.3 215.5h1M411.2 215.7h1M410.7 221.8h1M397.6 207.8h1M408.4 206.0h1M403.7 208.2h1M411.8 204.8h1M410.0 211.9h1M423.0 205.3h1M396.5 205.5h1M401.6 210.0h1M418.5 210.6h1M410.4 215.2h1M417.9 206.4h1M404.3 215.9h1M425.7 211.4h1M405.0 221.0h1M413.2 216.0h1M430.2 211.0h1M419.8 229.1h1M408.0 231.8h1M419.7 218.5h1M426.9 217.8h1M388.1 218.1h1M411.1 206.3h1M419.7 212.6h1M404.1 231.4h1M424.1 227.0h1M430.4 207.5h1M431.2 209.3h1M402.7 218.8h1M409.5 228.3h1M409.4 220.9h1M412.8 211.3h1M410.3 213.5h1M414.6 215.5h1M421.4 214.6h1M415.8 227.8h1M417.8 235.7h1M414.3 218.8h1M419.1 224.6h1M420.8 216.4h1M411.2 213.9h1M413.2 206.1h1M401.1 208.7h1M427.1 218.4h1M423.2 215.0h1M416.4 210.9h1M394.0 214.8h1M408.1 212.3h1M399.4 220.6h1M420.7 220.2h1M423.6 210.9h1M418.8 216.1h1M408.3 216.6h1M403.7 214.2h1M412.8 204.4h1M427.7 223.2h1M420.8 228.3h1M419.6 220.6h1M429.1 213.2h1M400.0 223.0h1M410.7 223.6h1M419.5 211.8h1M412.4 209.0h1M413.5 215.4h1M421.0 229.5h1M415.7 214.7h1M414.3 216.0h1M408.7 218.2h1M402.1 210.8h1M415.5 223.1h1M418.2 214.7h1M424.1 218.8h1M430.0 220.1h1M413.1 208.4h1M425.6 223.4h1M426.6 212.9h1M402.6 226.0h1M413.1 199.9h1M419.5 207.9h1M426.9 224.1h1M393.8 218.9h1M413.0 220.8h1M401.2 206.8h1M421.9 203.0h1M412.1 219.5h1M420.3 218.9h1M435.6 224.8h1M411.6 215.6h1M405.9 217.9h1M433.9 221.4h1M412.2 208.4h1M388.6 216.0h1M405.6 219.1h1M402.1 221.7h1M410.8 212.3h1M416.1 213.3h1M412.6 211.4h1M417.6 204.9h1M412.0 220.4h1M421.6 220.3h1M425.8 218.2h1M438.4 213.0h1M393.1 201.5h1M394.4 216.3h1M396.1 206.3h1M419.7 204.1h1M413.5 222.4h1M424.4 218.0h1M399.1 209.6h1M427.0 227.4h1M408.6 222.4h1M420.3 214.0h1M423.2 210.2h1M418.7 220.6h1M411.4 212.5h1M428.2 210.9h1M404.1 206.7h1M410.7 215.1h1M404.9 224.2h1M414.2 220.5h1M399.2 214.2h1M428.5 223.8h1M417.7 224.5h1M420.4 218.8h1M417.2 220.0h1M409.3 228.9h1M437.3 217.9h1M413.1 233.2h1M418.0 220.9h1M418.2 217.6h1M410.3 222.5h1M399.1 224.3h1M428.6 215.4h1M410.0 230.7h1M412.1 213.2h1M423.1 209.4h1M393.1 217.1h1M408.6 211.6h1M406.4 212.7h1M410.8 201.2h1M421.5 214.7h1M410.0 214.8h1M421.8 219.1h1M435.7 201.9h1M421.9 223.7h1M412.4 216.0h1M413.4 219.6h1M409.7 211.8h1M423.1 216.9h1M421.9 235.5h1M399.9 210.6h1M406.4 216.1h1M430.1 219.9h1M424.4 230.0h1M393.6 214.3h1M406.6 219.7h1M403.1 228.1h1M408.4 211.4h1M402.9 207.6h1M412.9 212.6h1M416.4 213.3h1M417.9 218.2h1M424.2 221.8h1M407.9 225.4h1M407.6 210.4h1M422.0 207.9h1M406.4 206.0h1M398.2 218.7h1M403.9 228.3h1M427.6 219.0h1M406.5 216.4h1M410.5 224.4h1M394.1 215.4h1M413.8 219.4h1M420.0 213.8h1M419.2 208.3h1M424.2 219.1h1M411.8 224.3h1M405.9 204.7h1M418.0 217.1h1M409.6 211.7h1M417.6 222.6h1M403.9 206.7h1M419.8 208.9h1M425.6 226.4h1M407.3 232.7h1M410.4 215.9h1M412.0 219.6h1M421.3 219.0h1M406.1 214.3h1M397.6 209.4h1M414.7 216.5h1M407.4 218.1h1M405.6 216.2h1M413.6 223.4h1M423.2 209.5h1M409.1 204.2h1M432.9 201.7h1M412.2 205.6h1M413.4 217.9h1M419.0 212.1h1M419.9 211.6h1M403.5 210.8h1M405.2 228.1h1M421.7 220.8h1M392.8 215.8h1M419.2 204.1h1M422.5 208.8h1M412.7 218.1h1M411.7 216.3h1M417.5 224.5h1M428.1 225.9h1M414.3 202.4h1M401.8 213.1h1M419.2 224.7h1M409.1 211.8h1M413.9 217.9h1M419.8 221.8h1M410.8 199.2h1M408.7 195.7h1M411.2 235.2h1M425.2 219.0h1M435.2 209.2h1M417.0 220.2h1M406.1 212.5h1M419.9 218.3h1M407.3 215.6h1M419.7 215.1h1M405.7 219.2h1M411.7 217.4h1M401.3 216.2h1M409.3 206.4h1M428.4 217.5h1M415.5 222.6h1M427.0 223.7h1M406.3 218.1h1M407.1 214.9h1M416.9 224.9h1M402.4 222.0h1M416.9 209.4h1M442.2 215.8h1M425.1 216.2h1M416.9 222.8h1M413.7 216.7h1M425.7 224.4h1M437.9 218.8h1M395.4 206.6h1M418.5 209.6h1M398.8 224.7h1M396.9 205.2h1M414.9 225.0h1M421.3 208.6h1M420.8 209.5h1M416.2 195.1h1M400.4 219.2h1M411.5 219.4h1M421.8 231.3h1M407.5 223.2h1M419.3 215.2h1M418.3 217.3h1M420.1 215.4h1M414.0 211.3h1M409.0 218.1h1M416.4 219.4h1M422.2 211.4h1M405.5 204.9h1M426.3 230.3h1M417.0 221.2h1M405.5 217.6h1M427.6 218.9h1M399.0 218.8h1M413.3 222.9h1M430.0 217.1h1M418.5 223.8h1M404.7 215.3h1M396.7 218.6h1M420.7 219.3h1M418.0 211.5h1M405.1 225.9h1M420.2 214.3h1M419.6 211.5h1M403.5 219.3h1M412.6 219.0h1M437.4 219.8h1M415.3 231.4h1M405.6 215.9h1M408.7 216.3h1M436.6 203.2h1M426.4 207.5h1M397.5 215.8h1M412.6 214.7h1M402.3 221.6h1M400.5 221.3h1M442.1 207.6h1M416.3 217.8h1M398.1 217.0h1M423.5 223.6h1M420.6 212.9h1M412.5 210.7h1M425.6 211.7h1M402.8 212.9h1M430.9 205.6h1M422.7 222.4h1M408.2 218.5h1M398.6 219.8h1M418.5 211.6h1M415.6 217.3h1M419.6 222.0h1M424.7 216.3h1M419.8 223.4h1M430.8 217.9h1M409.2 212.5h1M412.9 204.9h1M403.0 221.9h1M434.4 226.9h1M407.7 225.8h1M417.5 213.5h1M427.5 223.7h1M423.2 221.3h1M424.0 215.2h1M411.1 213.1h1M423.2 220.7h1M424.0 215.0h1M411.3 217.2h1M414.3 215.7h1M428.6 218.7h1M387.7 213.0h1M416.7 218.4h1M414.8 215.8h1M429.6 211.7h1M421.9 224.0h1M424.1 233.0h1M405.4 212.9h1M418.2 221.2h1M420.2 212.7h1M410.6 228.6h1M421.3 222.3h1M423.0 230.3h1M413.0 219.8h1M398.5 215.1h1M417.7 222.0h1M407.2 207.9h1M405.9 202.6h1M403.6 216.4h1M419.1 227.8h1M415.9 212.0h1M416.3 214.7h1M424.8 224.9h1M397.5 215.4h1M435.1 225.9h1M412.1 195.5h1M421.1 220.0h1M412.6 223.0h1M416.9 221.3h1M411.5 216.0h1M417.9 214.9h1M401.9 208.3h1M416.7 211.2h1M405.0 212.2h1M420.6 202.1h1M388.7 218.3h1M411.4 227.4h1M410.4 206.5h1M416.2 219.0h1M416.9 219.3h1M435.3 214.3h1M417.4 216.4h1M396.0 208.2h1M404.1 214.4h1M401.0 226.6h1M412.2 209.7h1M405.7 216.9h1M406.7 208.9h1M400.6 216.3h1M430.5 197.0h1M409.0 216.6h1M404.6 232.0h1M414.5 204.4h1M415.4 208.0h1M420.7 216.4h1M424.6 209.5h1M416.5 227.8h1M410.1 209.1h1M409.1 217.8h1M408.9 219.4h1M424.1 210.4h1M397.0 209.9h1M396.4 210.8h1M409.9 204.1h1M412.8 215.6h1M396.2 212.9h1M395.5 219.9h1M408.9 218.9h1M425.6 220.2h1M411.5 217.6h1M406.8 215.2h1M428.9 211.4h1M410.3 217.0h1M415.0 220.5h1M399.9 211.8h1M410.4 217.3h1M417.6 218.2h1M412.0 209.0h1M399.9 207.1h1M419.5 226.1h1M402.9 205.7h1M407.6 216.8h1M405.8 213.6h1M417.7 217.7h1M406.7 206.3h1M409.7 222.6h1M394.5 225.8h1M412.9 225.6h1M404.7 209.7h1M397.9 216.8h1M412.4 213.8h1M412.0 218.3h1M403.4 221.6h1M395.6 212.0h1M414.6 213.4h1M412.8 204.4h1M408.1 214.8h1M397.2 219.1h1M398.8 209.4h1M398.2 216.4h1M403.3 219.2h1M419.2 212.7h1M416.3 227.2h1M394.6 203.2h1M428.4 209.0h1M439.3 221.1h1M388.4 221.2h1M409.8 215.9h1M419.5 211.1h1M408.1 216.3h1M394.3 213.3h1M413.8 215.5h1M412.7 215.3h1M392.0 209.2h1M392.1 217.6h1M420.9 216.5h1M391.4 212.8h1M419.4 218.8h1M419.0 221.2h1M401.0 217.2h1M414.7 208.5h1M405.9 214.7h1M430.9 222.9h1M412.0 216.0h1M396.0 215.9h1M421.7 212.9h1M417.2 225.3h1M408.9 205.1h1M410.9 214.7h1M438.6 215.1h1M410.8 222.7h1M404.6 213.4h1M410.4 214.4h1M415.6 216.9h1M388.8 223.4h1M407.4 220.5h1M412.7 219.9h1M425.0 214.4h1M407.6 218.4h1M411.0 228.1h1M409.8 211.8h1M431.7 211.1h1M419.8 211.7h1M418.7 226.9h1M425.9 213.2h1M417.8 224.3h1M413.6 229.0h1M427.9 228.0h1M412.8 219.0h1M400.5 210.0h1M418.3 211.2h1M413.0 208.8h1M405.6 207.8h1M415.6 211.1h1M414.0 220.3h1M409.1 216.4h1M435.5 220.1h1M428.5 226.7h1M421.4 220.0h1M396.6 219.7h1M402.8 207.0h1M412.0 224.3h1M418.6 221.4h1M420.5 221.7h1M402.3 208.7h1M413.6 223.6h1M412.4 211.1h1M407.4 213.0h1M406.2 208.7h1M428.7 217.6h1M396.3 217.6h1M418.0 222.2h1M402.5 203.3h1M435.6 207.3h1M398.6 217.6h1M423.8 223.3h1M404.5 216.5h1M405.3 216.3h1M405.9 233.8h1M424.6 214.9h1M411.3 226.0h1M405.7 214.4h1M408.0 216.4h1M429.7 211.7h1M400.2 208.3h1M406.4 206.5h1M400.2 210.3h1M417.6 218.0h1M409.0 218.8h1M413.0 215.4h1M403.7 221.8h1M412.3 214.8h1M408.9 217.2h1M411.7 207.6h1M406.6 207.9h1M438.3 203.8h1M411.4 221.5h1M410.8 215.4h1M402.3 211.1h1M405.3 207.9h1M411.0 220.6h1M421.6 228.2h1M418.6 239.3h1M414.5 208.6h1M398.2 218.2h1M421.3 223.0h1M413.2 225.8h1M413.5 213.7h1M411.4 217.1h1M419.2 207.9h1M402.4 224.7h1M409.3 224.8h1M419.6 218.7h1M425.2 215.5h1M419.7 222.3h1M423.7 209.9h1M412.8 227.3h1M420.4 226.3h1M428.8 212.5h1M413.0 226.9h1M418.7 210.5h1M417.8 219.5h1M408.0 214.0h1M422.5 221.7h1M402.2 210.2h1M410.1 216.8h1M412.5 210.7h1M416.4 202.3h1M404.6 216.7h1M413.0 215.8h1M416.6 217.8h1M409.8 227.8h1M412.0 235.0h1M396.2 222.8h1M400.3 204.5h1M403.1 196.0h1M407.8 215.8h1M402.7 213.2h1M417.5 212.0h1M422.4 211.3h1M431.7 216.3h1M399.4 221.5h1M415.4 205.9h1M432.7 213.4h1M418.8 235.6h1M406.1 211.4h1M417.7 199.7h1M424.1 210.3h1M427.5 225.3h1M401.7 207.2h1M425.8 207.8h1M413.4 219.9h1M422.0 216.9h1M405.0 222.6h1M417.9 224.4h1M402.6 227.7h1M418.5 214.4h1M419.4 216.0h1M394.4 211.9h1M416.6 218.6h1M415.4 211.1h1M402.5 213.5h1M414.9 215.7h1M416.5 211.7h1M407.0 212.2h1M410.0 212.2h1M412.3 213.2h1M426.5 211.4h1M403.4 219.5h1M429.8 215.4h1M400.7 221.9h1M402.3 216.0h1M410.2 208.0h1M421.1 218.8h1M411.3 218.4h1M400.9 214.3h1M416.2 221.4h1M394.1 219.7h1M402.1 201.3h1M421.0 224.2h1M402.3 222.1h1M413.5 222.0h1M432.0 225.2h1M414.6 208.2h1M405.6 214.1h1M406.6 219.0h1M419.0 229.6h1M424.7 207.3h1M438.2 216.4h1M408.7 203.9h1M414.4 232.9h1M413.0 220.5h1M417.4 224.0h1M405.7 210.8h1M419.8 223.5h1M406.4 219.5h1M423.4 219.3h1M408.9 231.8h1M428.2 221.3h1M411.7 207.6h1M408.7 217.0h1M403.3 224.1h1M400.5 228.4h1M409.1 211.0h1M410.3 220.3h1M423.9 208.8h1M419.9 213.4h1M399.4 208.3h1M425.5 206.8h1M406.6 216.8h1M428.5 201.2h1M414.5 217.7h1M395.9 213.2h1M409.6 220.5h1M409.6 212.5h1M415.0 224.2h1M399.3 216.8h1M410.5 216.0h1M422.3 212.0h1M397.5 214.8h1M399.6 228.1h1M427.0 208.6h1M412.8 204.6h1M410.9 212.9h1M432.3 219.9h1M415.2 224.5h1M408.7 221.3h1M405.8 212.1h1M432.8 196.1h1M419.1 211.0h1M422.5 210.9h1M414.6 206.7h1M424.2 211.0h1M397.9 193.1h1M393.9 221.5h1M399.6 206.7h1M412.9 215.1h1M414.0 214.1h1M431.7 207.9h1M405.6 214.4h1M418.3 227.0h1M413.0 222.1h1M417.0 237.9h1M405.9 226.4h1M412.5 218.1h1M419.9 225.5h1M405.8 215.4h1M403.0 196.7h1M434.8 217.5h1M412.1 210.4h1M410.2 219.0h1M425.4 218.4h1M414.2 208.5h1M406.3 216.4h1M393.2 212.6h1M413.1 227.9h1M394.8 206.4h1M420.9 198.5h1M435.9 217.8h1M422.1 220.6h1M395.2 220.6h1M402.8 214.7h1M412.8 217.9h1M420.9 216.6h1M424.4 218.6h1M407.0 219.6h1M408.3 222.2h1M408.8 213.9h1M422.9 203.1h1M417.5 212.7h1M420.0 220.8h1M403.0 219.7h1M429.4 213.5h1M420.6 233.8h1M393.0 214.7h1M431.9 215.2h1M411.3 208.8h1M419.4 225.6h1M418.7 209.0h1M392.9 218.1h1M427.8 219.3h1M418.3 228.9h1M407.5 215.0h1M422.5 213.2h1M405.0 213.2h1M419.5 210.7h1M409.1 218.4h1M403.7 212.2h1M414.7 218.0h1M404.6 212.2h1M422.1 212.9h1M412.3 215.3h1M405.8 221.3h1M409.7 203.7h1M429.4 214.4h1M414.0 218.4h1M408.1 208.3h1M402.8 211.8h1M419.5 213.8h1M417.4 199.3h1M402.2 216.9h1M400.9 221.4h1M410.2 213.9h1M402.0 214.7h1M397.1 222.6h1M415.5 213.8h1M401.2 219.1h1M403.6 223.4h1M419.3 210.9h1M410.2 228.7h1M418.7 223.0h1M406.9 221.5h1M399.1 220.7h1M422.1 214.4h1M416.9 213.4h1M409.5 217.8h1M416.8 217.1h1M417.1 208.8h1M397.4 219.2h1M387.9 204.2h1M398.6 221.3h1M419.0 237.9h1M409.3 213.6h1M411.0 206.2h1M422.5 209.5h1M404.2 217.4h1M407.1 219.6h1M419.8 221.6h1M412.1 209.9h1M412.1 208.2h1M396.8 204.8h1M422.4 206.0h1M424.0 215.5h1M408.7 216.4h1M428.6 205.8h1M416.8 212.6h1M401.5 201.0h1M402.4 209.0h1M412.4 222.1h1M416.4 214.1h1M429.7 211.6h1M412.8 213.6h1M419.1 219.5h1M412.2 220.5h1M415.3 211.4h1M422.1 212.6h1M406.0 221.3h1M407.6 216.4h1M438.7 222.4h1M407.3 212.4h1M422.7 218.8h1M403.4 221.0h1M396.4 225.5h1M425.6 228.0h1M399.6 220.7h1M432.9 219.5h1M411.1 225.8h1M398.4 215.8h1M417.3 213.2h1M413.5 222.9h1M421.3 216.0h1M400.7 205.6h1M403.6 212.7h1M405.2 236.4h1M410.8 215.4h1M419.3 207.2h1M406.9 220.6h1M405.6 223.5h1M406.4 218.0h1M427.5 224.2h1M414.3 217.4h1M420.3 213.5h1M401.9 223.4h1M424.4 218.4h1M410.6 208.5h1M406.7 214.0h1M415.6 222.4h1M413.5 219.3h1M400.0 217.3h1M424.7 211.7h1M394.0 221.2h1M427.9 221.6h1M408.0 220.7h1M392.0 217.0h1M405.4 224.4h1M403.0 230.8h1M437.1 230.1h1M422.9 211.3h1M410.0 223.3h1M416.8 212.0h1M410.6 210.7h1M416.9 216.0h1M425.8 221.5h1M409.3 226.2h1M389.9 206.4h1M406.9 220.2h1M431.9 222.1h1M415.9 216.4h1M395.1 212.3h1M423.7 218.7h1M407.0 216.2h1M406.3 203.0h1M410.7 211.9h1M400.4 215.0h1M409.7 217.5h1M413.0 217.6h1M410.5 211.2h1M411.7 216.3h1M422.4 216.7h1M405.9 222.0h1M412.4 222.1h1M434.3 222.0h1M400.0 209.8h1M417.9 204.7h1M408.0 217.8h1M407.7 210.3h1M412.1 213.6h1M407.4 219.9h1M406.0 214.6h1M425.1 222.3h1M412.9 214.9h1M415.3 217.9h1M399.8 210.9h1M423.8 209.6h1M429.2 221.1h1M412.5 213.0h1M414.0 222.0h1M417.5 225.8h1M417.6 211.9h1M418.6 221.7h1M412.0 210.2h1M405.2 220.4h1M404.1 228.9h1M420.5 203.9h1M402.2 217.0h1M400.4 215.4h1M421.9 221.0h1M402.1 221.8h1M422.9 211.5h1M419.3 212.1h1M399.7 224.8h1M424.4 209.9h1M386.6 223.6h1M406.8 219.0h1M399.7 219.9h1M423.7 217.4h1M420.9 218.6h1M422.6 212.6h1M407.2 202.7h1M408.4 214.3h1M401.3 223.5h1M410.1 237.3h1M418.8 210.6h1M412.7 221.5h1M423.6 226.9h1M408.3 223.4h1M412.4 223.1h1M411.7 216.1h1M416.3 211.9h1M412.9 219.1h1M394.6 212.8h1M408.1 223.5h1M414.3 216.3h1M405.5 219.5h1M409.9 223.2h1M410.1 216.1h1M418.9 219.7h1M397.4 217.8h1M412.4 203.4h1M400.7 223.1h1M416.3 213.1h1M422.3 204.3h1M426.7 212.4h1M427.9 213.6h1M407.8 218.5h1M410.3 223.6h1M421.0 214.0h1M411.1 216.5h1M430.2 216.2h1M423.3 216.2h1M404.6 205.0h1M415.3 219.9h1M415.4 225.4h1M420.2 229.3h1M419.2 210.1h1M424.3 209.0h1M411.6 207.4h1M422.2 226.4h1M399.2 210.2h1M405.7 203.0h1M411.5 214.3h1M398.6 200.1h1M397.5 217.8h1M396.9 216.0h1M414.5 220.9h1M411.5 217.5h1M427.0 211.8h1M412.4 224.9h1M400.5 220.4h1M386.1 204.6h1M396.2 214.6h1M412.1 199.8h1M430.9 230.8h1M425.1 214.7h1M417.3 211.2h1M406.9 210.8h1M415.6 212.5h1M407.9 228.7h1M409.2 220.5h1M416.6 213.1h1M408.5 224.3h1M407.5 221.0h1M408.5 213.7h1M427.6 204.1h1M405.6 212.1h1M416.9 211.5h1M413.8 221.0h1M432.4 223.0h1M398.7 228.4h1M412.7 209.4h1M414.9 209.3h1M408.7 209.9h1M407.7 198.7h1M425.3 216.6h1M420.9 218.9h1M411.6 225.6h1M425.6 213.6h1M420.6 213.7h1M407.6 219.2h1M413.3 215.3h1M392.1 210.1h1M413.4 221.0h1M419.0 212.2h1M417.2 207.3h1M416.8 229.1h1M410.1 208.9h1M423.0 215.2h1M412.5 219.9h1M409.1 221.1h1M405.3 210.8h1M415.3 219.2h1M414.6 220.8h1M411.9 211.5h1M417.1 205.1h1M412.4 222.8h1M418.0 224.1h1M410.0 214.4h1M407.7 212.7h1M414.6 223.0h1M412.2 227.1h1M417.3 201.9h1M419.2 212.9h1M413.6 211.1h1M407.3 230.7h1M423.1 213.8h1M405.2 213.7h1M406.5 220.7h1M424.2 205.5h1M417.3 215.9h1M410.1 221.9h1M405.3 210.5h1M411.9 211.3h1M407.7 222.1h1M400.0 225.2h1M426.6 214.2h1M419.6 209.2h1M410.4 213.5h1M404.9 223.4h1M416.9 223.4h1M397.8 215.9h1M409.1 206.1h1M424.2 217.4h1M417.2 227.4h1M408.2 228.0h1M395.3 226.7h1M421.7 208.7h1M400.9 234.9h1M407.7 225.4h1M417.8 217.9h1M412.3 208.3h1M402.1 211.3h1M423.0 203.5h1M402.9 219.9h1M412.5 213.5h1M403.6 204.6h1M405.7 208.6h1M408.1 209.9h1M397.9 226.1h1M392.2 222.1h1M408.7 212.4h1M400.6 209.7h1M408.4 201.8h1M423.0 217.4h1M412.4 215.9h1M423.8 216.2h1M420.3 211.7h1M430.1 211.6h1M402.0 211.6h1M421.9 227.4h1M416.4 231.3h1M402.3 211.0h1M407.8 225.5h1M403.2 216.2h1M400.8 217.6h1M404.0 237.4h1M420.6 212.6h1M421.1 215.8h1M406.3 219.8h1M397.7 226.7h1M425.2 208.3h1M411.2 202.8h1M418.2 218.4h1M414.9 212.4h1M412.0 211.4h1M410.3 211.4h1M406.0 211.3h1M386.7 210.5h1M421.3 226.4h1M406.7 216.5h1M425.5 204.7h1M416.4 204.1h1M416.5 214.6h1M411.3 214.5h1M432.0 197.3h1M398.0 217.7h1M415.0 210.9h1M416.0 216.1h1M413.5 224.3h1M403.6 217.7h1M421.9 212.2h1M425.1 210.0h1M395.6 208.3h1M413.3 223.4h1M408.5 215.7h1M412.1 220.5h1M402.3 215.2h1M403.0 219.3h1M420.9 199.9h1M414.5 214.7h1M419.7 210.8h1M412.6 207.3h1M420.4 232.4h1M415.0 227.1h1M428.2 214.2h1M413.3 217.3h1M423.1 211.3h1M420.0 210.1h1M419.1 215.9h1M395.1 213.3h1M417.4 215.0h1M415.0 232.2h1M399.3 211.0h1M404.7 216.2h1M407.6 214.6h1M404.0 210.7h1M432.0 234.1h1M410.8 216.8h1M395.5 213.3h1M420.1 219.1h1M410.4 229.2h1M442.8 214.8h1M402.0 220.6h1M421.5 210.1h1M412.0 224.0h1M416.7 210.1h1M421.7 210.3h1M428.3 216.2h1M393.4 210.1h1M420.8 229.2h1M416.4 214.2h1M436.2 206.8h1M423.2 205.3h1M394.8 208.5h1M421.0 218.1h1M410.6 219.3h1M405.4 227.1h1M413.7 220.1h1M399.3 215.7h1M400.2 221.1h1M396.0 221.5h1M423.3 220.3h1M425.6 227.3h1M409.7 212.8h1M407.8 216.2h1"/>
<path stroke="#16bcec" stroke-opacity="0.95" stroke-width="1" fill="none" d="M414.4 225.9h1M413.1 260.1h1M417.5 262.6h1M419.6 214.6h1M424.8 216.7h1M404.8 221.1h1M406.3 247.5h1M416.9 222.4h1M420.4 245.9h1M410.0 255.7h1M409.1 242.8h1M410.2 248.9h1M412.9 226.5h1M419.9 225.1h1M413.2 231.8h1M415.1 236.6h1M407.9 251.6h1M402.0 221.2h1M414.9 240.0h1M414.9 245.9h1M409.9 231.0h1M414.1 266.2h1M414.0 261.5h1M417.4 225.6h1M411.1 241.9h1M413.6 249.5h1M423.5 228.0h1M410.4 249.3h1M411.1 220.9h1M411.1 240.1h1M415.5 263.2h1M411.2 262.7h1M407.2 237.6h1M409.5 230.9h1M408.4 251.7h1M414.4 257.9h1M422.1 240.3h1M417.7 219.9h1M416.4 234.6h1M415.0 257.1h1M412.9 270.5h1M408.9 258.5h1M408.2 233.0h1M416.5 254.8h1M409.8 262.9h1M422.2 234.9h1M407.6 232.2h1M412.1 253.5h1M408.9 231.4h1M410.8 267.4h1M412.0 254.4h1M412.3 227.0h1M412.0 226.7h1M415.8 229.0h1M413.9 258.9h1M422.4 215.2h1M411.5 235.6h1M410.0 247.8h1M411.4 257.3h1M412.9 233.2h1M418.3 245.0h1M413.9 265.2h1M411.1 218.7h1M414.8 215.7h1M408.6 245.8h1M411.8 245.1h1M412.2 271.1h1M410.0 253.6h1M415.4 256.5h1M409.5 237.9h1M411.1 249.1h1M409.0 247.1h1M414.4 257.1h1M409.5 250.9h1M425.5 226.2h1M407.7 227.1h1M416.5 253.5h1M416.8 223.2h1M416.9 248.0h1M414.0 262.5h1M407.2 219.5h1M418.7 265.9h1M414.8 226.3h1M407.1 223.7h1M422.0 217.0h1M413.4 267.1h1M409.8 230.2h1M416.8 235.3h1M413.9 242.3h1M416.8 232.9h1M413.5 251.1h1M415.5 271.1h1M415.6 240.9h1M411.5 226.9h1M413.7 244.6h1M419.9 225.5h1M413.6 235.5h1M410.4 240.3h1M414.6 216.9h1M415.2 259.6h1M415.6 245.0h1M409.8 259.8h1M408.3 238.2h1M413.0 271.2h1M417.3 240.9h1M414.5 241.7h1M423.6 218.0h1M420.0 245.3h1M417.4 238.5h1M414.4 239.9h1M412.8 229.0h1M408.6 224.6h1M414.6 235.0h1M407.4 228.2h1M417.7 238.6h1M403.6 223.4h1M416.3 266.0h1M412.5 224.1h1M410.8 248.1h1M414.0 253.0h1M414.4 224.2h1M414.0 223.4h1M410.7 267.3h1M401.6 243.5h1M419.8 217.3h1M413.8 224.3h1M415.2 267.0h1M400.0 227.2h1M411.9 242.8h1M411.3 266.8h1M414.3 224.2h1M419.9 218.8h1M409.5 252.6h1M415.6 243.7h1M415.1 258.7h1M399.7 215.4h1M413.1 235.7h1M413.5 261.2h1M412.5 250.8h1M414.5 270.4h1M416.0 269.6h1M415.2 267.0h1M417.8 251.2h1M419.3 219.5h1M413.0 226.8h1M411.9 263.3h1M408.6 245.4h1M407.8 258.4h1M411.0 243.8h1M414.9 239.8h1M412.9 244.3h1M413.2 233.1h1M416.3 254.9h1M419.3 219.7h1M412.8 258.5h1M413.1 250.3h1M408.4 253.4h1M415.7 270.0h1M413.0 256.6h1M396.0 215.6h1M413.5 250.8h1M412.5 236.2h1M415.4 262.7h1M413.5 249.4h1M415.0 256.4h1M411.9 258.5h1M418.3 227.1h1M408.5 241.0h1M413.2 269.7h1M414.2 254.3h1M412.4 254.0h1M419.4 215.1h1M415.7 226.7h1M414.7 238.1h1M413.9 270.5h1M416.6 216.8h1M416.0 244.5h1M409.0 237.2h1M413.4 237.5h1M412.3 238.9h1M411.8 232.5h1M413.8 248.9h1M413.6 250.9h1M405.6 221.1h1M411.9 218.7h1M419.2 227.0h1M416.0 248.0h1M407.9 258.0h1M411.0 243.3h1M415.7 223.9h1M407.2 237.7h1M414.6 215.3h1M422.6 223.5h1M415.0 254.5h1M410.2 251.7h1M414.6 257.2h1M408.0 257.0h1M412.9 231.3h1M402.2 227.2h1M410.6 232.0h1M402.6 226.5h1M411.3 258.8h1M410.8 221.1h1M418.5 234.8h1M416.0 215.1h1M423.4 229.2h1M421.9 216.2h1M413.8 250.7h1M415.6 255.4h1M410.6 258.7h1M413.5 271.7h1M412.6 271.1h1M411.6 271.1h1M417.9 241.1h1M410.1 231.9h1M415.5 224.3h1M412.2 244.6h1M417.5 243.3h1M414.3 271.3h1M408.4 255.0h1M415.3 231.9h1M419.8 265.7h1M416.6 243.8h1M420.6 218.7h1M415.2 258.0h1M417.2 265.9h1M410.9 238.3h1M410.4 235.9h1M411.6 240.3h1M404.4 215.2h1M410.3 254.7h1M411.1 251.3h1M410.7 246.8h1M417.2 259.4h1M416.6 228.1h1M411.8 252.4h1M409.8 227.4h1M412.5 234.7h1M414.0 232.7h1M416.1 265.1h1M415.6 230.4h1M411.5 267.5h1M412.4 217.8h1M408.5 249.9h1M412.1 262.6h1M424.5 215.8h1M409.6 258.2h1M410.7 224.5h1M416.9 245.5h1M414.9 222.6h1M412.1 232.5h1M409.5 229.9h1M409.9 242.0h1M415.3 263.2h1M412.9 222.1h1M414.9 243.7h1M416.2 246.9h1M404.6 221.4h1M407.0 249.1h1M414.6 264.6h1M417.4 245.6h1M413.5 218.6h1M416.7 246.6h1M406.6 240.2h1M412.5 255.2h1M411.8 254.2h1M411.0 237.0h1M414.5 269.3h1M399.8 232.4h1M412.0 257.6h1M417.8 243.5h1M412.1 247.9h1M406.9 225.0h1M414.8 241.5h1M406.5 232.5h1M416.7 248.4h1M410.8 251.1h1M420.6 231.7h1M414.5 258.4h1M412.5 220.5h1M413.2 266.3h1M415.7 246.5h1M408.2 249.5h1M416.7 248.4h1M411.7 271.4h1M402.6 224.5h1M412.6 247.6h1M411.9 270.2h1M413.6 271.1h1M420.6 238.7h1M413.0 257.4h1M417.5 265.0h1M419.0 261.5h1M419.4 258.4h1M414.5 238.0h1M421.2 225.8h1M419.6 239.4h1M416.5 266.1h1M413.5 256.5h1M416.3 268.1h1M417.4 247.4h1M414.2 264.7h1M410.5 253.3h1M415.8 252.2h1M414.9 257.5h1M405.9 229.1h1M410.3 260.2h1M417.1 258.7h1M412.9 261.5h1M417.8 229.7h1M411.6 221.4h1M408.9 251.9h1M411.2 254.6h1M400.5 227.5h1M414.5 271.3h1M404.8 222.6h1M423.8 236.5h1M409.4 235.9h1M414.6 223.2h1M408.8 240.0h1M409.3 260.8h1M413.3 262.5h1M409.1 222.6h1M418.1 270.2h1M412.9 269.0h1M400.7 230.9h1M413.5 235.0h1M411.5 267.4h1M412.2 264.2h1M410.9 255.8h1M407.6 222.7h1M409.0 262.0h1M414.1 259.2h1M413.5 219.0h1M413.1 241.3h1M412.1 248.9h1M421.2 237.1h1M411.5 261.1h1M422.8 226.7h1M415.3 224.4h1M410.9 240.6h1M411.6 266.8h1M412.1 259.7h1M412.3 247.1h1M413.1 247.2h1M417.0 266.0h1M410.1 265.2h1M413.8 260.5h1M415.1 265.0h1M417.1 232.0h1M412.5 246.1h1M410.2 243.3h1M414.5 259.4h1M416.8 234.2h1M413.2 260.9h1M411.4 234.6h1M420.2 234.9h1M412.1 227.8h1M413.2 256.2h1M421.9 222.2h1M413.5 235.1h1M413.5 254.7h1M412.4 237.9h1M419.4 249.1h1M413.4 259.9h1M419.3 245.7h1M416.7 246.6h1M413.8 240.0h1M416.2 261.5h1M410.9 240.1h1M420.7 250.3h1M409.3 228.8h1M415.7 221.0h1M416.3 259.5h1M415.2 233.0h1M417.7 254.2h1M420.8 235.1h1M410.4 260.8h1M412.7 264.7h1M415.9 241.2h1M414.0 259.7h1M412.9 257.6h1M414.4 268.7h1M410.9 256.0h1M411.1 240.6h1M421.2 218.4h1M415.5 220.2h1M417.0 264.9h1M403.0 237.0h1M408.8 245.6h1M404.9 215.7h1M415.1 225.5h1M416.7 270.5h1M410.5 268.6h1M412.8 222.5h1M417.2 261.8h1M408.5 239.6h1M425.5 230.8h1M405.8 217.4h1M409.2 236.1h1M407.6 255.4h1M415.7 242.1h1M404.2 229.8h1M413.7 239.4h1M413.6 222.4h1M411.5 256.1h1M410.8 226.0h1M411.3 233.8h1M414.9 247.7h1M410.0 240.3h1M411.5 265.5h1M408.0 239.5h1M419.0 230.5h1M415.7 243.6h1M403.4 220.1h1M413.6 219.7h1M415.2 252.7h1M415.8 264.9h1M413.2 221.4h1M410.6 253.7h1M424.7 231.1h1M413.5 252.3h1M409.4 232.4h1M414.4 266.6h1M418.7 240.3h1M411.1 214.9h1M415.6 247.8h1M414.4 243.9h1M412.5 236.3h1M411.4 216.6h1M414.2 264.3h1M405.2 260.7h1M412.8 231.5h1M409.7 257.6h1M407.3 228.5h1M414.6 254.1h1M412.6 266.9h1M411.4 218.0h1M413.0 246.0h1M402.7 229.6h1M408.5 258.4h1M418.8 250.1h1M410.6 260.9h1M411.1 231.0h1M416.5 221.5h1M412.2 246.5h1M413.2 265.7h1M406.9 254.9h1M409.1 251.7h1M414.2 253.8h1M414.2 238.0h1M420.5 214.6h1M417.9 215.5h1M412.5 270.9h1M413.8 232.6h1M411.2 255.5h1M417.0 224.8h1M409.7 235.7h1M415.6 236.1h1M415.3 238.7h1M422.0 220.3h1M408.6 233.7h1M413.3 241.7h1M406.9 239.3h1M417.7 242.1h1M412.4 241.1h1M409.9 231.1h1M410.6 263.1h1M410.0 243.0h1M411.4 223.4h1M412.4 257.3h1M416.9 264.9h1M412.5 253.0h1M413.4 225.1h1M399.8 215.6h1M409.9 229.0h1M424.1 230.1h1M422.7 230.4h1M401.4 231.2h1M418.9 253.9h1M412.1 228.0h1M407.5 241.3h1M415.0 263.2h1M417.4 233.0h1M418.2 216.1h1M415.3 244.2h1M419.0 251.7h1M413.0 240.6h1M417.2 218.6h1M418.6 269.9h1M414.2 222.6h1M406.6 241.6h1M421.9 227.1h1M414.0 248.0h1M407.3 231.4h1M417.2 268.4h1M419.3 232.4h1M412.8 233.5h1M414.6 244.3h1M403.9 231.2h1M414.3 225.7h1M402.3 234.6h1M408.6 248.6h1M414.1 258.4h1M409.2 266.6h1M412.2 271.7h1M418.6 217.5h1M412.5 248.2h1M413.7 247.9h1M412.7 254.1h1M410.7 267.8h1M419.9 235.3h1M409.5 267.8h1M411.3 223.0h1M408.6 253.9h1M411.6 214.9h1M413.3 258.6h1M412.8 262.6h1M414.0 253.6h1M415.2 263.2h1M400.4 218.4h1M413.5 269.4h1M419.6 233.4h1M421.7 232.4h1M419.4 214.7h1M409.9 263.7h1M408.8 223.3h1M417.5 236.6h1M418.9 238.2h1M410.6 224.0h1M412.5 259.2h1M416.1 249.7h1M417.2 252.1h1M411.0 236.3h1M409.0 244.5h1M403.8 228.9h1M411.0 253.9h1M405.9 239.7h1M409.9 243.8h1M417.9 246.5h1M415.4 231.6h1M412.1 265.6h1M417.8 240.1h1M407.1 243.6h1M414.6 263.5h1M409.9 226.0h1M414.2 271.0h1M416.6 261.5h1M405.8 219.2h1M416.0 242.4h1M413.0 265.4h1M412.2 248.0h1M407.8 254.3h1M412.9 251.8h1M412.8 248.0h1M413.5 245.5h1M412.2 235.8h1M407.9 238.7h1M422.6 217.4h1M412.6 255.6h1M418.7 238.3h1M412.6 265.3h1M411.5 267.9h1M418.9 239.6h1M419.2 232.4h1M410.7 224.4h1M413.8 258.1h1M415.2 242.0h1M406.9 240.4h1M411.7 256.4h1M399.6 217.1h1M415.1 271.6h1M408.8 266.2h1M412.9 266.5h1M410.4 267.9h1M412.9 252.9h1M411.6 224.6h1M411.8 259.2h1M415.3 243.2h1M412.7 270.6h1M415.6 261.3h1M414.1 256.1h1M406.9 229.0h1M411.4 234.0h1M413.2 219.9h1M415.4 262.4h1M416.3 264.9h1M412.4 249.1h1M413.2 257.3h1M415.0 217.9h1M411.0 266.6h1M409.0 220.3h1M416.7 240.5h1M419.3 236.2h1M414.4 238.8h1M411.5 227.4h1M415.4 238.4h1M409.0 222.3h1M421.3 237.6h1M407.2 242.1h1M414.1 255.7h1M416.3 264.4h1M411.1 229.1h1M410.3 255.7h1M412.1 265.8h1M413.9 265.0h1M419.6 225.0h1M412.9 216.0h1M415.7 228.7h1M416.9 235.0h1M415.1 215.9h1M415.1 259.0h1M415.9 234.3h1M416.6 233.9h1M411.8 270.4h1M409.7 224.3h1M409.0 223.2h1M420.0 251.9h1M412.2 224.2h1M411.9 253.4h1M419.9 226.9h1M415.7 236.4h1M412.5 264.4h1M420.3 218.3h1M408.9 235.0h1M407.3 228.5h1M409.6 240.9h1M416.2 269.3h1M413.2 224.5h1M417.8 248.5h1M410.7 265.4h1M404.2 233.9h1M414.4 247.9h1M412.9 271.7h1M407.9 259.4h1M414.3 239.1h1M421.7 245.0h1M414.3 246.7h1M408.3 250.5h1M411.7 264.4h1M411.1 258.7h1M405.8 248.6h1M408.2 234.9h1M411.1 268.8h1M412.3 265.1h1M411.1 242.4h1M413.9 221.5h1M414.3 271.5h1M414.6 257.8h1M413.4 267.0h1M409.7 246.2h1M413.7 251.0h1M414.2 240.1h1M434.1 220.9h1M410.9 217.1h1M415.3 217.5h1M416.2 244.9h1M415.7 256.8h1M409.1 268.2h1M412.6 252.5h1M405.9 234.8h1M418.5 222.8h1M404.6 226.9h1M400.3 215.6h1M410.5 257.3h1M421.5 240.8h1M418.6 227.4h1M415.3 271.1h1M409.9 229.9h1M414.6 248.3h1M407.6 224.2h1M412.9 265.4h1M416.0 266.1h1M417.1 252.0h1M412.7 232.9h1M409.3 239.8h1M411.8 257.2h1M404.1 228.0h1M409.2 264.2h1M415.3 235.8h1M418.1 246.0h1M418.2 259.3h1M412.8 226.2h1M415.7 253.0h1M408.8 264.9h1M414.7 266.7h1M418.6 268.6h1M415.0 266.4h1M423.5 215.0h1M415.5 264.0h1M415.7 262.8h1M420.1 225.9h1M409.8 256.5h1M410.8 225.1h1M418.6 250.3h1M409.4 224.8h1M419.4 237.6h1M411.7 265.9h1M412.7 260.9h1M410.5 249.0h1M417.3 246.7h1M399.1 215.8h1M408.2 242.0h1M410.4 261.9h1M416.7 217.3h1M415.7 217.2h1M409.7 269.5h1M414.4 271.6h1M415.8 270.2h1M414.2 220.9h1M416.4 234.9h1M432.3 234.5h1M413.3 242.7h1M412.7 271.6h1M416.3 228.6h1M413.0 234.5h1M409.3 251.1h1M412.6 261.7h1M406.6 225.9h1M416.9 269.5h1M411.0 268.7h1M419.9 251.4h1M409.6 228.5h1M408.5 252.9h1M412.6 262.7h1M421.7 234.4h1M414.2 223.0h1M423.1 223.3h1M416.7 249.2h1M414.5 257.1h1M409.2 217.4h1M418.4 225.9h1M414.2 225.3h1M410.5 227.2h1M413.1 251.2h1M416.9 235.8h1M415.5 216.5h1M421.8 216.4h1M422.4 247.5h1M415.7 253.5h1M415.7 262.3h1M418.0 222.2h1M414.8 265.1h1M410.7 240.3h1M411.0 229.6h1M409.1 239.0h1M418.0 219.5h1M409.9 261.3h1M412.8 218.5h1M410.6 254.3h1M410.3 247.5h1M415.1 266.3h1M414.2 243.7h1M417.8 240.2h1M411.8 271.8h1M411.2 244.2h1M414.1 227.7h1M415.2 263.5h1M416.2 235.5h1M419.9 237.9h1M408.3 245.5h1M412.5 230.0h1M411.2 253.8h1M418.8 256.7h1M405.8 235.1h1M409.4 241.4h1M416.4 260.7h1M407.5 219.6h1M409.1 265.1h1M422.5 219.5h1M415.1 269.4h1M410.6 237.8h1M411.4 268.4h1M412.9 263.4h1M409.2 230.2h1M409.6 229.6h1M415.3 264.4h1M409.3 235.1h1M412.3 239.9h1M409.5 230.7h1M415.0 269.9h1M412.9 251.4h1M420.5 219.5h1M405.6 222.0h1M409.0 215.8h1M411.8 227.7h1M413.6 271.0h1M411.0 232.0h1M423.5 236.4h1M409.8 223.0h1M411.9 248.0h1M407.6 243.5h1M411.5 241.6h1M420.7 254.7h1M415.0 223.4h1M411.3 266.6h1M417.7 241.8h1M412.6 264.5h1M414.7 267.1h1M409.8 258.3h1M409.2 215.7h1M416.8 266.5h1M413.6 261.9h1M414.0 262.6h1M415.9 226.0h1M415.6 266.4h1M410.5 237.7h1M406.7 221.7h1M412.5 229.9h1M418.0 235.7h1M412.4 263.1h1M420.4 215.5h1M404.5 230.5h1M409.6 229.1h1M411.3 269.8h1M402.3 229.4h1M421.4 249.3h1M413.0 251.2h1M422.8 240.5h1M414.4 271.5h1M409.7 254.4h1M421.6 221.3h1M415.3 259.3h1M419.9 256.7h1M418.0 225.8h1M412.4 234.9h1M414.4 271.0h1M412.0 221.4h1M408.8 244.2h1M411.3 230.9h1M410.4 259.2h1M419.3 225.3h1M418.8 245.3h1M413.8 268.7h1M411.8 242.3h1M418.1 225.1h1M412.0 262.6h1M416.3 252.0h1M417.1 222.3h1M413.0 239.3h1M412.1 262.8h1M409.5 245.2h1M413.2 270.6h1M410.6 264.0h1M412.7 232.9h1M414.1 252.4h1M411.3 224.9h1M415.9 232.2h1M418.4 234.7h1M410.4 267.4h1M413.0 219.1h1M410.6 256.4h1M410.2 240.9h1M411.6 216.6h1M416.9 255.0h1M420.9 218.6h1M411.7 261.3h1M413.1 242.2h1M412.0 228.0h1M412.7 258.3h1M421.5 235.6h1M417.9 236.2h1M405.7 245.7h1M415.6 228.0h1M416.8 234.4h1M411.1 270.5h1M421.8 227.9h1M417.0 245.0h1M418.9 255.0h1M405.4 223.4h1M411.7 234.0h1M409.6 236.6h1M410.1 240.6h1M410.0 238.0h1M407.6 244.2h1M413.7 217.0h1M409.9 267.5h1M419.1 226.8h1M417.5 226.3h1M408.1 266.9h1M410.3 251.5h1M414.9 218.2h1M427.5 229.6h1M412.7 271.3h1M419.4 243.7h1M421.4 249.8h1M413.9 227.3h1M409.6 256.7h1M410.1 262.9h1M409.0 264.6h1M414.2 238.8h1M414.1 245.3h1M410.7 251.2h1M417.5 261.7h1M410.2 234.6h1M413.7 271.6h1M415.4 269.2h1M417.9 233.2h1M417.0 220.7h1M417.2 215.0h1M415.1 231.6h1M416.6 263.5h1M419.1 230.1h1M407.5 220.6h1M416.7 214.7h1M413.6 236.6h1M411.9 233.3h1M422.7 220.8h1M414.0 252.1h1M414.9 239.1h1M418.1 247.2h1M411.7 271.7h1M411.8 258.7h1M412.0 234.4h1M409.6 249.8h1M414.9 225.4h1M410.8 261.5h1M415.3 216.0h1M413.7 216.9h1M413.7 226.0h1M414.6 268.2h1M412.8 269.2h1M416.9 238.9h1M411.8 239.2h1M413.5 250.5h1M413.1 241.8h1M416.7 247.0h1M414.3 249.0h1M409.5 241.3h1M424.9 224.9h1M415.9 270.7h1M414.0 238.2h1M417.3 228.1h1M408.7 228.4h1M418.0 230.5h1M412.4 270.3h1M417.8 222.5h1M414.1 240.9h1M409.2 246.7h1M415.2 250.3h1M413.2 218.2h1M411.5 242.4h1M413.1 245.8h1M419.3 214.9h1M414.3 255.1h1M411.6 244.8h1M411.6 244.9h1M412.4 217.9h1M410.2 269.0h1M411.5 264.3h1M411.0 232.5h1M404.9 242.9h1M420.1 252.7h1M413.1 252.9h1M422.5 217.9h1M413.0 266.2h1M413.4 244.0h1M413.2 257.2h1M410.1 270.1h1M408.7 244.1h1M415.0 258.5h1M415.5 220.1h1M414.4 248.3h1M410.5 267.7h1M408.0 238.8h1M408.5 234.2h1M403.5 227.5h1M411.2 271.1h1M413.3 234.0h1M420.5 216.9h1M420.2 233.1h1M414.6 271.5h1M410.1 234.3h1M410.6 260.3h1M419.0 252.2h1M414.7 232.7h1M409.7 240.2h1M408.4 237.5h1M421.0 254.1h1M415.4 258.9h1M414.4 247.6h1M414.1 236.0h1M412.8 257.4h1M416.8 251.4h1M418.0 215.6h1M421.7 227.1h1M405.7 241.9h1M414.8 271.5h1M414.3 248.9h1M417.8 236.1h1M416.4 233.9h1M400.4 217.2h1M413.4 243.5h1M419.4 247.7h1M416.0 253.3h1M407.4 217.6h1M403.8 231.9h1M420.1 229.0h1M414.0 230.8h1M416.0 230.6h1M410.2 247.6h1M420.1 220.0h1M411.9 216.8h1M412.2 228.0h1M405.2 215.1h1M414.0 239.4h1M415.3 226.8h1M410.9 263.0h1M409.8 218.2h1M415.6 239.9h1M406.7 231.4h1M414.8 249.1h1M416.1 258.8h1M413.4 225.6h1M408.6 253.1h1M413.3 268.8h1M415.6 271.4h1M413.6 255.3h1M410.9 271.0h1M415.0 270.7h1M414.7 254.1h1M418.1 254.5h1M416.4 270.2h1M416.1 251.6h1M412.2 237.1h1M404.5 242.5h1M400.4 218.9h1M412.8 251.3h1M409.5 225.6h1M413.2 220.8h1M410.6 260.6h1M408.4 236.1h1M417.4 247.6h1M414.2 257.8h1M413.6 255.4h1M418.4 257.4h1M409.3 228.8h1M415.2 246.0h1M409.6 247.8h1M410.4 218.1h1M413.7 255.4h1M412.4 243.3h1M408.5 218.2h1M411.9 243.6h1M418.3 231.4h1M410.6 254.9h1M410.2 264.9h1M419.4 247.2h1M407.3 241.9h1M412.6 265.7h1M408.5 249.2h1M408.4 233.7h1M417.1 249.9h1M415.6 257.3h1M411.7 238.1h1M417.2 263.8h1M410.7 233.8h1M416.7 257.3h1M414.2 269.0h1M419.4 224.9h1M413.4 260.3h1M415.1 240.2h1M412.8 228.9h1M407.6 266.9h1M425.9 226.9h1M415.1 258.4h1M413.7 219.2h1M413.0 254.4h1M411.3 257.5h1M411.9 266.1h1M413.5 271.5h1M418.5 224.5h1M414.2 257.1h1M414.3 228.3h1M418.2 219.9h1M411.2 257.7h1M417.7 243.2h1M412.2 260.2h1M414.8 265.8h1M409.3 218.8h1M416.8 249.7h1M408.4 242.8h1M422.3 236.3h1M411.0 234.3h1M410.4 219.5h1M408.4 220.3h1M407.1 226.0h1M411.7 227.6h1M405.6 233.3h1M419.0 225.1h1M412.5 229.0h1M408.1 263.9h1M413.4 251.5h1M415.4 244.0h1M414.1 247.4h1M410.6 240.3h1M412.8 255.8h1M407.4 266.2h1M405.2 224.6h1M406.6 258.1h1M408.2 251.2h1M415.9 246.6h1M421.1 215.1h1M421.5 226.2h1M410.3 240.2h1M414.2 268.2h1M411.9 248.3h1M414.4 256.7h1M413.9 250.4h1M410.7 257.5h1M418.5 237.6h1M411.8 257.3h1M409.5 225.0h1M411.7 233.6h1M408.9 220.6h1M401.4 215.5h1M413.1 271.7h1M414.4 259.4h1M415.9 250.8h1M411.1 222.4h1M421.0 237.8h1M410.6 243.3h1M410.1 231.8h1M400.4 230.5h1M420.6 240.8h1M415.6 270.2h1M416.1 269.9h1M402.8 216.0h1M417.8 216.3h1M407.0 248.5h1M419.4 232.6h1M412.7 246.8h1M411.9 252.8h1M413.5 269.5h1M412.8 264.6h1M420.8 236.9h1M419.1 233.3h1M408.9 258.5h1M416.8 247.9h1M396.7 215.1h1M425.0 219.0h1M412.0 262.9h1M411.9 236.5h1M413.2 266.2h1M423.7 240.3h1M416.5 241.3h1M413.2 256.0h1M415.1 259.0h1M411.9 250.0h1M418.1 234.7h1M412.2 269.6h1M412.1 256.3h1M411.5 232.0h1M419.7 229.4h1M413.7 268.2h1M412.5 253.7h1M405.3 232.8h1M417.3 244.1h1M411.4 237.9h1M414.0 265.1h1M412.2 247.2h1M414.7 235.8h1M414.3 242.6h1M410.3 271.7h1M405.3 240.3h1M412.0 235.0h1M405.5 240.2h1M414.6 271.7h1M413.3 222.6h1M419.2 229.8h1M415.4 259.3h1M416.7 228.2h1M410.6 246.9h1M413.9 269.8h1M417.6 236.2h1M415.8 265.1h1M414.5 236.3h1M412.7 245.1h1M410.6 248.2h1M411.2 224.8h1M410.8 237.3h1M418.2 241.0h1M416.0 267.3h1M411.9 215.2h1M411.4 255.8h1M417.7 223.8h1M420.1 229.0h1M417.4 215.6h1M406.1 226.1h1M406.2 242.4h1M423.1 220.8h1M419.0 218.1h1M410.3 221.6h1M412.9 220.0h1M413.1 266.3h1M413.5 261.7h1M408.9 240.8h1M416.8 247.9h1M409.0 220.6h1M410.8 266.2h1M418.0 245.0h1M413.6 253.2h1M415.8 269.6h1M414.2 262.9h1M417.0 247.3h1M417.7 263.1h1M414.2 256.4h1M415.9 266.2h1M412.0 265.7h1M415.6 229.5h1M406.8 261.6h1M413.0 258.0h1M407.8 218.4h1M405.1 237.9h1M415.0 264.1h1M413.4 245.1h1M415.3 239.8h1M404.3 220.4h1M414.0 264.7h1M419.8 258.4h1M416.7 231.1h1M409.8 260.4h1M414.7 271.4h1M413.7 271.8h1M410.5 244.0h1M409.4 238.5h1M414.1 241.7h1M403.1 237.3h1M415.5 269.9h1M416.5 241.0h1M414.8 262.5h1M417.2 231.2h1M416.2 267.7h1M407.7 246.8h1M414.4 219.7h1M416.2 233.8h1M417.1 231.1h1M412.1 258.5h1M413.1 257.6h1M416.5 241.5h1M415.8 245.8h1M418.4 260.4h1M403.9 231.1h1M413.5 269.7h1M412.4 250.0h1M414.3 255.5h1M413.6 269.8h1M410.6 244.0h1M414.1 263.1h1M407.4 239.7h1M409.5 250.8h1M409.4 249.3h1M414.5 218.5h1M418.4 215.3h1M420.5 222.9h1M409.2 257.1h1M412.5 255.0h1M419.8 225.2h1M413.5 270.3h1M416.3 270.3h1M410.0 217.6h1M412.0 257.6h1M413.8 217.1h1M408.4 214.9h1M413.2 245.4h1M412.5 257.1h1M424.7 219.5h1M413.4 249.5h1M409.5 220.4h1M413.4 235.6h1M414.2 250.4h1M409.3 270.9h1M409.2 250.1h1M405.3 227.6h1M412.2 229.3h1M415.0 252.6h1M409.9 248.5h1M402.5 216.1h1M417.5 218.1h1M412.0 259.0h1M413.0 250.5h1M415.5 244.3h1M415.6 266.0h1M412.0 262.0h1M409.7 250.5h1M406.8 230.7h1M407.2 219.2h1M414.0 218.0h1M429.8 220.9h1M415.7 232.3h1M411.9 263.6h1M412.5 239.3h1M411.9 249.0h1M405.2 228.1h1M413.3 270.4h1M415.1 230.1h1M414.1 230.1h1M410.3 248.9h1M413.4 269.9h1M412.4 259.9h1M401.1 215.1h1M416.9 235.1h1M412.3 254.6h1M399.6 232.6h1M412.4 249.0h1M415.6 252.1h1M431.8 220.1h1M411.7 270.5h1M419.2 249.4h1M408.4 234.7h1M419.7 218.2h1M416.5 241.8h1M412.0 222.8h1M409.9 256.7h1M409.4 248.2h1M418.3 239.0h1M421.6 228.5h1M412.4 249.6h1M413.0 268.4h1M412.0 269.0h1M413.9 215.8h1M411.3 245.6h1M417.5 248.0h1M415.4 267.6h1M416.4 215.0h1M407.8 227.1h1M404.9 225.0h1M412.4 271.4h1M417.1 261.8h1M415.5 261.3h1M412.9 254.6h1M417.4 241.3h1M416.8 224.7h1M408.2 226.1h1M421.8 228.2h1M416.5 261.0h1M406.1 221.2h1M411.4 222.1h1M416.9 244.2h1M423.4 222.2h1M419.2 241.6h1M408.5 234.5h1M411.4 247.2h1M417.1 259.2h1M409.3 226.0h1M414.5 248.8h1M411.8 236.1h1M415.9 244.0h1M408.1 247.3h1M404.7 216.2h1M407.2 219.5h1M422.2 241.7h1M423.3 234.4h1M420.4 248.6h1M410.9 243.0h1M409.0 238.4h1M415.9 220.9h1M412.8 270.4h1M409.5 253.3h1M415.0 259.9h1M406.7 219.6h1M416.8 259.3h1M414.1 261.6h1M412.8 270.3h1M404.6 217.1h1M413.0 219.8h1M413.3 219.3h1M416.5 236.6h1M413.9 215.1h1M413.3 263.1h1M407.6 242.3h1M411.7 260.0h1M413.5 216.4h1M415.6 233.6h1M412.7 261.7h1M407.0 242.6h1M405.9 216.9h1M411.4 247.9h1M414.7 266.3h1M412.2 252.6h1M411.1 268.5h1M413.2 271.2h1M412.3 228.9h1M419.1 244.2h1M413.1 226.4h1M411.4 253.7h1M413.3 270.2h1M414.5 265.9h1M402.0 223.7h1M411.9 252.3h1M407.6 230.8h1M410.3 239.0h1M411.0 228.2h1M418.1 253.0h1M418.0 215.3h1M415.1 214.5h1M407.8 233.5h1M414.1 262.8h1M414.6 268.2h1M408.4 257.2h1M401.8 215.6h1M416.9 261.1h1M417.5 246.8h1M413.6 243.2h1M419.1 225.7h1M417.7 238.3h1M417.9 271.6h1M400.4 238.8h1M415.2 229.0h1M418.7 239.3h1M414.1 268.4h1M411.8 265.8h1M407.5 242.7h1M417.9 254.1h1M417.5 270.1h1M403.1 233.3h1M407.4 231.5h1M417.5 215.1h1M416.5 250.1h1M411.7 260.0h1M405.8 233.0h1M418.1 242.6h1M416.2 268.9h1M406.6 251.6h1M413.5 245.2h1M415.3 245.9h1M413.2 262.0h1M418.4 249.6h1M415.2 217.3h1M416.5 219.4h1M414.3 251.2h1M404.4 221.2h1M421.3 252.1h1M411.6 257.4h1M413.3 254.1h1M417.0 261.4h1M416.5 240.6h1M412.1 219.7h1M408.2 265.4h1M413.4 251.2h1M418.3 243.0h1M413.0 261.4h1M409.1 258.8h1M418.0 249.5h1M419.0 263.9h1M419.4 223.1h1M420.1 221.8h1M406.4 246.8h1M410.1 226.3h1M402.3 238.6h1M415.3 255.4h1M397.8 222.5h1M415.3 260.4h1M418.3 237.9h1M411.4 265.7h1M411.6 214.7h1M420.5 238.4h1M404.0 217.3h1M415.5 237.3h1M416.3 260.8h1M414.4 252.7h1M411.2 224.8h1M414.4 235.8h1M414.8 261.2h1M416.0 256.9h1M422.2 231.1h1M406.0 235.6h1M413.2 243.9h1M412.9 248.6h1M417.2 266.5h1M406.8 228.7h1M424.8 217.3h1M411.8 270.1h1M411.1 259.9h1M409.3 258.3h1M412.5 238.8h1M410.9 231.3h1M413.7 268.2h1M412.2 215.1h1M416.0 249.6h1M415.6 234.8h1M399.9 229.6h1M419.5 233.0h1M413.5 246.9h1M413.2 242.0h1M412.4 270.5h1M418.0 234.0h1M411.6 235.8h1M418.4 240.6h1M408.9 248.4h1M416.8 269.7h1M417.9 253.5h1M407.0 232.8h1M416.6 246.6h1M410.6 233.2h1M407.0 232.9h1M411.0 239.3h1M414.0 238.8h1M410.3 239.8h1M415.4 246.3h1M421.3 216.3h1M405.2 227.7h1M408.2 263.0h1M413.1 246.5h1M413.8 271.8h1M413.8 223.2h1M417.5 228.1h1M416.1 237.8h1M408.8 266.2h1M413.1 220.3h1M408.5 229.8h1M413.0 268.6h1M405.9 232.9h1M415.1 252.7h1M413.1 268.8h1M412.0 267.1h1M407.4 245.8h1M423.2 221.1h1M415.9 260.6h1M415.6 249.8h1M409.3 229.6h1M407.5 222.2h1M417.4 262.3h1M411.5 251.8h1M417.7 232.2h1M423.9 231.3h1M408.4 259.2h1M404.2 215.2h1M414.8 254.7h1M407.9 254.9h1M411.2 224.3h1M410.5 232.7h1M416.9 246.3h1M404.7 219.7h1M414.3 225.9h1M417.3 218.5h1M407.0 228.7h1M409.7 252.3h1M416.6 255.6h1M415.3 266.8h1M410.4 269.9h1M420.4 245.4h1M413.8 264.6h1M410.2 233.4h1M413.8 232.4h1M412.7 224.0h1M414.4 269.4h1M417.6 262.8h1M418.8 249.4h1M410.7 247.3h1M410.4 224.8h1M411.2 221.9h1M421.2 238.8h1M416.6 260.6h1M408.2 261.7h1M411.4 237.9h1M411.1 239.4h1M417.1 257.1h1M417.0 259.6h1M410.4 225.2h1M410.4 257.8h1M413.8 264.9h1M416.4 225.4h1M414.9 220.3h1M406.7 226.2h1M412.9 266.7h1M416.1 237.9h1M414.5 258.8h1M414.8 266.0h1M410.4 252.2h1M411.6 243.9h1M414.0 221.1h1M405.9 264.1h1M412.9 269.8h1M416.3 230.1h1M415.3 241.0h1M412.5 269.3h1M412.8 249.6h1M415.5 259.9h1M412.8 234.9h1M410.6 271.6h1M415.0 253.5h1M407.4 252.7h1M409.3 237.3h1M423.6 236.9h1M415.4 219.6h1M418.5 222.9h1M416.6 229.3h1M417.4 235.0h1M414.2 219.7h1M417.5 234.3h1M414.0 232.3h1M411.7 269.4h1M415.7 220.2h1M414.3 224.2h1M416.7 252.1h1M421.2 216.8h1M422.7 218.7h1M407.5 214.7h1M415.1 235.6h1M418.4 260.6h1M412.2 265.6h1M410.8 247.6h1M411.3 237.4h1M410.9 241.6h1M410.8 254.1h1M419.8 248.3h1M410.8 232.1h1M413.8 260.8h1M407.3 223.1h1M417.5 271.4h1M407.8 228.3h1M407.2 237.5h1M411.1 251.1h1M413.9 259.9h1M421.8 233.6h1M409.5 255.9h1M420.9 243.1h1M412.5 270.6h1M404.9 257.3h1M414.3 220.5h1M411.5 249.0h1M409.3 258.2h1M425.3 237.6h1M412.0 257.0h1M405.4 243.4h1M413.1 225.3h1M415.5 271.1h1M416.3 255.5h1M412.7 257.1h1M411.6 243.6h1M412.6 260.0h1M407.3 235.2h1M416.2 216.4h1M415.2 234.3h1M417.8 257.1h1M408.2 232.6h1M418.7 257.5h1M419.0 239.1h1M416.5 255.8h1M412.1 220.6h1M414.9 270.1h1M412.0 237.2h1M417.6 246.6h1M413.3 223.0h1M410.2 244.9h1M412.5 237.5h1M409.9 249.4h1M416.3 248.8h1M412.3 233.1h1M408.0 217.3h1M424.0 244.1h1M413.8 215.6h1M417.7 256.0h1M411.6 256.2h1M416.0 233.0h1M411.3 246.3h1M415.3 262.6h1M414.6 258.5h1M425.8 232.3h1M408.0 265.0h1M413.9 232.0h1M421.6 236.0h1M404.0 234.5h1M416.8 250.1h1M413.8 243.0h1M414.4 268.1h1M411.2 250.2h1M412.5 268.6h1M401.3 216.5h1M410.8 227.5h1M412.5 250.9h1M410.7 251.7h1M419.8 246.5h1M414.2 219.3h1M419.7 234.8h1M415.0 248.0h1M409.8 252.2h1M413.1 265.0h1M412.5 227.7h1M412.4 265.1h1M415.4 269.6h1M416.1 247.3h1M411.8 229.6h1M414.6 266.8h1M409.0 232.8h1M411.0 232.3h1M416.9 263.7h1M420.2 223.7h1M418.2 234.8h1M416.7 270.2h1M413.9 220.5h1M412.3 236.6h1M415.0 235.9h1M416.9 256.1h1M418.2 255.8h1M413.8 232.0h1M413.4 241.5h1M420.5 225.9h1M416.6 232.6h1M414.2 259.8h1M410.0 234.4h1M412.9 231.0h1M414.2 239.2h1M414.3 254.9h1M413.8 243.2h1M419.8 226.8h1M414.5 222.9h1M413.1 268.7h1M412.2 241.2h1M416.0 219.0h1M415.5 251.7h1M414.7 269.6h1M415.0 262.9h1M411.0 234.4h1M418.9 244.2h1M407.6 228.9h1M406.6 254.9h1M418.5 214.5h1M415.6 258.6h1M409.9 238.1h1M411.2 234.1h1M418.1 237.7h1M418.7 231.0h1M411.4 251.1h1M411.8 262.6h1M416.2 237.1h1M419.0 245.2h1M424.6 233.9h1M414.2 223.3h1M416.2 221.1h1M410.8 256.9h1M412.9 260.4h1M397.2 216.5h1M408.5 262.9h1M417.0 259.1h1M415.2 235.5h1M411.8 265.5h1M420.3 222.0h1M413.2 269.7h1M410.0 214.6h1M409.2 230.0h1M413.1 270.5h1M419.4 249.4h1M411.2 236.8h1M421.4 247.4h1M416.2 245.8h1M415.8 270.1h1M413.7 226.5h1M410.8 268.4h1M417.4 247.5h1M410.8 264.4h1M420.5 221.5h1M417.3 245.4h1M412.9 224.5h1M408.0 215.8h1M410.4 242.2h1M417.6 218.7h1M407.8 215.6h1M401.7 246.0h1M409.8 262.7h1M419.1 229.5h1M416.3 216.0h1M408.3 226.7h1M412.2 256.0h1M412.3 253.6h1M419.0 266.9h1M410.8 267.1h1M408.3 230.9h1M413.4 250.3h1M415.8 226.1h1M412.0 259.0h1M415.6 263.8h1M413.6 248.3h1M412.2 269.7h1M412.4 227.9h1M412.9 223.0h1M415.9 223.0h1M420.6 226.9h1M412.3 233.4h1M418.5 220.9h1M418.4 224.8h1M412.3 266.6h1M405.8 252.1h1M413.8 246.2h1M414.4 255.7h1M418.4 249.5h1M406.7 255.8h1M417.5 218.8h1M412.8 250.5h1M415.9 221.7h1M419.1 238.3h1M415.2 237.3h1M416.7 234.2h1M414.9 244.9h1M409.7 254.5h1M415.5 216.7h1M412.3 255.5h1M415.0 246.6h1M402.9 223.7h1M417.7 227.9h1M414.5 247.3h1M413.1 256.0h1M412.2 251.2h1M419.0 230.0h1M415.3 234.7h1M416.3 250.0h1M414.8 260.8h1M412.3 263.5h1M414.5 258.8h1M417.0 247.1h1M411.8 248.8h1M414.5 271.3h1M414.1 251.6h1M418.1 252.8h1M413.6 234.8h1M413.3 262.6h1M409.9 232.0h1M410.9 238.8h1M414.5 265.9h1M420.0 229.4h1M408.5 257.8h1M410.9 230.2h1M415.6 218.4h1M414.5 271.5h1M410.9 253.5h1M408.3 227.9h1M412.4 224.3h1M414.9 264.9h1M416.1 234.0h1M412.1 257.9h1M414.9 254.5h1M412.5 253.1h1M412.6 254.7h1M415.9 261.1h1M413.5 258.9h1M415.2 266.0h1M416.6 227.6h1M411.1 222.3h1M409.7 216.4h1M414.3 252.3h1M413.4 266.6h1M421.1 235.5h1M414.5 266.3h1M413.9 260.7h1M407.0 220.1h1M412.0 242.3h1M416.3 242.2h1M407.6 243.0h1M409.4 255.6h1M416.4 236.1h1M415.4 248.1h1M410.4 223.6h1M413.5 269.7h1M412.0 255.6h1M413.1 241.0h1M417.2 249.3h1M417.7 232.9h1M418.4 268.0h1M416.7 268.3h1M414.5 268.4h1M413.1 260.9h1M416.7 258.7h1M415.9 220.7h1M415.5 227.9h1M417.8 232.2h1M413.8 259.2h1M410.2 221.2h1M417.0 225.0h1M412.5 249.5h1M410.6 236.5h1M414.9 268.5h1M409.1 235.6h1M410.8 267.6h1M421.9 244.0h1M417.9 231.8h1M412.5 239.6h1M415.2 235.2h1M414.1 215.0h1M411.8 262.2h1M412.1 266.4h1M407.7 233.8h1M416.6 222.3h1M416.8 265.0h1M420.7 237.6h1M414.4 251.1h1M416.4 271.6h1M415.0 225.8h1M419.0 239.4h1M419.3 249.8h1M411.9 231.8h1M414.5 255.1h1M413.2 242.3h1M412.0 259.8h1M414.2 262.5h1M419.2 240.9h1M416.8 268.1h1M411.4 229.2h1M413.8 266.5h1M426.2 219.2h1M411.0 225.0h1M413.6 240.5h1M423.2 240.1h1M413.3 264.6h1M416.6 253.3h1M413.8 245.0h1M415.1 266.5h1M403.2 218.7h1M408.6 251.6h1M420.4 235.1h1M415.7 261.5h1M413.5 232.6h1M415.8 268.2h1M417.0 263.3h1M417.0 215.4h1M409.0 247.3h1M409.2 239.3h1M416.9 259.9h1M413.7 250.1h1M417.6 257.1h1M410.4 248.8h1M414.9 270.6h1M402.4 217.2h1M416.4 248.8h1M414.8 260.6h1M416.2 268.1h1M403.7 230.1h1M407.2 229.9h1M410.9 243.4h1M414.9 262.4h1M421.8 237.0h1M419.5 237.3h1M406.8 231.6h1M411.2 228.3h1M422.7 220.8h1M416.0 256.8h1M405.7 219.7h1M417.2 232.1h1M415.9 254.2h1M415.2 271.8h1M414.1 244.8h1M415.8 239.4h1M416.1 265.9h1M415.8 233.1h1M417.8 250.4h1M415.7 266.1h1M417.8 232.0h1M412.9 262.7h1M418.9 216.7h1M417.6 248.7h1M411.6 242.0h1M409.3 230.2h1M416.5 232.8h1M418.5 218.8h1M410.9 245.7h1M415.2 253.3h1M417.7 270.8h1M406.8 251.1h1M416.8 218.2h1M415.0 244.6h1M413.9 266.7h1M413.7 254.1h1M416.1 238.0h1M413.4 223.0h1M411.1 217.3h1M417.7 236.8h1M419.2 260.9h1M413.3 227.2h1M415.9 260.7h1M416.9 263.1h1M410.0 250.5h1M411.8 215.3h1M410.0 231.8h1M413.3 268.3h1M415.9 268.4h1M411.6 257.3h1M417.2 262.9h1M420.3 257.0h1M410.6 241.3h1M415.6 214.6h1M415.8 263.3h1M407.1 220.2h1M402.7 225.5h1M414.0 243.1h1M411.9 269.8h1M414.1 237.5h1M410.7 245.1h1M412.5 266.0h1M411.3 246.3h1M414.7 217.7h1M417.3 247.7h1M414.1 258.3h1M416.4 230.7h1M407.4 227.5h1M416.7 271.0h1M420.8 222.3h1M423.4 225.2h1M413.7 256.5h1M411.5 257.0h1M415.1 262.0h1M408.4 235.0h1M413.6 250.4h1M412.7 227.0h1M412.8 227.6h1M408.9 257.1h1M415.3 270.1h1M410.3 264.8h1M414.0 250.5h1M412.9 243.0h1M403.9 233.2h1M418.3 216.5h1M413.6 252.0h1M425.1 219.0h1M422.2 237.8h1M408.2 215.6h1M403.9 238.4h1M413.6 242.3h1M418.5 230.1h1M412.7 229.3h1M424.5 222.5h1M414.3 233.8h1M410.4 240.3h1M412.1 218.6h1M414.7 228.8h1M417.6 250.5h1M412.1 262.9h1M413.7 265.9h1M417.5 228.2h1M412.9 270.3h1M413.9 259.8h1M419.0 224.6h1M415.8 243.4h1M417.7 232.0h1M410.8 231.6h1M405.3 224.3h1M411.8 270.2h1M411.9 243.8h1M415.2 256.0h1M411.1 222.6h1M410.9 253.0h1M411.4 234.7h1M415.2 232.0h1M412.6 267.4h1M418.2 244.4h1M415.4 256.2h1M415.6 219.8h1M412.0 264.2h1M424.0 222.7h1M414.7 257.1h1M416.1 262.8h1M415.6 249.4h1M411.9 242.9h1M412.6 263.2h1M412.1 243.3h1M417.2 242.6h1M415.3 250.9h1M409.5 264.3h1M416.3 240.0h1M403.6 219.5h1M411.8 259.4h1M418.1 251.6h1M413.7 246.5h1M412.7 254.4h1M398.1 225.9h1M415.8 253.6h1M411.8 220.1h1M413.1 242.2h1M410.2 263.9h1M410.8 261.7h1M413.3 266.6h1M416.2 247.9h1M417.7 221.7h1M407.4 227.3h1M409.9 249.3h1M414.0 220.4h1M413.3 228.1h1M407.7 215.0h1M412.7 225.3h1M410.8 264.3h1M405.2 233.9h1M415.2 266.8h1M415.8 226.9h1M410.9 271.1h1M413.5 216.7h1M414.0 249.5h1M419.7 245.9h1M421.9 216.7h1M412.1 247.2h1M417.5 250.0h1M411.1 254.6h1M411.0 264.7h1M422.2 246.4h1M409.5 243.8h1M419.8 237.7h1M411.1 241.1h1M424.7 223.9h1M405.1 244.0h1M413.7 233.5h1M414.7 262.8h1M411.7 267.8h1M407.0 223.8h1M407.0 217.4h1M425.9 226.4h1M408.2 261.1h1M410.0 259.3h1M410.8 217.5h1M409.8 263.0h1M418.2 217.0h1M410.5 258.3h1M410.4 225.6h1M412.9 250.1h1M409.1 237.3h1M414.7 244.1h1M408.3 253.1h1M412.8 254.4h1M418.4 218.4h1M416.6 254.9h1M408.3 249.9h1M402.9 217.9h1M423.4 235.5h1M416.2 256.7h1M401.9 227.6h1M418.6 227.0h1M414.4 250.0h1M415.2 248.5h1M417.8 260.4h1M412.7 247.7h1M415.8 247.8h1M411.5 249.6h1M420.9 236.5h1M414.7 270.6h1M420.8 225.2h1M415.4 241.5h1M404.7 218.6h1M413.3 268.6h1M413.2 263.5h1M414.4 253.8h1M408.9 234.1h1M410.6 241.7h1M411.7 261.5h1M408.4 247.1h1M414.8 214.5h1M410.0 241.5h1M416.4 267.4h1M411.8 261.3h1M407.6 257.1h1M413.8 224.9h1M416.4 263.3h1M416.6 261.6h1M410.7 255.3h1M410.3 219.6h1M411.6 238.6h1M415.1 246.3h1M410.9 241.4h1M408.2 271.8h1M415.8 265.6h1M415.6 244.4h1M410.3 263.4h1M412.0 228.3h1M410.3 229.0h1M409.7 252.8h1M414.0 227.8h1M410.6 267.2h1M412.7 256.7h1M417.0 221.2h1M417.2 237.4h1M417.9 264.6h1M413.7 251.8h1M415.8 236.4h1M415.3 250.9h1M409.3 222.8h1M407.7 232.1h1M405.0 242.3h1M413.5 246.7h1M419.4 245.8h1M415.0 266.0h1M426.3 226.5h1M415.3 221.4h1M428.9 222.9h1M423.3 231.7h1M418.0 219.0h1M425.6 215.0h1M411.0 233.2h1M410.4 263.9h1M416.2 225.7h1M422.1 229.3h1M418.1 216.3h1M415.0 269.7h1M413.7 261.0h1M411.5 253.6h1M417.3 226.6h1M416.9 241.8h1M411.6 245.0h1M421.5 223.0h1M420.9 244.8h1M408.7 265.9h1M415.2 245.1h1M404.7 218.6h1M412.0 250.9h1M413.7 268.3h1M417.5 226.7h1M414.7 269.2h1M416.8 240.9h1M414.2 263.7h1M411.5 262.5h1M415.5 230.7h1M411.6 230.8h1M415.5 256.8h1M413.3 264.5h1M413.8 251.4h1M405.8 240.7h1M415.2 234.6h1M412.1 262.8h1M414.8 226.8h1M411.3 229.7h1M417.0 271.5h1M421.3 224.5h1M426.3 223.4h1M410.3 228.9h1M415.5 247.8h1M413.1 264.4h1M409.8 234.2h1M416.3 235.7h1M411.3 258.7h1M423.1 244.8h1M413.1 256.1h1M417.8 224.2h1M411.3 230.6h1M412.6 223.8h1M412.4 262.1h1M421.6 225.9h1M416.7 260.0h1M416.9 214.7h1M411.0 240.1h1M413.7 271.6h1M415.8 251.8h1M409.3 236.0h1M415.0 253.6h1M404.7 235.5h1M409.6 216.1h1M411.6 250.4h1M411.8 222.5h1M421.1 244.3h1M409.7 262.4h1M414.3 243.3h1M411.9 255.4h1M409.8 252.7h1M410.7 245.5h1M404.7 223.1h1M414.7 246.8h1M415.5 230.7h1M405.2 214.6h1M414.5 234.7h1M413.3 247.5h1M399.9 236.2h1M412.8 258.1h1M410.4 245.6h1M410.5 260.1h1M409.3 254.4h1M399.1 219.0h1M406.7 225.8h1M399.8 226.3h1M415.3 256.5h1M407.5 229.2h1M417.2 234.7h1M411.7 246.7h1M413.9 259.9h1M409.0 219.3h1M410.7 231.2h1M413.6 267.4h1M411.6 245.6h1M415.9 233.0h1M407.2 237.2h1M411.8 270.8h1M408.9 257.9h1M421.1 233.8h1M423.0 218.4h1M413.3 243.9h1M415.1 233.7h1M412.3 262.3h1M411.6 221.9h1M422.6 239.2h1M414.6 247.3h1M413.3 255.8h1M410.7 219.2h1M415.8 220.9h1M416.3 234.9h1M411.2 248.9h1M412.6 251.9h1M416.2 244.5h1M410.0 216.2h1M414.2 253.4h1M413.6 266.0h1M412.3 233.7h1M410.7 231.4h1M414.9 247.1h1M410.2 223.4h1M409.5 253.8h1M408.9 231.1h1M413.0 255.0h1M408.4 221.1h1M418.5 230.8h1M408.9 258.0h1M410.9 258.4h1M417.7 242.2h1M411.2 258.1h1M410.3 219.3h1M408.4 255.1h1M413.3 268.3h1M403.5 232.1h1M416.1 251.4h1M410.6 233.6h1M416.3 228.0h1M410.8 239.2h1M408.5 251.9h1M408.8 225.0h1M418.2 251.3h1M414.2 237.5h1M411.9 222.3h1M420.8 219.0h1M409.4 266.3h1M411.9 251.4h1M418.3 229.9h1M409.1 241.3h1M415.0 238.5h1M411.3 236.3h1M421.5 223.7h1M416.6 227.2h1M414.2 247.1h1M412.5 255.6h1M409.7 227.5h1M405.0 224.3h1M410.6 260.4h1M406.2 252.6h1M412.7 260.6h1M415.1 227.6h1M421.9 245.1h1M415.2 231.0h1M417.8 259.9h1M411.2 269.3h1M409.9 235.9h1M414.9 243.3h1M410.1 241.2h1M416.1 254.9h1M416.1 256.6h1M413.1 267.3h1M410.4 222.4h1M411.6 221.3h1M409.4 240.1h1M420.3 243.5h1M413.4 229.2h1M419.9 243.6h1M409.0 240.7h1M417.5 268.8h1M412.1 259.2h1M413.0 251.6h1M415.2 258.7h1M420.0 222.7h1M419.7 243.6h1M413.9 244.9h1M406.8 217.0h1M422.4 225.7h1M412.5 224.2h1M405.6 215.5h1M408.7 250.8h1M411.3 235.4h1M408.1 265.9h1M411.8 232.4h1M411.7 256.2h1M417.4 261.5h1M417.2 236.1h1M412.1 221.2h1M408.8 270.5h1M408.8 247.9h1M411.7 251.6h1M415.9 246.0h1M402.6 222.2h1M412.0 249.5h1M408.5 255.8h1M420.4 232.9h1M412.4 267.2h1M410.5 260.0h1M413.7 254.4h1M408.6 224.3h1M412.2 267.8h1M413.5 261.4h1M409.5 223.1h1M412.1 269.0h1M416.6 270.5h1M413.4 263.5h1M409.3 223.2h1M421.0 235.5h1M415.7 235.7h1M420.2 233.7h1M410.6 240.7h1M412.9 256.3h1M415.1 250.9h1M415.2 263.1h1M411.3 234.0h1M419.4 258.3h1M407.9 235.9h1M415.3 254.7h1M412.6 254.5h1M412.4 246.4h1M413.0 260.4h1M418.3 268.8h1M409.3 223.6h1M406.8 251.7h1M415.7 270.0h1M414.1 268.9h1M415.9 226.4h1M417.5 225.0h1M418.4 263.2h1M410.8 253.7h1M411.7 235.3h1M416.9 240.6h1M412.2 240.0h1M414.6 223.4h1M408.3 246.8h1M411.0 245.1h1M416.1 253.3h1M415.7 222.2h1M397.4 218.2h1M419.9 262.0h1M419.0 238.9h1M420.1 244.2h1M420.2 245.2h1M408.8 233.3h1M413.7 222.8h1M409.0 237.1h1M416.3 230.3h1M412.0 234.0h1M416.0 233.0h1M411.5 250.1h1M414.3 214.6h1M409.1 234.9h1M412.0 263.0h1M411.8 268.6h1M411.9 227.2h1M414.5 268.1h1M417.4 251.7h1M411.7 269.8h1M418.2 222.3h1M411.4 265.3h1M416.8 266.5h1M413.3 257.8h1M411.2 263.5h1M413.1 264.0h1M416.1 254.6h1M413.5 253.6h1M416.6 216.9h1M413.2 226.8h1M427.7 218.5h1M417.6 246.2h1M415.2 220.8h1M415.3 242.2h1M428.9 214.6h1M415.4 230.6h1M414.0 266.6h1M409.6 246.6h1M419.7 219.8h1M410.3 231.5h1M412.5 229.2h1M424.4 237.5h1M408.3 222.7h1M415.8 267.2h1M411.4 241.5h1M404.1 220.7h1M412.2 271.3h1M410.0 230.9h1M413.1 264.3h1M412.4 259.8h1M410.5 219.3h1M412.0 228.0h1M419.1 231.6h1M415.9 256.8h1M408.6 225.0h1M413.5 263.6h1M410.7 225.7h1M416.5 261.3h1M410.0 266.3h1M414.9 261.6h1M417.2 229.9h1M412.3 258.0h1M410.1 215.5h1M415.5 221.0h1M410.0 266.8h1M408.7 218.9h1M410.7 271.5h1M416.0 221.0h1M408.8 241.4h1M411.9 245.5h1M401.4 227.7h1M410.2 233.5h1M415.3 271.7h1M415.0 244.0h1M421.6 220.2h1M400.1 238.7h1M403.8 253.4h1M423.0 228.9h1M414.2 271.1h1M409.0 256.3h1M416.6 249.4h1M415.5 242.7h1M415.1 243.2h1M414.7 264.5h1M417.7 237.0h1M417.6 215.5h1M415.1 225.8h1M416.4 226.3h1M414.8 237.4h1M413.9 237.7h1M413.6 251.9h1M411.6 219.4h1M413.9 269.0h1M417.1 233.0h1M412.7 221.9h1M412.8 228.7h1M424.3 219.5h1M419.9 252.2h1M413.8 262.9h1M409.8 235.3h1M420.5 237.0h1M404.4 225.4h1M422.4 226.2h1M421.1 224.3h1M410.2 216.7h1M412.7 228.5h1M408.8 241.6h1M414.0 259.9h1M410.5 262.4h1M406.3 234.6h1M414.4 226.9h1M411.7 261.0h1M412.7 232.4h1M412.3 252.3h1M409.6 236.2h1M414.1 249.4h1M410.3 254.8h1M415.6 235.0h1M411.4 252.2h1M418.8 240.6h1M411.8 255.0h1M415.6 253.3h1M418.9 218.0h1M413.0 258.1h1M410.3 265.1h1M417.1 232.0h1M415.1 238.0h1M405.5 234.2h1M410.6 223.6h1M412.7 245.2h1M409.7 226.7h1M414.4 228.0h1M415.5 246.4h1M413.8 232.8h1M414.2 232.4h1M417.4 257.7h1M417.8 220.6h1M414.6 253.8h1M411.8 260.7h1M405.5 216.1h1M412.2 271.3h1M415.4 267.4h1M413.7 252.9h1M415.7 254.5h1M404.5 220.9h1M401.4 220.5h1M413.7 256.5h1M399.0 228.8h1M411.2 224.7h1M408.0 256.4h1M413.5 232.0h1M415.1 240.0h1"/>
<path stroke="#16bcec" stroke-opacity="0.6" stroke-width="0.9" fill="none" d="M429.5 225.9h0.9M419.3 260.0h0.9M414.7 262.6h0.9M417.1 214.6h0.9M427.9 216.7h0.9M426.2 221.1h0.9M416.7 247.4h0.9M423.2 222.3h0.9M415.2 245.8h0.9M425.1 255.7h0.9M429.3 242.8h0.9M414.6 248.8h0.9M417.9 226.5h0.9M422.4 225.0h0.9M418.0 231.8h0.9M421.1 236.6h0.9M421.4 251.6h0.9M423.4 221.1h0.9M415.9 239.9h0.9M430.2 245.9h0.9M420.3 231.0h0.9M417.3 266.2h0.9M416.2 261.5h0.9M428.3 225.5h0.9M417.1 241.8h0.9M421.1 249.4h0.9M418.0 227.9h0.9M416.6 249.2h0.9M439.8 220.9h0.9M421.8 240.0h0.9M422.7 263.2h0.9M413.7 262.7h0.9M422.7 237.5h0.9M415.9 230.8h0.9M422.0 251.6h0.9M421.4 257.9h0.9M417.9 240.3h0.9M428.5 219.9h0.9M414.2 234.5h0.9M420.9 257.1h0.9M419.2 270.4h0.9M415.5 258.4h0.9M416.8 232.9h0.9M415.5 254.8h0.9M418.0 262.8h0.9M418.1 234.8h0.9M427.8 232.1h0.9M414.5 253.4h0.9M424.7 231.3h0.9M420.5 267.4h0.9M415.4 254.4h0.9M426.3 226.9h0.9M414.9 226.7h0.9M427.5 229.0h0.9M415.3 258.8h0.9M426.9 215.2h0.9M413.6 235.5h0.9M428.5 247.7h0.9M419.1 257.3h0.9M428.3 233.2h0.9M429.7 244.9h0.9M415.0 265.2h0.9M427.2 218.7h0.9M420.8 215.6h0.9M416.7 245.7h0.9M417.4 245.0h0.9M414.9 271.1h0.9M424.5 253.5h0.9M418.4 256.5h0.9M419.2 237.9h0.9M430.2 249.0h0.9M421.4 247.1h0.9M420.5 257.1h0.9M414.2 250.9h0.9M433.3 226.2h0.9M423.9 227.0h0.9M416.8 253.4h0.9M417.5 223.2h0.9M416.6 247.9h0.9M415.0 262.5h0.9M427.3 219.5h0.9M415.1 265.8h0.9M427.8 226.2h0.9M414.6 223.7h0.9M429.2 217.0h0.9M415.3 267.1h0.9M416.1 230.1h0.9M416.3 235.2h0.9M415.9 242.3h0.9M415.2 232.9h0.9M413.9 251.1h0.9M413.5 271.0h0.9M424.9 240.8h0.9M417.6 226.8h0.9M421.2 244.5h0.9M416.6 225.4h0.9M414.5 235.5h0.9M438.8 240.3h0.9M418.0 216.8h0.9M425.6 259.5h0.9M420.2 244.9h0.9M418.7 259.7h0.9M427.9 238.2h0.9M417.7 271.2h0.9M422.5 240.8h0.9M414.7 241.6h0.9M415.7 217.9h0.9M416.8 245.3h0.9M413.8 238.5h0.9M420.6 239.8h0.9M424.4 229.0h0.9M426.4 224.5h0.9M418.3 235.0h0.9M427.3 228.2h0.9M436.8 238.6h0.9M420.9 223.3h0.9M416.5 266.0h0.9M419.3 224.0h0.9M417.6 248.0h0.9M423.0 253.0h0.9M422.8 224.1h0.9M416.1 223.4h0.9M416.0 267.2h0.9M416.3 243.5h0.9M414.9 217.3h0.9M414.8 224.2h0.9M416.7 267.0h0.9M419.9 227.1h0.9M423.3 242.7h0.9M420.4 266.8h0.9M417.2 224.2h0.9M424.2 218.7h0.9M416.1 252.5h0.9M417.8 243.6h0.9M414.6 258.7h0.9M428.4 215.4h0.9M415.5 235.7h0.9M421.1 261.1h0.9M420.2 250.8h0.9M422.0 270.4h0.9M414.9 269.6h0.9M421.2 266.9h0.9M414.9 251.2h0.9M438.2 219.5h0.9M416.8 226.8h0.9M415.5 263.2h0.9M416.0 245.3h0.9M416.1 258.3h0.9M432.0 243.7h0.9M420.9 239.7h0.9M417.0 244.2h0.9M418.2 233.0h0.9M414.1 254.9h0.9M424.6 219.6h0.9M415.7 258.5h0.9M422.8 250.2h0.9M419.9 253.4h0.9M415.9 270.0h0.9M415.2 256.6h0.9M435.8 215.6h0.9M416.2 250.7h0.9M419.2 236.2h0.9M413.6 262.6h0.9M431.4 249.3h0.9M417.6 256.3h0.9M419.1 258.4h0.9M424.5 227.1h0.9M418.9 240.9h0.9M420.5 269.6h0.9M413.6 254.2h0.9M417.1 254.0h0.9M423.3 215.0h0.9M432.1 226.6h0.9M414.9 238.1h0.9M416.8 270.4h0.9M417.9 216.8h0.9M428.4 244.5h0.9M423.7 237.1h0.9M431.4 237.4h0.9M428.1 238.8h0.9M413.5 232.5h0.9M422.1 248.8h0.9M419.5 250.8h0.9M429.7 221.1h0.9M434.3 218.7h0.9M427.4 227.0h0.9M418.4 247.9h0.9M415.5 258.0h0.9M423.2 243.3h0.9M422.5 223.9h0.9M421.5 237.6h0.9M427.8 215.2h0.9M426.3 223.5h0.9M417.9 254.5h0.9M414.8 251.7h0.9M420.1 257.2h0.9M421.9 256.9h0.9M424.2 231.2h0.9M429.7 227.1h0.9M420.3 231.9h0.9M416.9 226.5h0.9M419.0 258.7h0.9M414.7 221.1h0.9M424.9 234.8h0.9M415.8 215.0h0.9M417.1 229.2h0.9M416.3 216.2h0.9M415.1 250.7h0.9M420.0 255.4h0.9M413.6 258.7h0.9M413.8 271.6h0.9M419.6 271.0h0.9M419.2 271.0h0.9M415.9 241.0h0.9M415.7 231.9h0.9M424.7 224.3h0.9M419.7 244.5h0.9M430.6 243.3h0.9M420.6 271.2h0.9M424.1 254.9h0.9M419.0 231.9h0.9M416.0 265.7h0.9M417.9 243.7h0.9M426.6 218.7h0.9M414.6 258.0h0.9M414.9 265.8h0.9M428.1 238.2h0.9M435.8 235.9h0.9M417.0 240.2h0.9M427.9 215.2h0.9M422.5 254.6h0.9M421.1 251.2h0.9M420.7 246.8h0.9M414.0 259.3h0.9M416.2 228.0h0.9M416.0 252.3h0.9M418.1 227.3h0.9M414.9 234.6h0.9M422.5 232.6h0.9M417.2 265.0h0.9M421.2 230.4h0.9M418.6 267.4h0.9M439.8 217.7h0.9M413.8 249.8h0.9M413.6 262.5h0.9M419.0 215.7h0.9M415.3 258.2h0.9M432.4 224.5h0.9M428.1 245.4h0.9M419.5 222.6h0.9M414.9 232.5h0.9M433.9 229.9h0.9M423.8 242.0h0.9M413.7 263.1h0.9M422.1 222.1h0.9M419.1 243.6h0.9M421.1 246.8h0.9M431.6 221.3h0.9M418.8 249.1h0.9M420.9 264.5h0.9M423.2 245.5h0.9M420.0 218.5h0.9M426.3 246.6h0.9M417.8 240.2h0.9M413.7 255.2h0.9M414.3 254.1h0.9M427.2 237.0h0.9M413.7 269.2h0.9M431.5 232.3h0.9M414.3 257.6h0.9M424.8 243.5h0.9M437.2 247.8h0.9M415.7 225.0h0.9M435.2 241.5h0.9M426.1 232.4h0.9M415.2 248.4h0.9M423.7 251.0h0.9M418.5 231.6h0.9M422.4 258.3h0.9M416.9 220.5h0.9M420.6 266.3h0.9M423.7 246.5h0.9M419.2 249.4h0.9M414.7 248.4h0.9M420.1 271.3h0.9M434.1 224.4h0.9M421.9 247.5h0.9M413.8 270.1h0.9M415.2 271.0h0.9M425.5 238.7h0.9M422.5 257.4h0.9M414.3 264.9h0.9M417.9 261.5h0.9M419.9 258.4h0.9M428.8 237.9h0.9M418.9 225.8h0.9M416.6 239.4h0.9M414.7 266.1h0.9M416.4 256.4h0.9M415.4 268.0h0.9M417.0 247.4h0.9M416.3 264.6h0.9M414.3 253.3h0.9M422.8 252.1h0.9M420.1 257.5h0.9M422.0 229.1h0.9M419.3 260.2h0.9M414.6 258.7h0.9M415.8 261.5h0.9M419.2 229.6h0.9M421.6 221.4h0.9M425.6 251.9h0.9M423.1 254.5h0.9M429.8 227.4h0.9M416.0 271.2h0.9M423.1 222.5h0.9M415.5 236.5h0.9M421.8 235.8h0.9M419.8 223.2h0.9M416.8 240.0h0.9M415.0 260.8h0.9M417.1 262.4h0.9M419.1 222.6h0.9M418.4 270.1h0.9M415.4 268.9h0.9M433.4 230.9h0.9M419.7 235.0h0.9M416.2 267.4h0.9M427.2 264.2h0.9M417.3 255.7h0.9M425.0 222.6h0.9M420.4 261.9h0.9M415.0 259.2h0.9M423.7 218.9h0.9M423.3 241.2h0.9M414.7 248.8h0.9M413.9 237.1h0.9M415.5 261.0h0.9M415.6 226.6h0.9M424.3 224.4h0.9M416.6 240.6h0.9M420.2 266.8h0.9M425.1 259.7h0.9M415.8 247.0h0.9M416.9 247.1h0.9M415.1 266.0h0.9M420.7 265.1h0.9M418.4 260.4h0.9M418.9 264.9h0.9M416.9 232.0h0.9M420.6 246.1h0.9M417.5 243.2h0.9M416.3 259.3h0.9M429.9 234.1h0.9M414.3 260.9h0.9M415.2 234.6h0.9M422.8 234.9h0.9M429.7 227.7h0.9M421.6 256.1h0.9M413.7 222.1h0.9M432.0 235.1h0.9M420.0 254.7h0.9M413.9 237.8h0.9M419.4 249.0h0.9M417.3 259.9h0.9M416.6 245.7h0.9M413.9 246.6h0.9M419.4 239.9h0.9M415.8 261.5h0.9M429.6 240.1h0.9M421.9 250.2h0.9M418.9 228.7h0.9M446.9 221.0h0.9M422.0 259.5h0.9M424.1 232.9h0.9M416.3 254.2h0.9M428.8 235.0h0.9M429.3 260.8h0.9M421.1 264.7h0.9M421.7 241.2h0.9M413.8 259.7h0.9M420.2 257.5h0.9M421.4 268.7h0.9M416.5 256.0h0.9M425.9 240.6h0.9M416.7 218.4h0.9M418.3 220.1h0.9M418.1 264.8h0.9M422.4 237.0h0.9M424.6 245.5h0.9M428.8 215.7h0.9M416.6 225.4h0.9M413.5 270.4h0.9M414.4 268.5h0.9M438.8 222.4h0.9M416.6 261.7h0.9M430.7 239.6h0.9M413.8 230.7h0.9M421.2 217.3h0.9M415.6 236.0h0.9M421.6 255.3h0.9M419.1 242.0h0.9M437.9 229.8h0.9M421.0 239.3h0.9M425.7 222.3h0.9M426.3 256.1h0.9M416.3 225.9h0.9M422.8 233.8h0.9M424.8 247.7h0.9M419.2 240.3h0.9M425.9 265.4h0.9M418.3 239.5h0.9M414.9 230.4h0.9M418.5 243.6h0.9M424.8 220.1h0.9M425.8 219.6h0.9M418.2 252.6h0.9M416.1 264.8h0.9M451.2 221.3h0.9M416.8 253.6h0.9M415.2 231.0h0.9M417.9 252.3h0.9M415.9 232.4h0.9M414.4 266.5h0.9M426.2 240.3h0.9M430.3 214.9h0.9M415.3 247.8h0.9M416.6 243.8h0.9M428.8 236.2h0.9M426.4 216.5h0.9M414.0 264.2h0.9M419.2 260.6h0.9M416.2 231.4h0.9M420.1 257.5h0.9M432.7 228.5h0.9M414.1 254.1h0.9M415.9 266.9h0.9M427.0 217.9h0.9M434.7 245.9h0.9M423.3 229.5h0.9M413.5 258.3h0.9M415.1 250.0h0.9M425.3 260.9h0.9M414.3 230.9h0.9M418.6 221.5h0.9M421.1 246.4h0.9"/>
<path stroke="#16bcec" stroke-opacity="0.5" stroke-width="0.9" fill="none" d="M408.6 225.9h0.9M410.5 260.0h0.9M409.0 262.6h0.9M412.6 214.6h0.9M410.9 216.7h0.9M412.2 221.1h0.9M411.3 247.4h0.9M410.6 222.3h0.9M412.1 245.8h0.9M411.1 255.7h0.9M393.9 242.8h0.9M409.8 248.8h0.9M408.0 226.5h0.9M412.0 225.0h0.9M409.1 231.8h0.9M410.6 236.6h0.9M410.3 251.6h0.9M403.4 221.1h0.9M400.2 239.9h0.9M408.5 245.9h0.9M413.2 231.0h0.9M413.1 266.2h0.9M408.8 261.5h0.9M400.0 225.5h0.9M412.9 241.8h0.9M412.9 249.4h0.9M408.5 227.9h0.9M413.2 249.2h0.9M402.6 220.9h0.9M409.2 240.0h0.9M413.4 263.2h0.9M411.1 262.7h0.9M407.7 237.5h0.9M408.2 230.8h0.9M408.7 251.6h0.9M411.9 257.9h0.9M412.1 240.3h0.9M405.0 219.9h0.9M413.3 234.5h0.9M411.2 257.1h0.9M409.7 270.4h0.9M411.4 258.4h0.9M411.5 232.9h0.9M408.2 254.8h0.9M406.5 262.8h0.9M408.9 234.8h0.9M400.3 232.1h0.9M411.1 253.4h0.9M410.5 231.3h0.9M408.3 267.4h0.9M406.8 254.4h0.9M413.4 226.9h0.9M406.0 226.7h0.9M406.7 229.0h0.9M412.8 258.8h0.9M404.8 215.2h0.9M412.2 235.5h0.9M409.0 247.7h0.9M413.3 257.3h0.9M411.8 233.2h0.9M410.5 244.9h0.9M410.8 265.2h0.9M392.8 218.7h0.9M397.1 215.6h0.9M412.5 245.7h0.9M405.3 245.0h0.9M412.3 271.1h0.9M413.4 253.5h0.9M408.2 256.5h0.9M407.4 237.9h0.9M412.4 249.0h0.9M410.1 247.1h0.9M406.4 257.1h0.9M405.0 250.9h0.9M409.5 226.2h0.9M413.4 227.0h0.9M409.2 253.4h0.9M409.8 223.2h0.9M409.5 247.9h0.9M412.8 262.5h0.9M392.7 219.5h0.9M411.9 265.8h0.9M407.7 226.2h0.9M412.9 223.7h0.9M410.9 217.0h0.9M413.0 267.1h0.9M411.3 230.1h0.9M407.6 235.2h0.9M407.1 242.3h0.9M412.3 232.9h0.9M408.6 251.1h0.9M411.6 271.0h0.9M411.4 240.8h0.9M412.2 226.8h0.9M407.8 244.5h0.9M408.4 225.4h0.9M404.3 235.5h0.9M403.3 240.3h0.9M413.4 216.8h0.9M410.1 259.5h0.9M404.6 244.9h0.9M411.4 259.7h0.9M411.2 238.2h0.9M410.8 271.2h0.9M412.4 240.8h0.9M412.6 241.6h0.9M410.5 217.9h0.9M406.4 245.3h0.9M413.2 238.5h0.9M404.0 239.8h0.9M406.5 229.0h0.9M412.6 224.5h0.9M406.1 235.0h0.9M405.9 228.2h0.9M412.4 238.6h0.9M403.6 223.3h0.9M410.6 266.0h0.9M405.2 224.0h0.9M413.3 248.0h0.9M409.8 253.0h0.9M410.8 224.1h0.9M398.2 223.4h0.9M410.2 267.2h0.9M401.9 243.5h0.9M412.9 217.3h0.9M400.6 224.2h0.9M407.5 267.0h0.9M411.3 227.1h0.9M410.6 242.7h0.9M410.6 266.8h0.9M410.1 224.2h0.9M407.1 218.7h0.9M413.0 252.5h0.9M403.3 243.6h0.9M411.9 258.7h0.9M406.4 215.4h0.9M401.5 235.7h0.9M410.6 261.1h0.9M413.1 250.8h0.9M413.0 270.4h0.9M411.7 269.6h0.9M410.6 266.9h0.9M403.3 251.2h0.9M395.9 219.5h0.9M409.2 226.8h0.9M411.7 263.2h0.9M408.6 245.3h0.9M410.9 258.3h0.9M409.4 243.7h0.9M403.2 239.7h0.9M413.2 244.2h0.9M405.7 233.0h0.9M410.5 254.9h0.9M410.8 219.6h0.9M410.4 258.5h0.9M412.9 250.2h0.9M409.5 253.4h0.9M409.3 270.0h0.9M411.9 256.6h0.9M395.2 215.6h0.9M411.1 250.7h0.9M411.1 236.2h0.9M412.1 262.6h0.9M407.7 249.3h0.9M411.9 256.3h0.9M408.5 258.4h0.9M399.5 227.1h0.9M411.4 240.9h0.9M412.7 269.6h0.9M411.4 254.2h0.9M413.4 254.0h0.9M412.3 215.0h0.9M410.2 226.6h0.9M404.3 238.1h0.9M411.8 270.4h0.9M410.9 216.8h0.9M411.2 244.5h0.9M413.1 237.1h0.9M408.1 237.4h0.9M406.9 238.8h0.9M411.2 232.5h0.9M412.8 248.8h0.9M410.8 250.8h0.9M411.9 221.1h0.9M401.0 218.7h0.9M412.2 227.0h0.9M407.4 247.9h0.9M411.5 258.0h0.9M409.9 243.3h0.9M405.8 223.9h0.9M409.0 237.6h0.9M412.5 215.2h0.9M398.9 223.5h0.9M410.4 254.5h0.9M409.8 251.7h0.9M410.1 257.2h0.9M410.2 256.9h0.9M403.5 231.2h0.9M405.7 227.1h0.9M411.8 231.9h0.9"/>
<path stroke="#16bcec" stroke-opacity="0.85" stroke-width="1" fill="none" d="M457.9 182.0h1M462.7 191.9h1M436.2 193.4h1M435.1 197.1h1M426.5 201.1h1M441.7 196.5h1M452.4 201.8h1M456.5 189.4h1M456.6 193.6h1M451.6 187.5h1M462.3 189.3h1M424.3 198.8h1M455.7 197.0h1M461.2 186.8h1M453.9 193.6h1M451.2 196.2h1M440.5 199.2h1M436.6 194.3h1M451.9 196.7h1M425.3 208.7h1M439.5 196.3h1M466.8 179.8h1M426.7 210.9h1M447.1 191.4h1M453.5 183.6h1M434.8 190.1h1M447.1 188.3h1M448.6 194.3h1M439.2 193.6h1M448.3 182.4h1M470.7 191.2h1M449.5 195.2h1M452.4 181.9h1M442.4 195.4h1M446.4 201.4h1M453.0 191.2h1M431.5 191.9h1M445.0 200.2h1M433.8 197.3h1M451.9 186.3h1M438.3 193.5h1M430.7 185.8h1M433.7 204.5h1M433.6 203.6h1M425.0 200.5h1M431.7 193.6h1M453.0 185.4h1M443.2 179.0h1M433.5 205.0h1M454.1 185.9h1M447.5 192.8h1M448.3 191.3h1M449.8 192.4h1M463.7 182.1h1M424.5 205.7h1M471.7 191.3h1M451.7 192.8h1M474.0 171.0h1M454.2 190.9h1M439.8 198.3h1M447.5 186.8h1M451.7 202.5h1M448.4 189.8h1M464.0 186.0h1M457.3 191.0h1M448.7 195.7h1M440.4 198.1h1M446.4 203.1h1M464.3 193.2h1M459.8 193.5h1M438.6 186.7h1M466.8 184.6h1M445.3 179.5h1M477.2 179.1h1M450.9 188.0h1M458.9 188.0h1M412.1 203.6h1M456.1 190.6h1M433.3 201.0h1M439.8 180.0h1M454.5 183.6h1M438.5 197.5h1M426.6 205.1h1M458.8 183.8h1M464.6 191.2h1M428.8 196.1h1M449.1 192.7h1M433.3 193.7h1M448.9 194.6h1M452.8 195.9h1M458.0 190.1h1M444.0 187.5h1M469.7 176.4h1M443.9 195.7h1M439.5 198.2h1M442.9 194.9h1M469.7 182.5h1M452.5 196.4h1M455.3 192.3h1M433.4 195.1h1M459.8 184.3h1M449.3 202.3h1M448.2 198.4h1M452.0 190.2h1M452.2 189.1h1M439.6 201.5h1M451.8 198.4h1M451.2 188.5h1M423.7 202.6h1M457.0 186.1h1M446.6 181.5h1M454.0 187.9h1M436.9 204.9h1M454.8 188.8h1M446.2 190.8h1M447.9 194.9h1M447.7 194.1h1M466.1 185.2h1M458.7 193.2h1M450.1 194.1h1M451.5 187.7h1M448.5 208.1h1M449.3 195.5h1M442.9 190.1h1M427.3 201.4h1M469.8 183.1h1M440.4 199.7h1M454.7 189.8h1M434.2 197.7h1M462.2 185.1h1M469.0 184.4h1M446.7 193.1h1M461.6 176.5h1M439.6 189.4h1M452.6 193.6h1M448.5 187.2h1M449.4 181.6h1M459.1 184.0h1M465.5 180.7h1M468.9 188.8h1M448.0 179.5h1M448.5 195.2h1M443.1 200.5h1M439.5 192.8h1M475.6 179.0h1M440.1 194.5h1M458.1 180.8h1M448.4 193.8h1M449.0 194.3h1M439.4 203.6h1M460.7 194.5h1M463.8 191.0h1M447.1 196.0h1M441.6 198.0h1M440.4 201.6h1M460.8 181.8h1M444.2 190.9h1M429.8 199.8h1M428.4 195.3h1M438.2 197.9h1M458.6 190.3h1M442.9 198.1h1M462.8 177.0h1M471.3 185.4h1M447.5 191.9h1M443.2 195.6h1M449.0 190.4h1M432.7 199.1h1M449.9 200.6h1M449.6 196.6h1M444.7 190.3h1M454.9 184.3h1M449.1 192.1h1M444.3 194.1h1M471.7 176.9h1M440.6 203.3h1M434.2 190.3h1M440.4 197.7h1M456.6 185.3h1M450.3 183.6h1M459.7 188.8h1M446.3 191.9h1M463.1 185.1h1M445.1 199.1h1M433.2 193.5h1M456.8 183.5h1M429.6 192.2h1M448.5 190.8h1M438.0 198.1h1M429.7 189.7h1M444.3 181.2h1M445.0 196.2h1M426.7 189.3h1M452.7 192.2h1M469.3 180.0h1M444.4 187.2h1M461.9 192.6h1M445.1 194.7h1M463.4 184.7h1M469.1 189.5h1M446.2 189.9h1M439.6 190.1h1M468.4 180.3h1M437.7 190.0h1M443.5 198.0h1M447.6 178.5h1M452.7 192.7h1M459.0 193.9h1M459.2 200.2h1M443.6 200.4h1M439.1 193.1h1M470.1 186.9h1M442.6 197.3h1M428.3 196.9h1M436.9 187.8h1M452.3 182.5h1M450.1 198.4h1M453.7 185.1h1M444.7 195.6h1M434.8 200.9h1M457.2 195.4h1M450.5 191.5h1M430.2 201.6h1M459.9 187.1h1M446.3 190.0h1M441.7 195.4h1M434.8 201.8h1M446.7 195.2h1M445.8 192.6h1M439.7 207.0h1M460.9 186.9h1M441.7 205.7h1M453.9 188.1h1M441.3 194.5h1M461.5 180.9h1M447.5 191.8h1M457.7 193.6h1M450.7 192.8h1M451.2 186.3h1M445.7 186.2h1M451.2 190.5h1M449.3 187.7h1M477.2 184.4h1M444.1 188.9h1M448.1 190.5h1M449.6 193.2h1M434.8 193.8h1M445.3 182.4h1M476.2 183.7h1M454.2 194.3h1M450.9 190.3h1M454.0 189.8h1M460.9 186.0h1M465.4 193.5h1M456.7 188.7h1M434.4 195.1h1M436.8 196.5h1M456.1 178.9h1M449.4 181.6h1M445.4 197.0h1M445.6 200.3h1M450.4 189.6h1M448.6 191.0h1M449.7 184.0h1M445.9 188.8h1M448.5 187.4h1M453.9 199.7h1M470.3 179.6h1M451.6 194.4h1M443.8 194.3h1M444.0 198.0h1M443.3 205.9h1M438.3 196.5h1M466.4 185.9h1M425.3 206.9h1M451.0 193.7h1M435.1 211.2h1M434.2 205.8h1M433.5 192.1h1M457.3 184.0h1M475.4 187.5h1M453.5 186.8h1M445.6 195.7h1M452.3 187.6h1M450.4 192.2h1M459.1 183.0h1M450.7 195.8h1M449.7 176.1h1M455.8 185.6h1M460.3 184.1h1M444.0 210.8h1M435.3 190.0h1M451.8 195.0h1M455.3 189.7h1M441.8 206.7h1M431.0 201.6h1M432.8 200.5h1M450.3 193.7h1M435.8 192.9h1M423.4 198.7h1M435.8 195.5h1M437.9 198.2h1M451.1 195.0h1M458.5 184.5h1M460.9 189.6h1M434.9 206.0h1M438.5 196.0h1M463.5 182.1h1M459.0 183.4h1M445.5 199.7h1M448.3 198.0h1M467.5 186.8h1M454.6 185.6h1M442.6 195.5h1M452.0 182.3h1M444.3 194.0h1M458.9 186.3h1M438.3 197.2h1M438.6 192.8h1M458.6 200.4h1M470.1 174.3h1M472.6 171.9h1M442.8 190.9h1M462.8 182.5h1M459.1 184.3h1M445.9 189.4h1M445.7 189.5h1M476.9 187.5h1M467.0 197.2h1M446.0 188.7h1M436.8 188.6h1M446.4 194.4h1M438.1 197.9h1M449.3 187.7h1M436.2 198.5h1M445.7 188.3h1M434.9 207.4h1M457.7 185.1h1M442.2 198.7h1M443.6 195.6h1M424.4 204.4h1M461.3 192.3h1M456.4 192.7h1M453.2 190.2h1M441.9 184.3h1M438.5 198.3h1M429.6 207.3h1M455.8 181.3h1M457.9 185.5h1M465.4 180.2h1M459.3 179.3h1M431.5 187.2h1M448.5 184.9h1M461.5 176.8h1M458.2 190.9h1M440.6 195.0h1M473.0 177.7h1M462.4 190.3h1M448.6 180.8h1M443.6 195.7h1M459.0 182.5h1M423.7 193.6h1M446.9 187.4h1M457.2 190.3h1M441.4 186.3h1M449.6 193.2h1M450.3 194.7h1M442.9 198.2h1M456.3 187.5h1M446.3 188.8h1M442.1 189.9h1M462.3 186.0h1M434.3 197.1h1M467.1 191.9h1M460.0 179.0h1M454.1 181.5h1M473.8 191.2h1M435.2 199.4h1M434.4 199.4h1M439.1 190.0h1M460.1 187.1h1M460.9 188.7h1M435.1 194.0h1M463.0 191.2h1M448.8 203.8h1M459.6 196.2h1M458.6 194.9h1M442.9 194.1h1M431.2 201.0h1M435.4 199.7h1M441.2 189.3h1M443.2 191.0h1M439.2 205.0h1M440.2 202.2h1M466.2 188.6h1M441.9 190.2h1M431.2 192.5h1M432.8 195.6h1M452.4 194.8h1M436.2 202.4h1M443.3 208.2h1M467.8 194.2h1M450.9 185.4h1M431.7 200.3h1M432.5 202.8h1M454.4 184.0h1M461.6 186.1h1M453.8 192.8h1M439.2 195.6h1M438.2 199.3h1M442.4 202.0h1M458.9 182.9h1M447.3 191.5h1M465.1 186.7h1M456.3 200.9h1M450.8 191.9h1M449.7 193.5h1M439.5 204.1h1M434.2 189.8h1M462.4 192.4h1M448.3 187.7h1M426.0 207.0h1M439.3 198.0h1M444.7 198.4h1M441.8 196.9h1M443.0 192.4h1M441.1 201.9h1M429.1 204.8h1M436.6 194.8h1M457.1 179.8h1M458.9 184.0h1M460.2 191.0h1M459.7 184.3h1M451.0 186.7h1M449.3 189.1h1M464.2 200.6h1M457.3 181.6h1M448.0 191.0h1M430.2 194.0h1M451.3 182.3h1M469.5 172.0h1M450.6 200.3h1M455.9 193.4h1M425.2 200.1h1M430.4 195.9h1M448.5 186.2h1M456.5 181.8h1M448.4 188.6h1M434.3 191.2h1M444.6 201.2h1M434.7 200.2h1M424.0 206.4h1M437.9 193.9h1M452.3 189.0h1M452.1 188.8h1M447.0 183.9h1M441.9 192.2h1M431.5 201.2h1M448.0 185.0h1M447.2 194.0h1M442.7 196.7h1M452.1 182.8h1M460.1 193.7h1M440.2 198.6h1M421.3 190.3h1M444.6 186.6h1M460.6 195.4h1M442.3 190.1h1M455.6 191.5h1M452.0 184.2h1M453.6 189.5h1M429.7 196.7h1M456.3 184.1h1M428.9 203.5h1M455.2 184.8h1M445.7 193.7h1M436.2 197.7h1M463.8 188.0h1M446.9 189.1h1M468.7 171.2h1M443.7 188.8h1M436.0 195.3h1M446.4 199.9h1M468.2 188.7h1M452.8 186.3h1M444.8 201.8h1M449.6 179.6h1M438.1 187.5h1M450.5 195.7h1M461.6 184.2h1M446.8 190.5h1M427.5 197.5h1M445.7 193.8h1M452.2 188.3h1M448.8 181.5h1M448.2 190.6h1M466.1 179.1h1M459.9 184.8h1M449.5 192.2h1M453.4 179.8h1M427.3 208.0h1M458.8 193.1h1M446.3 199.5h1M420.5 191.4h1M422.2 209.9h1M449.9 193.1h1M439.1 189.6h1M450.0 184.0h1M444.6 192.6h1M467.6 188.4h1M451.6 191.2h1M428.2 205.2h1M453.4 192.1h1M445.1 191.7h1M454.7 186.8h1M439.1 196.0h1M446.1 188.6h1M432.6 204.7h1M430.1 207.4h1M447.9 191.1h1M443.5 191.3h1M436.8 194.7h1M440.9 198.8h1M426.2 197.1h1M443.4 203.1h1M454.0 190.1h1M460.3 181.9h1M437.9 200.2h1M446.3 197.6h1M473.3 181.2h1M458.9 185.8h1M446.2 193.9h1M466.5 184.4h1M463.9 183.4h1M439.7 192.4h1M451.2 188.7h1M440.3 196.4h1M448.2 198.0h1M443.5 202.5h1M462.1 191.8h1M460.5 195.5h1M449.5 187.8h1M431.9 204.6h1M460.8 188.3h1M449.2 194.9h1M450.9 184.9h1M463.5 184.2h1M447.3 194.3h1M466.7 180.0h1M446.0 190.3h1M434.3 187.9h1M454.8 185.0h1M457.0 197.0h1M450.6 190.8h1M440.9 195.8h1M431.7 190.4h1M438.8 196.1h1M443.1 192.7h1M437.9 191.3h1M456.7 192.7h1M461.7 189.6h1M441.5 179.4h1M448.2 196.8h1M426.7 191.0h1M448.1 188.2h1M443.0 199.3h1M448.9 188.7h1M438.9 192.0h1M457.2 187.2h1M457.3 176.5h1M455.3 188.1h1M449.5 195.0h1M435.8 196.0h1M448.4 194.9h1M448.7 191.2h1M428.6 199.0h1M447.5 194.3h1M429.3 202.7h1M460.2 189.2h1M452.2 191.1h1M441.3 185.5h1M442.1 195.0h1M441.9 198.0h1M451.6 180.9h1M458.0 196.8h1M439.8 198.3h1M456.0 181.1h1M453.4 194.0h1M442.8 196.7h1M453.6 194.1h1M440.2 198.5h1M465.9 174.5h1M459.6 196.8h1M456.7 191.7h1M453.9 184.7h1M429.8 195.0h1M448.8 193.6h1M444.0 199.0h1M459.7 183.5h1M440.7 181.7h1M447.0 192.9h1M470.7 177.8h1M465.4 188.4h1M456.8 192.5h1M459.8 186.9h1M455.8 176.8h1M451.0 191.8h1M468.1 186.4h1M444.7 190.5h1M443.7 199.8h1M442.1 194.7h1M426.7 196.9h1M444.4 202.8h1M448.1 187.8h1M452.3 204.0h1M449.5 197.2h1M438.5 194.5h1M440.8 192.0h1M467.7 179.8h1M454.3 183.7h1M442.1 193.1h1M454.8 188.5h1M433.8 194.6h1M447.4 186.8h1M454.5 181.8h1M434.2 199.8h1M474.0 191.6h1M463.0 181.2h1M451.6 178.6h1M446.5 207.0h1M457.5 189.1h1M450.3 193.1h1M447.2 183.1h1M475.6 179.4h1M444.1 189.8h1M439.4 196.3h1M450.5 184.0h1M445.7 186.4h1M473.5 187.3h1M443.1 194.9h1M450.4 184.7h1M465.4 186.6h1M435.5 195.1h1M445.5 188.8h1M435.2 192.7h1M435.0 204.7h1M446.1 182.4h1M439.1 195.9h1M454.6 194.5h1M454.6 196.5h1M458.9 188.9h1M450.7 203.3h1M455.4 188.6h1M452.8 192.5h1M458.2 188.3h1M430.4 202.8h1M435.5 201.7h1M461.0 188.1h1M449.4 188.2h1M435.5 188.4h1M458.0 192.5h1M444.6 197.7h1M455.8 188.6h1M431.9 202.4h1M452.7 200.5h1M451.8 187.3h1M467.2 183.2h1M444.1 191.6h1M449.6 193.3h1M443.9 192.8h1M437.5 191.9h1M448.7 189.2h1M451.4 188.4h1M435.6 194.9h1M453.4 197.0h1M447.3 186.1h1M445.9 182.9h1M450.1 179.7h1M466.6 186.0h1M456.5 191.0h1M443.1 196.7h1M462.2 187.1h1M444.7 200.3h1M458.5 185.6h1M468.5 188.1h1M448.4 184.1h1M458.2 180.9h1M448.5 183.3h1M435.5 200.1h1M422.3 207.3h1M471.7 183.3h1M443.2 188.7h1M442.9 199.7h1M450.5 189.7h1M464.0 184.4h1M442.8 187.4h1M455.5 181.4h1M449.9 189.9h1M463.4 193.6h1M469.2 182.2h1M434.6 187.5h1M474.9 184.3h1M448.6 198.1h1M442.5 198.3h1M438.9 189.6h1M446.5 192.6h1M460.3 184.9h1M469.9 182.0h1M446.4 185.6h1M451.3 195.4h1M441.0 193.7h1M446.9 197.4h1M466.1 180.6h1M453.3 190.7h1M433.9 203.8h1M446.1 194.3h1M439.5 200.0h1M433.6 204.0h1M465.1 183.8h1M438.9 203.9h1M443.8 190.6h1M472.2 175.5h1M443.0 193.6h1M447.2 185.8h1M466.2 174.4h1M442.0 196.0h1M450.3 186.3h1M437.0 195.8h1M439.0 196.9h1M434.5 195.6h1M461.1 187.5h1M463.7 191.1h1M458.0 187.3h1M446.9 187.1h1M476.6 188.3h1M429.8 208.6h1M437.6 190.5h1M443.3 190.3h1M438.9 189.1h1M472.7 184.6h1M466.6 184.2h1M444.8 194.2h1M412.0 199.9h1M428.2 197.9h1M472.1 182.8h1M460.1 192.3h1M449.2 189.3h1M424.5 199.3h1M440.6 193.5h1M454.6 184.3h1M457.5 190.0h1M455.8 184.6h1M474.1 180.4h1M448.0 201.2h1M464.8 187.2h1M449.4 190.3h1M452.6 195.0h1M447.4 199.3h1M444.6 196.6h1M457.5 186.8h1M458.6 190.2h1M439.5 191.9h1M453.3 197.8h1M467.7 178.0h1M454.8 195.9h1M454.1 196.7h1M444.0 190.1h1M444.8 192.1h1M444.4 178.2h1M436.3 196.8h1M448.0 201.6h1M448.5 189.3h1M458.4 196.6h1M430.2 198.7h1M445.2 192.9h1M462.1 187.2h1M458.3 192.1h1M440.8 188.2h1M446.0 192.2h1M442.7 191.9h1M446.8 193.6h1M455.8 194.3h1M451.2 189.0h1M447.1 192.4h1M449.7 193.0h1M458.3 183.7h1M454.4 180.6h1M457.6 193.1h1M441.2 200.9h1M451.8 191.0h1M451.9 193.3h1M437.1 197.7h1M434.4 194.9h1M451.0 181.5h1M458.7 190.1h1M437.9 192.9h1M441.7 194.1h1M468.5 193.2h1M443.8 190.1h1M442.0 195.0h1M449.3 194.6h1M465.4 177.7h1M445.9 180.5h1M441.4 191.7h1M434.9 202.5h1M439.9 195.7h1M449.6 193.5h1M437.7 187.0h1M463.5 184.1h1M446.1 201.0h1M430.2 201.7h1M429.4 202.8h1M451.2 184.4h1M437.4 196.5h1M451.2 191.9h1M446.2 191.8h1M452.1 193.9h1M472.1 179.9h1M455.9 186.4h1M448.2 202.4h1M450.4 200.6h1M460.5 193.2h1M434.0 190.6h1M469.1 180.4h1M444.0 193.4h1M445.9 183.8h1M465.0 183.4h1M462.9 195.3h1M452.8 184.5h1M455.9 186.4h1M451.3 191.3h1M447.9 186.1h1M430.7 203.1h1M441.5 197.6h1M441.3 193.0h1M458.1 178.7h1M443.5 195.3h1M450.1 187.1h1M442.7 185.3h1M465.3 178.8h1M452.1 183.1h1M440.7 191.0h1M437.0 191.8h1M454.4 186.4h1M435.0 203.6h1M457.8 188.2h1M453.1 190.4h1M439.9 200.2h1M452.3 190.3h1M454.9 189.5h1M441.2 199.3h1M436.4 189.1h1M458.6 182.8h1M450.9 197.3h1M450.1 193.0h1M436.6 191.6h1M436.3 199.1h1M441.9 191.0h1M449.5 183.9h1M455.7 193.8h1M460.7 193.3h1M446.7 187.9h1M447.2 189.1h1M436.1 201.7h1M446.5 196.0h1M454.1 173.7h1M435.0 194.1h1M448.4 186.6h1M452.8 190.2h1M444.0 193.8h1M430.6 193.6h1M450.3 183.5h1M450.6 192.2h1M435.1 189.8h1M460.9 192.8h1M471.7 183.3h1M455.0 181.6h1M442.4 197.0h1M440.7 195.9h1M462.3 183.1h1M445.5 190.8h1M454.6 192.2h1M450.8 185.6h1M439.2 201.6h1M475.0 185.1h1M473.6 176.4h1M449.4 181.0h1M461.7 187.7h1M437.3 190.7h1M442.1 196.5h1M444.2 191.3h1M439.3 196.7h1M448.7 190.7h1M434.6 204.6h1M435.9 197.9h1M450.1 189.1h1M445.8 198.3h1M438.0 202.9h1M428.3 196.7h1M455.5 196.6h1M439.6 198.5h1M460.7 186.9h1M471.5 183.5h1M438.3 188.5h1M441.0 198.0h1M446.1 176.2h1M447.0 191.9h1M443.9 193.0h1M429.7 202.3h1M422.6 198.7h1M468.2 177.1h1M436.2 199.5h1M459.0 199.0h1M441.9 197.2h1M434.3 200.7h1M451.1 187.2h1M463.4 186.9h1M458.6 187.8h1M450.6 190.1h1M454.9 194.5h1M436.7 198.1h1M448.9 186.6h1M446.4 206.0h1M448.8 190.0h1M453.3 195.7h1M421.0 197.3h1M447.4 196.2h1M450.6 188.9h1M440.0 191.2h1M451.8 182.0h1M421.8 196.5h1M451.9 197.6h1M437.5 194.5h1M434.4 198.4h1M447.8 196.0h1M437.5 192.9h1M451.5 186.0h1M442.4 200.1h1M445.3 198.0h1M434.4 200.1h1M453.0 182.1h1M441.9 183.7h1M465.3 181.9h1M437.6 191.2h1M466.0 185.2h1M460.3 188.1h1M447.9 193.6h1M447.1 193.9h1M430.0 200.4h1M454.0 187.5h1M453.2 191.7h1M435.1 195.3h1M452.8 172.9h1M457.5 194.1h1M455.5 197.9h1M455.5 192.9h1M461.4 185.2h1M428.3 200.2h1M459.1 182.8h1M435.0 191.9h1M466.4 180.9h1M437.1 193.2h1M450.7 188.3h1M453.5 187.1h1M446.4 193.9h1M464.2 179.7h1M434.2 207.1h1M462.8 183.0h1M457.3 188.3h1M453.1 181.3h1M455.2 198.9h1M442.5 189.2h1M450.1 186.3h1M459.4 180.3h1M424.5 207.4h1M457.2 194.7h1M438.9 192.4h1M448.2 200.3h1M441.3 195.3h1M453.4 187.1h1M459.9 192.1h1M431.2 209.5h1M450.2 192.5h1M463.8 183.3h1M464.6 191.2h1M445.8 200.3h1M462.9 183.2h1M457.3 191.1h1M424.2 197.8h1M447.6 187.6h1M455.2 182.5h1M445.1 188.6h1M458.1 191.2h1M448.3 194.1h1M463.5 184.2h1M460.6 192.6h1M436.6 191.1h1M433.8 200.7h1M452.7 199.5h1M446.7 196.6h1M448.0 186.6h1M449.1 199.7h1M430.2 207.5h1M445.7 193.0h1M443.6 196.5h1M451.6 190.4h1M439.4 178.9h1M450.3 190.9h1M456.9 194.4h1M449.8 194.4h1M456.6 192.9h1M467.5 190.0h1M452.4 186.1h1M469.6 187.1h1M464.0 179.6h1M436.1 189.7h1M454.1 187.4h1M466.1 180.7h1M457.2 192.6h1M450.9 194.2h1M453.3 189.6h1M454.3 184.3h1M462.7 188.3h1M459.5 177.7h1M450.9 189.1h1M445.1 185.0h1M441.2 194.1h1M454.0 186.4h1M434.7 197.4h1M442.7 192.3h1M452.2 193.7h1M441.1 198.3h1M461.2 185.2h1M456.3 185.3h1M443.5 193.4h1M436.1 194.4h1M438.4 195.1h1M451.9 195.9h1M445.6 191.3h1M460.7 190.4h1M440.2 191.4h1M444.3 194.8h1M448.2 182.0h1M448.2 189.9h1M457.5 184.6h1M435.0 202.1h1M468.1 192.6h1M445.6 193.7h1M443.8 187.1h1M464.2 198.0h1M457.1 183.7h1M457.3 188.6h1M458.0 183.4h1M435.8 192.8h1M450.1 180.0h1M424.7 199.7h1M452.2 192.7h1M443.0 189.4h1M457.3 187.6h1M431.5 199.7h1M437.2 189.8h1M451.3 194.7h1M429.5 198.6h1M455.0 197.6h1M438.8 197.6h1M449.0 200.3h1M462.3 190.2h1M447.3 202.0h1M450.0 186.1h1M431.9 200.1h1M444.8 197.3h1M458.3 191.8h1M465.3 179.9h1M440.8 187.9h1M436.4 193.6h1M435.6 206.7h1M439.6 198.0h1M441.7 189.2h1M461.2 184.2h1M453.6 192.6h1M446.7 197.7h1M441.9 196.9h1M444.5 196.7h1M444.5 194.7h1M448.7 196.6h1M441.7 197.8h1M441.0 193.8h1M447.1 187.6h1M452.0 181.0h1M457.5 191.1h1M476.9 175.6h1M441.1 197.3h1M450.2 192.0h1M443.4 197.9h1M462.6 189.2h1M449.9 191.2h1M467.4 194.9h1M463.6 185.5h1M457.9 186.5h1M463.9 179.7h1M438.1 206.5h1M452.4 200.8h1M448.2 184.6h1M455.0 188.5h1M456.4 186.3h1M448.7 190.7h1M439.5 201.6h1M454.2 196.2h1M449.8 196.5h1M459.3 183.6h1M450.2 198.7h1M429.5 202.5h1M442.8 191.4h1M461.9 191.4h1M460.1 191.7h1M435.0 200.2h1M437.7 201.7h1M458.0 189.3h1M454.3 178.1h1M458.5 193.5h1M409.2 211.9h1M459.2 190.6h1M441.4 191.5h1M452.2 188.2h1M427.9 200.8h1M458.1 192.1h1M449.7 192.3h1M442.3 198.1h1M457.2 186.7h1M455.2 187.5h1M439.9 200.6h1M454.7 183.3h1M450.0 186.4h1M454.2 189.3h1M427.0 201.5h1M427.4 196.8h1M445.6 188.9h1M428.3 195.4h1M453.3 194.0h1M436.9 198.6h1M446.3 186.1h1M435.8 190.3h1M452.3 174.3h1M443.8 191.5h1M437.2 194.1h1M446.7 197.1h1M455.3 187.2h1M454.6 181.3h1M465.2 186.3h1M436.4 187.8h1M455.5 185.6h1M476.4 185.0h1M434.5 197.9h1M442.9 197.0h1M445.1 191.8h1M454.0 199.2h1M453.1 196.9h1M445.2 194.4h1M441.7 194.4h1M443.6 194.6h1M429.2 201.5h1M458.0 181.1h1M446.7 195.1h1M450.0 194.8h1M451.6 188.8h1M458.2 199.2h1M453.3 193.7h1M453.4 188.9h1M440.9 183.4h1M462.2 182.8h1M453.0 183.6h1M444.1 195.2h1M454.5 195.4h1M431.8 195.0h1M453.6 179.5h1M460.3 189.0h1M441.6 190.8h1M448.2 187.7h1M452.5 185.1h1M449.1 193.7h1M452.0 194.3h1M450.3 197.3h1M441.6 199.0h1M442.8 182.2h1M469.3 175.7h1M449.6 188.1h1M441.2 190.1h1M453.9 179.8h1M437.3 195.6h1M438.4 181.5h1M443.4 192.7h1M445.9 184.0h1M448.2 184.8h1M448.4 191.6h1M423.7 196.7h1M432.9 187.3h1M457.7 181.6h1M448.5 187.8h1M434.1 201.7h1M446.4 185.1h1M444.5 196.0h1M436.1 200.4h1M448.3 197.4h1M462.3 178.4h1M457.0 188.8h1M438.8 201.7h1M436.1 197.9h1M440.7 182.0h1M447.9 192.4h1M449.6 185.3h1M444.4 196.7h1M456.4 190.7h1M457.9 181.9h1M442.8 192.9h1M453.4 191.9h1M458.9 188.1h1M447.0 186.5h1M446.5 186.6h1M436.1 194.1h1M455.1 195.9h1M434.8 192.2h1M471.8 194.6h1M450.6 195.5h1M460.5 189.8h1M443.5 196.8h1M444.6 190.4h1M462.0 183.9h1M445.4 190.2h1M454.9 186.2h1M447.3 192.3h1M449.6 191.3h1M450.4 190.8h1M438.5 201.4h1M443.4 192.7h1M435.9 194.4h1M441.8 194.5h1M439.9 194.7h1M428.1 206.1h1M460.4 180.7h1M436.4 202.8h1M440.4 180.7h1M458.5 178.6h1M460.9 196.2h1M450.2 188.7h1M436.7 188.6h1M448.9 188.6h1M436.9 199.4h1M446.1 188.9h1M450.7 181.6h1M447.6 187.8h1M442.0 190.4h1M459.5 193.2h1M435.7 200.6h1M452.3 189.3h1M463.9 193.8h1M429.0 201.0h1M453.5 187.9h1M433.7 197.0h1M431.7 199.2h1M459.3 195.4h1M442.4 196.2h1M449.7 190.0h1M459.4 182.5h1M455.7 195.7h1M451.3 182.0h1M447.1 195.8h1M446.9 189.1h1M441.1 190.4h1M457.3 184.2h1M456.2 190.8h1M464.9 193.9h1M441.1 188.3h1M451.7 198.7h1M454.4 187.9h1M467.5 183.5h1M452.8 201.4h1M440.7 194.7h1M459.7 185.7h1M449.3 192.1h1M441.7 191.8h1M465.3 185.0h1M429.5 201.4h1M437.1 192.3h1M467.7 187.1h1M452.3 189.8h1M435.1 195.9h1M454.6 191.8h1M426.2 199.1h1M444.6 195.9h1M438.1 195.5h1M426.8 195.3h1M450.2 192.4h1M448.9 189.7h1M430.9 196.1h1M444.4 191.3h1M444.3 197.0h1M441.7 193.5h1M452.3 193.6h1"/>
<path stroke="#16bcec" stroke-opacity="0.85" stroke-width="1" fill="none" d="M434.9 189.2h1M440.0 199.9h1M438.4 203.2h1M429.3 202.3h1M450.5 209.2h1M412.2 190.4h1M440.9 191.4h1M433.4 205.8h1M432.9 191.7h1M438.0 200.7h1M420.8 201.2h1M439.0 205.1h1M430.2 204.3h1M429.8 193.3h1M435.7 197.3h1M429.0 191.4h1M427.4 205.2h1M435.4 210.2h1M440.0 202.0h1M435.9 203.0h1M433.7 202.0h1M447.9 208.7h1M441.9 191.7h1M427.1 201.6h1M439.2 200.8h1M440.0 209.8h1M431.0 208.1h1M432.2 198.7h1M435.2 193.2h1M432.1 195.0h1M431.6 210.4h1M436.3 211.1h1M427.3 200.1h1M433.1 203.9h1M422.6 201.2h1M421.0 196.5h1M434.1 200.6h1M446.7 207.6h1M435.3 199.0h1M440.7 197.8h1M437.2 195.4h1M422.9 208.2h1M429.4 205.3h1M437.0 202.8h1M436.8 202.3h1M434.7 207.5h1M431.2 193.1h1M437.1 209.3h1M438.9 204.3h1M434.5 194.8h1M447.3 199.3h1M439.6 186.8h1M424.3 202.8h1M445.5 206.1h1M442.2 204.0h1M434.3 196.5h1M436.0 199.3h1M439.8 203.8h1M429.0 198.8h1M440.3 189.0h1M433.1 193.7h1M436.9 204.0h1M429.7 204.3h1M432.9 193.9h1M443.3 195.9h1M439.6 186.7h1M424.5 201.7h1M440.1 200.3h1M433.1 194.7h1M435.7 204.8h1M438.7 197.2h1M431.8 202.3h1M446.7 202.7h1M431.7 193.9h1M433.7 198.1h1M419.3 177.1h1M439.5 189.5h1M434.1 199.4h1M431.7 192.1h1M428.6 196.9h1M438.8 192.1h1M421.9 195.3h1M439.5 201.4h1M419.1 200.5h1M428.8 193.2h1M436.9 200.9h1M440.9 191.2h1M443.8 215.6h1M438.1 200.2h1M446.3 207.6h1M436.3 206.8h1M444.3 194.5h1M434.8 207.3h1M439.3 203.8h1M434.2 198.5h1M433.8 201.9h1M426.2 209.0h1M444.0 192.0h1M432.4 213.2h1M440.0 202.1h1M425.7 195.4h1M442.3 205.3h1M434.5 207.1h1M439.7 199.8h1M429.2 199.9h1M422.1 190.0h1M423.4 207.9h1M436.0 195.2h1M438.8 212.4h1M439.0 206.9h1M439.3 189.8h1M435.2 189.0h1M434.6 192.9h1M436.4 191.3h1M433.4 208.5h1M431.2 199.8h1M442.7 202.6h1M434.0 205.8h1M438.5 198.0h1M438.5 202.4h1M439.2 205.3h1M442.9 196.7h1M446.2 200.9h1M431.9 201.3h1M443.1 204.5h1M444.9 194.6h1M429.0 193.3h1M426.7 198.7h1M436.1 194.8h1M436.4 195.5h1M436.0 209.9h1M437.9 197.4h1M438.8 190.9h1M432.2 192.6h1M441.7 201.9h1M431.8 199.3h1M441.8 198.2h1M425.8 192.9h1M446.1 207.1h1M442.7 202.6h1M435.0 199.0h1M432.1 207.2h1M435.8 204.9h1M435.2 201.3h1M440.1 199.5h1M453.5 202.5h1M433.7 202.3h1M448.8 212.0h1M427.0 203.9h1M426.4 207.3h1M434.3 202.8h1M436.7 190.8h1M432.2 204.0h1M430.4 198.9h1M421.9 191.8h1M439.0 211.5h1M451.5 212.8h1M439.6 197.1h1M427.1 207.2h1M430.3 199.6h1M423.9 196.7h1M437.5 195.2h1M434.8 204.2h1M437.9 190.7h1M444.7 195.6h1M433.8 204.3h1M423.4 202.2h1M433.8 198.0h1M432.0 205.5h1M433.4 197.4h1M430.7 201.0h1M434.5 210.2h1M434.9 192.2h1M428.8 194.4h1M438.9 202.7h1M433.9 201.4h1M437.4 200.7h1M441.7 197.1h1M445.6 210.2h1M425.6 198.7h1M425.7 200.8h1M435.3 203.3h1M425.3 204.6h1M435.8 208.5h1M430.0 205.4h1M443.8 200.3h1M432.8 191.9h1M424.1 192.7h1M443.1 197.7h1M438.1 202.4h1M442.2 194.8h1M434.4 193.1h1M441.2 194.8h1M426.3 200.5h1M419.2 199.7h1M431.8 198.1h1M432.5 198.5h1M431.8 209.3h1M424.1 198.6h1M432.3 205.6h1M433.3 196.3h1M434.6 208.7h1M441.7 196.6h1M430.8 204.5h1M441.8 192.6h1M433.4 193.2h1M436.3 205.9h1M433.6 194.5h1M431.4 199.0h1M433.8 192.2h1M436.8 208.0h1M441.8 199.9h1M442.7 200.6h1M443.5 210.7h1M432.4 207.9h1M422.3 200.6h1M434.9 201.0h1M442.6 198.3h1M441.6 192.0h1M433.0 197.2h1M421.5 203.5h1M433.2 196.4h1M428.3 198.1h1M427.5 199.8h1M426.5 205.5h1M414.8 195.1h1M433.6 203.8h1M427.9 192.0h1M428.3 192.0h1M440.7 209.8h1M432.8 193.3h1M440.8 207.2h1M430.6 208.0h1M433.0 204.1h1M435.0 192.9h1M433.8 219.0h1M447.3 205.7h1M437.5 201.3h1M436.6 197.1h1M435.4 204.0h1M436.7 198.0h1M436.4 211.6h1M430.6 196.8h1M433.5 197.3h1M420.8 196.8h1M414.7 196.4h1M439.1 196.1h1M414.7 203.9h1M436.3 187.5h1M435.5 190.6h1M429.4 198.8h1M435.4 193.6h1M428.9 195.0h1M438.9 199.2h1M423.2 198.0h1M429.9 199.5h1M433.0 202.5h1M436.2 207.2h1M429.6 204.5h1M442.7 201.3h1M436.4 197.0h1M423.1 192.3h1M427.4 197.1h1M437.5 189.8h1M436.9 200.3h1M441.0 189.3h1M437.1 188.0h1M441.4 207.9h1M431.7 204.0h1M436.9 192.8h1M423.7 193.5h1M430.4 193.9h1M443.2 196.1h1M440.1 197.9h1M449.6 203.5h1M432.6 201.4h1M423.4 207.7h1M430.8 208.2h1M435.8 193.4h1M435.7 190.5h1M423.2 190.4h1M428.1 197.4h1M439.3 204.4h1M435.0 207.7h1M434.0 183.1h1M430.9 199.8h1M445.5 200.7h1M433.5 195.6h1M440.4 207.5h1M430.1 194.1h1M434.5 188.0h1M434.8 207.2h1M428.2 201.7h1M431.4 214.4h1M435.2 204.1h1M436.4 214.1h1M441.8 197.5h1M431.7 188.4h1M439.1 207.9h1M430.3 199.9h1M433.2 204.3h1M430.0 189.2h1M436.5 195.9h1M432.3 197.9h1M431.1 203.1h1M423.0 194.7h1M436.0 208.2h1M430.9 199.7h1M432.9 201.3h1M435.8 211.0h1M435.7 200.0h1M438.1 204.2h1M439.7 196.7h1M435.5 202.0h1M428.9 198.0h1M434.3 203.3h1M426.4 185.2h1M427.8 204.3h1M431.4 201.4h1M434.2 208.3h1M438.5 204.1h1M430.6 210.4h1M435.8 214.2h1M431.2 200.5h1M424.5 206.6h1M427.0 198.5h1M444.7 212.5h1M427.1 193.9h1M420.1 201.8h1M431.7 190.9h1M432.5 211.7h1M443.4 205.1h1M425.8 198.1h1M426.9 201.0h1M433.6 204.0h1M439.2 202.2h1M441.2 204.5h1M431.3 199.4h1M436.3 215.5h1M430.7 195.3h1M428.4 200.2h1M433.5 199.8h1M439.2 210.8h1M430.5 202.9h1M437.4 188.6h1M431.6 210.1h1M429.3 206.0h1M431.4 207.6h1M441.9 191.5h1M429.0 203.2h1M424.6 195.3h1M428.8 200.8h1M445.1 201.6h1M442.8 203.7h1M429.2 194.1h1M435.2 193.2h1M440.4 195.1h1M431.4 205.5h1M437.5 203.1h1M432.3 203.9h1M427.8 207.0h1M426.7 206.1h1M439.2 206.4h1M433.8 193.2h1M434.9 206.5h1M437.0 195.0h1M441.0 208.6h1M431.8 205.7h1M436.6 198.6h1M440.4 209.2h1M437.3 200.8h1M432.7 198.7h1M424.7 197.0h1M425.4 202.7h1M424.0 192.5h1M439.6 196.3h1M443.3 206.7h1M442.3 196.4h1M422.6 209.6h1M429.4 191.1h1M423.7 213.8h1M443.9 206.1h1M445.7 204.6h1M438.3 201.8h1M441.5 201.6h1M437.1 204.4h1M429.4 196.9h1M451.9 209.9h1M439.0 192.6h1M435.4 208.0h1M436.9 198.6h1M444.4 196.8h1M434.8 200.9h1M434.0 208.5h1M425.6 205.4h1M443.3 209.1h1M434.7 191.7h1M441.4 203.7h1M433.5 196.9h1M426.9 201.8h1M444.0 217.9h1M438.0 200.5h1M421.8 197.5h1M430.9 201.4h1M437.0 207.9h1M446.7 204.9h1M429.6 199.6h1M425.6 193.4h1M428.6 206.7h1M432.0 206.9h1M431.6 198.3h1M435.1 201.2h1M448.2 189.1h1M432.2 191.2h1M436.7 211.1h1M443.4 211.3h1M422.7 199.6h1M432.2 193.6h1M426.7 193.8h1M437.1 196.4h1M430.2 192.6h1M437.3 212.6h1M438.6 198.9h1M428.9 201.1h1M440.6 212.9h1M434.9 198.7h1M430.2 194.3h1M432.6 193.5h1M429.1 199.8h1M451.5 206.3h1M435.8 206.5h1M437.4 204.3h1M436.4 205.8h1M443.8 196.1h1M441.7 197.6h1M436.2 191.8h1M435.6 194.0h1M431.0 203.3h1M448.2 197.2h1M443.1 201.6h1M429.6 193.9h1M423.8 191.9h1M436.8 199.4h1M436.9 203.6h1M444.6 193.6h1M437.9 203.5h1M438.2 197.5h1M440.2 193.6h1M429.7 189.3h1M435.2 199.3h1"/>
<path stroke="#16bcec" stroke-opacity="0.75" stroke-width="1" fill="none" d="M437.5 200.3h1M442.0 210.3h1M452.3 201.2h1M442.6 209.0h1M446.3 201.6h1M436.3 205.1h1M436.5 205.4h1M435.9 205.7h1M445.0 205.7h1M441.7 210.3h1M443.6 207.6h1M431.4 197.7h1M446.7 200.0h1M438.6 211.9h1M434.9 191.3h1M434.9 210.3h1M444.3 209.0h1M450.9 213.1h1M429.7 192.8h1M438.4 192.7h1M444.0 191.4h1M439.3 197.9h1M442.1 218.0h1M439.5 188.1h1M435.6 199.3h1M439.3 214.5h1M436.8 199.9h1M431.8 193.9h1M432.4 203.4h1M442.1 205.8h1M436.2 206.8h1M435.5 211.3h1M432.4 193.6h1M439.6 200.3h1M445.9 200.5h1M440.8 206.8h1M445.3 213.2h1M432.4 191.5h1M435.2 208.6h1M443.4 200.6h1M448.8 203.9h1M446.2 204.2h1M432.1 201.3h1M443.8 211.8h1M440.0 218.9h1M440.8 209.5h1M442.4 203.4h1M433.7 206.1h1M439.1 202.5h1M441.3 203.5h1M445.1 211.3h1M437.4 215.3h1M439.7 195.5h1M433.4 202.6h1M442.8 201.8h1M445.7 220.0h1M435.2 206.6h1M435.6 214.2h1M430.9 211.3h1M437.8 206.5h1M441.2 201.6h1M435.6 217.8h1M442.8 208.2h1M447.5 201.1h1M444.5 204.5h1M431.8 201.0h1M440.6 199.8h1M434.9 210.1h1M440.5 202.3h1M431.8 209.5h1M445.5 206.4h1M443.0 204.5h1M445.8 212.5h1M441.4 212.1h1M439.5 215.6h1M445.5 204.8h1M446.2 207.6h1M439.1 207.2h1M437.5 209.6h1M439.5 206.2h1M450.1 189.7h1M438.0 214.4h1M436.0 197.3h1M446.6 216.8h1M438.0 207.5h1M438.0 199.7h1M442.8 210.0h1M440.1 198.8h1M440.7 201.8h1M437.1 207.0h1M440.0 196.5h1M443.7 202.7h1M438.1 198.0h1M436.0 195.7h1M438.9 200.0h1M437.4 212.7h1M436.0 211.0h1M435.2 204.9h1M431.2 205.7h1M442.4 184.6h1M434.8 207.4h1M440.2 200.7h1M438.3 208.4h1M440.9 194.2h1M442.9 199.9h1M439.8 205.7h1M437.7 212.7h1M442.7 207.8h1M448.0 202.0h1M438.7 211.0h1M439.0 199.1h1M441.8 209.3h1M432.8 208.9h1M436.2 204.9h1M440.2 214.1h1M440.9 212.1h1M438.1 207.1h1M436.4 213.6h1M439.6 201.4h1M444.5 210.2h1M441.9 207.4h1M441.1 207.2h1M439.4 202.7h1M441.4 202.6h1M446.7 205.5h1M439.2 193.7h1M437.6 204.3h1M430.6 200.9h1M435.6 204.3h1M443.3 193.5h1M441.6 212.0h1M444.6 204.4h1M431.6 208.9h1M439.9 209.1h1M442.9 203.8h1M432.4 200.3h1M432.0 207.0h1M437.4 191.5h1M429.0 207.9h1M432.0 193.2h1M444.1 202.9h1M435.4 204.3h1M445.9 203.9h1M445.5 208.7h1M438.5 209.8h1M433.6 195.8h1M435.6 211.5h1M435.4 202.5h1M434.4 204.8h1M436.1 208.5h1M435.0 204.1h1M443.2 198.4h1M433.4 197.5h1M430.0 210.7h1M439.3 210.0h1M436.5 204.8h1M443.8 206.6h1M445.7 203.4h1M429.0 196.4h1M434.1 203.1h1M434.7 196.9h1M436.0 195.0h1M438.9 203.5h1M441.6 213.4h1M438.1 215.4h1M436.3 200.6h1M436.2 198.2h1M444.8 191.2h1M440.7 206.6h1M439.8 203.5h1M442.0 212.6h1M437.3 205.3h1M444.5 191.3h1M443.4 198.6h1M437.0 210.6h1M442.3 204.8h1M437.0 200.3h1M439.3 209.0h1M444.1 206.2h1M439.8 211.3h1M436.7 203.9h1M440.1 202.7h1M443.0 203.0h1M437.5 220.3h1M435.3 209.8h1M440.5 199.6h1M440.9 197.0h1M433.2 206.6h1M428.3 192.1h1M435.4 199.7h1M440.0 191.7h1M440.5 200.4h1M437.9 197.2h1M433.7 221.6h1M440.2 203.4h1M447.8 212.2h1M423.3 203.7h1M442.5 199.8h1M436.1 208.5h1M436.8 202.0h1M432.8 202.4h1M437.1 204.3h1M443.3 201.8h1M427.1 195.1h1M442.6 198.7h1M436.6 209.5h1M450.3 191.8h1M446.1 206.7h1M438.1 192.1h1M432.1 210.7h1M428.8 218.0h1M440.4 203.3h1M427.5 203.9h1M443.6 206.9h1M440.9 205.8h1M441.0 209.9h1M448.7 199.2h1M437.8 210.0h1M436.1 192.8h1M439.2 199.9h1M444.7 213.1h1M444.7 213.9h1M444.9 203.2h1M433.3 208.2h1M449.8 207.8h1M446.4 210.5h1M441.2 196.6h1M439.7 212.3h1M438.3 204.0h1M433.8 195.1h1M435.1 195.0h1M444.0 214.2h1M431.8 209.2h1M440.5 200.8h1M439.1 215.7h1M438.1 208.0h1M435.9 203.5h1M427.0 203.3h1M441.5 192.5h1M437.6 190.3h1M442.0 202.2h1M440.7 192.4h1M439.5 205.3h1M432.2 210.0h1M447.2 201.8h1M434.8 207.4h1M449.5 202.1h1M433.5 204.1h1M433.4 203.4h1M432.4 196.3h1M447.7 207.1h1M435.5 200.4h1M446.8 200.8h1M443.5 207.0h1M443.7 207.7h1M434.6 197.4h1M438.9 202.5h1M443.5 201.5h1M430.5 202.3h1M448.4 194.4h1M437.8 209.4h1M447.0 206.1h1M446.8 201.7h1M440.7 202.2h1M430.2 206.0h1M427.9 216.1h1M450.0 212.2h1M434.5 202.3h1M441.3 212.1h1M437.4 201.4h1M440.0 213.5h1M436.4 214.5h1M439.5 200.8h1M437.9 200.3h1M440.2 202.4h1M434.7 206.0h1M435.7 203.8h1M443.7 210.3h1M439.1 205.0h1M438.7 183.6h1M436.1 202.1h1M442.9 212.6h1M436.6 198.8h1M432.1 207.1h1M441.9 200.2h1M444.3 211.0h1M438.0 202.1h1M436.7 205.0h1M427.8 192.7h1M437.6 206.1h1M444.0 188.9h1M445.9 192.0h1M441.1 205.6h1M431.8 206.1h1M437.5 202.7h1M439.6 196.0h1M433.1 192.6h1M441.6 207.4h1M433.7 196.9h1M438.7 198.2h1M440.5 208.6h1M432.4 204.8h1M436.0 209.7h1M429.3 211.5h1M437.6 204.7h1M436.1 190.8h1M439.9 210.7h1M443.0 203.7h1M432.0 194.3h1M442.7 203.4h1M440.0 201.3h1M434.8 206.9h1M432.3 210.1h1M440.4 209.1h1M441.6 212.6h1M438.3 208.9h1M441.2 207.0h1M438.8 195.7h1M444.0 215.3h1M440.9 211.4h1M437.3 195.1h1M448.6 204.5h1M434.3 207.5h1M434.2 209.6h1M442.5 203.1h1M441.6 195.9h1M443.0 203.9h1M434.5 205.8h1M437.7 206.0h1M443.1 207.1h1M438.4 203.4h1M438.7 210.6h1M431.2 208.2h1M440.5 192.6h1M436.2 204.4h1M445.9 205.8h1M436.0 206.9h1M441.4 207.3h1M451.7 206.3h1M432.4 211.7h1M434.8 216.8h1M442.0 203.5h1M439.2 206.0h1M445.1 209.8h1M440.1 198.0h1M440.1 210.1h1M440.1 202.9h1M433.5 217.5h1M439.4 205.1h1M439.3 201.7h1"/>
<path stroke="#16bcec" stroke-opacity="0.5" stroke-width="0.8" fill="none" d="M414.9 202.0h0.8M434.9 200.4h0.8M427.2 203.3h0.8M407.2 198.2h0.8M415.6 178.3h0.8M413.7 188.3h0.8M404.5 196.3h0.8M414.2 185.5h0.8M434.8 184.5h0.8M404.0 187.2h0.8M392.0 191.8h0.8M398.9 200.3h0.8M399.2 203.3h0.8M402.5 199.7h0.8M401.9 198.8h0.8M415.5 180.9h0.8M432.2 182.0h0.8M418.1 189.2h0.8M418.9 184.2h0.8M397.3 182.7h0.8M421.6 191.7h0.8M412.5 183.6h0.8M426.8 196.9h0.8M409.7 201.7h0.8M418.5 196.5h0.8M419.4 195.9h0.8M400.9 198.4h0.8M397.7 183.2h0.8M404.6 192.9h0.8M390.4 178.7h0.8M402.1 187.3h0.8M412.8 197.6h0.8M406.1 188.8h0.8M429.4 192.1h0.8M400.4 195.4h0.8M392.8 183.0h0.8M401.7 187.2h0.8M406.7 193.5h0.8M401.9 198.2h0.8M424.2 185.8h0.8M406.6 195.6h0.8M428.6 192.3h0.8M392.8 184.6h0.8M429.3 200.2h0.8M425.9 200.9h0.8M419.5 186.1h0.8M403.9 203.3h0.8M419.3 201.7h0.8M390.3 183.1h0.8M410.0 192.0h0.8M433.0 192.6h0.8M427.0 184.6h0.8M421.0 199.9h0.8M400.8 197.9h0.8M409.8 185.4h0.8M425.6 185.0h0.8M410.4 188.1h0.8M427.4 192.3h0.8M420.7 179.6h0.8M424.3 180.8h0.8M423.5 194.0h0.8M433.4 185.6h0.8M411.0 180.9h0.8M423.3 177.1h0.8M392.3 182.3h0.8M399.1 198.1h0.8M433.3 190.7h0.8M398.0 197.4h0.8M415.5 194.8h0.8M422.7 183.5h0.8M398.6 185.4h0.8M394.5 180.4h0.8M392.2 187.4h0.8M400.7 201.8h0.8M421.6 195.9h0.8M431.6 178.8h0.8M428.4 197.6h0.8M417.5 191.3h0.8M411.7 184.3h0.8M404.6 195.8h0.8M415.6 196.3h0.8M415.1 186.6h0.8M389.3 184.7h0.8M407.5 192.9h0.8M404.2 191.8h0.8M406.5 191.0h0.8M428.8 189.8h0.8M406.6 197.7h0.8M415.2 188.0h0.8M409.1 191.6h0.8M428.4 197.8h0.8M413.9 198.4h0.8M391.7 179.0h0.8M429.5 189.4h0.8M423.8 192.1h0.8M434.3 186.0h0.8M421.2 181.2h0.8M409.5 181.1h0.8M423.1 180.5h0.8M415.6 179.3h0.8M402.3 187.5h0.8M423.1 194.2h0.8M429.9 187.3h0.8M422.4 185.0h0.8M392.3 182.3h0.8M415.0 189.3h0.8M427.6 182.4h0.8M403.3 177.2h0.8M416.0 196.4h0.8M432.2 191.1h0.8M434.2 187.7h0.8M402.1 189.2h0.8M400.2 188.8h0.8M393.3 186.9h0.8M394.7 192.4h0.8M431.7 186.5h0.8M399.8 198.5h0.8M417.3 177.8h0.8M423.6 201.1h0.8M427.7 190.1h0.8M427.8 182.3h0.8M428.3 187.1h0.8M392.8 203.2h0.8M394.5 198.4h0.8M406.8 183.8h0.8M393.8 185.9h0.8M408.7 186.3h0.8M433.6 196.3h0.8M420.2 192.6h0.8M416.3 190.3h0.8M405.7 182.0h0.8M410.5 192.2h0.8M421.0 192.3h0.8M393.9 201.2h0.8M400.0 181.5h0.8M423.9 203.4h0.8M410.6 178.6h0.8M420.5 186.7h0.8M432.0 177.3h0.8M423.8 178.1h0.8M434.2 192.5h0.8M394.1 188.7h0.8M398.0 184.2h0.8M426.6 193.9h0.8M413.4 179.3h0.8M424.9 200.4h0.8M395.2 184.3h0.8M413.4 202.4h0.8M400.2 185.4h0.8M401.4 202.6h0.8"/>
<path stroke="#16bcec" stroke-opacity="0.5" stroke-width="0.8" fill="none" d="M389.7 237.8h0.8M394.7 232.4h0.8M388.2 239.1h0.8M391.1 220.6h0.8M386.1 224.6h0.8M391.4 223.8h0.8M392.5 239.7h0.8M388.5 210.1h0.8M387.9 240.2h0.8M389.0 216.8h0.8M393.8 231.2h0.8M394.3 231.7h0.8M393.8 238.4h0.8M397.6 220.4h0.8M391.4 235.2h0.8M392.5 238.0h0.8M391.1 214.7h0.8M386.6 219.3h0.8M395.0 205.4h0.8M395.9 229.3h0.8M399.0 215.7h0.8M386.7 205.0h0.8M398.0 210.6h0.8M390.3 224.4h0.8M400.0 237.1h0.8M396.3 235.9h0.8M397.4 227.6h0.8M394.5 227.3h0.8M398.8 204.9h0.8M399.4 222.8h0.8M391.8 224.2h0.8M387.9 202.0h0.8M398.4 202.9h0.8M390.2 221.8h0.8M397.9 224.4h0.8M387.1 239.0h0.8M391.9 210.1h0.8M398.6 240.0h0.8M399.6 235.4h0.8M396.3 216.4h0.8M399.0 215.5h0.8M399.6 240.0h0.8M399.8 216.7h0.8M391.8 234.2h0.8M394.3 231.7h0.8M395.0 217.1h0.8M389.3 231.9h0.8M392.4 236.1h0.8M387.8 221.0h0.8M391.2 235.7h0.8"/>
<path stroke="#3a2a80" stroke-opacity="0.75" stroke-width="1" fill="none" d="M428.8 193.3h1M424.8 196.1h1M426.3 206.8h1M418.9 187.5h1M413.4 192.3h1M427.7 188.9h1M421.4 191.4h1M409.3 184.2h1M409.6 190.6h1M422.9 189.9h1M432.9 191.1h1M416.2 186.2h1M419.6 195.0h1M426.3 193.7h1M419.5 192.3h1M428.2 187.1h1M409.1 185.6h1M414.2 199.7h1M422.7 197.8h1M425.0 192.1h1M431.2 186.5h1M419.4 190.8h1M412.1 190.5h1M421.7 195.8h1M430.0 186.0h1M415.5 196.8h1M419.2 197.7h1M406.4 195.9h1M418.5 193.0h1M425.4 191.1h1M408.2 189.6h1M410.2 204.6h1M404.3 195.2h1M408.6 195.8h1M413.1 182.8h1M414.9 197.3h1M431.8 203.4h1M436.6 194.0h1M423.9 194.6h1M419.4 188.9h1M417.7 193.7h1M411.3 188.9h1M412.0 194.5h1M419.6 194.6h1M421.3 196.6h1M408.9 189.9h1M419.5 204.0h1M406.9 192.1h1M405.5 200.0h1M415.9 193.1h1M420.5 193.2h1M425.0 198.7h1M427.8 184.5h1M409.1 193.2h1M420.4 196.6h1M411.1 191.8h1M414.6 195.1h1M415.4 203.9h1M420.7 191.0h1M421.0 201.0h1M415.6 185.8h1M422.2 194.4h1M416.7 196.2h1M427.1 193.5h1M439.0 190.1h1M417.6 183.4h1M432.2 198.5h1M426.1 187.5h1M435.8 207.0h1M419.1 182.1h1M423.3 186.7h1M417.1 200.6h1M416.3 197.2h1M423.2 197.4h1M425.3 193.2h1M417.7 192.1h1M405.5 198.1h1M413.3 189.4h1M408.4 191.6h1M412.3 195.1h1M413.6 195.7h1M417.6 194.1h1M409.4 193.6h1M408.2 192.8h1M404.8 192.4h1M419.0 197.0h1M420.2 196.4h1M424.0 187.5h1M415.5 177.2h1M425.1 201.5h1"/>
<path stroke="#b04080" stroke-opacity="0.6" stroke-width="0.9" fill="none" d="M413.8 189.9h0.9M421.8 186.1h0.9M417.9 195.2h0.9M419.5 192.2h0.9M418.1 186.6h0.9M429.4 185.1h0.9M422.2 191.9h0.9M421.6 203.5h0.9M417.6 191.3h0.9M415.5 191.2h0.9M408.1 185.1h0.9M414.5 193.3h0.9M418.7 196.2h0.9M404.4 190.7h0.9M415.8 188.7h0.9M426.3 191.4h0.9M424.2 186.3h0.9M418.1 192.3h0.9M416.1 189.6h0.9M424.5 191.9h0.9M417.0 190.1h0.9M418.7 186.5h0.9M425.5 190.5h0.9M426.2 199.6h0.9M422.0 197.8h0.9"/>
<path stroke="#c030e0" stroke-opacity="0.8" stroke-width="1" fill="none" d="M460.6 210.3h1M466.0 210.7h1M458.5 216.4h1M457.2 213.7h1M464.8 207.7h1M458.2 210.4h1M448.7 213.7h1M449.4 207.4h1M459.1 209.6h1M459.0 211.6h1M467.5 215.8h1M465.3 211.4h1M462.1 204.1h1M464.2 212.5h1M461.0 209.0h1M465.4 215.8h1M451.3 215.3h1M450.0 206.2h1M459.1 213.1h1M460.4 211.2h1M463.2 214.3h1M449.9 208.5h1M460.6 215.9h1M467.5 206.6h1M456.8 219.3h1M467.0 211.0h1M459.3 212.6h1M457.7 224.9h1M455.6 209.0h1M460.0 216.3h1M456.5 205.7h1M466.4 209.2h1M465.6 207.6h1M463.6 217.0h1M466.3 215.5h1M459.2 214.5h1M460.6 209.3h1M468.2 211.2h1M448.3 209.9h1M467.9 211.5h1M456.6 216.3h1M456.7 211.8h1M464.4 214.2h1M475.9 214.6h1M461.7 208.9h1M463.5 211.7h1M474.4 212.4h1M455.1 209.4h1M469.0 215.7h1M459.7 207.1h1M457.1 213.1h1M454.2 207.8h1M453.0 218.7h1M451.4 216.8h1M449.1 206.9h1M452.7 216.6h1M469.8 206.2h1M447.5 224.0h1M466.8 216.2h1M452.0 217.6h1M454.1 219.6h1M457.1 209.6h1M453.1 218.0h1M452.4 209.4h1M457.5 211.4h1M455.1 220.2h1M469.1 214.1h1M443.6 208.5h1M448.5 214.6h1M460.7 216.4h1M461.1 221.4h1M460.7 218.5h1M453.7 208.0h1M461.8 213.5h1M461.7 214.1h1M465.4 211.4h1M459.1 217.6h1M456.5 212.5h1M456.9 205.6h1M459.5 208.2h1M457.6 211.2h1M463.5 217.4h1M467.3 211.3h1M467.4 204.0h1M467.9 217.0h1M453.6 217.1h1M453.2 212.1h1M460.7 212.1h1M457.2 206.2h1M457.1 216.0h1M460.2 213.2h1M445.1 212.6h1M473.1 215.3h1M458.6 206.3h1M459.8 217.3h1M461.0 215.3h1M450.7 215.9h1M463.6 208.8h1M456.6 218.7h1M458.5 211.2h1M457.7 212.8h1M450.5 212.6h1M471.1 207.6h1M467.0 211.6h1M460.6 215.2h1M466.7 213.8h1M456.4 213.2h1M465.2 208.7h1M473.6 201.4h1M451.5 209.7h1M463.4 209.2h1M466.3 208.8h1M455.2 210.7h1M463.2 217.7h1M458.3 214.0h1M455.2 211.9h1M465.1 214.1h1M453.6 211.0h1M469.0 203.6h1M462.7 207.7h1M466.7 217.9h1M455.6 215.6h1M452.9 216.0h1M463.7 211.5h1M465.4 211.7h1M463.3 211.0h1M439.5 211.2h1M462.3 213.4h1M462.0 217.5h1M457.8 210.3h1M458.3 217.8h1M467.9 219.6h1M468.4 216.4h1M456.7 219.1h1M458.3 214.1h1M461.7 213.0h1M460.0 211.4h1M454.8 213.7h1M470.6 213.0h1M457.3 220.7h1M457.6 205.8h1M450.4 205.7h1M465.8 210.9h1M457.7 213.6h1M462.8 219.0h1M454.4 213.8h1M460.7 218.7h1M453.2 215.1h1M463.9 208.1h1M459.2 210.0h1M469.6 206.6h1M469.1 208.5h1M451.2 215.1h1M451.1 210.0h1M466.3 213.3h1M473.5 208.3h1M457.8 209.8h1M467.1 207.9h1M459.5 213.1h1M446.9 214.9h1M462.1 213.8h1M455.0 215.4h1M441.6 215.1h1M463.2 215.2h1M472.6 211.8h1M460.3 215.1h1M472.6 210.2h1M468.2 215.1h1M452.0 212.7h1M459.6 207.4h1M460.0 218.2h1M461.8 211.3h1M458.2 214.4h1M458.5 208.1h1M461.8 205.6h1M454.9 218.8h1M460.9 214.8h1M457.6 206.7h1M458.4 204.8h1M475.8 201.5h1M463.7 210.3h1M452.2 218.1h1M457.4 208.7h1M442.4 215.5h1M475.0 214.3h1M450.8 219.9h1M462.4 213.5h1M467.2 204.8h1M457.4 220.9h1M457.3 211.5h1M450.7 214.2h1M468.3 218.0h1M465.9 210.6h1M459.5 216.4h1M459.9 211.0h1M445.7 212.6h1M458.7 211.5h1M460.9 217.0h1M444.9 217.9h1M457.6 205.1h1M462.6 211.2h1M447.6 215.8h1M463.0 210.0h1M463.8 208.3h1M461.2 211.8h1M463.1 206.4h1M476.2 201.4h1M471.1 209.9h1M462.2 216.6h1M453.6 207.8h1M470.7 218.3h1M480.3 209.8h1M443.2 219.2h1M467.6 212.0h1M467.2 214.9h1M465.6 210.3h1M450.4 212.2h1M467.1 216.0h1M471.8 211.5h1M454.6 216.7h1M453.8 216.9h1M454.6 217.4h1M465.3 208.5h1M465.1 213.7h1M458.8 213.7h1M458.8 205.3h1M460.4 223.3h1M462.8 203.9h1M464.7 213.9h1M463.5 214.8h1M471.4 218.6h1M471.8 210.4h1M446.9 208.6h1M467.0 212.1h1M462.5 218.2h1M451.6 209.5h1M455.8 214.5h1M453.3 214.5h1M458.5 212.2h1M457.5 206.3h1M466.6 214.8h1M447.4 213.4h1M464.3 212.3h1M449.5 215.3h1M456.9 219.0h1M467.7 217.0h1M456.1 216.3h1M456.6 216.3h1M458.8 208.2h1M455.7 212.8h1M465.1 205.0h1M479.2 209.1h1M462.5 213.2h1M458.0 212.7h1M469.1 203.7h1M464.6 215.6h1M468.5 203.1h1M461.5 204.1h1M457.2 213.8h1M461.0 210.9h1M466.3 214.7h1M461.7 208.6h1M458.6 214.5h1M465.9 211.5h1M451.3 212.5h1M460.9 206.1h1M458.3 210.8h1M468.2 215.1h1M455.2 220.1h1M471.8 207.2h1M458.9 210.2h1M453.8 207.4h1M441.4 218.0h1M471.2 204.1h1M464.3 208.3h1M461.4 211.0h1M464.8 213.4h1M466.1 214.4h1M469.2 205.2h1M458.0 218.0h1M455.3 218.2h1M463.2 216.8h1M462.5 211.5h1M459.6 205.3h1M464.5 211.8h1M468.9 212.4h1M454.0 214.2h1M464.7 211.6h1M468.0 210.8h1M460.7 205.9h1M467.8 215.8h1M455.6 209.5h1M461.0 220.6h1M474.5 209.4h1M453.3 211.3h1M451.1 210.8h1M465.3 212.4h1M458.1 214.9h1M466.5 218.7h1M457.5 220.8h1M469.0 207.4h1M465.2 209.3h1M470.5 211.8h1M459.7 218.1h1M462.6 208.4h1M462.3 216.8h1M462.8 209.7h1M460.9 215.8h1M471.5 207.4h1M466.8 214.5h1M471.0 216.6h1M454.3 214.4h1M464.3 214.5h1M469.7 214.0h1M454.4 209.3h1M462.2 214.7h1M450.6 213.9h1M463.5 212.2h1M467.4 206.4h1M463.7 210.9h1M473.9 201.6h1M467.8 203.6h1M464.9 212.1h1M451.4 211.3h1M463.7 215.5h1M462.1 206.6h1M459.5 219.8h1M457.2 203.8h1M453.6 207.9h1M452.7 219.5h1M455.9 211.0h1M461.1 210.5h1M454.8 206.6h1M455.5 215.9h1M463.5 209.0h1M450.8 210.7h1M463.3 209.2h1M460.5 216.0h1M450.3 211.1h1M456.1 219.7h1M457.4 211.5h1M450.1 218.3h1M461.9 212.3h1M457.2 205.0h1M464.5 216.0h1M457.3 213.3h1M464.3 207.9h1M462.8 217.7h1M453.7 222.3h1M466.1 204.1h1M451.4 216.6h1M461.1 208.8h1M471.6 213.9h1M465.6 203.5h1M460.4 221.8h1M450.5 216.2h1M465.7 214.4h1M455.8 206.1h1M458.5 217.6h1M466.3 208.5h1M465.9 214.7h1M454.6 210.4h1M460.0 213.3h1M474.7 210.2h1M460.7 218.2h1M455.8 209.2h1M459.6 207.6h1M443.9 218.2h1M451.8 210.3h1M462.8 217.0h1M460.9 210.6h1M449.7 212.8h1M461.9 216.1h1M468.7 213.9h1M457.3 209.2h1M454.1 215.4h1M451.3 213.6h1M465.9 212.3h1M459.6 207.6h1M463.9 213.1h1M465.1 209.7h1M456.5 208.1h1M450.4 215.3h1M460.1 211.2h1M455.9 219.9h1M451.6 217.0h1M457.4 213.4h1M460.1 208.9h1M466.3 210.8h1M461.3 211.8h1M457.4 224.3h1M457.1 210.6h1M476.2 203.1h1M467.9 220.4h1M464.0 213.1h1M461.5 205.0h1M467.7 215.4h1M460.3 208.4h1M466.3 216.7h1M461.6 208.5h1M461.6 208.5h1M449.0 217.8h1M452.9 206.3h1M462.8 211.2h1M462.4 215.0h1M457.9 213.8h1M464.6 214.5h1M453.3 210.8h1M469.7 217.8h1M462.7 212.5h1M449.6 220.6h1M461.9 208.8h1M464.3 209.1h1M459.0 212.7h1M466.9 219.0h1M460.6 208.4h1M462.2 208.8h1M452.1 209.7h1M454.1 204.2h1M460.4 209.0h1M466.2 204.9h1M456.8 207.4h1M458.7 210.7h1M466.2 211.7h1M462.3 208.0h1M457.9 209.1h1M453.7 209.5h1M455.7 212.1h1M448.2 216.3h1M457.2 212.1h1M474.4 222.3h1M445.1 213.1h1M456.8 208.7h1M461.9 211.0h1M462.4 213.4h1M465.9 212.2h1M461.2 209.7h1M463.2 214.9h1M458.3 212.8h1M461.7 212.8h1M449.8 214.9h1M460.0 205.7h1M460.3 212.8h1M449.7 223.4h1M464.0 216.4h1M458.6 213.3h1M453.1 212.7h1M459.6 214.7h1M469.2 202.0h1M459.8 217.3h1"/>
<path stroke="#c060e8" stroke-opacity="0.5" stroke-width="0.8" fill="none" d="M459.2 203.1h0.8M483.8 215.4h0.8M474.9 209.0h0.8M464.8 208.5h0.8M475.0 213.8h0.8M453.5 222.7h0.8M460.9 213.7h0.8M464.0 213.3h0.8M469.3 219.5h0.8M460.2 214.7h0.8M479.0 214.7h0.8M449.6 225.9h0.8M479.3 211.4h0.8M454.6 201.3h0.8M466.4 212.5h0.8M445.0 215.2h0.8M461.5 211.0h0.8M475.8 195.1h0.8M460.1 207.0h0.8M476.4 217.0h0.8M482.4 203.2h0.8M491.5 203.9h0.8M489.7 194.6h0.8M453.7 213.1h0.8M455.5 199.9h0.8M461.2 196.4h0.8M457.0 215.2h0.8M449.2 214.8h0.8M457.8 208.4h0.8M469.5 201.7h0.8M473.2 198.0h0.8M468.8 205.9h0.8M462.9 203.9h0.8M458.4 209.9h0.8M463.0 209.8h0.8M484.1 205.1h0.8M451.5 222.1h0.8M470.3 197.3h0.8M483.1 204.5h0.8M466.4 207.2h0.8M461.2 211.2h0.8M471.0 217.6h0.8M474.4 210.7h0.8M461.7 204.4h0.8M459.7 218.3h0.8M467.8 204.7h0.8M467.4 220.4h0.8M472.7 211.0h0.8M480.7 206.3h0.8M450.5 214.1h0.8M462.7 215.8h0.8M461.5 209.7h0.8M462.8 206.4h0.8M450.8 204.6h0.8M471.1 208.7h0.8M462.8 214.2h0.8M464.2 195.5h0.8M456.6 199.5h0.8M480.9 197.6h0.8M477.6 201.3h0.8M456.6 206.1h0.8M445.1 225.8h0.8M444.6 214.0h0.8M458.0 211.8h0.8M474.3 194.9h0.8M463.6 206.0h0.8M466.4 208.5h0.8M458.4 221.0h0.8M465.0 208.3h0.8M461.9 208.4h0.8M469.9 209.6h0.8M459.2 208.1h0.8M439.7 211.3h0.8M466.0 210.8h0.8M458.9 222.6h0.8M474.5 202.5h0.8M471.3 200.0h0.8M468.7 208.1h0.8M446.4 224.3h0.8M444.5 219.1h0.8M464.5 217.0h0.8M475.1 208.5h0.8M427.0 214.8h0.8M494.5 205.5h0.8M456.1 221.1h0.8M479.1 204.9h0.8M471.6 214.3h0.8M484.6 198.5h0.8M464.8 200.4h0.8M472.6 205.2h0.8M439.7 224.2h0.8M479.3 218.7h0.8M464.5 198.9h0.8M450.3 224.0h0.8M462.9 202.9h0.8M460.5 208.1h0.8M480.3 211.1h0.8M452.8 216.8h0.8M475.7 203.1h0.8M460.6 204.4h0.8M468.4 198.8h0.8M460.2 211.2h0.8M461.3 214.9h0.8M466.8 214.0h0.8M479.1 213.3h0.8M492.8 197.6h0.8M477.0 201.2h0.8M455.9 208.7h0.8M469.6 204.6h0.8M458.6 210.7h0.8M467.1 223.3h0.8M463.4 208.4h0.8M463.2 205.4h0.8M454.5 214.1h0.8M470.1 205.5h0.8M459.9 218.3h0.8M442.7 208.6h0.8M468.2 222.9h0.8M462.8 221.6h0.8M458.5 197.6h0.8M484.0 209.7h0.8M456.1 209.9h0.8M479.3 205.9h0.8M478.1 211.5h0.8M460.6 209.8h0.8M478.4 220.6h0.8M464.2 201.1h0.8M465.0 201.3h0.8M465.1 212.8h0.8M458.3 208.5h0.8M458.8 215.2h0.8M470.8 207.9h0.8M456.8 201.7h0.8M439.8 216.3h0.8M469.2 196.4h0.8M466.9 211.2h0.8M474.8 213.3h0.8M467.8 220.3h0.8M463.8 201.6h0.8M461.3 211.8h0.8M476.2 207.8h0.8M464.8 202.3h0.8M461.5 214.9h0.8M445.3 221.3h0.8M470.1 204.7h0.8M471.2 214.0h0.8M475.5 213.9h0.8M455.4 210.4h0.8M448.7 202.5h0.8M472.7 209.8h0.8"/>
<path d="M435 169.5V272M386 226.3H517" stroke="#c4c4c4" stroke-width="0.8" fill="none"/>
<g fill="none" stroke="#3a3a3a" stroke-width="1">
<ellipse cx="411.3" cy="198.3" rx="22.9" ry="22.7"/>
<ellipse cx="463.4" cy="209.9" rx="28.6" ry="14.5" transform="rotate(-18 463.4 209.9)"/>
</g>
<path d="M437.0 273.3v2.8M447.7 273.3v1.8M453.9 273.3v1.8M458.4 273.3v1.8M461.8 273.3v1.8M464.6 273.3v1.8M467.0 273.3v1.8M469.1 273.3v1.8M470.9 273.3v1.8M472.5 273.3v2.8M481.8 273.3v1.8M487.2 273.3v1.8M491.0 273.3v1.8M494.0 273.3v1.8M496.5 273.3v1.8M498.5 273.3v1.8M500.3 273.3v1.8M501.9 273.3v1.8M503.3 273.3v2.8" stroke="#555" stroke-width="0.6" fill="none"/>
<path d="M388.0 273.3v1.8M391.8 273.3v1.8M395.5 273.3v1.8M399.2 273.3v1.8M403.0 273.3v1.8M406.8 273.3v1.8M410.5 273.3v1.8M414.2 273.3v1.8M418.0 273.3v1.8M421.8 273.3v1.8M425.5 273.3v1.8M429.2 273.3v1.8M433.0 273.3v1.8" stroke="#555" stroke-width="0.6" fill="none"/>
<path d="M384.4 180.0h-2.8M384.4 186.7h-1.8M384.4 190.6h-1.8M384.4 193.4h-1.8M384.4 195.6h-1.8M384.4 197.4h-1.8M384.4 198.8h-1.8M384.4 200.1h-1.8M384.4 201.3h-1.8M384.4 202.3h-2.8M384.4 209.3h-1.8M384.4 213.5h-1.8M384.4 216.4h-1.8M384.4 218.7h-1.8M384.4 220.5h-1.8M384.4 222.1h-1.8M384.4 223.4h-1.8M384.4 224.6h-1.8M384.4 225.7h-2.8M384.4 232.4h-1.8M384.4 236.3h-1.8M384.4 239.1h-1.8M384.4 241.3h-1.8M384.4 243.1h-1.8M384.4 244.5h-1.8M384.4 245.8h-1.8M384.4 247.0h-1.8M384.4 248.0h-2.8M384.4 253.4h-1.8M384.4 256.6h-1.8M384.4 258.8h-1.8M384.4 260.6h-1.8M384.4 262.0h-1.8M384.4 263.2h-1.8M384.4 264.3h-1.8M384.4 265.2h-1.8M384.4 266.0h-2.8" stroke="#555" stroke-width="0.6" fill="none"/>
<rect x="385" y="168.4" width="132.8" height="104.3" fill="none" stroke="#3a3a3a" stroke-width="1.3"/>
<text x="403.1" y="184.3" font-size="8.6" text-anchor="start" font-weight="bold" fill="#a22230" textLength="10.9" lengthAdjust="spacingAndGlyphs" stroke="#a22230" stroke-width="0.35">EC</text>
<text x="488.8" y="222.4" font-size="8.9" text-anchor="start" font-weight="bold" fill="#a22230" textLength="9.5" lengthAdjust="spacingAndGlyphs" stroke="#a22230" stroke-width="0.35">LC</text>
<text x="379.8" y="183" font-size="6.5" fill="#111" stroke="#111" stroke-width="0.1" transform="rotate(-90 379.8 183)">10<tspan font-size="4.6" dy="-5.2">5</tspan></text>
<text x="379.8" y="205" font-size="6.5" fill="#111" stroke="#111" stroke-width="0.1" transform="rotate(-90 379.8 205)">10<tspan font-size="4.6" dy="-5.2">4</tspan></text>
<text x="379.5" y="228.6" font-size="6.5" fill="#111" stroke="#111" stroke-width="0.1" transform="rotate(-90 379.5 228.6)">10<tspan font-size="4.6" dy="-5.2">3</tspan></text>
<text x="379.5" y="251.1" font-size="6.5" fill="#111" stroke="#111" stroke-width="0.1" transform="rotate(-90 379.5 251.1)">10<tspan font-size="4.6" dy="-5.2">2</tspan></text>
<text x="379.5" y="268.5" font-size="6.5" fill="#111" stroke="#111" stroke-width="0.1" transform="rotate(-90 379.5 268.5)">10<tspan font-size="4.6" dy="-5.2">1</tspan></text>
<text x="372.2" y="272" font-size="6.2" text-anchor="middle" fill="#111" transform="rotate(-90 372.2 272)">0</text>
<text x="364.9" y="220.6" font-size="8.7" text-anchor="middle" fill="#1a1a1a" transform="rotate(-90 364.9 220.6)" textLength="21.9" lengthAdjust="spacingAndGlyphs" stroke="#1a1a1a" stroke-width="0.1">CD31</text>
<text x="376.1" y="282.1" font-size="7.4" text-anchor="start" font-weight="bold" fill="#1414b4" textLength="5.9" lengthAdjust="spacingAndGlyphs" stroke="#1414b4" stroke-width="0.25">M</text>
<text x="374.6" y="290.8" font-size="6.6" text-anchor="start" fill="#111" textLength="20" lengthAdjust="spacingAndGlyphs">-1,308</text>
<text x="413.6" y="285.7" font-size="6.4" text-anchor="middle" fill="#111">0</text>
<text x="433.8" y="285.7" font-size="6.5" fill="#111" stroke="#111" stroke-width="0.1">10<tspan font-size="4.6" dy="-4.9">3</tspan></text>
<text x="469.2" y="285.7" font-size="6.5" fill="#111" stroke="#111" stroke-width="0.1">10<tspan font-size="4.6" dy="-4.9">4</tspan></text>
<text x="500" y="285.7" font-size="6.5" fill="#111" stroke="#111" stroke-width="0.1">10<tspan font-size="4.6" dy="-4.9">5</tspan></text>
<text x="451.2" y="295.3" font-size="8.7" text-anchor="middle" fill="#1a1a1a" textLength="22.3" lengthAdjust="spacingAndGlyphs" stroke="#1a1a1a" stroke-width="0.1">CD8a</text>
</svg>
</body></html>
